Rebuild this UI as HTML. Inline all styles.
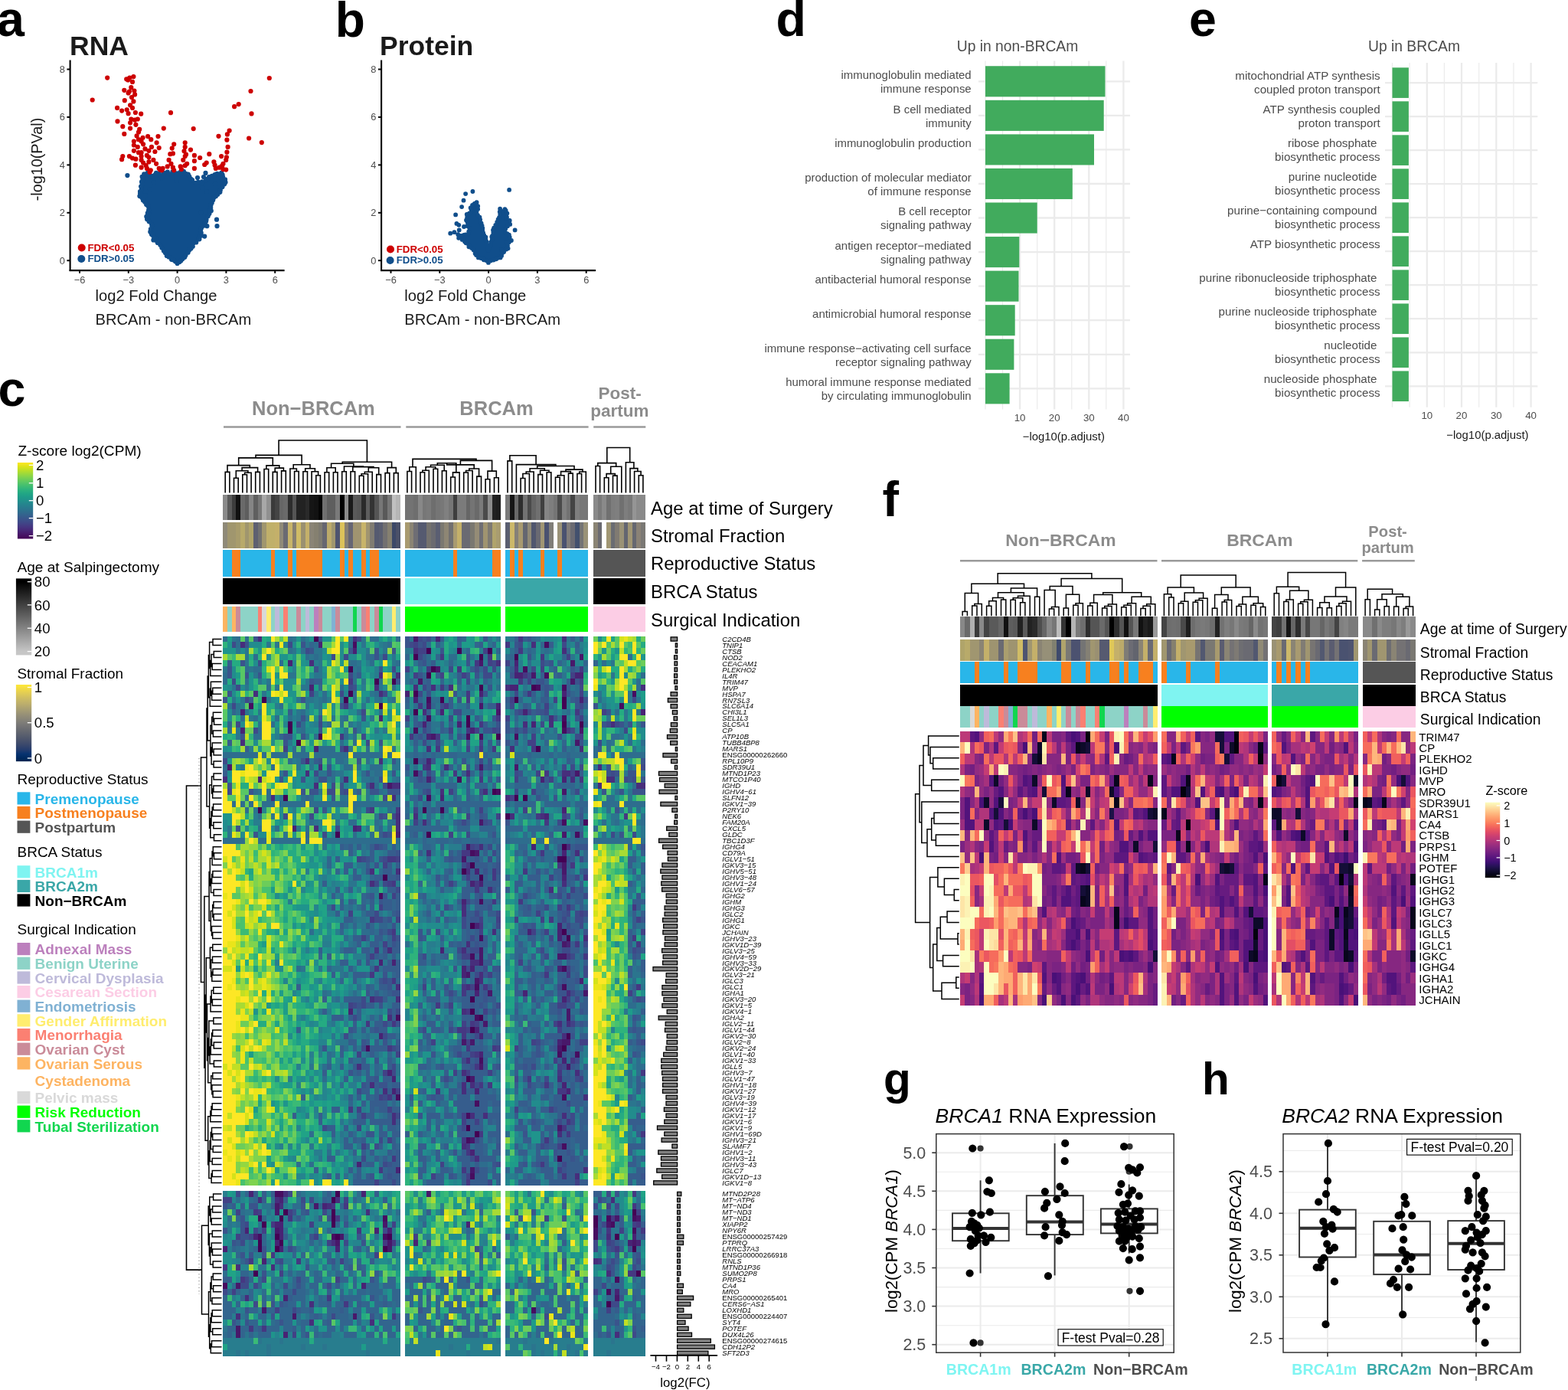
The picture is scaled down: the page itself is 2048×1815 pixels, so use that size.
<!DOCTYPE html>
<html><head><meta charset="utf-8"><title>Figure</title>
<style>html,body{margin:0;padding:0;background:#fff;} svg{display:block;} text{font-family:"Liberation Sans",Arial,sans-serif;}</style>
</head><body>
<svg xmlns="http://www.w3.org/2000/svg" width="2048" height="1815" viewBox="0 0 2048 1815" font-family="Liberation Sans, Arial, sans-serif">
<rect width="2048" height="1815" fill="#fff"/>
<text x="-4.0" y="47.2" font-size="64.5" font-weight="bold">a</text>
<text x="91.0" y="71.7" font-size="35.5" fill="#1a1a1a" font-weight="bold">RNA</text>
<text x="55.0" y="208.0" font-size="19.8" fill="#1a1a1a" text-anchor="middle" transform="rotate(-90 55 208)">-log10(PVal)</text>
<line x1="91.6" y1="78.5" x2="91.6" y2="354.1" stroke="#000" stroke-width="2.1" />
<line x1="90.6" y1="353.1" x2="371.6" y2="353.1" stroke="#000" stroke-width="2.1" />
<line x1="87.4" y1="340.2" x2="91.6" y2="340.2" stroke="#000" stroke-width="2" />
<text x="84.8" y="344.7" font-size="12.8" fill="#4d4d4d" text-anchor="end">0</text>
<line x1="87.4" y1="277.8" x2="91.6" y2="277.8" stroke="#000" stroke-width="2" />
<text x="84.8" y="282.3" font-size="12.8" fill="#4d4d4d" text-anchor="end">2</text>
<line x1="87.4" y1="215.4" x2="91.6" y2="215.4" stroke="#000" stroke-width="2" />
<text x="84.8" y="219.9" font-size="12.8" fill="#4d4d4d" text-anchor="end">4</text>
<line x1="87.4" y1="152.9" x2="91.6" y2="152.9" stroke="#000" stroke-width="2" />
<text x="84.8" y="157.4" font-size="12.8" fill="#4d4d4d" text-anchor="end">6</text>
<line x1="87.4" y1="90.5" x2="91.6" y2="90.5" stroke="#000" stroke-width="2" />
<text x="84.8" y="95.0" font-size="12.8" fill="#4d4d4d" text-anchor="end">8</text>
<line x1="104.0" y1="353.1" x2="104.0" y2="356.8" stroke="#000" stroke-width="2" />
<text x="104.0" y="370.2" font-size="12.8" fill="#4d4d4d" text-anchor="middle">−6</text>
<line x1="167.8" y1="353.1" x2="167.8" y2="356.8" stroke="#000" stroke-width="2" />
<text x="167.8" y="370.2" font-size="12.8" fill="#4d4d4d" text-anchor="middle">−3</text>
<line x1="231.6" y1="353.1" x2="231.6" y2="356.8" stroke="#000" stroke-width="2" />
<text x="231.6" y="370.2" font-size="12.8" fill="#4d4d4d" text-anchor="middle">0</text>
<line x1="295.4" y1="353.1" x2="295.4" y2="356.8" stroke="#000" stroke-width="2" />
<text x="295.4" y="370.2" font-size="12.8" fill="#4d4d4d" text-anchor="middle">3</text>
<line x1="359.2" y1="353.1" x2="359.2" y2="356.8" stroke="#000" stroke-width="2" />
<text x="359.2" y="370.2" font-size="12.8" fill="#4d4d4d" text-anchor="middle">6</text>
<text x="204.0" y="393.3" font-size="19.6" fill="#1a1a1a" text-anchor="middle" textLength="159" lengthAdjust="spacingAndGlyphs">log2 Fold Change</text>
<text x="226.4" y="423.6" font-size="19.6" fill="#1a1a1a" text-anchor="middle" textLength="203.8" lengthAdjust="spacingAndGlyphs">BRCAm - non-BRCAm</text>
<path fill="#CD0000" d="M101.7 323.5a5.0 5.0 0 1 0 10.0 0a5.0 5.0 0 1 0 -10.0 0"/>
<path fill="#104E8B" d="M101.3 338.0a5.0 5.0 0 1 0 10.0 0a5.0 5.0 0 1 0 -10.0 0"/>
<text x="114.4" y="327.7" font-size="13.3" fill="#CD0000" font-weight="bold">FDR&lt;0.05</text>
<text x="114.4" y="342.4" font-size="13.3" fill="#104E8B" font-weight="bold">FDR&gt;0.05</text>
<path fill="#104E8B" d="M231.6 343.8 L224.0 338.0 L217.5 333.8 L210.4 320.6 L206.9 317.0 L201.6 308.3 L197.2 303.0 L198.1 292.5 L192.0 286.3 L192.0 279.3 L194.6 273.0 L189.3 263.4 L182.3 256.4 L184.9 244.0 L185.8 231.0 L188.4 226.4 L193.0 226.0 L197.0 231.0 L200.0 230.0 L204.0 225.5 L208.0 226.0 L212.0 232.0 L215.0 227.0 L219.0 225.0 L223.0 226.0 L226.0 224.5 L230.0 226.0 L231.5 236.0 L233.0 226.0 L236.0 224.5 L240.0 225.0 L243.0 226.5 L247.0 227.0 L251.0 236.0 L255.0 238.0 L259.0 238.0 L264.0 238.0 L268.0 236.0 L271.0 234.0 L276.0 230.0 L280.0 228.0 L284.0 227.0 L289.7 225.5 L294.1 237.9 L287.1 251.0 L277.4 261.6 L273.9 274.9 L270.3 286.3 L263.3 296.9 L261.5 310.0 L253.6 318.9 L245.7 330.3 L236.9 340.9Z"/>
<path fill="#104E8B" d="M228.5 344.0a3.1 3.1 0 1 0 6.2 0a3.1 3.1 0 1 0 -6.2 0M225.8 341.3a3.1 3.1 0 1 0 6.2 0a3.1 3.1 0 1 0 -6.2 0M223.2 339.3a3.1 3.1 0 1 0 6.2 0a3.1 3.1 0 1 0 -6.2 0M220.9 338.8a3.1 3.1 0 1 0 6.2 0a3.1 3.1 0 1 0 -6.2 0M217.4 335.5a3.1 3.1 0 1 0 6.2 0a3.1 3.1 0 1 0 -6.2 0M214.7 334.0a3.1 3.1 0 1 0 6.2 0a3.1 3.1 0 1 0 -6.2 0M212.7 329.9a3.1 3.1 0 1 0 6.2 0a3.1 3.1 0 1 0 -6.2 0M210.8 327.6a3.1 3.1 0 1 0 6.2 0a3.1 3.1 0 1 0 -6.2 0M208.3 323.6a3.1 3.1 0 1 0 6.2 0a3.1 3.1 0 1 0 -6.2 0M206.2 319.8a3.1 3.1 0 1 0 6.2 0a3.1 3.1 0 1 0 -6.2 0M202.7 316.9a3.1 3.1 0 1 0 6.2 0a3.1 3.1 0 1 0 -6.2 0M201.3 314.3a3.1 3.1 0 1 0 6.2 0a3.1 3.1 0 1 0 -6.2 0M200.4 311.1a3.1 3.1 0 1 0 6.2 0a3.1 3.1 0 1 0 -6.2 0M197.0 308.0a3.1 3.1 0 1 0 6.2 0a3.1 3.1 0 1 0 -6.2 0M196.3 305.7a3.1 3.1 0 1 0 6.2 0a3.1 3.1 0 1 0 -6.2 0M193.2 302.7a3.1 3.1 0 1 0 6.2 0a3.1 3.1 0 1 0 -6.2 0M193.8 299.0a3.1 3.1 0 1 0 6.2 0a3.1 3.1 0 1 0 -6.2 0M195.3 295.5a3.1 3.1 0 1 0 6.2 0a3.1 3.1 0 1 0 -6.2 0M195.0 293.0a3.1 3.1 0 1 0 6.2 0a3.1 3.1 0 1 0 -6.2 0M191.6 289.3a3.1 3.1 0 1 0 6.2 0a3.1 3.1 0 1 0 -6.2 0M189.0 286.3a3.1 3.1 0 1 0 6.2 0a3.1 3.1 0 1 0 -6.2 0M188.2 282.8a3.1 3.1 0 1 0 6.2 0a3.1 3.1 0 1 0 -6.2 0M189.7 278.4a3.1 3.1 0 1 0 6.2 0a3.1 3.1 0 1 0 -6.2 0M190.7 276.2a3.1 3.1 0 1 0 6.2 0a3.1 3.1 0 1 0 -6.2 0M191.1 274.2a3.1 3.1 0 1 0 6.2 0a3.1 3.1 0 1 0 -6.2 0M190.2 269.1a3.1 3.1 0 1 0 6.2 0a3.1 3.1 0 1 0 -6.2 0M188.0 266.9a3.1 3.1 0 1 0 6.2 0a3.1 3.1 0 1 0 -6.2 0M186.1 263.8a3.1 3.1 0 1 0 6.2 0a3.1 3.1 0 1 0 -6.2 0M183.8 261.5a3.1 3.1 0 1 0 6.2 0a3.1 3.1 0 1 0 -6.2 0M182.4 258.3a3.1 3.1 0 1 0 6.2 0a3.1 3.1 0 1 0 -6.2 0M179.3 256.1a3.1 3.1 0 1 0 6.2 0a3.1 3.1 0 1 0 -6.2 0M179.9 252.6a3.1 3.1 0 1 0 6.2 0a3.1 3.1 0 1 0 -6.2 0M180.2 250.1a3.1 3.1 0 1 0 6.2 0a3.1 3.1 0 1 0 -6.2 0M181.7 247.8a3.1 3.1 0 1 0 6.2 0a3.1 3.1 0 1 0 -6.2 0M181.0 243.5a3.1 3.1 0 1 0 6.2 0a3.1 3.1 0 1 0 -6.2 0M182.4 239.6a3.1 3.1 0 1 0 6.2 0a3.1 3.1 0 1 0 -6.2 0M182.0 237.4a3.1 3.1 0 1 0 6.2 0a3.1 3.1 0 1 0 -6.2 0M183.2 234.7a3.1 3.1 0 1 0 6.2 0a3.1 3.1 0 1 0 -6.2 0M182.5 230.8a3.1 3.1 0 1 0 6.2 0a3.1 3.1 0 1 0 -6.2 0M185.1 227.3a3.1 3.1 0 1 0 6.2 0a3.1 3.1 0 1 0 -6.2 0M189.6 225.8a3.1 3.1 0 1 0 6.2 0a3.1 3.1 0 1 0 -6.2 0M192.1 228.4a3.1 3.1 0 1 0 6.2 0a3.1 3.1 0 1 0 -6.2 0M193.8 230.3a3.1 3.1 0 1 0 6.2 0a3.1 3.1 0 1 0 -6.2 0M196.9 229.7a3.1 3.1 0 1 0 6.2 0a3.1 3.1 0 1 0 -6.2 0M199.6 228.1a3.1 3.1 0 1 0 6.2 0a3.1 3.1 0 1 0 -6.2 0M200.9 225.9a3.1 3.1 0 1 0 6.2 0a3.1 3.1 0 1 0 -6.2 0M204.7 226.6a3.1 3.1 0 1 0 6.2 0a3.1 3.1 0 1 0 -6.2 0M206.9 229.4a3.1 3.1 0 1 0 6.2 0a3.1 3.1 0 1 0 -6.2 0M208.1 232.2a3.1 3.1 0 1 0 6.2 0a3.1 3.1 0 1 0 -6.2 0M210.9 225.8a3.1 3.1 0 1 0 6.2 0a3.1 3.1 0 1 0 -6.2 0M215.7 224.5a3.1 3.1 0 1 0 6.2 0a3.1 3.1 0 1 0 -6.2 0M220.0 227.3a3.1 3.1 0 1 0 6.2 0a3.1 3.1 0 1 0 -6.2 0M222.4 224.1a3.1 3.1 0 1 0 6.2 0a3.1 3.1 0 1 0 -6.2 0M227.0 226.3a3.1 3.1 0 1 0 6.2 0a3.1 3.1 0 1 0 -6.2 0M227.3 229.2a3.1 3.1 0 1 0 6.2 0a3.1 3.1 0 1 0 -6.2 0M228.3 233.0a3.1 3.1 0 1 0 6.2 0a3.1 3.1 0 1 0 -6.2 0M227.8 236.0a3.1 3.1 0 1 0 6.2 0a3.1 3.1 0 1 0 -6.2 0M228.9 232.0a3.1 3.1 0 1 0 6.2 0a3.1 3.1 0 1 0 -6.2 0M229.6 228.8a3.1 3.1 0 1 0 6.2 0a3.1 3.1 0 1 0 -6.2 0M230.5 226.1a3.1 3.1 0 1 0 6.2 0a3.1 3.1 0 1 0 -6.2 0M233.0 224.1a3.1 3.1 0 1 0 6.2 0a3.1 3.1 0 1 0 -6.2 0M236.8 223.8a3.1 3.1 0 1 0 6.2 0a3.1 3.1 0 1 0 -6.2 0M239.2 226.7a3.1 3.1 0 1 0 6.2 0a3.1 3.1 0 1 0 -6.2 0M242.6 227.5a3.1 3.1 0 1 0 6.2 0a3.1 3.1 0 1 0 -6.2 0M244.2 230.5a3.1 3.1 0 1 0 6.2 0a3.1 3.1 0 1 0 -6.2 0M246.1 233.5a3.1 3.1 0 1 0 6.2 0a3.1 3.1 0 1 0 -6.2 0M248.0 235.1a3.1 3.1 0 1 0 6.2 0a3.1 3.1 0 1 0 -6.2 0M252.6 238.9a3.1 3.1 0 1 0 6.2 0a3.1 3.1 0 1 0 -6.2 0M255.9 237.8a3.1 3.1 0 1 0 6.2 0a3.1 3.1 0 1 0 -6.2 0M260.8 237.4a3.1 3.1 0 1 0 6.2 0a3.1 3.1 0 1 0 -6.2 0M265.6 235.7a3.1 3.1 0 1 0 6.2 0a3.1 3.1 0 1 0 -6.2 0M267.9 233.5a3.1 3.1 0 1 0 6.2 0a3.1 3.1 0 1 0 -6.2 0M270.0 231.2a3.1 3.1 0 1 0 6.2 0a3.1 3.1 0 1 0 -6.2 0M273.7 229.9a3.1 3.1 0 1 0 6.2 0a3.1 3.1 0 1 0 -6.2 0M277.5 228.0a3.1 3.1 0 1 0 6.2 0a3.1 3.1 0 1 0 -6.2 0M280.5 226.8a3.1 3.1 0 1 0 6.2 0a3.1 3.1 0 1 0 -6.2 0M286.3 225.5a3.1 3.1 0 1 0 6.2 0a3.1 3.1 0 1 0 -6.2 0M287.5 228.4a3.1 3.1 0 1 0 6.2 0a3.1 3.1 0 1 0 -6.2 0M288.0 231.2a3.1 3.1 0 1 0 6.2 0a3.1 3.1 0 1 0 -6.2 0M290.9 234.4a3.1 3.1 0 1 0 6.2 0a3.1 3.1 0 1 0 -6.2 0M290.4 238.1a3.1 3.1 0 1 0 6.2 0a3.1 3.1 0 1 0 -6.2 0M290.1 240.3a3.1 3.1 0 1 0 6.2 0a3.1 3.1 0 1 0 -6.2 0M287.4 244.1a3.1 3.1 0 1 0 6.2 0a3.1 3.1 0 1 0 -6.2 0M284.7 248.2a3.1 3.1 0 1 0 6.2 0a3.1 3.1 0 1 0 -6.2 0M284.0 251.0a3.1 3.1 0 1 0 6.2 0a3.1 3.1 0 1 0 -6.2 0M281.1 253.9a3.1 3.1 0 1 0 6.2 0a3.1 3.1 0 1 0 -6.2 0M278.8 256.2a3.1 3.1 0 1 0 6.2 0a3.1 3.1 0 1 0 -6.2 0M276.1 258.2a3.1 3.1 0 1 0 6.2 0a3.1 3.1 0 1 0 -6.2 0M275.1 261.3a3.1 3.1 0 1 0 6.2 0a3.1 3.1 0 1 0 -6.2 0M273.6 264.9a3.1 3.1 0 1 0 6.2 0a3.1 3.1 0 1 0 -6.2 0M272.3 267.9a3.1 3.1 0 1 0 6.2 0a3.1 3.1 0 1 0 -6.2 0M272.1 271.4a3.1 3.1 0 1 0 6.2 0a3.1 3.1 0 1 0 -6.2 0M270.7 274.9a3.1 3.1 0 1 0 6.2 0a3.1 3.1 0 1 0 -6.2 0M270.3 279.1a3.1 3.1 0 1 0 6.2 0a3.1 3.1 0 1 0 -6.2 0M268.6 282.2a3.1 3.1 0 1 0 6.2 0a3.1 3.1 0 1 0 -6.2 0M266.4 286.9a3.1 3.1 0 1 0 6.2 0a3.1 3.1 0 1 0 -6.2 0M266.0 288.9a3.1 3.1 0 1 0 6.2 0a3.1 3.1 0 1 0 -6.2 0M264.0 292.1a3.1 3.1 0 1 0 6.2 0a3.1 3.1 0 1 0 -6.2 0M262.4 294.8a3.1 3.1 0 1 0 6.2 0a3.1 3.1 0 1 0 -6.2 0M259.9 297.8a3.1 3.1 0 1 0 6.2 0a3.1 3.1 0 1 0 -6.2 0M259.0 300.7a3.1 3.1 0 1 0 6.2 0a3.1 3.1 0 1 0 -6.2 0M259.6 304.0a3.1 3.1 0 1 0 6.2 0a3.1 3.1 0 1 0 -6.2 0M260.0 307.6a3.1 3.1 0 1 0 6.2 0a3.1 3.1 0 1 0 -6.2 0M257.7 309.0a3.1 3.1 0 1 0 6.2 0a3.1 3.1 0 1 0 -6.2 0M256.3 312.4a3.1 3.1 0 1 0 6.2 0a3.1 3.1 0 1 0 -6.2 0M253.1 316.4a3.1 3.1 0 1 0 6.2 0a3.1 3.1 0 1 0 -6.2 0M249.5 317.6a3.1 3.1 0 1 0 6.2 0a3.1 3.1 0 1 0 -6.2 0M248.7 321.8a3.1 3.1 0 1 0 6.2 0a3.1 3.1 0 1 0 -6.2 0M246.4 324.6a3.1 3.1 0 1 0 6.2 0a3.1 3.1 0 1 0 -6.2 0M244.1 326.5a3.1 3.1 0 1 0 6.2 0a3.1 3.1 0 1 0 -6.2 0M242.5 329.7a3.1 3.1 0 1 0 6.2 0a3.1 3.1 0 1 0 -6.2 0M239.4 333.3a3.1 3.1 0 1 0 6.2 0a3.1 3.1 0 1 0 -6.2 0M238.2 335.8a3.1 3.1 0 1 0 6.2 0a3.1 3.1 0 1 0 -6.2 0M235.4 337.9a3.1 3.1 0 1 0 6.2 0a3.1 3.1 0 1 0 -6.2 0M233.2 340.4a3.1 3.1 0 1 0 6.2 0a3.1 3.1 0 1 0 -6.2 0M231.3 341.9a3.1 3.1 0 1 0 6.2 0a3.1 3.1 0 1 0 -6.2 0M163.3 229.1a3.1 3.1 0 1 0 6.2 0a3.1 3.1 0 1 0 -6.2 0M265.4 225.9a3.1 3.1 0 1 0 6.2 0a3.1 3.1 0 1 0 -6.2 0M286.0 225.9a3.1 3.1 0 1 0 6.2 0a3.1 3.1 0 1 0 -6.2 0M291.4 238.1a3.1 3.1 0 1 0 6.2 0a3.1 3.1 0 1 0 -6.2 0M284.3 250.7a3.1 3.1 0 1 0 6.2 0a3.1 3.1 0 1 0 -6.2 0M267.3 295.2a3.1 3.1 0 1 0 6.2 0a3.1 3.1 0 1 0 -6.2 0M280.4 295.2a3.1 3.1 0 1 0 6.2 0a3.1 3.1 0 1 0 -6.2 0M272.7 275.3a3.1 3.1 0 1 0 6.2 0a3.1 3.1 0 1 0 -6.2 0M190.5 286.7a3.1 3.1 0 1 0 6.2 0a3.1 3.1 0 1 0 -6.2 0M191.3 279.4a3.1 3.1 0 1 0 6.2 0a3.1 3.1 0 1 0 -6.2 0M184.5 255.1a3.1 3.1 0 1 0 6.2 0a3.1 3.1 0 1 0 -6.2 0M181.5 247.8a3.1 3.1 0 1 0 6.2 0a3.1 3.1 0 1 0 -6.2 0M194.9 306.1a3.1 3.1 0 1 0 6.2 0a3.1 3.1 0 1 0 -6.2 0M197.3 313.4a3.1 3.1 0 1 0 6.2 0a3.1 3.1 0 1 0 -6.2 0M259.3 277.0a3.1 3.1 0 1 0 6.2 0a3.1 3.1 0 1 0 -6.2 0M279.9 286.7a3.1 3.1 0 1 0 6.2 0a3.1 3.1 0 1 0 -6.2 0M264.1 308.6a3.1 3.1 0 1 0 6.2 0a3.1 3.1 0 1 0 -6.2 0M257.3 312.2a3.1 3.1 0 1 0 6.2 0a3.1 3.1 0 1 0 -6.2 0M184.9 229.0a3.1 3.1 0 1 0 6.2 0a3.1 3.1 0 1 0 -6.2 0M188.9 227.5a3.1 3.1 0 1 0 6.2 0a3.1 3.1 0 1 0 -6.2 0M200.9 228.5a3.1 3.1 0 1 0 6.2 0a3.1 3.1 0 1 0 -6.2 0M210.9 228.0a3.1 3.1 0 1 0 6.2 0a3.1 3.1 0 1 0 -6.2 0M220.9 227.0a3.1 3.1 0 1 0 6.2 0a3.1 3.1 0 1 0 -6.2 0M232.9 227.0a3.1 3.1 0 1 0 6.2 0a3.1 3.1 0 1 0 -6.2 0M242.9 228.0a3.1 3.1 0 1 0 6.2 0a3.1 3.1 0 1 0 -6.2 0M254.9 232.0a3.1 3.1 0 1 0 6.2 0a3.1 3.1 0 1 0 -6.2 0M262.9 231.0a3.1 3.1 0 1 0 6.2 0a3.1 3.1 0 1 0 -6.2 0M276.9 229.0a3.1 3.1 0 1 0 6.2 0a3.1 3.1 0 1 0 -6.2 0M282.9 228.0a3.1 3.1 0 1 0 6.2 0a3.1 3.1 0 1 0 -6.2 0M182.9 240.0a3.1 3.1 0 1 0 6.2 0a3.1 3.1 0 1 0 -6.2 0M179.9 250.0a3.1 3.1 0 1 0 6.2 0a3.1 3.1 0 1 0 -6.2 0M186.9 255.0a3.1 3.1 0 1 0 6.2 0a3.1 3.1 0 1 0 -6.2 0M192.9 247.0a3.1 3.1 0 1 0 6.2 0a3.1 3.1 0 1 0 -6.2 0M197.9 238.0a3.1 3.1 0 1 0 6.2 0a3.1 3.1 0 1 0 -6.2 0M260.9 245.0a3.1 3.1 0 1 0 6.2 0a3.1 3.1 0 1 0 -6.2 0M266.9 250.0a3.1 3.1 0 1 0 6.2 0a3.1 3.1 0 1 0 -6.2 0M277.9 240.0a3.1 3.1 0 1 0 6.2 0a3.1 3.1 0 1 0 -6.2 0M286.9 235.0a3.1 3.1 0 1 0 6.2 0a3.1 3.1 0 1 0 -6.2 0"/>
<path fill="#CD0000" d="M137.1 101.6a3.1 3.1 0 1 0 6.2 0a3.1 3.1 0 1 0 -6.2 0M162.1 103.3a3.1 3.1 0 1 0 6.2 0a3.1 3.1 0 1 0 -6.2 0M166.2 101.6a3.1 3.1 0 1 0 6.2 0a3.1 3.1 0 1 0 -6.2 0M171.3 100.1a3.1 3.1 0 1 0 6.2 0a3.1 3.1 0 1 0 -6.2 0M348.7 102.0a3.1 3.1 0 1 0 6.2 0a3.1 3.1 0 1 0 -6.2 0M117.6 130.5a3.1 3.1 0 1 0 6.2 0a3.1 3.1 0 1 0 -6.2 0M159.2 117.8a3.1 3.1 0 1 0 6.2 0a3.1 3.1 0 1 0 -6.2 0M165.8 119.5a3.1 3.1 0 1 0 6.2 0a3.1 3.1 0 1 0 -6.2 0M172.3 118.6a3.1 3.1 0 1 0 6.2 0a3.1 3.1 0 1 0 -6.2 0M173.0 123.4a3.1 3.1 0 1 0 6.2 0a3.1 3.1 0 1 0 -6.2 0M168.9 127.1a3.1 3.1 0 1 0 6.2 0a3.1 3.1 0 1 0 -6.2 0M171.3 132.4a3.1 3.1 0 1 0 6.2 0a3.1 3.1 0 1 0 -6.2 0M167.0 137.3a3.1 3.1 0 1 0 6.2 0a3.1 3.1 0 1 0 -6.2 0M150.0 140.9a3.1 3.1 0 1 0 6.2 0a3.1 3.1 0 1 0 -6.2 0M156.0 144.6a3.1 3.1 0 1 0 6.2 0a3.1 3.1 0 1 0 -6.2 0M162.6 143.3a3.1 3.1 0 1 0 6.2 0a3.1 3.1 0 1 0 -6.2 0M169.9 140.9a3.1 3.1 0 1 0 6.2 0a3.1 3.1 0 1 0 -6.2 0M173.8 147.0a3.1 3.1 0 1 0 6.2 0a3.1 3.1 0 1 0 -6.2 0M181.1 148.7a3.1 3.1 0 1 0 6.2 0a3.1 3.1 0 1 0 -6.2 0M219.9 147.2a3.1 3.1 0 1 0 6.2 0a3.1 3.1 0 1 0 -6.2 0M303.0 139.2a3.1 3.1 0 1 0 6.2 0a3.1 3.1 0 1 0 -6.2 0M308.6 136.1a3.1 3.1 0 1 0 6.2 0a3.1 3.1 0 1 0 -6.2 0M324.4 119.0a3.1 3.1 0 1 0 6.2 0a3.1 3.1 0 1 0 -6.2 0M325.4 148.4a3.1 3.1 0 1 0 6.2 0a3.1 3.1 0 1 0 -6.2 0M150.4 158.4a3.1 3.1 0 1 0 6.2 0a3.1 3.1 0 1 0 -6.2 0M157.2 165.2a3.1 3.1 0 1 0 6.2 0a3.1 3.1 0 1 0 -6.2 0M167.0 160.3a3.1 3.1 0 1 0 6.2 0a3.1 3.1 0 1 0 -6.2 0M173.0 156.7a3.1 3.1 0 1 0 6.2 0a3.1 3.1 0 1 0 -6.2 0M176.7 155.5a3.1 3.1 0 1 0 6.2 0a3.1 3.1 0 1 0 -6.2 0M167.0 167.6a3.1 3.1 0 1 0 6.2 0a3.1 3.1 0 1 0 -6.2 0M174.3 162.8a3.1 3.1 0 1 0 6.2 0a3.1 3.1 0 1 0 -6.2 0M179.1 168.9a3.1 3.1 0 1 0 6.2 0a3.1 3.1 0 1 0 -6.2 0M159.2 174.9a3.1 3.1 0 1 0 6.2 0a3.1 3.1 0 1 0 -6.2 0M210.7 167.6a3.1 3.1 0 1 0 6.2 0a3.1 3.1 0 1 0 -6.2 0M249.6 168.1a3.1 3.1 0 1 0 6.2 0a3.1 3.1 0 1 0 -6.2 0M296.5 170.6a3.1 3.1 0 1 0 6.2 0a3.1 3.1 0 1 0 -6.2 0M293.8 175.4a3.1 3.1 0 1 0 6.2 0a3.1 3.1 0 1 0 -6.2 0M282.4 177.8a3.1 3.1 0 1 0 6.2 0a3.1 3.1 0 1 0 -6.2 0M293.3 182.7a3.1 3.1 0 1 0 6.2 0a3.1 3.1 0 1 0 -6.2 0M322.0 180.5a3.1 3.1 0 1 0 6.2 0a3.1 3.1 0 1 0 -6.2 0M338.7 186.1a3.1 3.1 0 1 0 6.2 0a3.1 3.1 0 1 0 -6.2 0M171.8 184.6a3.1 3.1 0 1 0 6.2 0a3.1 3.1 0 1 0 -6.2 0M177.9 182.2a3.1 3.1 0 1 0 6.2 0a3.1 3.1 0 1 0 -6.2 0M183.5 179.8a3.1 3.1 0 1 0 6.2 0a3.1 3.1 0 1 0 -6.2 0M190.0 178.1a3.1 3.1 0 1 0 6.2 0a3.1 3.1 0 1 0 -6.2 0M194.2 182.2a3.1 3.1 0 1 0 6.2 0a3.1 3.1 0 1 0 -6.2 0M203.4 178.1a3.1 3.1 0 1 0 6.2 0a3.1 3.1 0 1 0 -6.2 0M201.5 186.3a3.1 3.1 0 1 0 6.2 0a3.1 3.1 0 1 0 -6.2 0M224.1 188.3a3.1 3.1 0 1 0 6.2 0a3.1 3.1 0 1 0 -6.2 0M238.6 186.3a3.1 3.1 0 1 0 6.2 0a3.1 3.1 0 1 0 -6.2 0M184.0 188.3a3.1 3.1 0 1 0 6.2 0a3.1 3.1 0 1 0 -6.2 0M171.8 189.5a3.1 3.1 0 1 0 6.2 0a3.1 3.1 0 1 0 -6.2 0M176.7 191.9a3.1 3.1 0 1 0 6.2 0a3.1 3.1 0 1 0 -6.2 0M204.6 193.1a3.1 3.1 0 1 0 6.2 0a3.1 3.1 0 1 0 -6.2 0M245.9 195.6a3.1 3.1 0 1 0 6.2 0a3.1 3.1 0 1 0 -6.2 0M221.6 193.6a3.1 3.1 0 1 0 6.2 0a3.1 3.1 0 1 0 -6.2 0M238.6 191.9a3.1 3.1 0 1 0 6.2 0a3.1 3.1 0 1 0 -6.2 0M171.8 196.8a3.1 3.1 0 1 0 6.2 0a3.1 3.1 0 1 0 -6.2 0M181.5 199.2a3.1 3.1 0 1 0 6.2 0a3.1 3.1 0 1 0 -6.2 0M188.8 202.9a3.1 3.1 0 1 0 6.2 0a3.1 3.1 0 1 0 -6.2 0M157.2 204.1a3.1 3.1 0 1 0 6.2 0a3.1 3.1 0 1 0 -6.2 0M165.8 204.1a3.1 3.1 0 1 0 6.2 0a3.1 3.1 0 1 0 -6.2 0M169.9 206.5a3.1 3.1 0 1 0 6.2 0a3.1 3.1 0 1 0 -6.2 0M199.3 198.0a3.1 3.1 0 1 0 6.2 0a3.1 3.1 0 1 0 -6.2 0M270.2 201.2a3.1 3.1 0 1 0 6.2 0a3.1 3.1 0 1 0 -6.2 0M250.8 202.9a3.1 3.1 0 1 0 6.2 0a3.1 3.1 0 1 0 -6.2 0M258.1 206.0a3.1 3.1 0 1 0 6.2 0a3.1 3.1 0 1 0 -6.2 0M286.0 204.1a3.1 3.1 0 1 0 6.2 0a3.1 3.1 0 1 0 -6.2 0M292.8 205.3a3.1 3.1 0 1 0 6.2 0a3.1 3.1 0 1 0 -6.2 0M293.3 198.7a3.1 3.1 0 1 0 6.2 0a3.1 3.1 0 1 0 -6.2 0M156.0 208.2a3.1 3.1 0 1 0 6.2 0a3.1 3.1 0 1 0 -6.2 0M174.3 207.7a3.1 3.1 0 1 0 6.2 0a3.1 3.1 0 1 0 -6.2 0M181.5 208.9a3.1 3.1 0 1 0 6.2 0a3.1 3.1 0 1 0 -6.2 0M191.3 205.3a3.1 3.1 0 1 0 6.2 0a3.1 3.1 0 1 0 -6.2 0M184.0 212.6a3.1 3.1 0 1 0 6.2 0a3.1 3.1 0 1 0 -6.2 0M187.6 216.2a3.1 3.1 0 1 0 6.2 0a3.1 3.1 0 1 0 -6.2 0M191.3 211.4a3.1 3.1 0 1 0 6.2 0a3.1 3.1 0 1 0 -6.2 0M219.2 201.2a3.1 3.1 0 1 0 6.2 0a3.1 3.1 0 1 0 -6.2 0M222.8 200.4a3.1 3.1 0 1 0 6.2 0a3.1 3.1 0 1 0 -6.2 0M217.5 208.9a3.1 3.1 0 1 0 6.2 0a3.1 3.1 0 1 0 -6.2 0M238.6 204.1a3.1 3.1 0 1 0 6.2 0a3.1 3.1 0 1 0 -6.2 0M236.2 208.9a3.1 3.1 0 1 0 6.2 0a3.1 3.1 0 1 0 -6.2 0M250.8 210.2a3.1 3.1 0 1 0 6.2 0a3.1 3.1 0 1 0 -6.2 0M276.3 211.4a3.1 3.1 0 1 0 6.2 0a3.1 3.1 0 1 0 -6.2 0M292.1 208.9a3.1 3.1 0 1 0 6.2 0a3.1 3.1 0 1 0 -6.2 0M266.6 212.6a3.1 3.1 0 1 0 6.2 0a3.1 3.1 0 1 0 -6.2 0M264.1 215.0a3.1 3.1 0 1 0 6.2 0a3.1 3.1 0 1 0 -6.2 0M173.8 215.7a3.1 3.1 0 1 0 6.2 0a3.1 3.1 0 1 0 -6.2 0M181.5 218.7a3.1 3.1 0 1 0 6.2 0a3.1 3.1 0 1 0 -6.2 0M188.8 219.9a3.1 3.1 0 1 0 6.2 0a3.1 3.1 0 1 0 -6.2 0M193.7 222.3a3.1 3.1 0 1 0 6.2 0a3.1 3.1 0 1 0 -6.2 0M204.6 219.9a3.1 3.1 0 1 0 6.2 0a3.1 3.1 0 1 0 -6.2 0M209.5 219.9a3.1 3.1 0 1 0 6.2 0a3.1 3.1 0 1 0 -6.2 0M215.6 217.4a3.1 3.1 0 1 0 6.2 0a3.1 3.1 0 1 0 -6.2 0M222.8 218.7a3.1 3.1 0 1 0 6.2 0a3.1 3.1 0 1 0 -6.2 0M232.6 217.4a3.1 3.1 0 1 0 6.2 0a3.1 3.1 0 1 0 -6.2 0M238.6 216.2a3.1 3.1 0 1 0 6.2 0a3.1 3.1 0 1 0 -6.2 0M241.1 213.8a3.1 3.1 0 1 0 6.2 0a3.1 3.1 0 1 0 -6.2 0M250.8 219.9a3.1 3.1 0 1 0 6.2 0a3.1 3.1 0 1 0 -6.2 0M277.5 215.7a3.1 3.1 0 1 0 6.2 0a3.1 3.1 0 1 0 -6.2 0M287.2 216.2a3.1 3.1 0 1 0 6.2 0a3.1 3.1 0 1 0 -6.2 0M278.7 219.9a3.1 3.1 0 1 0 6.2 0a3.1 3.1 0 1 0 -6.2 0M288.4 221.1a3.1 3.1 0 1 0 6.2 0a3.1 3.1 0 1 0 -6.2 0M292.1 221.6a3.1 3.1 0 1 0 6.2 0a3.1 3.1 0 1 0 -6.2 0M208.3 222.3a3.1 3.1 0 1 0 6.2 0a3.1 3.1 0 1 0 -6.2 0M192.5 224.7a3.1 3.1 0 1 0 6.2 0a3.1 3.1 0 1 0 -6.2 0M205.8 221.6a3.1 3.1 0 1 0 6.2 0a3.1 3.1 0 1 0 -6.2 0M224.1 222.3a3.1 3.1 0 1 0 6.2 0a3.1 3.1 0 1 0 -6.2 0M233.8 221.1a3.1 3.1 0 1 0 6.2 0a3.1 3.1 0 1 0 -6.2 0M164.5 121.5a3.1 3.1 0 1 0 6.2 0a3.1 3.1 0 1 0 -6.2 0M168.2 114.2a3.1 3.1 0 1 0 6.2 0a3.1 3.1 0 1 0 -6.2 0M169.9 106.9a3.1 3.1 0 1 0 6.2 0a3.1 3.1 0 1 0 -6.2 0M164.1 104.5a3.1 3.1 0 1 0 6.2 0a3.1 3.1 0 1 0 -6.2 0M159.7 131.2a3.1 3.1 0 1 0 6.2 0a3.1 3.1 0 1 0 -6.2 0M164.5 148.2a3.1 3.1 0 1 0 6.2 0a3.1 3.1 0 1 0 -6.2 0M168.2 155.5a3.1 3.1 0 1 0 6.2 0a3.1 3.1 0 1 0 -6.2 0M177.9 172.5a3.1 3.1 0 1 0 6.2 0a3.1 3.1 0 1 0 -6.2 0M181.5 184.6a3.1 3.1 0 1 0 6.2 0a3.1 3.1 0 1 0 -6.2 0M175.5 177.4a3.1 3.1 0 1 0 6.2 0a3.1 3.1 0 1 0 -6.2 0M186.4 194.4a3.1 3.1 0 1 0 6.2 0a3.1 3.1 0 1 0 -6.2 0M194.9 191.9a3.1 3.1 0 1 0 6.2 0a3.1 3.1 0 1 0 -6.2 0M191.3 196.8a3.1 3.1 0 1 0 6.2 0a3.1 3.1 0 1 0 -6.2 0M197.3 208.9a3.1 3.1 0 1 0 6.2 0a3.1 3.1 0 1 0 -6.2 0M201.0 213.8a3.1 3.1 0 1 0 6.2 0a3.1 3.1 0 1 0 -6.2 0M181.5 204.1a3.1 3.1 0 1 0 6.2 0a3.1 3.1 0 1 0 -6.2 0M177.9 199.2a3.1 3.1 0 1 0 6.2 0a3.1 3.1 0 1 0 -6.2 0M237.4 197.3a3.1 3.1 0 1 0 6.2 0a3.1 3.1 0 1 0 -6.2 0M239.9 201.7a3.1 3.1 0 1 0 6.2 0a3.1 3.1 0 1 0 -6.2 0M220.4 213.8a3.1 3.1 0 1 0 6.2 0a3.1 3.1 0 1 0 -6.2 0M294.5 191.9a3.1 3.1 0 1 0 6.2 0a3.1 3.1 0 1 0 -6.2 0M288.4 213.8a3.1 3.1 0 1 0 6.2 0a3.1 3.1 0 1 0 -6.2 0M283.6 218.7a3.1 3.1 0 1 0 6.2 0a3.1 3.1 0 1 0 -6.2 0"/>
<text x="437.8" y="47.5" font-size="64.0" font-weight="bold">b</text>
<text x="496.0" y="72.2" font-size="35.5" fill="#1a1a1a" font-weight="bold">Protein</text>
<line x1="498.1" y1="78.5" x2="498.1" y2="354.1" stroke="#000" stroke-width="2.1" />
<line x1="497.1" y1="353.1" x2="778.1" y2="353.1" stroke="#000" stroke-width="2.1" />
<line x1="493.9" y1="340.2" x2="498.1" y2="340.2" stroke="#000" stroke-width="2" />
<text x="491.3" y="344.7" font-size="12.8" fill="#4d4d4d" text-anchor="end">0</text>
<line x1="493.9" y1="277.8" x2="498.1" y2="277.8" stroke="#000" stroke-width="2" />
<text x="491.3" y="282.3" font-size="12.8" fill="#4d4d4d" text-anchor="end">2</text>
<line x1="493.9" y1="215.4" x2="498.1" y2="215.4" stroke="#000" stroke-width="2" />
<text x="491.3" y="219.9" font-size="12.8" fill="#4d4d4d" text-anchor="end">4</text>
<line x1="493.9" y1="152.9" x2="498.1" y2="152.9" stroke="#000" stroke-width="2" />
<text x="491.3" y="157.4" font-size="12.8" fill="#4d4d4d" text-anchor="end">6</text>
<line x1="493.9" y1="90.5" x2="498.1" y2="90.5" stroke="#000" stroke-width="2" />
<text x="491.3" y="95.0" font-size="12.8" fill="#4d4d4d" text-anchor="end">8</text>
<line x1="510.5" y1="353.1" x2="510.5" y2="356.8" stroke="#000" stroke-width="2" />
<text x="510.5" y="370.2" font-size="12.8" fill="#4d4d4d" text-anchor="middle">−6</text>
<line x1="574.3" y1="353.1" x2="574.3" y2="356.8" stroke="#000" stroke-width="2" />
<text x="574.3" y="370.2" font-size="12.8" fill="#4d4d4d" text-anchor="middle">−3</text>
<line x1="638.1" y1="353.1" x2="638.1" y2="356.8" stroke="#000" stroke-width="2" />
<text x="638.1" y="370.2" font-size="12.8" fill="#4d4d4d" text-anchor="middle">0</text>
<line x1="701.9" y1="353.1" x2="701.9" y2="356.8" stroke="#000" stroke-width="2" />
<text x="701.9" y="370.2" font-size="12.8" fill="#4d4d4d" text-anchor="middle">3</text>
<line x1="765.7" y1="353.1" x2="765.7" y2="356.8" stroke="#000" stroke-width="2" />
<text x="765.7" y="370.2" font-size="12.8" fill="#4d4d4d" text-anchor="middle">6</text>
<text x="607.8" y="393.3" font-size="19.6" fill="#1a1a1a" text-anchor="middle" textLength="159" lengthAdjust="spacingAndGlyphs">log2 Fold Change</text>
<text x="630.2" y="423.6" font-size="19.6" fill="#1a1a1a" text-anchor="middle" textLength="203.8" lengthAdjust="spacingAndGlyphs">BRCAm - non-BRCAm</text>
<path fill="#CD0000" d="M505.0 325.5a5.0 5.0 0 1 0 10.0 0a5.0 5.0 0 1 0 -10.0 0"/>
<path fill="#104E8B" d="M504.6 340.0a5.0 5.0 0 1 0 10.0 0a5.0 5.0 0 1 0 -10.0 0"/>
<text x="517.7" y="329.7" font-size="13.3" fill="#CD0000" font-weight="bold">FDR&lt;0.05</text>
<text x="517.7" y="344.4" font-size="13.3" fill="#104E8B" font-weight="bold">FDR&gt;0.05</text>
<path fill="#104E8B" d="M637.7 342.7 L625.0 336.0 L616.5 325.0 L609.2 317.8 L603.7 312.9 L605.5 306.8 L611.6 305.6 L614.0 299.5 L610.4 294.7 L610.4 288.6 L609.8 280.1 L615.2 276.5 L616.5 267.3 L622.5 264.3 L624.3 269.2 L622.5 276.5 L626.2 283.7 L629.8 294.7 L631.6 303.8 L634.7 312.9 L638.3 327.5 L640.1 319.0 L642.6 309.9 L645.0 297.7 L649.3 289.8 L652.9 279.5 L654.1 273.4 L659.0 272.8 L662.6 278.9 L660.8 286.2 L666.3 288.0 L666.3 293.5 L659.6 298.3 L659.6 303.8 L665.1 306.8 L667.5 314.1 L662.0 317.2 L663.8 323.8 L655.9 331.1 L652.9 336.6 L646.8 338.4Z"/>
<path fill="#104E8B" d="M635.0 342.9a2.9 2.9 0 1 0 5.8 0a2.9 2.9 0 1 0 -5.8 0M632.6 340.3a2.9 2.9 0 1 0 5.8 0a2.9 2.9 0 1 0 -5.8 0M628.9 339.3a2.9 2.9 0 1 0 5.8 0a2.9 2.9 0 1 0 -5.8 0M625.3 337.0a2.9 2.9 0 1 0 5.8 0a2.9 2.9 0 1 0 -5.8 0M621.9 336.4a2.9 2.9 0 1 0 5.8 0a2.9 2.9 0 1 0 -5.8 0M619.9 333.3a2.9 2.9 0 1 0 5.8 0a2.9 2.9 0 1 0 -5.8 0M617.7 331.1a2.9 2.9 0 1 0 5.8 0a2.9 2.9 0 1 0 -5.8 0M615.7 326.6a2.9 2.9 0 1 0 5.8 0a2.9 2.9 0 1 0 -5.8 0M613.3 324.0a2.9 2.9 0 1 0 5.8 0a2.9 2.9 0 1 0 -5.8 0M609.5 322.3a2.9 2.9 0 1 0 5.8 0a2.9 2.9 0 1 0 -5.8 0M609.4 320.2a2.9 2.9 0 1 0 5.8 0a2.9 2.9 0 1 0 -5.8 0M605.7 317.3a2.9 2.9 0 1 0 5.8 0a2.9 2.9 0 1 0 -5.8 0M604.1 315.4a2.9 2.9 0 1 0 5.8 0a2.9 2.9 0 1 0 -5.8 0M600.8 312.9a2.9 2.9 0 1 0 5.8 0a2.9 2.9 0 1 0 -5.8 0M601.7 310.3a2.9 2.9 0 1 0 5.8 0a2.9 2.9 0 1 0 -5.8 0M602.9 306.9a2.9 2.9 0 1 0 5.8 0a2.9 2.9 0 1 0 -5.8 0M605.1 306.5a2.9 2.9 0 1 0 5.8 0a2.9 2.9 0 1 0 -5.8 0M608.4 306.1a2.9 2.9 0 1 0 5.8 0a2.9 2.9 0 1 0 -5.8 0M609.3 302.5a2.9 2.9 0 1 0 5.8 0a2.9 2.9 0 1 0 -5.8 0M611.1 298.8a2.9 2.9 0 1 0 5.8 0a2.9 2.9 0 1 0 -5.8 0M610.2 297.8a2.9 2.9 0 1 0 5.8 0a2.9 2.9 0 1 0 -5.8 0M607.3 295.1a2.9 2.9 0 1 0 5.8 0a2.9 2.9 0 1 0 -5.8 0M607.7 290.3a2.9 2.9 0 1 0 5.8 0a2.9 2.9 0 1 0 -5.8 0M607.6 288.6a2.9 2.9 0 1 0 5.8 0a2.9 2.9 0 1 0 -5.8 0M607.2 283.8a2.9 2.9 0 1 0 5.8 0a2.9 2.9 0 1 0 -5.8 0M606.8 280.0a2.9 2.9 0 1 0 5.8 0a2.9 2.9 0 1 0 -5.8 0M610.2 278.5a2.9 2.9 0 1 0 5.8 0a2.9 2.9 0 1 0 -5.8 0M612.3 277.3a2.9 2.9 0 1 0 5.8 0a2.9 2.9 0 1 0 -5.8 0M612.5 273.2a2.9 2.9 0 1 0 5.8 0a2.9 2.9 0 1 0 -5.8 0M612.3 271.2a2.9 2.9 0 1 0 5.8 0a2.9 2.9 0 1 0 -5.8 0M614.1 267.8a2.9 2.9 0 1 0 5.8 0a2.9 2.9 0 1 0 -5.8 0M616.9 265.9a2.9 2.9 0 1 0 5.8 0a2.9 2.9 0 1 0 -5.8 0M619.7 264.2a2.9 2.9 0 1 0 5.8 0a2.9 2.9 0 1 0 -5.8 0M621.3 269.2a2.9 2.9 0 1 0 5.8 0a2.9 2.9 0 1 0 -5.8 0M621.3 273.1a2.9 2.9 0 1 0 5.8 0a2.9 2.9 0 1 0 -5.8 0M619.6 276.2a2.9 2.9 0 1 0 5.8 0a2.9 2.9 0 1 0 -5.8 0M621.1 280.9a2.9 2.9 0 1 0 5.8 0a2.9 2.9 0 1 0 -5.8 0M623.6 283.7a2.9 2.9 0 1 0 5.8 0a2.9 2.9 0 1 0 -5.8 0M624.3 286.8a2.9 2.9 0 1 0 5.8 0a2.9 2.9 0 1 0 -5.8 0M625.7 291.5a2.9 2.9 0 1 0 5.8 0a2.9 2.9 0 1 0 -5.8 0M626.7 294.6a2.9 2.9 0 1 0 5.8 0a2.9 2.9 0 1 0 -5.8 0M627.4 297.8a2.9 2.9 0 1 0 5.8 0a2.9 2.9 0 1 0 -5.8 0M627.3 300.6a2.9 2.9 0 1 0 5.8 0a2.9 2.9 0 1 0 -5.8 0M628.3 304.2a2.9 2.9 0 1 0 5.8 0a2.9 2.9 0 1 0 -5.8 0M629.3 307.1a2.9 2.9 0 1 0 5.8 0a2.9 2.9 0 1 0 -5.8 0M631.5 309.7a2.9 2.9 0 1 0 5.8 0a2.9 2.9 0 1 0 -5.8 0M631.5 313.0a2.9 2.9 0 1 0 5.8 0a2.9 2.9 0 1 0 -5.8 0M632.5 315.3a2.9 2.9 0 1 0 5.8 0a2.9 2.9 0 1 0 -5.8 0M633.5 319.7a2.9 2.9 0 1 0 5.8 0a2.9 2.9 0 1 0 -5.8 0M633.8 321.6a2.9 2.9 0 1 0 5.8 0a2.9 2.9 0 1 0 -5.8 0M634.2 324.7a2.9 2.9 0 1 0 5.8 0a2.9 2.9 0 1 0 -5.8 0M634.8 326.9a2.9 2.9 0 1 0 5.8 0a2.9 2.9 0 1 0 -5.8 0M636.9 322.8a2.9 2.9 0 1 0 5.8 0a2.9 2.9 0 1 0 -5.8 0M637.7 319.8a2.9 2.9 0 1 0 5.8 0a2.9 2.9 0 1 0 -5.8 0M638.2 316.2a2.9 2.9 0 1 0 5.8 0a2.9 2.9 0 1 0 -5.8 0M639.8 312.8a2.9 2.9 0 1 0 5.8 0a2.9 2.9 0 1 0 -5.8 0M639.4 309.2a2.9 2.9 0 1 0 5.8 0a2.9 2.9 0 1 0 -5.8 0M640.3 307.6a2.9 2.9 0 1 0 5.8 0a2.9 2.9 0 1 0 -5.8 0M641.4 303.3a2.9 2.9 0 1 0 5.8 0a2.9 2.9 0 1 0 -5.8 0M641.1 300.5a2.9 2.9 0 1 0 5.8 0a2.9 2.9 0 1 0 -5.8 0M642.2 297.6a2.9 2.9 0 1 0 5.8 0a2.9 2.9 0 1 0 -5.8 0M644.4 293.9a2.9 2.9 0 1 0 5.8 0a2.9 2.9 0 1 0 -5.8 0M646.3 289.8a2.9 2.9 0 1 0 5.8 0a2.9 2.9 0 1 0 -5.8 0M647.7 286.3a2.9 2.9 0 1 0 5.8 0a2.9 2.9 0 1 0 -5.8 0M649.1 283.9a2.9 2.9 0 1 0 5.8 0a2.9 2.9 0 1 0 -5.8 0M650.3 279.5a2.9 2.9 0 1 0 5.8 0a2.9 2.9 0 1 0 -5.8 0M649.8 276.6a2.9 2.9 0 1 0 5.8 0a2.9 2.9 0 1 0 -5.8 0M650.2 272.7a2.9 2.9 0 1 0 5.8 0a2.9 2.9 0 1 0 -5.8 0M656.5 273.2a2.9 2.9 0 1 0 5.8 0a2.9 2.9 0 1 0 -5.8 0M657.8 275.0a2.9 2.9 0 1 0 5.8 0a2.9 2.9 0 1 0 -5.8 0M659.5 278.6a2.9 2.9 0 1 0 5.8 0a2.9 2.9 0 1 0 -5.8 0M659.1 283.7a2.9 2.9 0 1 0 5.8 0a2.9 2.9 0 1 0 -5.8 0M658.0 285.8a2.9 2.9 0 1 0 5.8 0a2.9 2.9 0 1 0 -5.8 0M662.8 288.0a2.9 2.9 0 1 0 5.8 0a2.9 2.9 0 1 0 -5.8 0M663.3 292.9a2.9 2.9 0 1 0 5.8 0a2.9 2.9 0 1 0 -5.8 0M660.1 295.3a2.9 2.9 0 1 0 5.8 0a2.9 2.9 0 1 0 -5.8 0M657.3 298.8a2.9 2.9 0 1 0 5.8 0a2.9 2.9 0 1 0 -5.8 0M657.2 303.6a2.9 2.9 0 1 0 5.8 0a2.9 2.9 0 1 0 -5.8 0M659.7 305.2a2.9 2.9 0 1 0 5.8 0a2.9 2.9 0 1 0 -5.8 0M662.0 306.6a2.9 2.9 0 1 0 5.8 0a2.9 2.9 0 1 0 -5.8 0M662.8 309.7a2.9 2.9 0 1 0 5.8 0a2.9 2.9 0 1 0 -5.8 0M665.0 314.0a2.9 2.9 0 1 0 5.8 0a2.9 2.9 0 1 0 -5.8 0M662.0 316.2a2.9 2.9 0 1 0 5.8 0a2.9 2.9 0 1 0 -5.8 0M658.2 316.8a2.9 2.9 0 1 0 5.8 0a2.9 2.9 0 1 0 -5.8 0M660.1 320.7a2.9 2.9 0 1 0 5.8 0a2.9 2.9 0 1 0 -5.8 0M660.7 324.3a2.9 2.9 0 1 0 5.8 0a2.9 2.9 0 1 0 -5.8 0M658.4 325.6a2.9 2.9 0 1 0 5.8 0a2.9 2.9 0 1 0 -5.8 0M655.2 329.1a2.9 2.9 0 1 0 5.8 0a2.9 2.9 0 1 0 -5.8 0M653.2 330.2a2.9 2.9 0 1 0 5.8 0a2.9 2.9 0 1 0 -5.8 0M652.2 334.1a2.9 2.9 0 1 0 5.8 0a2.9 2.9 0 1 0 -5.8 0M650.7 336.4a2.9 2.9 0 1 0 5.8 0a2.9 2.9 0 1 0 -5.8 0M646.8 336.9a2.9 2.9 0 1 0 5.8 0a2.9 2.9 0 1 0 -5.8 0M645.2 338.3a2.9 2.9 0 1 0 5.8 0a2.9 2.9 0 1 0 -5.8 0M641.7 339.5a2.9 2.9 0 1 0 5.8 0a2.9 2.9 0 1 0 -5.8 0M637.9 340.4a2.9 2.9 0 1 0 5.8 0a2.9 2.9 0 1 0 -5.8 0M614.5 250.0a2.9 2.9 0 1 0 5.8 0a2.9 2.9 0 1 0 -5.8 0M605.2 253.1a2.9 2.9 0 1 0 5.8 0a2.9 2.9 0 1 0 -5.8 0M662.2 247.9a2.9 2.9 0 1 0 5.8 0a2.9 2.9 0 1 0 -5.8 0M602.6 261.7a2.9 2.9 0 1 0 5.8 0a2.9 2.9 0 1 0 -5.8 0M600.2 270.1a2.9 2.9 0 1 0 5.8 0a2.9 2.9 0 1 0 -5.8 0M592.2 280.4a2.9 2.9 0 1 0 5.8 0a2.9 2.9 0 1 0 -5.8 0M593.5 291.9a2.9 2.9 0 1 0 5.8 0a2.9 2.9 0 1 0 -5.8 0M596.4 293.8a2.9 2.9 0 1 0 5.8 0a2.9 2.9 0 1 0 -5.8 0M596.8 300.4a2.9 2.9 0 1 0 5.8 0a2.9 2.9 0 1 0 -5.8 0M585.3 304.7a2.9 2.9 0 1 0 5.8 0a2.9 2.9 0 1 0 -5.8 0M590.5 303.2a2.9 2.9 0 1 0 5.8 0a2.9 2.9 0 1 0 -5.8 0M595.3 306.2a2.9 2.9 0 1 0 5.8 0a2.9 2.9 0 1 0 -5.8 0M596.2 310.8a2.9 2.9 0 1 0 5.8 0a2.9 2.9 0 1 0 -5.8 0M669.7 300.4a2.9 2.9 0 1 0 5.8 0a2.9 2.9 0 1 0 -5.8 0M663.1 314.0a2.9 2.9 0 1 0 5.8 0a2.9 2.9 0 1 0 -5.8 0M611.7 271.3a2.9 2.9 0 1 0 5.8 0a2.9 2.9 0 1 0 -5.8 0M608.7 279.8a2.9 2.9 0 1 0 5.8 0a2.9 2.9 0 1 0 -5.8 0M606.1 287.5a2.9 2.9 0 1 0 5.8 0a2.9 2.9 0 1 0 -5.8 0M603.1 296.0a2.9 2.9 0 1 0 5.8 0a2.9 2.9 0 1 0 -5.8 0M599.1 308.0a2.9 2.9 0 1 0 5.8 0a2.9 2.9 0 1 0 -5.8 0M652.1 326.0a2.9 2.9 0 1 0 5.8 0a2.9 2.9 0 1 0 -5.8 0M629.1 338.0a2.9 2.9 0 1 0 5.8 0a2.9 2.9 0 1 0 -5.8 0M619.1 333.0a2.9 2.9 0 1 0 5.8 0a2.9 2.9 0 1 0 -5.8 0"/>
<text x="1013.5" y="47.0" font-size="64.5" font-weight="bold">d</text>
<text x="1329.0" y="67.2" font-size="19.3" fill="#4d4d4d" text-anchor="middle">Up in non-BRCAm</text>
<line x1="1287.0" y1="79.6" x2="1287.0" y2="534.4" stroke="#EBEBEB" stroke-width="1.2" />
<line x1="1309.5" y1="79.6" x2="1309.5" y2="534.4" stroke="#EBEBEB" stroke-width="1.2" />
<line x1="1332.1" y1="79.6" x2="1332.1" y2="534.4" stroke="#EBEBEB" stroke-width="2.3" />
<line x1="1354.7" y1="79.6" x2="1354.7" y2="534.4" stroke="#EBEBEB" stroke-width="1.2" />
<line x1="1377.2" y1="79.6" x2="1377.2" y2="534.4" stroke="#EBEBEB" stroke-width="2.3" />
<line x1="1399.8" y1="79.6" x2="1399.8" y2="534.4" stroke="#EBEBEB" stroke-width="1.2" />
<line x1="1422.3" y1="79.6" x2="1422.3" y2="534.4" stroke="#EBEBEB" stroke-width="2.3" />
<line x1="1444.8" y1="79.6" x2="1444.8" y2="534.4" stroke="#EBEBEB" stroke-width="1.2" />
<line x1="1467.4" y1="79.6" x2="1467.4" y2="534.4" stroke="#EBEBEB" stroke-width="2.3" />
<line x1="1278.0" y1="106.3" x2="1476.0" y2="106.3" stroke="#EBEBEB" stroke-width="2.3" />
<line x1="1278.0" y1="150.9" x2="1476.0" y2="150.9" stroke="#EBEBEB" stroke-width="2.3" />
<line x1="1278.0" y1="195.4" x2="1476.0" y2="195.4" stroke="#EBEBEB" stroke-width="2.3" />
<line x1="1278.0" y1="240.0" x2="1476.0" y2="240.0" stroke="#EBEBEB" stroke-width="2.3" />
<line x1="1278.0" y1="284.5" x2="1476.0" y2="284.5" stroke="#EBEBEB" stroke-width="2.3" />
<line x1="1278.0" y1="329.1" x2="1476.0" y2="329.1" stroke="#EBEBEB" stroke-width="2.3" />
<line x1="1278.0" y1="373.7" x2="1476.0" y2="373.7" stroke="#EBEBEB" stroke-width="2.3" />
<line x1="1278.0" y1="418.2" x2="1476.0" y2="418.2" stroke="#EBEBEB" stroke-width="2.3" />
<line x1="1278.0" y1="462.8" x2="1476.0" y2="462.8" stroke="#EBEBEB" stroke-width="2.3" />
<line x1="1278.0" y1="507.3" x2="1476.0" y2="507.3" stroke="#EBEBEB" stroke-width="2.3" />
<rect x="1287.00" y="86.25" width="156.50" height="40.10" fill="#41AB5D" />
<rect x="1287.00" y="130.81" width="154.70" height="40.10" fill="#41AB5D" />
<rect x="1287.00" y="175.37" width="142.00" height="40.10" fill="#41AB5D" />
<rect x="1287.00" y="219.93" width="113.80" height="40.10" fill="#41AB5D" />
<rect x="1287.00" y="264.49" width="67.70" height="40.10" fill="#41AB5D" />
<rect x="1287.00" y="309.05" width="44.30" height="40.10" fill="#41AB5D" />
<rect x="1287.00" y="353.61" width="43.50" height="40.10" fill="#41AB5D" />
<rect x="1287.00" y="398.17" width="38.70" height="40.10" fill="#41AB5D" />
<rect x="1287.00" y="442.73" width="37.40" height="40.10" fill="#41AB5D" />
<rect x="1287.00" y="487.29" width="31.60" height="40.10" fill="#41AB5D" />
<text x="1268.7" y="103.0" font-size="14.95" fill="#4d4d4d" text-anchor="end" xml:space="preserve">immunoglobulin mediated</text>
<text x="1268.7" y="121.2" font-size="14.95" fill="#4d4d4d" text-anchor="end">immune response</text>
<text x="1268.7" y="147.6" font-size="14.95" fill="#4d4d4d" text-anchor="end" xml:space="preserve">B cell mediated</text>
<text x="1268.7" y="165.8" font-size="14.95" fill="#4d4d4d" text-anchor="end">immunity</text>
<text x="1268.7" y="192.1" font-size="14.95" fill="#4d4d4d" text-anchor="end" xml:space="preserve">immunoglobulin production</text>
<text x="1268.7" y="236.7" font-size="14.95" fill="#4d4d4d" text-anchor="end" xml:space="preserve">production of molecular mediator</text>
<text x="1268.7" y="254.9" font-size="14.95" fill="#4d4d4d" text-anchor="end">of immune response</text>
<text x="1268.7" y="281.2" font-size="14.95" fill="#4d4d4d" text-anchor="end" xml:space="preserve">B cell receptor</text>
<text x="1268.7" y="299.4" font-size="14.95" fill="#4d4d4d" text-anchor="end">signaling pathway</text>
<text x="1268.7" y="325.8" font-size="14.95" fill="#4d4d4d" text-anchor="end" xml:space="preserve">antigen receptor−mediated</text>
<text x="1268.7" y="344.0" font-size="14.95" fill="#4d4d4d" text-anchor="end">signaling pathway</text>
<text x="1268.7" y="370.4" font-size="14.95" fill="#4d4d4d" text-anchor="end" xml:space="preserve">antibacterial humoral response</text>
<text x="1268.7" y="414.9" font-size="14.95" fill="#4d4d4d" text-anchor="end" xml:space="preserve">antimicrobial humoral response</text>
<text x="1268.7" y="459.5" font-size="14.95" fill="#4d4d4d" text-anchor="end" xml:space="preserve">immune response−activating cell surface</text>
<text x="1268.7" y="477.7" font-size="14.95" fill="#4d4d4d" text-anchor="end">receptor signaling pathway</text>
<text x="1268.7" y="504.0" font-size="14.95" fill="#4d4d4d" text-anchor="end" xml:space="preserve">humoral immune response mediated</text>
<text x="1268.7" y="522.2" font-size="14.95" fill="#4d4d4d" text-anchor="end">by circulating immunoglobulin</text>
<text x="1332.1" y="549.6" font-size="13.3" fill="#4d4d4d" text-anchor="middle">10</text>
<text x="1377.2" y="549.6" font-size="13.3" fill="#4d4d4d" text-anchor="middle">20</text>
<text x="1422.3" y="549.6" font-size="13.3" fill="#4d4d4d" text-anchor="middle">30</text>
<text x="1467.4" y="549.6" font-size="13.3" fill="#4d4d4d" text-anchor="middle">40</text>
<text x="1389.3" y="575.0" font-size="14.9" fill="#1a1a1a" text-anchor="middle">−log10(p.adjust)</text>
<text x="1553.0" y="47.0" font-size="64.5" font-weight="bold">e</text>
<text x="1847.0" y="67.2" font-size="19.3" fill="#4d4d4d" text-anchor="middle">Up in BRCAm</text>
<line x1="1818.5" y1="81.9" x2="1818.5" y2="531.8" stroke="#EBEBEB" stroke-width="1.2" />
<line x1="1841.1" y1="81.9" x2="1841.1" y2="531.8" stroke="#EBEBEB" stroke-width="1.2" />
<line x1="1863.8" y1="81.9" x2="1863.8" y2="531.8" stroke="#EBEBEB" stroke-width="2.3" />
<line x1="1886.4" y1="81.9" x2="1886.4" y2="531.8" stroke="#EBEBEB" stroke-width="1.2" />
<line x1="1909.0" y1="81.9" x2="1909.0" y2="531.8" stroke="#EBEBEB" stroke-width="2.3" />
<line x1="1931.7" y1="81.9" x2="1931.7" y2="531.8" stroke="#EBEBEB" stroke-width="1.2" />
<line x1="1954.3" y1="81.9" x2="1954.3" y2="531.8" stroke="#EBEBEB" stroke-width="2.3" />
<line x1="1976.9" y1="81.9" x2="1976.9" y2="531.8" stroke="#EBEBEB" stroke-width="1.2" />
<line x1="1999.6" y1="81.9" x2="1999.6" y2="531.8" stroke="#EBEBEB" stroke-width="2.3" />
<line x1="1809.0" y1="108.1" x2="2008.3" y2="108.1" stroke="#EBEBEB" stroke-width="2.3" />
<line x1="1809.0" y1="152.1" x2="2008.3" y2="152.1" stroke="#EBEBEB" stroke-width="2.3" />
<line x1="1809.0" y1="196.1" x2="2008.3" y2="196.1" stroke="#EBEBEB" stroke-width="2.3" />
<line x1="1809.0" y1="240.2" x2="2008.3" y2="240.2" stroke="#EBEBEB" stroke-width="2.3" />
<line x1="1809.0" y1="284.2" x2="2008.3" y2="284.2" stroke="#EBEBEB" stroke-width="2.3" />
<line x1="1809.0" y1="328.2" x2="2008.3" y2="328.2" stroke="#EBEBEB" stroke-width="2.3" />
<line x1="1809.0" y1="372.2" x2="2008.3" y2="372.2" stroke="#EBEBEB" stroke-width="2.3" />
<line x1="1809.0" y1="416.2" x2="2008.3" y2="416.2" stroke="#EBEBEB" stroke-width="2.3" />
<line x1="1809.0" y1="460.3" x2="2008.3" y2="460.3" stroke="#EBEBEB" stroke-width="2.3" />
<line x1="1809.0" y1="504.3" x2="2008.3" y2="504.3" stroke="#EBEBEB" stroke-width="2.3" />
<rect x="1818.50" y="88.29" width="21.40" height="39.62" fill="#41AB5D" />
<rect x="1818.50" y="132.31" width="21.40" height="39.62" fill="#41AB5D" />
<rect x="1818.50" y="176.33" width="21.40" height="39.62" fill="#41AB5D" />
<rect x="1818.50" y="220.35" width="21.40" height="39.62" fill="#41AB5D" />
<rect x="1818.50" y="264.37" width="21.40" height="39.62" fill="#41AB5D" />
<rect x="1818.50" y="308.39" width="21.40" height="39.62" fill="#41AB5D" />
<rect x="1818.50" y="352.41" width="21.40" height="39.62" fill="#41AB5D" />
<rect x="1818.50" y="396.43" width="21.40" height="39.62" fill="#41AB5D" />
<rect x="1818.50" y="440.45" width="21.40" height="39.62" fill="#41AB5D" />
<rect x="1818.50" y="484.47" width="21.40" height="39.62" fill="#41AB5D" />
<text x="1802.7" y="103.6" font-size="15.2" fill="#4d4d4d" text-anchor="end" xml:space="preserve">mitochondrial ATP synthesis</text>
<text x="1802.7" y="121.8" font-size="15.2" fill="#4d4d4d" text-anchor="end">coupled proton transport</text>
<text x="1802.7" y="147.6" font-size="15.2" fill="#4d4d4d" text-anchor="end" xml:space="preserve">ATP synthesis coupled</text>
<text x="1802.7" y="165.8" font-size="15.2" fill="#4d4d4d" text-anchor="end">proton transport</text>
<text x="1802.7" y="191.6" font-size="15.2" fill="#4d4d4d" text-anchor="end" xml:space="preserve">ribose phosphate </text>
<text x="1802.7" y="209.8" font-size="15.2" fill="#4d4d4d" text-anchor="end">biosynthetic process</text>
<text x="1802.7" y="235.7" font-size="15.2" fill="#4d4d4d" text-anchor="end" xml:space="preserve">purine nucleotide </text>
<text x="1802.7" y="253.9" font-size="15.2" fill="#4d4d4d" text-anchor="end">biosynthetic process</text>
<text x="1802.7" y="279.7" font-size="15.2" fill="#4d4d4d" text-anchor="end" xml:space="preserve">purine−containing compound </text>
<text x="1802.7" y="297.9" font-size="15.2" fill="#4d4d4d" text-anchor="end">biosynthetic process</text>
<text x="1802.7" y="323.7" font-size="15.2" fill="#4d4d4d" text-anchor="end" xml:space="preserve">ATP biosynthetic process</text>
<text x="1802.7" y="367.7" font-size="15.2" fill="#4d4d4d" text-anchor="end" xml:space="preserve">purine ribonucleoside triphosphate </text>
<text x="1802.7" y="385.9" font-size="15.2" fill="#4d4d4d" text-anchor="end">biosynthetic process</text>
<text x="1802.7" y="411.7" font-size="15.2" fill="#4d4d4d" text-anchor="end" xml:space="preserve">purine nucleoside triphosphate </text>
<text x="1802.7" y="429.9" font-size="15.2" fill="#4d4d4d" text-anchor="end">biosynthetic process</text>
<text x="1802.7" y="455.8" font-size="15.2" fill="#4d4d4d" text-anchor="end" xml:space="preserve">nucleotide </text>
<text x="1802.7" y="474.0" font-size="15.2" fill="#4d4d4d" text-anchor="end">biosynthetic process</text>
<text x="1802.7" y="499.8" font-size="15.2" fill="#4d4d4d" text-anchor="end" xml:space="preserve">nucleoside phosphate </text>
<text x="1802.7" y="518.0" font-size="15.2" fill="#4d4d4d" text-anchor="end">biosynthetic process</text>
<text x="1863.8" y="547.0" font-size="13.3" fill="#4d4d4d" text-anchor="middle">10</text>
<text x="1909.0" y="547.0" font-size="13.3" fill="#4d4d4d" text-anchor="middle">20</text>
<text x="1954.3" y="547.0" font-size="13.3" fill="#4d4d4d" text-anchor="middle">30</text>
<text x="1999.6" y="547.0" font-size="13.3" fill="#4d4d4d" text-anchor="middle">40</text>
<text x="1942.9" y="572.5" font-size="14.9" fill="#1a1a1a" text-anchor="middle">−log10(p.adjust)</text>
<text x="-2.5" y="530.0" font-size="64.5" font-weight="bold">c</text>
<text x="409.4" y="542.0" font-size="25.5" fill="#8C8C8C" text-anchor="middle" font-weight="bold">Non−BRCAm</text>
<text x="648.5" y="542.0" font-size="25.5" fill="#8C8C8C" text-anchor="middle" font-weight="bold">BRCAm</text>
<text x="809.5" y="520.6" font-size="22.5" fill="#8C8C8C" text-anchor="middle" font-weight="bold">Post-</text>
<text x="809.5" y="544.0" font-size="22.5" fill="#8C8C8C" text-anchor="middle" font-weight="bold">partum</text>
<line x1="292.0" y1="557.5" x2="523.5" y2="557.5" stroke="#9A9A9A" stroke-width="2.6" />
<line x1="530.3" y1="557.5" x2="768.6" y2="557.5" stroke="#9A9A9A" stroke-width="2.6" />
<line x1="775.2" y1="557.5" x2="843.3" y2="557.5" stroke="#9A9A9A" stroke-width="2.6" />
<path fill="none" stroke="#000" stroke-width="1.6" d="M294.2 643.5V616.4H299.9V643.5M305.5 643.5V624.3H311.2V643.5M316.8 643.5V619.8H322.5V643.5M319.6 619.8V617.3H328.1V643.5M308.3 624.3V614.8H323.9V617.3M333.7 643.5V616.4H339.4V643.5M316.1 614.8V610.6H336.6V616.4M297.0 616.4V607.6H326.3V610.6M345.0 643.5V612.5H350.7V643.5M356.3 643.5V616.4H362.0V643.5M367.6 643.5V614.9H373.3V643.5M359.2 616.4V611.1H370.4V614.9M347.9 612.5V607.9H364.8V611.1M311.7 607.6V597.9H356.3V607.9M384.6 643.5V615.5H390.2V643.5M378.9 643.5V612.0H387.4V615.5M395.9 643.5V615.7H401.5V643.5M412.8 643.5V620.8H418.4V643.5M407.1 643.5V615.7H415.6V620.8M398.7 615.7V611.7H411.4V615.7M383.2 612.0V606.7H405.0V611.7M334.0 597.9V594.4H394.1V606.7M424.1 643.5V616.7H429.7V643.5M435.4 643.5V616.7H441.0V643.5M426.9 616.7V610.8H438.2V616.7M446.7 643.5V615.7H452.3V643.5M458.0 643.5V615.7H463.6V643.5M469.3 643.5V621.3H474.9V643.5M472.1 621.3V618.8H480.6V643.5M476.3 618.8V616.3H486.2V643.5M491.8 643.5V619.6H497.5V643.5M481.3 616.3V610.8H494.7V619.6M460.8 615.7V609.6H488.0V610.8M449.5 615.7V609.0H474.4V609.6M432.6 610.8V605.2H461.9V609.0M503.1 643.5V617.6H508.8V643.5M514.4 643.5V617.6H520.1V643.5M506.0 617.6V610.6H517.3V617.6M447.2 605.2V603.2H511.6V610.6M364.1 594.4V575.0H479.4V603.2"/>
<path fill="none" stroke="#000" stroke-width="1.6" d="M531.9 643.5V615.5H537.6V643.5M534.8 615.5V609.7H543.3V643.5M549.0 643.5V616.8H554.6V643.5M551.8 616.8V614.3H560.3V643.5M566.0 643.5V612.3H571.7V643.5M556.1 614.3V609.8H568.8V612.3M577.4 643.5V614.8H583.0V643.5M562.5 609.8V607.3H580.2V614.8M588.7 643.5V623.0H594.4V643.5M591.5 623.0V616.9H600.1V643.5M571.3 607.3V604.8H595.8V616.9M605.7 643.5V617.0H611.4V643.5M608.6 617.0V614.5H617.1V643.5M622.8 643.5V622.1H628.5V643.5M612.8 614.5V612.0H625.6V622.1M583.6 604.8V606.9H619.2V612.0M634.1 643.5V625.8H639.8V643.5M645.5 643.5V623.8H651.2V643.5M637.0 625.8V615.1H648.3V623.8M642.6 615.1V611.6H642.6V615.1M601.4 606.9V601.4H642.6V611.6M539.0 609.7V599.4H622.0V601.4"/>
<path fill="none" stroke="#000" stroke-width="1.6" d="M663.0 643.5V601.9H668.7V643.5M680.1 643.5V624.5H685.8V643.5M682.9 624.5V618.5H691.4V643.5M687.2 618.5V616.0H697.1V643.5M702.8 643.5V619.6H708.5V643.5M714.2 643.5V616.8H719.8V643.5M705.6 619.6V614.3H717.0V616.8M692.1 616.0V611.8H711.3V614.3M701.7 611.8V609.9H701.7V611.8M725.5 643.5V623.3H731.2V643.5M728.3 623.3V620.8H736.9V643.5M742.5 643.5V618.1H748.2V643.5M732.6 620.8V615.6H745.4V618.1M753.9 643.5V618.5H759.6V643.5M756.7 618.5V616.0H765.3V643.5M739.0 615.6V613.1H761.0V616.0M750.0 613.1V613.2H750.0V613.1M701.7 609.9V608.5H750.0V613.2M674.4 643.5V606.6H725.9V608.5M665.9 601.9V594.7H700.1V606.6"/>
<path fill="none" stroke="#000" stroke-width="1.6" d="M778.0 643.5V608.5H783.6V643.5M789.3 643.5V623.8H794.9V643.5M800.5 643.5V621.1H806.1V643.5M792.1 623.8V618.6H803.3V621.1M797.7 618.6V609.3H811.8V643.5M780.8 608.5V604.6H804.7V609.3M834.3 643.5V620.7H839.9V643.5M828.6 643.5V615.5H837.1V620.7M823.0 643.5V611.6H832.9V615.5M817.4 643.5V603.8H827.9V611.6M792.8 604.6V584.5H822.7V603.8"/>
<g shape-rendering="crispEdges"><rect x="291.40" y="646.00" width="5.67" height="33.30" fill="#8a8a8a"/><rect x="297.05" y="646.00" width="5.67" height="33.30" fill="#5a5a5a"/><rect x="302.69" y="646.00" width="5.67" height="33.30" fill="#3c3c3c"/><rect x="308.34" y="646.00" width="5.67" height="33.30" fill="#111111"/><rect x="313.99" y="646.00" width="5.67" height="33.30" fill="#6a6a6a"/><rect x="319.63" y="646.00" width="5.67" height="33.30" fill="#5e5e5e"/><rect x="325.28" y="646.00" width="5.67" height="33.30" fill="#858585"/><rect x="330.92" y="646.00" width="5.67" height="33.30" fill="#5f5f5f"/><rect x="336.57" y="646.00" width="5.67" height="33.30" fill="#777777"/><rect x="342.22" y="646.00" width="5.67" height="33.30" fill="#a8a8a8"/><rect x="347.86" y="646.00" width="5.67" height="33.30" fill="#909090"/><rect x="353.51" y="646.00" width="5.67" height="33.30" fill="#3a3a3a"/><rect x="359.16" y="646.00" width="5.67" height="33.30" fill="#444444"/><rect x="364.80" y="646.00" width="5.67" height="33.30" fill="#666666"/><rect x="370.45" y="646.00" width="5.67" height="33.30" fill="#6a6a6a"/><rect x="376.10" y="646.00" width="5.67" height="33.30" fill="#2d2d2d"/><rect x="381.74" y="646.00" width="5.67" height="33.30" fill="#555555"/><rect x="387.39" y="646.00" width="11.31" height="33.30" fill="#222222"/><rect x="398.68" y="646.00" width="5.67" height="33.30" fill="#2a2a2a"/><rect x="404.33" y="646.00" width="5.67" height="33.30" fill="#151515"/><rect x="409.97" y="646.00" width="5.67" height="33.30" fill="#121212"/><rect x="415.62" y="646.00" width="5.67" height="33.30" fill="#050505"/><rect x="421.27" y="646.00" width="5.67" height="33.30" fill="#707070"/><rect x="426.91" y="646.00" width="11.31" height="33.30" fill="#5e5e5e"/><rect x="438.20" y="646.00" width="5.67" height="33.30" fill="#7a7a7a"/><rect x="443.85" y="646.00" width="5.67" height="33.30" fill="#000000"/><rect x="449.50" y="646.00" width="5.67" height="33.30" fill="#8a8a8a"/><rect x="455.14" y="646.00" width="5.67" height="33.30" fill="#1a1a1a"/><rect x="460.79" y="646.00" width="5.67" height="33.30" fill="#5a5a5a"/><rect x="466.44" y="646.00" width="5.67" height="33.30" fill="#565656"/><rect x="472.08" y="646.00" width="5.67" height="33.30" fill="#2a2a2a"/><rect x="477.73" y="646.00" width="5.67" height="33.30" fill="#5e5e5e"/><rect x="483.38" y="646.00" width="5.67" height="33.30" fill="#333333"/><rect x="489.02" y="646.00" width="5.67" height="33.30" fill="#555555"/><rect x="494.67" y="646.00" width="5.67" height="33.30" fill="#777777"/><rect x="500.31" y="646.00" width="5.67" height="33.30" fill="#595959"/><rect x="505.96" y="646.00" width="5.67" height="33.30" fill="#777777"/><rect x="511.61" y="646.00" width="5.67" height="33.30" fill="#c0c0c0"/><rect x="517.25" y="646.00" width="5.67" height="33.30" fill="#b5b5b5"/></g>
<g shape-rendering="crispEdges"><rect x="291.40" y="682.10" width="5.67" height="34.30" fill="#8f8a78"/><rect x="297.05" y="682.10" width="11.31" height="34.30" fill="#a0966e"/><rect x="308.34" y="682.10" width="5.67" height="34.30" fill="#a89c6c"/><rect x="313.99" y="682.10" width="5.67" height="34.30" fill="#b8aa6a"/><rect x="319.63" y="682.10" width="5.67" height="34.30" fill="#a0966e"/><rect x="325.28" y="682.10" width="5.67" height="34.30" fill="#b0a46a"/><rect x="330.92" y="682.10" width="5.67" height="34.30" fill="#5e6070"/><rect x="336.57" y="682.10" width="5.67" height="34.30" fill="#707070"/><rect x="342.22" y="682.10" width="5.67" height="34.30" fill="#a0966e"/><rect x="347.86" y="682.10" width="11.31" height="34.30" fill="#c0b06a"/><rect x="359.16" y="682.10" width="5.67" height="34.30" fill="#c4b06a"/><rect x="364.80" y="682.10" width="5.67" height="34.30" fill="#908a78"/><rect x="370.45" y="682.10" width="5.67" height="34.30" fill="#6a6a72"/><rect x="376.10" y="682.10" width="5.67" height="34.30" fill="#c8b46a"/><rect x="381.74" y="682.10" width="5.67" height="34.30" fill="#888070"/><rect x="387.39" y="682.10" width="5.67" height="34.30" fill="#d0bc66"/><rect x="393.03" y="682.10" width="5.67" height="34.30" fill="#9a9070"/><rect x="398.68" y="682.10" width="5.67" height="34.30" fill="#c4b06a"/><rect x="404.33" y="682.10" width="5.67" height="34.30" fill="#8a8476"/><rect x="409.97" y="682.10" width="5.67" height="34.30" fill="#858070"/><rect x="415.62" y="682.10" width="5.67" height="34.30" fill="#7d7a70"/><rect x="421.27" y="682.10" width="5.67" height="34.30" fill="#666670"/><rect x="426.91" y="682.10" width="5.67" height="34.30" fill="#bcaa6a"/><rect x="432.56" y="682.10" width="5.67" height="34.30" fill="#a0966e"/><rect x="438.20" y="682.10" width="5.67" height="34.30" fill="#4e5470"/><rect x="443.85" y="682.10" width="5.67" height="34.30" fill="#dcc25a"/><rect x="449.50" y="682.10" width="5.67" height="34.30" fill="#8a8070"/><rect x="455.14" y="682.10" width="5.67" height="34.30" fill="#666674"/><rect x="460.79" y="682.10" width="11.31" height="34.30" fill="#a09470"/><rect x="472.08" y="682.10" width="5.67" height="34.30" fill="#c8b46a"/><rect x="477.73" y="682.10" width="5.67" height="34.30" fill="#a09470"/><rect x="483.38" y="682.10" width="5.67" height="34.30" fill="#807c72"/><rect x="489.02" y="682.10" width="5.67" height="34.30" fill="#555a70"/><rect x="494.67" y="682.10" width="5.67" height="34.30" fill="#5a5e70"/><rect x="500.31" y="682.10" width="5.67" height="34.30" fill="#727070"/><rect x="505.96" y="682.10" width="5.67" height="34.30" fill="#858070"/><rect x="511.61" y="682.10" width="5.67" height="34.30" fill="#3c4868"/><rect x="517.25" y="682.10" width="5.67" height="34.30" fill="#4a5068"/></g>
<g shape-rendering="crispEdges"><rect x="291.40" y="717.90" width="11.31" height="34.60" fill="#29B6E9"/><rect x="302.69" y="717.90" width="11.31" height="34.60" fill="#F7801F"/><rect x="313.99" y="717.90" width="39.54" height="34.60" fill="#29B6E9"/><rect x="353.51" y="717.90" width="5.67" height="34.60" fill="#F7801F"/><rect x="359.16" y="717.90" width="16.96" height="34.60" fill="#29B6E9"/><rect x="376.10" y="717.90" width="5.67" height="34.60" fill="#F7801F"/><rect x="381.74" y="717.90" width="5.67" height="34.60" fill="#29B6E9"/><rect x="387.39" y="717.90" width="33.90" height="34.60" fill="#F7801F"/><rect x="421.27" y="717.90" width="22.61" height="34.60" fill="#29B6E9"/><rect x="443.85" y="717.90" width="5.67" height="34.60" fill="#F7801F"/><rect x="449.50" y="717.90" width="5.67" height="34.60" fill="#29B6E9"/><rect x="455.14" y="717.90" width="5.67" height="34.60" fill="#F7801F"/><rect x="460.79" y="717.90" width="11.31" height="34.60" fill="#29B6E9"/><rect x="472.08" y="717.90" width="5.67" height="34.60" fill="#F7801F"/><rect x="477.73" y="717.90" width="5.67" height="34.60" fill="#29B6E9"/><rect x="483.38" y="717.90" width="11.31" height="34.60" fill="#F7801F"/><rect x="494.67" y="717.90" width="28.25" height="34.60" fill="#29B6E9"/></g>
<g shape-rendering="crispEdges"><rect x="291.40" y="755.30" width="231.52" height="34.10" fill="#000000"/></g>
<g shape-rendering="crispEdges"><rect x="291.40" y="792.20" width="5.67" height="33.20" fill="#FDB462"/><rect x="297.05" y="792.20" width="5.67" height="33.20" fill="#8DD3C7"/><rect x="302.69" y="792.20" width="5.67" height="33.20" fill="#FDB462"/><rect x="308.34" y="792.20" width="5.67" height="33.20" fill="#CA8B99"/><rect x="313.99" y="792.20" width="22.61" height="33.20" fill="#8DD3C7"/><rect x="336.57" y="792.20" width="5.67" height="33.20" fill="#FB8072"/><rect x="342.22" y="792.20" width="5.67" height="33.20" fill="#D9D9D9"/><rect x="347.86" y="792.20" width="5.67" height="33.20" fill="#FFED6F"/><rect x="353.51" y="792.20" width="5.67" height="33.20" fill="#8DD3C7"/><rect x="359.16" y="792.20" width="5.67" height="33.20" fill="#BEBADA"/><rect x="364.80" y="792.20" width="5.67" height="33.20" fill="#8DD3C7"/><rect x="370.45" y="792.20" width="5.67" height="33.20" fill="#FB8072"/><rect x="376.10" y="792.20" width="11.31" height="33.20" fill="#8DD3C7"/><rect x="387.39" y="792.20" width="5.67" height="33.20" fill="#CA8B99"/><rect x="393.03" y="792.20" width="5.67" height="33.20" fill="#8DD3C7"/><rect x="398.68" y="792.20" width="5.67" height="33.20" fill="#BEBADA"/><rect x="404.33" y="792.20" width="5.67" height="33.20" fill="#8DD3C7"/><rect x="409.97" y="792.20" width="5.67" height="33.20" fill="#BC80BD"/><rect x="415.62" y="792.20" width="5.67" height="33.20" fill="#CA8B99"/><rect x="421.27" y="792.20" width="11.31" height="33.20" fill="#8DD3C7"/><rect x="432.56" y="792.20" width="5.67" height="33.20" fill="#80B1D3"/><rect x="438.20" y="792.20" width="5.67" height="33.20" fill="#CA8B99"/><rect x="443.85" y="792.20" width="16.96" height="33.20" fill="#8DD3C7"/><rect x="460.79" y="792.20" width="5.67" height="33.20" fill="#11D64F"/><rect x="466.44" y="792.20" width="5.67" height="33.20" fill="#8DD3C7"/><rect x="472.08" y="792.20" width="5.67" height="33.20" fill="#CA8B99"/><rect x="477.73" y="792.20" width="5.67" height="33.20" fill="#FB8072"/><rect x="483.38" y="792.20" width="5.67" height="33.20" fill="#8DD3C7"/><rect x="489.02" y="792.20" width="5.67" height="33.20" fill="#CA8B99"/><rect x="494.67" y="792.20" width="5.67" height="33.20" fill="#11D64F"/><rect x="500.31" y="792.20" width="11.31" height="33.20" fill="#8DD3C7"/><rect x="511.61" y="792.20" width="5.67" height="33.20" fill="#FFED6F"/><rect x="517.25" y="792.20" width="5.67" height="33.20" fill="#8DD3C7"/></g>
<g shape-rendering="crispEdges"><rect x="529.10" y="646.00" width="11.37" height="33.30" fill="#737373"/><rect x="540.45" y="646.00" width="5.70" height="33.30" fill="#6e6e6e"/><rect x="546.13" y="646.00" width="5.70" height="33.30" fill="#888888"/><rect x="551.81" y="646.00" width="5.70" height="33.30" fill="#777777"/><rect x="557.49" y="646.00" width="5.70" height="33.30" fill="#7a7a7a"/><rect x="563.16" y="646.00" width="5.70" height="33.30" fill="#6e6e6e"/><rect x="568.84" y="646.00" width="5.70" height="33.30" fill="#757575"/><rect x="574.52" y="646.00" width="5.70" height="33.30" fill="#787878"/><rect x="580.20" y="646.00" width="5.70" height="33.30" fill="#808080"/><rect x="585.87" y="646.00" width="5.70" height="33.30" fill="#767676"/><rect x="591.55" y="646.00" width="5.70" height="33.30" fill="#3e3e3e"/><rect x="597.23" y="646.00" width="11.37" height="33.30" fill="#7b7b7b"/><rect x="608.58" y="646.00" width="5.70" height="33.30" fill="#666666"/><rect x="614.26" y="646.00" width="5.70" height="33.30" fill="#747474"/><rect x="619.94" y="646.00" width="5.70" height="33.30" fill="#6a6a6a"/><rect x="625.61" y="646.00" width="5.70" height="33.30" fill="#7a7a7a"/><rect x="631.29" y="646.00" width="5.70" height="33.30" fill="#4a4a4a"/><rect x="636.97" y="646.00" width="5.70" height="33.30" fill="#8c8c8c"/><rect x="642.65" y="646.00" width="5.70" height="33.30" fill="#222222"/><rect x="648.32" y="646.00" width="5.70" height="33.30" fill="#1e1e1e"/></g>
<g shape-rendering="crispEdges"><rect x="529.10" y="682.10" width="5.70" height="34.30" fill="#a89a70"/><rect x="534.78" y="682.10" width="5.70" height="34.30" fill="#8a8474"/><rect x="540.45" y="682.10" width="5.70" height="34.30" fill="#6e6e74"/><rect x="546.13" y="682.10" width="11.37" height="34.30" fill="#555a70"/><rect x="557.49" y="682.10" width="5.70" height="34.30" fill="#74726e"/><rect x="563.16" y="682.10" width="5.70" height="34.30" fill="#6a6a70"/><rect x="568.84" y="682.10" width="5.70" height="34.30" fill="#5a5e72"/><rect x="574.52" y="682.10" width="5.70" height="34.30" fill="#7a7870"/><rect x="580.20" y="682.10" width="5.70" height="34.30" fill="#8e8674"/><rect x="585.87" y="682.10" width="5.70" height="34.30" fill="#727070"/><rect x="591.55" y="682.10" width="5.70" height="34.30" fill="#a89a70"/><rect x="597.23" y="682.10" width="5.70" height="34.30" fill="#c4b06a"/><rect x="602.90" y="682.10" width="11.37" height="34.30" fill="#6a6a72"/><rect x="614.26" y="682.10" width="5.70" height="34.30" fill="#7a7870"/><rect x="619.94" y="682.10" width="5.70" height="34.30" fill="#958c76"/><rect x="625.61" y="682.10" width="5.70" height="34.30" fill="#6e6e74"/><rect x="631.29" y="682.10" width="5.70" height="34.30" fill="#a09470"/><rect x="636.97" y="682.10" width="5.70" height="34.30" fill="#7e7a72"/><rect x="642.65" y="682.10" width="5.70" height="34.30" fill="#b0a46c"/><rect x="648.32" y="682.10" width="5.70" height="34.30" fill="#a89c70"/></g>
<g shape-rendering="crispEdges"><rect x="529.10" y="717.90" width="62.47" height="34.60" fill="#29B6E9"/><rect x="591.55" y="717.90" width="5.70" height="34.60" fill="#F7801F"/><rect x="597.23" y="717.90" width="45.44" height="34.60" fill="#29B6E9"/><rect x="642.65" y="717.90" width="11.37" height="34.60" fill="#F7801F"/></g>
<g shape-rendering="crispEdges"><rect x="529.10" y="755.30" width="124.92" height="34.10" fill="#7FF4F1"/></g>
<g shape-rendering="crispEdges"><rect x="529.10" y="792.20" width="124.92" height="33.20" fill="#00FF00"/></g>
<g shape-rendering="crispEdges"><rect x="660.20" y="646.00" width="5.70" height="33.30" fill="#7a7a7a"/><rect x="665.88" y="646.00" width="5.70" height="33.30" fill="#161616"/><rect x="671.56" y="646.00" width="5.70" height="33.30" fill="#696969"/><rect x="677.24" y="646.00" width="5.70" height="33.30" fill="#2e2e2e"/><rect x="682.92" y="646.00" width="5.70" height="33.30" fill="#727272"/><rect x="688.59" y="646.00" width="5.70" height="33.30" fill="#4a4a4a"/><rect x="694.27" y="646.00" width="5.70" height="33.30" fill="#646464"/><rect x="699.95" y="646.00" width="5.70" height="33.30" fill="#707070"/><rect x="705.63" y="646.00" width="5.70" height="33.30" fill="#404040"/><rect x="711.31" y="646.00" width="5.70" height="33.30" fill="#858585"/><rect x="716.99" y="646.00" width="5.70" height="33.30" fill="#7e7e7e"/><rect x="722.67" y="646.00" width="5.70" height="33.30" fill="#757575"/><rect x="728.35" y="646.00" width="5.70" height="33.30" fill="#4a4a4a"/><rect x="734.03" y="646.00" width="5.70" height="33.30" fill="#7f7f7f"/><rect x="739.71" y="646.00" width="5.70" height="33.30" fill="#727272"/><rect x="745.38" y="646.00" width="5.70" height="33.30" fill="#444444"/><rect x="751.06" y="646.00" width="5.70" height="33.30" fill="#7e7e7e"/><rect x="756.74" y="646.00" width="11.38" height="33.30" fill="#777777"/></g>
<g shape-rendering="crispEdges"><rect x="660.20" y="682.10" width="5.70" height="34.30" fill="#5a5e70"/><rect x="665.88" y="682.10" width="5.70" height="34.30" fill="#ccb86a"/><rect x="671.56" y="682.10" width="5.70" height="34.30" fill="#858078"/><rect x="677.24" y="682.10" width="5.70" height="34.30" fill="#a89a70"/><rect x="682.92" y="682.10" width="5.70" height="34.30" fill="#646670"/><rect x="688.59" y="682.10" width="5.70" height="34.30" fill="#908a76"/><rect x="694.27" y="682.10" width="5.70" height="34.30" fill="#50566e"/><rect x="699.95" y="682.10" width="5.70" height="34.30" fill="#6a6a72"/><rect x="705.63" y="682.10" width="5.70" height="34.30" fill="#a09674"/><rect x="711.31" y="682.10" width="5.70" height="34.30" fill="#4a5270"/><rect x="716.99" y="682.10" width="5.70" height="34.30" fill="#807e78"/><rect x="722.67" y="682.10" width="5.70" height="34.30" fill="#ffffff"/><rect x="728.35" y="682.10" width="5.70" height="34.30" fill="#9a9278"/><rect x="734.03" y="682.10" width="5.70" height="34.30" fill="#4a5270"/><rect x="739.71" y="682.10" width="5.70" height="34.30" fill="#807c7a"/><rect x="745.38" y="682.10" width="5.70" height="34.30" fill="#6a6a72"/><rect x="751.06" y="682.10" width="5.70" height="34.30" fill="#42506e"/><rect x="756.74" y="682.10" width="5.70" height="34.30" fill="#747474"/><rect x="762.42" y="682.10" width="5.70" height="34.30" fill="#9a9278"/></g>
<g shape-rendering="crispEdges"><rect x="660.20" y="717.90" width="5.70" height="34.60" fill="#29B6E9"/><rect x="665.88" y="717.90" width="5.70" height="34.60" fill="#F7801F"/><rect x="671.56" y="717.90" width="5.70" height="34.60" fill="#29B6E9"/><rect x="677.24" y="717.90" width="5.70" height="34.60" fill="#F7801F"/><rect x="682.92" y="717.90" width="22.74" height="34.60" fill="#29B6E9"/><rect x="705.63" y="717.90" width="5.70" height="34.60" fill="#F7801F"/><rect x="711.31" y="717.90" width="17.06" height="34.60" fill="#29B6E9"/><rect x="728.35" y="717.90" width="5.70" height="34.60" fill="#F7801F"/><rect x="734.03" y="717.90" width="34.09" height="34.60" fill="#29B6E9"/></g>
<g shape-rendering="crispEdges"><rect x="660.20" y="755.30" width="107.92" height="34.10" fill="#3AA7A8"/></g>
<g shape-rendering="crispEdges"><rect x="660.20" y="792.20" width="107.92" height="33.20" fill="#00FF00"/></g>
<g shape-rendering="crispEdges"><rect x="775.20" y="646.00" width="5.64" height="33.30" fill="#8a8a8a"/><rect x="780.83" y="646.00" width="5.64" height="33.30" fill="#7a7a7a"/><rect x="786.45" y="646.00" width="5.64" height="33.30" fill="#8a8a8a"/><rect x="792.08" y="646.00" width="5.64" height="33.30" fill="#707070"/><rect x="797.70" y="646.00" width="5.64" height="33.30" fill="#7d7d7d"/><rect x="803.33" y="646.00" width="5.64" height="33.30" fill="#7f7f7f"/><rect x="808.95" y="646.00" width="5.64" height="33.30" fill="#707070"/><rect x="814.58" y="646.00" width="5.64" height="33.30" fill="#7e7e7e"/><rect x="820.20" y="646.00" width="5.64" height="33.30" fill="#787878"/><rect x="825.83" y="646.00" width="5.64" height="33.30" fill="#959595"/><rect x="831.45" y="646.00" width="11.27" height="33.30" fill="#8a8a8a"/></g>
<g shape-rendering="crispEdges"><rect x="775.20" y="682.10" width="5.64" height="34.30" fill="#8a8474"/><rect x="780.83" y="682.10" width="5.64" height="34.30" fill="#6a6a70"/><rect x="786.45" y="682.10" width="5.64" height="34.30" fill="#ffffff"/><rect x="792.08" y="682.10" width="5.64" height="34.30" fill="#a09674"/><rect x="797.70" y="682.10" width="5.64" height="34.30" fill="#6a6c72"/><rect x="803.33" y="682.10" width="5.64" height="34.30" fill="#807a72"/><rect x="808.95" y="682.10" width="5.64" height="34.30" fill="#9a9276"/><rect x="814.58" y="682.10" width="5.64" height="34.30" fill="#646670"/><rect x="820.20" y="682.10" width="5.64" height="34.30" fill="#a09674"/><rect x="825.83" y="682.10" width="5.64" height="34.30" fill="#666870"/><rect x="831.45" y="682.10" width="5.64" height="34.30" fill="#8a8276"/><rect x="837.08" y="682.10" width="5.64" height="34.30" fill="#7a7874"/></g>
<g shape-rendering="crispEdges"><rect x="775.20" y="717.90" width="67.52" height="34.60" fill="#555555"/></g>
<g shape-rendering="crispEdges"><rect x="775.20" y="755.30" width="67.52" height="34.10" fill="#000000"/></g>
<g shape-rendering="crispEdges"><rect x="775.20" y="792.20" width="67.52" height="33.20" fill="#FCCDE5"/></g>
<text x="850.0" y="671.8" font-size="23.9">Age at time of Surgery</text>
<text x="850.0" y="708.4" font-size="23.9">Stromal Fraction</text>
<text x="850.0" y="744.3" font-size="23.9">Reproductive Status</text>
<text x="850.0" y="781.4" font-size="23.9">BRCA Status</text>
<text x="850.0" y="817.9" font-size="23.9">Surgical Indication</text>
<g transform="translate(291.40 830.50) scale(5.6463 7.9770)" shape-rendering="crispEdges"><path fill="#440154" d="M21 0h1v1h-1zM29 5h1v1h-1zM35 7h1v1h-1zM39 7h1v1h-1zM29 9h1v1h-1zM9 10h1v1h-1zM28 10h1v1h-1zM36 11h1v1h-1zM15 14h1v1h-1zM15 15h1v1h-1zM22 16h1v1h-1zM17 17h1v1h-1zM14 26h1v1h-1zM8 28h1v1h-1zM26 32h1v1h-1zM37 39h1v1h-1z"/><path fill="#470d60" d="M30 1h1v1h-1zM6 11h1v1h-1zM36 42h1v1h-1zM40 62h1v1h-1zM33 67h1v1h-1zM40 75h1v1h-1z"/><path fill="#48186a" d="M1 21h1v1h-1zM38 24h1v1h-1z"/><path fill="#482374" d="M22 1h1v1h-1zM30 2h1v1h-1zM15 4h1v1h-1zM20 8h1v1h-1zM4 12h1v1h-1zM36 13h1v1h-1zM4 15h1v1h-1zM21 18h1v1h-1zM8 23h1v1h-1zM16 31h1v1h-1zM30 31h1v1h-1zM40 32h1v1h-1zM36 53h1v1h-1zM39 53h1v1h-1zM29 61h1v1h-1zM36 65h1v1h-1zM38 71h1v1h-1zM39 72h1v1h-1zM39 74h1v1h-1zM31 86h1v1h-1zM40 87h1v1h-1z"/><path fill="#472e7c" d="M8 0h1v1h-1zM30 0h1v1h-1zM4 1h1v1h-1zM20 4h1v1h-1zM36 6h1v1h-1zM40 6h1v1h-1zM35 8h1v1h-1zM7 9h1v1h-1zM36 9h1v1h-1zM4 17h1v1h-1zM28 18h1v1h-1zM19 20h1v1h-1zM36 20h1v1h-1zM22 21h1v1h-1zM19 22h1v1h-1zM0 23h1v1h-1zM28 23h1v1h-1zM21 24h1v1h-1zM34 24h1v1h-1zM39 24h2v1h-2zM11 26h1v1h-1zM39 26h1v1h-1zM40 29h1v1h-1zM40 30h1v1h-1zM21 31h1v1h-1zM31 31h1v1h-1zM40 31h1v1h-1zM34 38h1v1h-1zM40 38h1v1h-1zM34 40h1v1h-1zM38 51h1v1h-1zM40 57h1v1h-1zM34 59h1v1h-1zM40 59h1v1h-1zM38 62h1v1h-1zM31 70h1v1h-1zM34 73h1v1h-1zM37 74h1v1h-1zM39 78h1v1h-1zM39 79h1v1h-1z"/><path fill="#453882" d="M29 7h1v1h-1zM28 11h1v1h-1zM27 16h1v1h-1zM34 28h1v1h-1zM40 28h1v1h-1zM38 36h2v1h-2zM39 40h1v1h-1zM34 46h1v1h-1zM39 48h1v1h-1zM35 51h1v1h-1zM35 54h1v1h-1zM34 55h1v1h-1zM39 56h1v1h-1zM33 63h1v1h-1zM39 63h1v1h-1zM38 67h1v1h-1zM38 75h1v1h-1zM29 77h1v1h-1zM39 85h1v1h-1zM36 87h1v1h-1z"/><path fill="#424186" d="M20 9h1v1h-1zM14 18h1v1h-1zM31 36h1v1h-1zM40 36h1v1h-1zM37 37h1v1h-1zM38 40h1v1h-1zM39 42h1v1h-1zM36 44h1v1h-1zM29 45h1v1h-1zM40 46h1v1h-1zM32 49h1v1h-1zM39 49h1v1h-1zM37 50h1v1h-1zM34 52h1v1h-1zM35 59h2v1h-2zM29 60h1v1h-1zM31 68h1v1h-1zM40 68h1v1h-1zM37 71h1v1h-1zM40 74h1v1h-1zM36 75h1v1h-1zM31 77h1v1h-1zM38 77h1v1h-1zM32 78h1v1h-1zM31 80h1v1h-1zM38 82h1v1h-1zM32 83h1v1h-1zM35 89h1v1h-1z"/><path fill="#3e4a89" d="M31 0h1v1h-1zM2 1h1v1h-1zM15 1h1v1h-1zM19 2h1v1h-1zM25 3h1v1h-1zM28 3h1v1h-1zM37 3h1v1h-1zM8 4h1v1h-1zM39 5h1v1h-1zM29 6h1v1h-1zM2 7h1v1h-1zM3 8h1v1h-1zM29 8h1v1h-1zM27 9h1v1h-1zM37 9h1v1h-1zM5 10h1v1h-1zM2 11h1v1h-1zM32 12h1v1h-1zM3 14h1v1h-1zM17 14h1v1h-1zM22 14h1v1h-1zM7 15h1v1h-1zM32 16h1v1h-1zM33 17h1v1h-1zM27 18h1v1h-1zM0 20h1v1h-1zM21 22h1v1h-1zM25 24h1v1h-1zM37 24h1v1h-1zM1 25h1v1h-1zM24 25h2v1h-2zM28 25h1v1h-1zM37 26h1v1h-1zM21 28h1v1h-1zM33 28h1v1h-1zM14 29h1v1h-1zM20 29h1v1h-1zM36 29h1v1h-1zM39 29h1v1h-1zM26 31h1v1h-1zM23 32h1v1h-1zM37 32h1v1h-1zM35 34h1v1h-1zM32 36h1v1h-1zM37 36h1v1h-1zM35 40h1v1h-1zM37 40h1v1h-1zM40 41h1v1h-1zM25 44h1v1h-1zM35 45h1v1h-1zM35 46h2v1h-2zM38 48h1v1h-1zM37 56h1v1h-1zM32 59h1v1h-1zM30 60h1v1h-1zM32 60h1v1h-1zM38 61h1v1h-1zM40 61h1v1h-1zM30 62h1v1h-1zM37 63h1v1h-1zM28 65h1v1h-1zM37 65h1v1h-1zM32 67h1v1h-1zM39 67h1v1h-1zM39 70h1v1h-1zM39 71h1v1h-1zM31 74h1v1h-1zM37 75h1v1h-1zM40 78h1v1h-1zM23 80h1v1h-1zM36 82h1v1h-1zM35 83h1v1h-1zM32 85h1v1h-1zM37 86h1v1h-1zM39 89h1v1h-1z"/><path fill="#3a548c" d="M7 0h1v1h-1zM22 0h1v1h-1zM5 1h1v1h-1zM18 1h1v1h-1zM20 2h1v1h-1zM29 2h1v1h-1zM35 2h1v1h-1zM39 2h1v1h-1zM35 3h1v1h-1zM4 4h1v1h-1zM1 5h1v1h-1zM21 5h1v1h-1zM36 5h1v1h-1zM1 6h1v1h-1zM5 6h1v1h-1zM8 6h1v1h-1zM20 7h1v1h-1zM40 7h1v1h-1zM30 8h1v1h-1zM1 9h1v1h-1zM0 10h1v1h-1zM18 10h1v1h-1zM27 11h1v1h-1zM18 13h1v1h-1zM22 13h1v1h-1zM32 13h1v1h-1zM22 15h1v1h-1zM30 15h1v1h-1zM4 16h1v1h-1zM14 16h2v1h-2zM18 16h1v1h-1zM14 17h1v1h-1zM36 17h1v1h-1zM18 20h1v1h-1zM22 20h1v1h-1zM31 20h1v1h-1zM39 20h1v1h-1zM24 21h1v1h-1zM14 22h1v1h-1zM24 22h1v1h-1zM33 22h1v1h-1zM39 22h1v1h-1zM13 23h1v1h-1zM18 23h1v1h-1zM22 23h2v1h-2zM36 23h1v1h-1zM1 24h1v1h-1zM27 24h1v1h-1zM33 24h1v1h-1zM6 25h1v1h-1zM18 25h1v1h-1zM20 25h2v1h-2zM27 25h1v1h-1zM34 25h2v1h-2zM38 25h3v1h-3zM25 26h1v1h-1zM23 28h1v1h-1zM37 29h1v1h-1zM3 31h1v1h-1zM7 32h1v1h-1zM38 32h1v1h-1zM36 34h1v1h-1zM40 35h1v1h-1zM33 36h1v1h-1zM36 36h1v1h-1zM35 37h1v1h-1zM33 38h1v1h-1zM40 39h1v1h-1zM34 42h1v1h-1zM37 42h1v1h-1zM36 43h1v1h-1zM40 45h1v1h-1zM38 46h1v1h-1zM33 47h1v1h-1zM39 47h1v1h-1zM36 48h1v1h-1zM40 49h1v1h-1zM39 50h1v1h-1zM37 51h1v1h-1zM33 53h1v1h-1zM37 55h1v1h-1zM36 56h1v1h-1zM38 56h1v1h-1zM38 57h1v1h-1zM33 58h1v1h-1zM39 58h2v1h-2zM31 60h1v1h-1zM36 60h1v1h-1zM40 63h1v1h-1zM29 64h1v1h-1zM35 64h1v1h-1zM32 66h1v1h-1zM37 66h1v1h-1zM23 67h1v1h-1zM40 67h1v1h-1zM35 69h1v1h-1zM29 71h1v1h-1zM35 72h1v1h-1zM32 73h1v1h-1zM36 73h2v1h-2zM33 81h2v1h-2zM38 86h1v1h-1zM34 88h1v1h-1zM38 88h1v1h-1z"/><path fill="#365d8d" d="M1 4h1v1h-1zM31 6h1v1h-1zM21 7h2v1h-2zM6 10h1v1h-1zM15 12h1v1h-1zM1 17h1v1h-1zM5 18h1v1h-1zM21 20h1v1h-1zM0 22h1v1h-1zM31 25h1v1h-1zM36 32h1v1h-1zM27 34h1v1h-1zM29 34h1v1h-1zM31 34h1v1h-1zM34 34h1v1h-1zM37 34h1v1h-1zM39 34h1v1h-1zM29 35h1v1h-1zM34 35h1v1h-1zM38 35h2v1h-2zM26 36h1v1h-1zM34 36h1v1h-1zM28 37h2v1h-2zM33 37h1v1h-1zM38 37h1v1h-1zM40 37h1v1h-1zM28 38h1v1h-1zM30 38h1v1h-1zM37 38h2v1h-2zM30 39h2v1h-2zM35 39h2v1h-2zM38 39h2v1h-2zM23 40h1v1h-1zM26 41h1v1h-1zM29 41h1v1h-1zM38 41h2v1h-2zM25 42h1v1h-1zM33 42h1v1h-1zM40 42h1v1h-1zM27 43h1v1h-1zM29 43h1v1h-1zM34 43h1v1h-1zM37 43h2v1h-2zM40 43h1v1h-1zM27 44h1v1h-1zM32 44h1v1h-1zM34 44h1v1h-1zM37 44h2v1h-2zM40 44h1v1h-1zM26 45h1v1h-1zM33 45h2v1h-2zM39 45h1v1h-1zM28 46h2v1h-2zM37 46h1v1h-1zM27 47h1v1h-1zM37 48h1v1h-1zM30 49h2v1h-2zM33 49h1v1h-1zM35 49h2v1h-2zM31 50h1v1h-1zM34 50h2v1h-2zM40 50h1v1h-1zM22 51h1v1h-1zM28 51h2v1h-2zM32 51h2v1h-2zM39 51h2v1h-2zM24 52h1v1h-1zM33 52h1v1h-1zM35 52h1v1h-1zM37 52h1v1h-1zM39 52h1v1h-1zM27 53h2v1h-2zM31 53h1v1h-1zM38 53h1v1h-1zM40 53h1v1h-1zM29 54h1v1h-1zM37 54h4v1h-4zM25 55h1v1h-1zM30 55h3v1h-3zM40 55h1v1h-1zM30 56h1v1h-1zM17 57h1v1h-1zM33 57h1v1h-1zM36 57h2v1h-2zM35 58h1v1h-1zM38 58h1v1h-1zM23 59h1v1h-1zM28 59h4v1h-4zM37 59h1v1h-1zM33 60h2v1h-2zM39 60h2v1h-2zM23 61h1v1h-1zM31 61h1v1h-1zM39 61h1v1h-1zM25 62h3v1h-3zM29 62h1v1h-1zM31 62h1v1h-1zM36 62h1v1h-1zM39 62h1v1h-1zM30 63h1v1h-1zM35 63h2v1h-2zM38 63h1v1h-1zM17 64h1v1h-1zM30 64h1v1h-1zM32 64h1v1h-1zM34 64h1v1h-1zM36 64h2v1h-2zM38 65h2v1h-2zM29 66h2v1h-2zM33 66h1v1h-1zM35 66h1v1h-1zM40 66h1v1h-1zM27 67h1v1h-1zM30 67h1v1h-1zM34 67h4v1h-4zM27 68h1v1h-1zM34 68h1v1h-1zM29 69h1v1h-1zM32 69h1v1h-1zM38 69h1v1h-1zM24 70h1v1h-1zM27 70h1v1h-1zM30 70h1v1h-1zM32 70h2v1h-2zM38 70h1v1h-1zM23 71h1v1h-1zM31 71h1v1h-1zM33 71h1v1h-1zM28 72h1v1h-1zM33 72h2v1h-2zM37 72h2v1h-2zM33 73h1v1h-1zM35 73h1v1h-1zM39 73h2v1h-2zM32 74h2v1h-2zM35 74h1v1h-1zM38 74h1v1h-1zM18 75h1v1h-1zM29 75h1v1h-1zM31 75h1v1h-1zM33 75h1v1h-1zM35 75h1v1h-1zM39 75h1v1h-1zM32 76h1v1h-1zM34 76h4v1h-4zM25 77h2v1h-2zM34 77h1v1h-1zM36 77h2v1h-2zM39 77h2v1h-2zM16 78h1v1h-1zM22 78h1v1h-1zM31 78h1v1h-1zM33 78h2v1h-2zM38 78h1v1h-1zM22 79h1v1h-1zM30 79h3v1h-3zM34 79h5v1h-5zM40 79h1v1h-1zM24 80h2v1h-2zM28 80h1v1h-1zM36 80h1v1h-1zM38 80h2v1h-2zM25 81h1v1h-1zM29 81h1v1h-1zM36 81h2v1h-2zM39 81h2v1h-2zM28 82h1v1h-1zM30 82h1v1h-1zM32 82h1v1h-1zM39 82h1v1h-1zM28 83h2v1h-2zM33 83h1v1h-1zM36 83h1v1h-1zM39 83h1v1h-1zM30 84h1v1h-1zM32 84h1v1h-1zM34 84h1v1h-1zM38 84h1v1h-1zM40 84h1v1h-1zM24 85h2v1h-2zM35 85h1v1h-1zM37 85h1v1h-1zM40 85h1v1h-1zM33 86h2v1h-2zM39 86h2v1h-2zM21 87h1v1h-1zM29 87h1v1h-1zM31 87h1v1h-1zM38 87h2v1h-2zM24 88h1v1h-1zM26 88h1v1h-1zM31 88h1v1h-1zM33 88h1v1h-1zM37 88h1v1h-1zM39 88h2v1h-2zM30 89h5v1h-5zM36 89h3v1h-3zM40 89h1v1h-1z"/><path fill="#32658e" d="M20 1h1v1h-1zM22 8h1v1h-1zM30 10h1v1h-1zM2 12h1v1h-1zM1 14h1v1h-1zM13 16h1v1h-1zM19 26h1v1h-1zM36 31h1v1h-1zM19 32h1v1h-1zM28 34h1v1h-1zM24 36h1v1h-1zM24 37h1v1h-1zM26 38h1v1h-1zM34 39h1v1h-1zM33 40h1v1h-1zM32 42h1v1h-1zM30 43h1v1h-1zM32 43h1v1h-1zM39 43h1v1h-1zM39 44h1v1h-1zM30 47h1v1h-1zM34 47h1v1h-1zM36 47h2v1h-2zM27 48h1v1h-1zM34 48h1v1h-1zM38 49h1v1h-1zM38 50h1v1h-1zM30 51h1v1h-1zM22 52h1v1h-1zM36 52h1v1h-1zM24 54h1v1h-1zM34 54h1v1h-1zM33 55h1v1h-1zM39 55h1v1h-1zM27 56h1v1h-1zM40 56h1v1h-1zM34 57h1v1h-1zM37 58h1v1h-1zM34 62h1v1h-1zM38 68h1v1h-1zM35 70h1v1h-1zM30 71h1v1h-1zM35 71h1v1h-1zM38 73h1v1h-1zM34 75h1v1h-1zM29 76h1v1h-1zM39 76h1v1h-1zM35 77h1v1h-1zM40 80h1v1h-1zM31 82h1v1h-1zM40 83h1v1h-1zM39 84h1v1h-1zM32 86h1v1h-1zM37 87h1v1h-1zM30 88h1v1h-1z"/><path fill="#2e6d8e" d="M0 0h1v1h-1zM3 0h1v1h-1zM5 0h1v1h-1zM15 0h1v1h-1zM18 0h1v1h-1zM34 0h2v1h-2zM40 0h1v1h-1zM3 1h1v1h-1zM21 1h1v1h-1zM29 1h1v1h-1zM38 1h1v1h-1zM15 2h1v1h-1zM18 2h1v1h-1zM7 3h1v1h-1zM19 3h1v1h-1zM21 3h1v1h-1zM33 3h2v1h-2zM13 4h1v1h-1zM29 4h2v1h-2zM34 4h1v1h-1zM40 4h1v1h-1zM5 5h1v1h-1zM7 5h2v1h-2zM31 5h1v1h-1zM0 6h1v1h-1zM30 6h1v1h-1zM0 7h1v1h-1zM5 7h1v1h-1zM30 7h1v1h-1zM36 7h1v1h-1zM10 8h1v1h-1zM27 8h1v1h-1zM39 8h1v1h-1zM23 9h1v1h-1zM30 9h1v1h-1zM35 9h1v1h-1zM23 10h1v1h-1zM33 10h1v1h-1zM36 10h1v1h-1zM39 10h1v1h-1zM13 11h1v1h-1zM18 12h1v1h-1zM31 12h1v1h-1zM36 12h1v1h-1zM4 13h1v1h-1zM7 13h1v1h-1zM12 13h1v1h-1zM15 13h1v1h-1zM28 13h1v1h-1zM11 14h1v1h-1zM18 14h1v1h-1zM24 14h1v1h-1zM1 15h1v1h-1zM8 15h1v1h-1zM18 15h1v1h-1zM7 16h2v1h-2zM21 16h1v1h-1zM28 16h1v1h-1zM30 16h1v1h-1zM27 17h1v1h-1zM30 17h1v1h-1zM16 18h1v1h-1zM18 18h1v1h-1zM22 18h4v1h-4zM33 18h1v1h-1zM0 19h8v1h-8zM9 19h1v1h-1zM11 19h4v1h-4zM16 19h4v1h-4zM21 19h8v1h-8zM30 19h7v1h-7zM38 19h1v1h-1zM15 20h1v1h-1zM26 20h2v1h-2zM33 20h1v1h-1zM0 21h1v1h-1zM11 21h1v1h-1zM28 21h2v1h-2zM31 21h1v1h-1zM34 21h3v1h-3zM25 22h1v1h-1zM32 22h1v1h-1zM35 22h2v1h-2zM25 23h1v1h-1zM27 23h1v1h-1zM34 23h1v1h-1zM40 23h1v1h-1zM35 24h1v1h-1zM7 25h1v1h-1zM10 25h1v1h-1zM30 25h1v1h-1zM36 25h1v1h-1zM10 26h1v1h-1zM18 26h1v1h-1zM20 26h1v1h-1zM40 26h1v1h-1zM2 27h1v1h-1zM4 27h1v1h-1zM6 27h1v1h-1zM9 27h3v1h-3zM13 27h6v1h-6zM20 27h9v1h-9zM30 27h11v1h-11zM5 28h1v1h-1zM30 28h1v1h-1zM38 28h1v1h-1zM8 29h1v1h-1zM20 30h1v1h-1zM29 30h2v1h-2zM35 30h1v1h-1zM39 30h1v1h-1zM8 31h1v1h-1zM12 31h1v1h-1zM19 31h1v1h-1zM38 31h1v1h-1zM30 32h1v1h-1zM34 32h1v1h-1zM0 33h5v1h-5zM8 33h2v1h-2zM11 33h7v1h-7zM19 33h1v1h-1zM23 33h16v1h-16zM40 33h1v1h-1zM23 34h1v1h-1zM33 34h1v1h-1zM36 38h1v1h-1zM27 42h1v1h-1zM33 43h1v1h-1zM24 44h1v1h-1zM29 44h1v1h-1zM31 44h1v1h-1zM32 45h1v1h-1zM30 46h1v1h-1zM28 47h1v1h-1zM38 47h1v1h-1zM20 48h1v1h-1zM32 48h2v1h-2zM35 48h1v1h-1zM28 49h1v1h-1zM30 50h1v1h-1zM36 50h1v1h-1zM27 51h1v1h-1zM34 51h1v1h-1zM17 54h1v1h-1zM36 54h1v1h-1zM28 55h1v1h-1zM31 57h1v1h-1zM23 58h1v1h-1zM30 58h1v1h-1zM34 58h1v1h-1zM36 58h1v1h-1zM26 59h1v1h-1zM29 65h1v1h-1zM33 65h1v1h-1zM40 65h1v1h-1zM38 66h1v1h-1zM28 67h1v1h-1zM24 68h1v1h-1zM33 68h1v1h-1zM35 68h1v1h-1zM24 69h1v1h-1zM30 69h2v1h-2zM39 69h1v1h-1zM23 70h1v1h-1zM36 70h1v1h-1zM23 72h1v1h-1zM27 73h1v1h-1zM37 78h1v1h-1zM20 81h1v1h-1zM30 81h1v1h-1zM24 84h1v1h-1zM36 85h1v1h-1zM38 85h1v1h-1zM17 86h1v1h-1zM20 86h1v1h-1zM30 86h1v1h-1zM36 86h1v1h-1zM23 88h1v1h-1zM28 88h1v1h-1z"/><path fill="#2b758e" d="M2 0h1v1h-1zM16 0h1v1h-1zM29 0h1v1h-1zM32 0h1v1h-1zM10 1h1v1h-1zM12 1h1v1h-1zM19 1h1v1h-1zM32 1h1v1h-1zM37 1h1v1h-1zM3 2h1v1h-1zM5 2h1v1h-1zM16 2h1v1h-1zM21 2h2v1h-2zM33 2h1v1h-1zM37 2h1v1h-1zM5 3h1v1h-1zM20 3h1v1h-1zM22 3h1v1h-1zM36 3h1v1h-1zM39 3h1v1h-1zM5 4h1v1h-1zM22 4h1v1h-1zM31 4h1v1h-1zM39 4h1v1h-1zM0 5h1v1h-1zM6 5h1v1h-1zM22 5h1v1h-1zM30 5h1v1h-1zM7 6h1v1h-1zM15 6h2v1h-2zM21 6h2v1h-2zM39 6h1v1h-1zM8 7h1v1h-1zM10 7h1v1h-1zM19 7h1v1h-1zM32 7h1v1h-1zM2 8h1v1h-1zM5 8h1v1h-1zM12 8h1v1h-1zM18 8h2v1h-2zM36 8h1v1h-1zM9 9h1v1h-1zM21 9h1v1h-1zM34 9h1v1h-1zM2 10h1v1h-1zM4 10h1v1h-1zM10 10h1v1h-1zM17 10h1v1h-1zM19 10h2v1h-2zM22 10h1v1h-1zM27 10h1v1h-1zM35 10h1v1h-1zM38 10h1v1h-1zM1 11h1v1h-1zM3 11h1v1h-1zM19 11h1v1h-1zM22 11h1v1h-1zM29 11h1v1h-1zM32 11h1v1h-1zM3 12h1v1h-1zM5 12h1v1h-1zM8 12h1v1h-1zM17 12h1v1h-1zM22 12h1v1h-1zM6 13h1v1h-1zM17 13h1v1h-1zM19 13h1v1h-1zM25 13h1v1h-1zM27 13h1v1h-1zM34 13h1v1h-1zM8 14h1v1h-1zM27 14h1v1h-1zM29 14h1v1h-1zM31 14h1v1h-1zM3 15h1v1h-1zM17 15h1v1h-1zM28 15h1v1h-1zM31 15h1v1h-1zM35 15h1v1h-1zM37 15h1v1h-1zM3 16h1v1h-1zM19 16h1v1h-1zM15 17h1v1h-1zM29 18h1v1h-1zM36 18h1v1h-1zM39 18h1v1h-1zM17 20h1v1h-1zM20 20h1v1h-1zM24 20h1v1h-1zM28 20h1v1h-1zM40 20h1v1h-1zM4 21h1v1h-1zM17 21h1v1h-1zM20 21h1v1h-1zM39 21h2v1h-2zM13 22h1v1h-1zM22 22h2v1h-2zM26 22h2v1h-2zM34 22h1v1h-1zM21 23h1v1h-1zM24 23h1v1h-1zM32 23h2v1h-2zM35 23h1v1h-1zM39 23h1v1h-1zM8 25h1v1h-1zM22 25h1v1h-1zM33 25h1v1h-1zM37 25h1v1h-1zM5 26h1v1h-1zM13 26h1v1h-1zM27 26h2v1h-2zM33 26h1v1h-1zM7 28h1v1h-1zM31 28h1v1h-1zM39 28h1v1h-1zM11 29h1v1h-1zM27 29h2v1h-2zM35 29h1v1h-1zM21 30h1v1h-1zM26 30h1v1h-1zM36 30h1v1h-1zM38 30h1v1h-1zM1 31h1v1h-1zM17 31h1v1h-1zM33 31h1v1h-1zM35 31h1v1h-1zM1 32h1v1h-1zM14 32h1v1h-1zM30 34h1v1h-1zM32 34h1v1h-1zM40 34h1v1h-1zM30 35h1v1h-1zM32 35h1v1h-1zM37 35h1v1h-1zM31 37h2v1h-2zM34 37h1v1h-1zM32 38h1v1h-1zM39 38h1v1h-1zM29 40h2v1h-2zM34 41h2v1h-2zM28 44h1v1h-1zM36 45h1v1h-1zM38 45h1v1h-1zM31 46h2v1h-2zM32 47h1v1h-1zM30 48h1v1h-1zM37 49h1v1h-1zM29 50h1v1h-1zM36 51h1v1h-1zM38 52h1v1h-1zM40 52h1v1h-1zM34 53h1v1h-1zM37 53h1v1h-1zM18 54h1v1h-1zM22 54h1v1h-1zM25 54h3v1h-3zM30 54h1v1h-1zM27 55h1v1h-1zM35 56h1v1h-1zM39 57h1v1h-1zM24 58h1v1h-1zM25 59h1v1h-1zM33 59h1v1h-1zM38 59h2v1h-2zM35 60h1v1h-1zM38 60h1v1h-1zM22 61h1v1h-1zM30 61h1v1h-1zM35 62h1v1h-1zM25 63h1v1h-1zM25 65h1v1h-1zM32 65h1v1h-1zM26 66h3v1h-3zM22 67h1v1h-1zM31 67h1v1h-1zM25 68h1v1h-1zM20 70h1v1h-1zM40 70h1v1h-1zM32 71h1v1h-1zM36 71h1v1h-1zM40 71h1v1h-1zM30 72h2v1h-2zM36 74h1v1h-1zM38 76h1v1h-1zM40 76h1v1h-1zM36 78h1v1h-1zM27 79h1v1h-1zM29 79h1v1h-1zM27 81h1v1h-1zM25 82h1v1h-1zM37 82h1v1h-1zM40 82h1v1h-1zM20 83h1v1h-1zM31 83h1v1h-1zM26 84h1v1h-1zM33 84h1v1h-1zM22 85h1v1h-1zM30 85h1v1h-1zM33 85h2v1h-2z"/><path fill="#287d8e" d="M19 0h1v1h-1zM36 1h1v1h-1zM21 4h1v1h-1zM33 4h1v1h-1zM16 5h1v1h-1zM35 5h1v1h-1zM35 6h1v1h-1zM32 8h1v1h-1zM21 10h1v1h-1zM24 10h1v1h-1zM4 11h1v1h-1zM12 11h1v1h-1zM21 11h1v1h-1zM16 13h1v1h-1zM21 14h1v1h-1zM23 14h1v1h-1zM12 16h1v1h-1zM6 18h1v1h-1zM16 20h1v1h-1zM16 28h1v1h-1zM7 29h1v1h-1zM31 29h1v1h-1zM7 30h2v1h-2zM22 30h1v1h-1zM25 32h1v1h-1zM38 34h1v1h-1zM33 35h1v1h-1zM36 35h1v1h-1zM39 37h1v1h-1zM19 38h1v1h-1zM24 38h1v1h-1zM23 39h1v1h-1zM29 39h1v1h-1zM33 39h1v1h-1zM25 40h1v1h-1zM36 40h1v1h-1zM40 40h1v1h-1zM24 41h1v1h-1zM28 41h1v1h-1zM31 41h1v1h-1zM33 41h1v1h-1zM26 42h1v1h-1zM35 42h1v1h-1zM38 42h1v1h-1zM15 43h1v1h-1zM30 44h1v1h-1zM24 45h2v1h-2zM28 45h1v1h-1zM33 46h1v1h-1zM29 47h1v1h-1zM31 47h1v1h-1zM35 47h1v1h-1zM40 47h1v1h-1zM26 48h1v1h-1zM29 49h1v1h-1zM23 50h2v1h-2zM27 50h1v1h-1zM33 50h1v1h-1zM16 51h1v1h-1zM19 51h1v1h-1zM30 52h3v1h-3zM12 53h1v1h-1zM26 53h1v1h-1zM36 55h1v1h-1zM38 55h1v1h-1zM22 56h1v1h-1zM31 56h1v1h-1zM35 57h1v1h-1zM29 58h1v1h-1zM31 58h1v1h-1zM19 59h1v1h-1zM27 60h1v1h-1zM37 60h1v1h-1zM24 61h1v1h-1zM36 61h1v1h-1zM18 62h1v1h-1zM33 62h1v1h-1zM24 63h1v1h-1zM28 63h1v1h-1zM34 63h1v1h-1zM22 64h1v1h-1zM31 64h1v1h-1zM33 64h1v1h-1zM40 64h1v1h-1zM27 65h1v1h-1zM30 65h2v1h-2zM34 65h2v1h-2zM36 66h1v1h-1zM20 68h1v1h-1zM22 68h1v1h-1zM32 68h1v1h-1zM36 68h1v1h-1zM39 68h1v1h-1zM27 69h1v1h-1zM17 70h1v1h-1zM29 70h1v1h-1zM25 71h1v1h-1zM28 71h1v1h-1zM15 72h1v1h-1zM17 73h1v1h-1zM29 73h2v1h-2zM28 75h1v1h-1zM30 75h1v1h-1zM21 77h1v1h-1zM30 77h1v1h-1zM32 77h1v1h-1zM19 78h1v1h-1zM30 80h1v1h-1zM33 80h1v1h-1zM28 81h1v1h-1zM32 81h1v1h-1zM27 82h1v1h-1zM29 82h1v1h-1zM34 82h1v1h-1zM13 83h1v1h-1zM24 83h1v1h-1zM21 84h2v1h-2zM29 84h1v1h-1zM36 84h2v1h-2zM28 85h1v1h-1zM31 85h1v1h-1zM30 87h1v1h-1zM32 88h1v1h-1z"/><path fill="#25848e" d="M14 1h1v1h-1zM16 4h1v1h-1zM28 9h1v1h-1zM19 12h1v1h-1zM14 14h1v1h-1zM20 14h1v1h-1zM30 14h1v1h-1zM12 15h1v1h-1zM29 16h1v1h-1zM27 21h1v1h-1zM38 22h1v1h-1zM28 24h1v1h-1zM9 28h1v1h-1zM25 29h1v1h-1zM19 30h1v1h-1zM22 31h1v1h-1zM25 35h1v1h-1zM35 35h1v1h-1zM35 36h1v1h-1zM23 37h1v1h-1zM36 37h1v1h-1zM22 39h1v1h-1zM32 39h1v1h-1zM22 40h1v1h-1zM26 40h1v1h-1zM18 41h1v1h-1zM22 41h1v1h-1zM25 41h1v1h-1zM37 41h1v1h-1zM22 42h1v1h-1zM35 43h1v1h-1zM21 44h1v1h-1zM37 45h1v1h-1zM20 46h1v1h-1zM39 46h1v1h-1zM24 47h1v1h-1zM40 48h1v1h-1zM23 49h2v1h-2zM28 52h1v1h-1zM35 53h1v1h-1zM29 55h1v1h-1zM35 55h1v1h-1zM14 56h1v1h-1zM26 56h1v1h-1zM29 57h1v1h-1zM32 57h1v1h-1zM16 58h1v1h-1zM28 60h1v1h-1zM32 61h1v1h-1zM35 61h1v1h-1zM28 62h1v1h-1zM20 63h1v1h-1zM32 63h1v1h-1zM39 64h1v1h-1zM22 66h2v1h-2zM25 66h1v1h-1zM25 67h1v1h-1zM29 67h1v1h-1zM30 68h1v1h-1zM20 69h1v1h-1zM26 69h1v1h-1zM37 69h1v1h-1zM22 70h1v1h-1zM26 70h1v1h-1zM34 70h1v1h-1zM20 72h1v1h-1zM40 72h1v1h-1zM23 73h1v1h-1zM25 73h1v1h-1zM20 74h1v1h-1zM23 74h1v1h-1zM30 74h1v1h-1zM21 75h1v1h-1zM23 75h1v1h-1zM27 75h1v1h-1zM30 76h1v1h-1zM33 76h1v1h-1zM17 77h1v1h-1zM23 77h1v1h-1zM33 77h1v1h-1zM21 78h1v1h-1zM23 78h1v1h-1zM29 78h2v1h-2zM35 78h1v1h-1zM17 80h1v1h-1zM37 80h1v1h-1zM19 82h1v1h-1zM15 83h1v1h-1zM27 83h1v1h-1zM37 83h1v1h-1zM35 84h1v1h-1zM16 85h1v1h-1zM25 86h1v1h-1zM23 87h1v1h-1zM28 87h1v1h-1zM32 87h1v1h-1zM34 87h1v1h-1zM17 88h2v1h-2zM20 88h1v1h-1zM29 88h1v1h-1zM29 89h1v1h-1z"/><path fill="#228c8d" d="M38 0h1v1h-1zM6 1h3v1h-3zM16 1h1v1h-1zM27 1h1v1h-1zM4 2h1v1h-1zM23 2h1v1h-1zM27 2h1v1h-1zM31 2h2v1h-2zM36 2h1v1h-1zM10 3h1v1h-1zM24 3h1v1h-1zM27 3h1v1h-1zM29 3h2v1h-2zM32 3h1v1h-1zM7 4h1v1h-1zM19 4h1v1h-1zM2 5h1v1h-1zM33 5h1v1h-1zM40 5h1v1h-1zM2 6h1v1h-1zM20 6h1v1h-1zM23 6h1v1h-1zM34 6h1v1h-1zM9 7h1v1h-1zM14 7h3v1h-3zM27 7h1v1h-1zM1 8h1v1h-1zM4 8h1v1h-1zM14 8h2v1h-2zM28 8h1v1h-1zM37 8h1v1h-1zM2 9h1v1h-1zM22 9h1v1h-1zM38 9h1v1h-1zM11 10h1v1h-1zM32 10h1v1h-1zM25 11h1v1h-1zM1 12h1v1h-1zM6 12h1v1h-1zM13 12h1v1h-1zM16 12h1v1h-1zM29 12h2v1h-2zM38 12h1v1h-1zM1 13h1v1h-1zM8 13h1v1h-1zM21 13h1v1h-1zM38 13h1v1h-1zM4 14h1v1h-1zM32 14h2v1h-2zM19 15h2v1h-2zM36 15h1v1h-1zM11 16h1v1h-1zM16 16h1v1h-1zM35 16h2v1h-2zM40 16h1v1h-1zM7 17h1v1h-1zM11 17h1v1h-1zM28 17h1v1h-1zM0 18h1v1h-1zM15 18h1v1h-1zM10 20h1v1h-1zM34 20h1v1h-1zM3 21h1v1h-1zM33 21h1v1h-1zM1 22h1v1h-1zM28 22h1v1h-1zM31 22h1v1h-1zM16 23h1v1h-1zM20 23h1v1h-1zM29 23h1v1h-1zM16 24h1v1h-1zM19 24h2v1h-2zM24 24h1v1h-1zM36 24h1v1h-1zM12 26h1v1h-1zM21 26h2v1h-2zM34 26h1v1h-1zM13 28h1v1h-1zM15 28h1v1h-1zM24 28h1v1h-1zM32 28h1v1h-1zM36 28h1v1h-1zM13 29h1v1h-1zM16 29h1v1h-1zM19 29h1v1h-1zM26 29h1v1h-1zM0 30h1v1h-1zM13 30h1v1h-1zM16 30h1v1h-1zM0 31h1v1h-1zM5 31h1v1h-1zM11 31h1v1h-1zM4 32h1v1h-1zM8 32h2v1h-2zM31 32h2v1h-2zM25 34h1v1h-1zM21 35h1v1h-1zM24 35h1v1h-1zM20 36h1v1h-1zM23 36h1v1h-1zM29 36h1v1h-1zM25 37h1v1h-1zM30 37h1v1h-1zM31 38h1v1h-1zM24 39h1v1h-1zM19 40h1v1h-1zM24 40h1v1h-1zM27 40h1v1h-1zM12 42h1v1h-1zM24 42h1v1h-1zM23 43h1v1h-1zM33 44h1v1h-1zM21 45h1v1h-1zM30 45h2v1h-2zM26 46h2v1h-2zM22 47h1v1h-1zM22 48h1v1h-1zM24 48h1v1h-1zM28 48h1v1h-1zM34 49h1v1h-1zM32 50h1v1h-1zM24 51h1v1h-1zM26 51h1v1h-1zM19 53h1v1h-1zM21 53h1v1h-1zM24 53h1v1h-1zM32 53h1v1h-1zM13 54h1v1h-1zM17 56h1v1h-1zM21 56h1v1h-1zM32 56h1v1h-1zM34 56h1v1h-1zM23 57h1v1h-1zM26 58h1v1h-1zM28 58h1v1h-1zM18 59h1v1h-1zM21 59h1v1h-1zM27 59h1v1h-1zM24 60h1v1h-1zM27 61h1v1h-1zM33 61h2v1h-2zM37 61h1v1h-1zM17 62h1v1h-1zM24 62h1v1h-1zM32 62h1v1h-1zM21 63h1v1h-1zM23 64h2v1h-2zM26 64h1v1h-1zM15 65h1v1h-1zM22 65h1v1h-1zM31 66h1v1h-1zM39 66h1v1h-1zM24 67h1v1h-1zM37 68h1v1h-1zM18 69h1v1h-1zM33 69h1v1h-1zM36 69h1v1h-1zM25 70h1v1h-1zM28 70h1v1h-1zM21 71h1v1h-1zM26 71h1v1h-1zM34 71h1v1h-1zM12 72h1v1h-1zM18 72h1v1h-1zM25 72h1v1h-1zM27 72h1v1h-1zM18 74h1v1h-1zM24 74h1v1h-1zM26 74h1v1h-1zM28 74h1v1h-1zM22 75h1v1h-1zM25 75h1v1h-1zM27 76h2v1h-2zM18 77h1v1h-1zM25 78h1v1h-1zM25 79h1v1h-1zM28 79h1v1h-1zM33 79h1v1h-1zM27 80h1v1h-1zM29 80h1v1h-1zM35 80h1v1h-1zM26 81h1v1h-1zM31 81h1v1h-1zM35 81h1v1h-1zM38 81h1v1h-1zM26 82h1v1h-1zM33 82h1v1h-1zM12 83h1v1h-1zM17 83h1v1h-1zM30 83h1v1h-1zM27 84h1v1h-1zM15 85h1v1h-1zM21 85h1v1h-1zM29 85h1v1h-1zM11 86h1v1h-1zM27 86h2v1h-2zM33 87h1v1h-1zM35 87h1v1h-1zM21 88h1v1h-1zM36 88h1v1h-1zM21 89h1v1h-1z"/><path fill="#1f948c" d="M17 0h1v1h-1zM20 0h1v1h-1zM23 0h2v1h-2zM36 0h1v1h-1zM1 1h1v1h-1zM31 1h1v1h-1zM35 1h1v1h-1zM0 2h3v1h-3zM8 2h1v1h-1zM17 2h1v1h-1zM13 3h2v1h-2zM16 3h1v1h-1zM23 3h1v1h-1zM38 3h1v1h-1zM18 4h1v1h-1zM24 4h1v1h-1zM27 4h1v1h-1zM32 4h1v1h-1zM36 4h1v1h-1zM15 5h1v1h-1zM23 5h1v1h-1zM28 5h1v1h-1zM34 5h1v1h-1zM38 5h1v1h-1zM6 6h1v1h-1zM12 6h1v1h-1zM32 6h1v1h-1zM6 7h1v1h-1zM18 7h1v1h-1zM0 8h1v1h-1zM6 8h1v1h-1zM31 8h1v1h-1zM40 8h1v1h-1zM10 9h1v1h-1zM15 9h2v1h-2zM24 9h1v1h-1zM32 9h2v1h-2zM3 10h1v1h-1zM12 10h1v1h-1zM16 10h1v1h-1zM34 10h1v1h-1zM37 10h1v1h-1zM8 11h1v1h-1zM20 11h1v1h-1zM12 12h1v1h-1zM20 12h1v1h-1zM25 12h1v1h-1zM35 12h1v1h-1zM14 13h1v1h-1zM31 13h1v1h-1zM12 14h1v1h-1zM16 14h1v1h-1zM19 14h1v1h-1zM40 14h1v1h-1zM21 15h1v1h-1zM27 15h1v1h-1zM32 15h1v1h-1zM34 16h1v1h-1zM38 16h1v1h-1zM16 17h1v1h-1zM20 17h1v1h-1zM23 17h1v1h-1zM1 18h1v1h-1zM8 18h1v1h-1zM1 20h1v1h-1zM37 20h1v1h-1zM18 21h1v1h-1zM21 21h1v1h-1zM25 21h1v1h-1zM9 22h1v1h-1zM17 22h2v1h-2zM29 22h1v1h-1zM40 22h1v1h-1zM1 23h1v1h-1zM12 23h1v1h-1zM14 23h1v1h-1zM17 23h1v1h-1zM19 23h1v1h-1zM38 23h1v1h-1zM17 24h2v1h-2zM29 24h2v1h-2zM32 24h1v1h-1zM17 26h1v1h-1zM24 26h1v1h-1zM31 26h1v1h-1zM26 28h1v1h-1zM37 28h1v1h-1zM0 29h2v1h-2zM1 30h1v1h-1zM28 31h2v1h-2zM32 31h1v1h-1zM37 31h1v1h-1zM16 32h1v1h-1zM24 32h1v1h-1zM28 32h1v1h-1zM18 34h1v1h-1zM21 34h1v1h-1zM26 35h2v1h-2zM22 36h1v1h-1zM25 36h1v1h-1zM27 36h2v1h-2zM20 37h2v1h-2zM23 38h1v1h-1zM27 38h1v1h-1zM18 39h1v1h-1zM21 39h1v1h-1zM25 39h1v1h-1zM20 40h1v1h-1zM31 40h2v1h-2zM15 41h1v1h-1zM30 41h1v1h-1zM14 42h1v1h-1zM29 42h1v1h-1zM28 43h1v1h-1zM17 44h3v1h-3zM26 44h1v1h-1zM20 45h1v1h-1zM27 45h1v1h-1zM24 46h2v1h-2zM16 47h1v1h-1zM18 47h1v1h-1zM21 48h1v1h-1zM26 50h1v1h-1zM28 50h1v1h-1zM18 51h1v1h-1zM20 51h1v1h-1zM23 51h1v1h-1zM29 53h2v1h-2zM12 54h1v1h-1zM28 54h1v1h-1zM31 54h3v1h-3zM18 55h1v1h-1zM29 56h1v1h-1zM20 57h1v1h-1zM24 57h1v1h-1zM26 57h1v1h-1zM28 57h1v1h-1zM30 57h1v1h-1zM17 58h1v1h-1zM21 58h1v1h-1zM25 58h1v1h-1zM10 60h1v1h-1zM20 60h1v1h-1zM25 60h2v1h-2zM7 61h1v1h-1zM19 62h1v1h-1zM19 63h1v1h-1zM26 63h1v1h-1zM31 63h1v1h-1zM17 65h1v1h-1zM23 65h2v1h-2zM20 66h2v1h-2zM34 66h1v1h-1zM40 69h1v1h-1zM19 71h1v1h-1zM22 71h1v1h-1zM17 72h1v1h-1zM22 72h1v1h-1zM24 72h1v1h-1zM32 72h1v1h-1zM36 72h1v1h-1zM21 73h1v1h-1zM26 73h1v1h-1zM24 75h1v1h-1zM32 75h1v1h-1zM11 76h1v1h-1zM14 76h1v1h-1zM20 76h1v1h-1zM31 76h1v1h-1zM28 77h1v1h-1zM18 78h1v1h-1zM24 79h1v1h-1zM22 80h1v1h-1zM32 80h1v1h-1zM24 81h1v1h-1zM18 82h1v1h-1zM35 86h1v1h-1zM26 87h1v1h-1zM14 88h1v1h-1zM22 88h1v1h-1z"/><path fill="#1e9c89" d="M1 0h1v1h-1zM18 3h1v1h-1zM32 5h1v1h-1zM3 6h1v1h-1zM21 8h1v1h-1zM19 9h1v1h-1zM15 11h1v1h-1zM11 13h1v1h-1zM33 13h1v1h-1zM16 15h1v1h-1zM37 16h1v1h-1zM6 20h1v1h-1zM20 22h1v1h-1zM31 23h1v1h-1zM6 30h1v1h-1zM12 30h1v1h-1zM13 34h1v1h-1zM24 34h1v1h-1zM22 35h1v1h-1zM19 37h1v1h-1zM29 38h1v1h-1zM28 40h1v1h-1zM11 41h1v1h-1zM19 41h2v1h-2zM23 41h1v1h-1zM27 41h1v1h-1zM16 44h1v1h-1zM19 45h1v1h-1zM22 45h1v1h-1zM23 46h1v1h-1zM20 47h1v1h-1zM23 47h1v1h-1zM12 48h1v1h-1zM29 48h1v1h-1zM20 49h2v1h-2zM9 50h1v1h-1zM19 50h1v1h-1zM25 51h1v1h-1zM31 51h1v1h-1zM12 52h1v1h-1zM18 52h1v1h-1zM26 52h1v1h-1zM17 53h1v1h-1zM3 54h1v1h-1zM21 54h1v1h-1zM19 55h1v1h-1zM18 56h1v1h-1zM24 56h1v1h-1zM15 57h1v1h-1zM21 57h1v1h-1zM13 58h1v1h-1zM27 58h1v1h-1zM15 59h1v1h-1zM14 60h1v1h-1zM19 60h1v1h-1zM14 61h1v1h-1zM15 62h1v1h-1zM17 63h1v1h-1zM29 63h1v1h-1zM27 64h1v1h-1zM38 64h1v1h-1zM26 65h1v1h-1zM17 66h1v1h-1zM6 68h1v1h-1zM16 68h1v1h-1zM18 68h1v1h-1zM23 68h1v1h-1zM26 68h1v1h-1zM28 68h1v1h-1zM13 69h1v1h-1zM15 69h1v1h-1zM23 69h1v1h-1zM34 69h1v1h-1zM27 71h1v1h-1zM14 73h2v1h-2zM31 73h1v1h-1zM17 74h1v1h-1zM19 74h1v1h-1zM34 74h1v1h-1zM20 75h1v1h-1zM23 76h1v1h-1zM25 76h2v1h-2zM7 77h1v1h-1zM19 77h1v1h-1zM17 78h1v1h-1zM27 78h1v1h-1zM13 80h1v1h-1zM23 81h1v1h-1zM21 82h1v1h-1zM35 82h1v1h-1zM22 83h2v1h-2zM38 83h1v1h-1zM17 84h1v1h-1zM23 84h1v1h-1zM28 84h1v1h-1zM10 85h1v1h-1zM14 85h1v1h-1zM20 85h1v1h-1zM23 85h1v1h-1zM10 86h1v1h-1zM19 86h1v1h-1zM26 86h1v1h-1zM12 87h1v1h-1zM18 87h1v1h-1zM25 87h1v1h-1zM11 89h1v1h-1zM17 89h1v1h-1zM22 89h1v1h-1zM26 89h1v1h-1z"/><path fill="#20a386" d="M10 0h1v1h-1zM40 3h1v1h-1zM37 5h1v1h-1zM33 6h1v1h-1zM30 11h1v1h-1zM28 12h1v1h-1zM40 12h1v1h-1zM32 21h1v1h-1zM5 29h1v1h-1zM30 29h1v1h-1zM28 30h1v1h-1zM27 31h1v1h-1zM26 34h1v1h-1zM18 37h1v1h-1zM6 38h1v1h-1zM17 38h1v1h-1zM21 38h1v1h-1zM35 38h1v1h-1zM26 39h1v1h-1zM17 40h1v1h-1zM13 42h1v1h-1zM30 42h1v1h-1zM24 43h2v1h-2zM12 44h1v1h-1zM22 44h2v1h-2zM35 44h1v1h-1zM23 45h1v1h-1zM14 46h1v1h-1zM19 47h1v1h-1zM14 48h1v1h-1zM18 48h1v1h-1zM25 48h1v1h-1zM31 48h1v1h-1zM16 50h1v1h-1zM11 51h1v1h-1zM15 51h1v1h-1zM21 51h1v1h-1zM19 52h1v1h-1zM29 52h1v1h-1zM25 53h1v1h-1zM7 54h1v1h-1zM17 55h1v1h-1zM24 55h1v1h-1zM19 56h1v1h-1zM25 56h1v1h-1zM27 57h1v1h-1zM22 58h1v1h-1zM14 59h1v1h-1zM20 59h1v1h-1zM12 60h1v1h-1zM21 61h1v1h-1zM25 61h1v1h-1zM28 61h1v1h-1zM22 62h1v1h-1zM12 63h1v1h-1zM27 63h1v1h-1zM16 64h1v1h-1zM20 64h1v1h-1zM25 64h1v1h-1zM21 65h1v1h-1zM18 67h1v1h-1zM22 69h1v1h-1zM28 69h1v1h-1zM16 71h1v1h-1zM20 71h1v1h-1zM19 72h1v1h-1zM29 72h1v1h-1zM13 73h1v1h-1zM20 73h1v1h-1zM28 73h1v1h-1zM25 74h1v1h-1zM8 76h1v1h-1zM12 76h1v1h-1zM18 76h1v1h-1zM21 76h2v1h-2zM24 76h1v1h-1zM12 77h1v1h-1zM24 77h1v1h-1zM13 79h1v1h-1zM23 79h1v1h-1zM18 80h1v1h-1zM20 80h1v1h-1zM26 80h1v1h-1zM18 81h2v1h-2zM9 82h1v1h-1zM14 82h1v1h-1zM23 82h1v1h-1zM10 83h1v1h-1zM26 83h1v1h-1zM15 84h2v1h-2zM20 84h1v1h-1zM25 84h1v1h-1zM29 86h1v1h-1zM27 87h1v1h-1zM19 88h1v1h-1zM25 88h1v1h-1zM27 88h1v1h-1zM35 88h1v1h-1zM25 89h1v1h-1z"/><path fill="#25ab82" d="M9 0h1v1h-1zM37 0h1v1h-1zM9 1h1v1h-1zM28 1h1v1h-1zM33 1h1v1h-1zM12 2h1v1h-1zM6 3h1v1h-1zM15 3h1v1h-1zM2 4h2v1h-2zM9 4h1v1h-1zM35 4h1v1h-1zM38 4h1v1h-1zM18 5h1v1h-1zM9 6h1v1h-1zM1 7h1v1h-1zM3 7h1v1h-1zM12 7h1v1h-1zM23 7h1v1h-1zM34 7h1v1h-1zM7 8h1v1h-1zM3 9h1v1h-1zM26 9h1v1h-1zM1 10h1v1h-1zM14 10h2v1h-2zM29 10h1v1h-1zM10 11h2v1h-2zM16 11h1v1h-1zM23 11h1v1h-1zM33 11h2v1h-2zM38 11h1v1h-1zM40 11h1v1h-1zM7 12h1v1h-1zM10 12h1v1h-1zM21 12h1v1h-1zM27 12h1v1h-1zM3 13h1v1h-1zM37 13h1v1h-1zM0 14h1v1h-1zM35 14h1v1h-1zM26 15h1v1h-1zM34 15h1v1h-1zM40 15h1v1h-1zM0 16h1v1h-1zM2 16h1v1h-1zM20 16h1v1h-1zM33 16h1v1h-1zM26 17h1v1h-1zM32 17h1v1h-1zM35 17h1v1h-1zM20 18h1v1h-1zM31 18h1v1h-1zM35 18h1v1h-1zM38 20h1v1h-1zM26 21h1v1h-1zM15 22h1v1h-1zM4 24h2v1h-2zM14 25h1v1h-1zM8 26h1v1h-1zM35 26h1v1h-1zM22 28h1v1h-1zM4 30h1v1h-1zM14 30h1v1h-1zM31 30h1v1h-1zM33 30h1v1h-1zM7 31h1v1h-1zM13 31h1v1h-1zM18 31h1v1h-1zM25 31h1v1h-1zM11 32h1v1h-1zM22 32h1v1h-1zM27 32h1v1h-1zM29 32h1v1h-1zM33 32h1v1h-1zM10 34h1v1h-1zM12 34h1v1h-1zM16 34h1v1h-1zM15 35h2v1h-2zM18 35h2v1h-2zM23 35h1v1h-1zM31 35h1v1h-1zM16 36h2v1h-2zM21 36h1v1h-1zM30 36h1v1h-1zM17 37h1v1h-1zM22 37h1v1h-1zM27 37h1v1h-1zM12 38h1v1h-1zM14 38h1v1h-1zM6 39h1v1h-1zM15 40h1v1h-1zM18 42h1v1h-1zM21 42h1v1h-1zM28 42h1v1h-1zM18 43h2v1h-2zM22 43h1v1h-1zM14 45h1v1h-1zM18 45h1v1h-1zM16 46h1v1h-1zM19 46h1v1h-1zM17 47h1v1h-1zM26 47h1v1h-1zM10 48h2v1h-2zM17 49h1v1h-1zM19 49h1v1h-1zM25 49h3v1h-3zM8 50h1v1h-1zM18 50h1v1h-1zM25 50h1v1h-1zM20 52h1v1h-1zM5 53h1v1h-1zM18 53h1v1h-1zM23 54h1v1h-1zM15 55h1v1h-1zM26 55h1v1h-1zM16 56h1v1h-1zM23 56h1v1h-1zM28 56h1v1h-1zM33 56h1v1h-1zM18 57h2v1h-2zM9 58h1v1h-1zM11 58h1v1h-1zM20 58h1v1h-1zM32 58h1v1h-1zM11 60h1v1h-1zM17 60h2v1h-2zM9 61h1v1h-1zM20 62h1v1h-1zM23 62h1v1h-1zM37 62h1v1h-1zM8 63h2v1h-2zM15 63h1v1h-1zM18 63h1v1h-1zM22 63h2v1h-2zM15 64h1v1h-1zM18 65h1v1h-1zM20 65h1v1h-1zM16 66h1v1h-1zM18 66h2v1h-2zM21 67h1v1h-1zM12 68h1v1h-1zM29 68h1v1h-1zM37 70h1v1h-1zM17 71h1v1h-1zM24 71h1v1h-1zM16 72h1v1h-1zM26 72h1v1h-1zM16 74h1v1h-1zM27 74h1v1h-1zM29 74h1v1h-1zM26 75h1v1h-1zM19 76h1v1h-1zM27 77h1v1h-1zM17 79h2v1h-2zM21 79h1v1h-1zM26 79h1v1h-1zM5 80h1v1h-1zM8 80h1v1h-1zM15 80h1v1h-1zM21 80h1v1h-1zM17 82h1v1h-1zM25 83h1v1h-1zM19 84h1v1h-1zM31 84h1v1h-1zM26 85h1v1h-1zM24 86h1v1h-1zM17 87h1v1h-1zM22 87h1v1h-1zM9 88h1v1h-1zM27 89h1v1h-1z"/><path fill="#2eb37c" d="M39 0h1v1h-1zM0 1h1v1h-1zM17 1h1v1h-1zM34 1h1v1h-1zM7 2h1v1h-1zM8 3h1v1h-1zM31 3h1v1h-1zM0 4h1v1h-1zM6 4h1v1h-1zM14 4h1v1h-1zM9 5h1v1h-1zM20 5h1v1h-1zM18 6h1v1h-1zM26 6h1v1h-1zM7 7h1v1h-1zM31 7h1v1h-1zM24 8h1v1h-1zM34 8h1v1h-1zM5 9h1v1h-1zM8 9h1v1h-1zM8 10h1v1h-1zM7 11h1v1h-1zM31 11h1v1h-1zM14 12h1v1h-1zM34 12h1v1h-1zM30 13h1v1h-1zM7 14h1v1h-1zM34 14h1v1h-1zM37 14h1v1h-1zM14 15h1v1h-1zM1 16h1v1h-1zM6 16h1v1h-1zM17 16h1v1h-1zM24 17h1v1h-1zM3 18h1v1h-1zM19 18h1v1h-1zM26 18h1v1h-1zM13 20h1v1h-1zM25 20h1v1h-1zM19 21h1v1h-1zM23 21h1v1h-1zM37 21h1v1h-1zM26 23h1v1h-1zM11 24h1v1h-1zM22 24h1v1h-1zM17 28h1v1h-1zM35 28h1v1h-1zM18 29h1v1h-1zM21 29h1v1h-1zM23 29h1v1h-1zM29 29h1v1h-1zM27 30h1v1h-1zM34 30h1v1h-1zM37 30h1v1h-1zM6 31h1v1h-1zM23 31h1v1h-1zM0 32h1v1h-1zM14 34h1v1h-1zM11 35h1v1h-1zM20 35h1v1h-1zM14 36h1v1h-1zM5 38h1v1h-1zM11 38h1v1h-1zM12 39h1v1h-1zM16 39h1v1h-1zM28 39h1v1h-1zM16 41h1v1h-1zM32 41h1v1h-1zM36 41h1v1h-1zM16 42h1v1h-1zM20 42h1v1h-1zM31 42h1v1h-1zM14 43h1v1h-1zM31 43h1v1h-1zM14 44h2v1h-2zM8 46h1v1h-1zM22 46h1v1h-1zM23 48h1v1h-1zM17 50h1v1h-1zM22 50h1v1h-1zM8 51h1v1h-1zM7 52h1v1h-1zM23 52h1v1h-1zM11 53h1v1h-1zM15 53h2v1h-2zM22 53h2v1h-2zM16 54h1v1h-1zM20 55h1v1h-1zM13 56h1v1h-1zM24 59h1v1h-1zM13 60h1v1h-1zM16 60h1v1h-1zM17 61h2v1h-2zM20 61h1v1h-1zM26 61h1v1h-1zM7 62h1v1h-1zM14 62h1v1h-1zM13 64h1v1h-1zM18 64h1v1h-1zM28 64h1v1h-1zM16 65h1v1h-1zM20 67h1v1h-1zM14 68h1v1h-1zM17 68h1v1h-1zM25 69h1v1h-1zM13 70h2v1h-2zM16 70h1v1h-1zM18 70h1v1h-1zM7 72h1v1h-1zM9 72h1v1h-1zM11 72h1v1h-1zM21 72h1v1h-1zM12 73h1v1h-1zM11 74h1v1h-1zM13 74h1v1h-1zM8 75h1v1h-1zM15 76h1v1h-1zM15 77h2v1h-2zM20 77h1v1h-1zM7 78h1v1h-1zM11 78h1v1h-1zM13 78h1v1h-1zM12 81h1v1h-1zM17 81h1v1h-1zM22 81h1v1h-1zM12 82h1v1h-1zM20 82h1v1h-1zM24 82h1v1h-1zM21 83h1v1h-1zM34 83h1v1h-1zM27 85h1v1h-1zM21 86h1v1h-1zM23 86h1v1h-1zM19 87h2v1h-2z"/><path fill="#3aba76" d="M40 2h1v1h-1zM2 3h1v1h-1zM23 4h1v1h-1zM3 5h1v1h-1zM33 7h1v1h-1zM38 17h1v1h-1zM2 18h1v1h-1zM15 34h1v1h-1zM19 34h2v1h-2zM7 35h1v1h-1zM12 35h1v1h-1zM19 36h1v1h-1zM13 37h1v1h-1zM26 37h1v1h-1zM20 38h1v1h-1zM25 38h1v1h-1zM19 39h1v1h-1zM27 39h1v1h-1zM11 40h1v1h-1zM14 40h1v1h-1zM14 41h1v1h-1zM21 41h1v1h-1zM11 42h1v1h-1zM19 42h1v1h-1zM17 43h1v1h-1zM10 44h1v1h-1zM12 45h1v1h-1zM13 46h1v1h-1zM14 47h1v1h-1zM25 47h1v1h-1zM4 48h2v1h-2zM19 48h1v1h-1zM13 49h2v1h-2zM16 49h1v1h-1zM12 50h1v1h-1zM21 50h1v1h-1zM9 51h1v1h-1zM12 51h1v1h-1zM14 51h1v1h-1zM17 52h1v1h-1zM27 52h1v1h-1zM14 53h1v1h-1zM9 54h1v1h-1zM19 54h1v1h-1zM8 55h1v1h-1zM13 55h1v1h-1zM21 55h2v1h-2zM20 56h1v1h-1zM16 57h1v1h-1zM18 58h1v1h-1zM17 59h1v1h-1zM22 60h2v1h-2zM11 61h1v1h-1zM16 63h1v1h-1zM5 65h1v1h-1zM11 65h1v1h-1zM15 66h1v1h-1zM24 66h1v1h-1zM3 67h1v1h-1zM16 67h1v1h-1zM15 68h1v1h-1zM21 68h1v1h-1zM9 69h1v1h-1zM14 69h1v1h-1zM19 69h1v1h-1zM10 70h1v1h-1zM19 70h1v1h-1zM7 71h1v1h-1zM6 72h1v1h-1zM11 73h1v1h-1zM16 73h1v1h-1zM19 73h1v1h-1zM22 73h1v1h-1zM10 74h1v1h-1zM12 74h1v1h-1zM22 74h1v1h-1zM16 75h1v1h-1zM13 76h1v1h-1zM16 76h2v1h-2zM14 77h1v1h-1zM8 78h1v1h-1zM15 78h1v1h-1zM20 78h1v1h-1zM26 78h1v1h-1zM28 78h1v1h-1zM12 79h1v1h-1zM20 79h1v1h-1zM6 80h1v1h-1zM11 80h1v1h-1zM19 80h1v1h-1zM34 80h1v1h-1zM15 81h1v1h-1zM21 81h1v1h-1zM11 82h1v1h-1zM11 83h1v1h-1zM16 83h1v1h-1zM13 85h1v1h-1zM18 85h1v1h-1zM8 86h1v1h-1zM16 86h1v1h-1zM18 86h1v1h-1zM22 86h1v1h-1zM6 87h1v1h-1zM8 87h1v1h-1zM24 87h1v1h-1zM12 88h2v1h-2zM13 89h1v1h-1zM15 89h2v1h-2z"/><path fill="#48c16e" d="M40 1h1v1h-1zM13 2h1v1h-1zM26 5h1v1h-1zM27 6h1v1h-1zM16 8h1v1h-1zM33 8h1v1h-1zM39 9h1v1h-1zM14 11h1v1h-1zM13 13h1v1h-1zM25 15h1v1h-1zM12 17h1v1h-1zM5 20h1v1h-1zM16 26h1v1h-1zM22 29h1v1h-1zM6 32h1v1h-1zM3 34h1v1h-1zM8 34h1v1h-1zM11 34h1v1h-1zM17 34h1v1h-1zM17 35h1v1h-1zM7 36h1v1h-1zM11 36h1v1h-1zM9 37h1v1h-1zM14 37h1v1h-1zM16 37h1v1h-1zM4 39h1v1h-1zM17 39h1v1h-1zM20 39h1v1h-1zM9 41h2v1h-2zM7 42h1v1h-1zM10 42h1v1h-1zM23 42h1v1h-1zM20 43h2v1h-2zM6 44h1v1h-1zM20 44h1v1h-1zM15 45h1v1h-1zM17 45h1v1h-1zM4 46h1v1h-1zM9 46h1v1h-1zM15 46h1v1h-1zM17 46h1v1h-1zM3 47h2v1h-2zM10 47h1v1h-1zM15 47h1v1h-1zM9 48h1v1h-1zM7 49h1v1h-1zM9 49h1v1h-1zM22 49h1v1h-1zM11 50h1v1h-1zM15 50h1v1h-1zM17 51h1v1h-1zM6 52h1v1h-1zM14 52h1v1h-1zM21 52h1v1h-1zM7 53h1v1h-1zM9 53h1v1h-1zM14 55h1v1h-1zM5 56h1v1h-1zM15 56h1v1h-1zM22 57h1v1h-1zM25 57h1v1h-1zM15 58h1v1h-1zM19 58h1v1h-1zM12 59h1v1h-1zM13 61h1v1h-1zM19 61h1v1h-1zM21 62h1v1h-1zM14 63h1v1h-1zM7 64h1v1h-1zM14 64h1v1h-1zM21 64h1v1h-1zM12 65h2v1h-2zM19 65h1v1h-1zM13 66h1v1h-1zM14 67h1v1h-1zM17 67h1v1h-1zM26 67h1v1h-1zM5 68h1v1h-1zM7 68h1v1h-1zM19 68h1v1h-1zM5 69h1v1h-1zM7 69h2v1h-2zM11 69h1v1h-1zM16 69h1v1h-1zM21 69h1v1h-1zM15 70h1v1h-1zM8 72h1v1h-1zM10 72h1v1h-1zM13 72h1v1h-1zM8 73h1v1h-1zM24 73h1v1h-1zM11 75h1v1h-1zM14 75h1v1h-1zM8 77h1v1h-1zM24 78h1v1h-1zM8 79h2v1h-2zM14 79h1v1h-1zM9 80h1v1h-1zM13 81h1v1h-1zM7 82h1v1h-1zM10 82h1v1h-1zM14 83h1v1h-1zM18 83h2v1h-2zM11 84h2v1h-2zM11 85h1v1h-1zM14 86h2v1h-2zM6 88h1v1h-1zM11 88h1v1h-1zM4 89h1v1h-1zM14 89h1v1h-1zM18 89h2v1h-2z"/><path fill="#58c765" d="M4 0h1v1h-1zM6 0h1v1h-1zM13 0h1v1h-1zM25 0h1v1h-1zM27 0h1v1h-1zM33 0h1v1h-1zM11 1h1v1h-1zM23 1h2v1h-2zM39 1h1v1h-1zM28 2h1v1h-1zM34 2h1v1h-1zM1 3h1v1h-1zM17 3h1v1h-1zM10 4h1v1h-1zM4 5h1v1h-1zM12 5h1v1h-1zM14 5h1v1h-1zM17 5h1v1h-1zM25 5h1v1h-1zM4 6h1v1h-1zM10 6h1v1h-1zM17 6h1v1h-1zM19 6h1v1h-1zM28 6h1v1h-1zM4 7h1v1h-1zM13 7h1v1h-1zM24 7h2v1h-2zM38 7h1v1h-1zM8 8h2v1h-2zM11 8h1v1h-1zM6 9h1v1h-1zM7 10h1v1h-1zM31 10h1v1h-1zM5 11h1v1h-1zM18 11h1v1h-1zM26 11h1v1h-1zM0 12h1v1h-1zM33 12h1v1h-1zM0 13h1v1h-1zM2 13h1v1h-1zM26 13h1v1h-1zM29 13h1v1h-1zM35 13h1v1h-1zM13 14h1v1h-1zM11 15h1v1h-1zM23 15h1v1h-1zM29 15h1v1h-1zM25 16h1v1h-1zM31 16h1v1h-1zM3 17h1v1h-1zM5 17h2v1h-2zM8 17h1v1h-1zM13 17h1v1h-1zM19 17h1v1h-1zM29 17h1v1h-1zM37 17h1v1h-1zM9 18h2v1h-2zM12 18h1v1h-1zM17 18h1v1h-1zM32 18h1v1h-1zM40 18h1v1h-1zM14 20h1v1h-1zM23 20h1v1h-1zM29 20h2v1h-2zM32 20h1v1h-1zM35 20h1v1h-1zM8 21h1v1h-1zM10 21h1v1h-1zM14 21h2v1h-2zM38 21h1v1h-1zM7 24h1v1h-1zM15 24h1v1h-1zM26 24h1v1h-1zM4 25h2v1h-2zM1 26h2v1h-2zM15 26h1v1h-1zM26 26h1v1h-1zM32 26h1v1h-1zM36 26h1v1h-1zM8 27h1v1h-1zM10 28h1v1h-1zM20 28h1v1h-1zM27 28h1v1h-1zM6 29h1v1h-1zM9 29h1v1h-1zM32 29h3v1h-3zM17 30h1v1h-1zM4 31h1v1h-1zM12 32h1v1h-1zM22 34h1v1h-1zM13 35h1v1h-1zM28 35h1v1h-1zM2 36h1v1h-1zM13 36h1v1h-1zM9 38h1v1h-1zM15 38h1v1h-1zM3 39h1v1h-1zM14 39h2v1h-2zM21 40h1v1h-1zM2 42h2v1h-2zM15 42h1v1h-1zM13 43h1v1h-1zM26 43h1v1h-1zM11 44h1v1h-1zM9 45h1v1h-1zM13 45h1v1h-1zM3 46h1v1h-1zM10 46h1v1h-1zM12 46h1v1h-1zM7 48h1v1h-1zM16 48h1v1h-1zM12 49h1v1h-1zM4 50h1v1h-1zM20 50h1v1h-1zM7 51h1v1h-1zM13 51h1v1h-1zM15 52h1v1h-1zM25 52h1v1h-1zM3 53h1v1h-1zM5 54h1v1h-1zM16 55h1v1h-1zM3 56h1v1h-1zM12 56h1v1h-1zM13 57h1v1h-1zM7 58h1v1h-1zM14 58h1v1h-1zM22 59h1v1h-1zM8 60h1v1h-1zM21 60h1v1h-1zM8 61h1v1h-1zM12 62h1v1h-1zM11 63h1v1h-1zM11 64h1v1h-1zM19 64h1v1h-1zM7 65h1v1h-1zM8 66h1v1h-1zM11 66h1v1h-1zM10 67h2v1h-2zM15 67h1v1h-1zM8 68h2v1h-2zM11 68h1v1h-1zM13 68h1v1h-1zM17 69h1v1h-1zM4 70h2v1h-2zM11 71h1v1h-1zM15 71h1v1h-1zM18 71h1v1h-1zM5 72h1v1h-1zM15 74h1v1h-1zM12 75h1v1h-1zM9 76h1v1h-1zM22 77h1v1h-1zM12 78h1v1h-1zM6 79h1v1h-1zM16 79h1v1h-1zM19 79h1v1h-1zM7 80h1v1h-1zM14 80h1v1h-1zM16 80h1v1h-1zM10 81h1v1h-1zM13 82h1v1h-1zM16 82h1v1h-1zM18 84h1v1h-1zM19 85h1v1h-1zM13 87h2v1h-2zM7 88h1v1h-1zM15 88h1v1h-1zM8 89h1v1h-1z"/><path fill="#6ccd5a" d="M14 2h1v1h-1zM11 3h1v1h-1zM11 4h1v1h-1zM19 5h1v1h-1zM25 6h1v1h-1zM17 8h1v1h-1zM23 8h1v1h-1zM0 9h1v1h-1zM17 9h1v1h-1zM39 11h1v1h-1zM11 12h1v1h-1zM26 12h1v1h-1zM23 13h1v1h-1zM2 14h1v1h-1zM28 14h1v1h-1zM5 15h2v1h-2zM13 15h1v1h-1zM33 15h1v1h-1zM26 16h1v1h-1zM0 17h1v1h-1zM2 17h1v1h-1zM22 17h1v1h-1zM40 17h1v1h-1zM34 18h1v1h-1zM13 21h1v1h-1zM4 23h1v1h-1zM2 24h1v1h-1zM10 24h1v1h-1zM31 24h1v1h-1zM15 25h2v1h-2zM19 25h1v1h-1zM32 25h1v1h-1zM4 26h1v1h-1zM7 26h1v1h-1zM9 26h1v1h-1zM5 27h1v1h-1zM3 28h1v1h-1zM6 28h1v1h-1zM12 28h1v1h-1zM28 28h1v1h-1zM11 30h1v1h-1zM18 30h1v1h-1zM32 30h1v1h-1zM2 31h1v1h-1zM20 31h1v1h-1zM17 32h1v1h-1zM5 35h1v1h-1zM5 36h1v1h-1zM5 37h1v1h-1zM15 37h1v1h-1zM13 38h1v1h-1zM9 40h2v1h-2zM13 40h1v1h-1zM18 40h1v1h-1zM3 41h1v1h-1zM7 41h1v1h-1zM17 42h1v1h-1zM5 43h1v1h-1zM16 43h1v1h-1zM4 44h1v1h-1zM16 45h1v1h-1zM13 47h1v1h-1zM6 49h1v1h-1zM14 50h1v1h-1zM4 52h1v1h-1zM16 52h1v1h-1zM8 54h1v1h-1zM14 54h1v1h-1zM20 54h1v1h-1zM7 55h1v1h-1zM23 55h1v1h-1zM11 56h1v1h-1zM14 57h1v1h-1zM12 58h1v1h-1zM9 59h1v1h-1zM15 60h1v1h-1zM12 61h1v1h-1zM15 61h1v1h-1zM8 62h1v1h-1zM16 62h1v1h-1zM4 63h2v1h-2zM8 64h1v1h-1zM10 64h1v1h-1zM13 67h1v1h-1zM19 67h1v1h-1zM12 69h1v1h-1zM21 70h1v1h-1zM8 71h1v1h-1zM7 73h1v1h-1zM18 73h1v1h-1zM13 75h1v1h-1zM19 75h1v1h-1zM4 76h1v1h-1zM6 76h1v1h-1zM4 77h1v1h-1zM13 77h1v1h-1zM9 78h2v1h-2zM11 79h1v1h-1zM3 80h2v1h-2zM4 81h1v1h-1zM8 81h1v1h-1zM16 81h1v1h-1zM15 82h1v1h-1zM3 83h2v1h-2zM13 84h1v1h-1zM12 85h1v1h-1zM17 85h1v1h-1zM5 89h1v1h-1zM9 89h1v1h-1z"/><path fill="#7fd34e" d="M17 4h1v1h-1zM36 14h1v1h-1zM4 20h1v1h-1zM19 28h1v1h-1zM13 32h1v1h-1zM9 34h1v1h-1zM14 35h1v1h-1zM12 36h1v1h-1zM0 37h1v1h-1zM18 38h1v1h-1zM7 39h1v1h-1zM7 40h1v1h-1zM12 40h1v1h-1zM8 41h1v1h-1zM13 41h1v1h-1zM11 43h2v1h-2zM7 44h2v1h-2zM13 44h1v1h-1zM11 46h1v1h-1zM18 46h1v1h-1zM21 47h1v1h-1zM8 49h1v1h-1zM11 49h1v1h-1zM15 49h1v1h-1zM18 49h1v1h-1zM6 50h2v1h-2zM6 54h1v1h-1zM10 54h1v1h-1zM11 55h1v1h-1zM7 56h1v1h-1zM11 59h1v1h-1zM13 59h1v1h-1zM7 60h1v1h-1zM5 61h1v1h-1zM16 61h1v1h-1zM6 62h1v1h-1zM9 62h2v1h-2zM13 63h1v1h-1zM3 65h1v1h-1zM14 65h1v1h-1zM3 68h1v1h-1zM3 69h1v1h-1zM10 69h1v1h-1zM9 70h1v1h-1zM11 70h1v1h-1zM14 72h1v1h-1zM3 74h1v1h-1zM5 74h1v1h-1zM14 74h1v1h-1zM21 74h1v1h-1zM10 75h1v1h-1zM3 77h1v1h-1zM9 77h1v1h-1zM12 80h1v1h-1zM14 81h1v1h-1zM8 82h1v1h-1zM5 83h1v1h-1zM7 84h1v1h-1zM14 84h1v1h-1zM7 85h3v1h-3zM3 86h1v1h-1zM3 87h1v1h-1zM9 87h1v1h-1zM8 88h1v1h-1zM10 88h1v1h-1zM6 89h2v1h-2z"/><path fill="#93d741" d="M38 2h1v1h-1zM38 8h1v1h-1zM17 11h1v1h-1zM10 13h1v1h-1zM25 17h1v1h-1zM39 17h1v1h-1zM7 18h1v1h-1zM13 18h1v1h-1zM2 20h1v1h-1zM7 21h1v1h-1zM8 24h1v1h-1zM26 25h1v1h-1zM14 28h1v1h-1zM25 28h1v1h-1zM17 29h1v1h-1zM38 29h1v1h-1zM14 31h1v1h-1zM34 31h1v1h-1zM5 33h1v1h-1zM6 34h2v1h-2zM3 36h1v1h-1zM15 36h1v1h-1zM3 37h1v1h-1zM6 37h1v1h-1zM8 37h1v1h-1zM11 37h1v1h-1zM10 38h1v1h-1zM16 38h1v1h-1zM22 38h1v1h-1zM8 39h4v1h-4zM13 39h1v1h-1zM8 40h1v1h-1zM12 41h1v1h-1zM17 41h1v1h-1zM4 42h1v1h-1zM8 42h1v1h-1zM4 43h1v1h-1zM3 44h1v1h-1zM21 46h1v1h-1zM7 47h1v1h-1zM3 48h1v1h-1zM6 48h1v1h-1zM13 48h1v1h-1zM15 48h1v1h-1zM17 48h1v1h-1zM0 51h1v1h-1zM9 52h1v1h-1zM11 52h1v1h-1zM13 52h1v1h-1zM20 53h1v1h-1zM11 54h1v1h-1zM3 55h1v1h-1zM9 55h1v1h-1zM4 56h1v1h-1zM4 57h1v1h-1zM12 57h1v1h-1zM6 58h1v1h-1zM3 61h1v1h-1zM13 62h1v1h-1zM9 64h1v1h-1zM2 65h1v1h-1zM4 65h1v1h-1zM6 65h1v1h-1zM8 65h1v1h-1zM3 66h2v1h-2zM7 66h1v1h-1zM12 66h1v1h-1zM12 67h1v1h-1zM2 68h1v1h-1zM10 68h1v1h-1zM12 70h1v1h-1zM6 73h1v1h-1zM9 73h1v1h-1zM2 74h1v1h-1zM5 75h1v1h-1zM15 75h1v1h-1zM5 76h1v1h-1zM7 76h1v1h-1zM7 79h1v1h-1zM15 79h1v1h-1zM9 81h1v1h-1zM6 82h1v1h-1zM6 83h1v1h-1zM8 83h1v1h-1zM5 84h1v1h-1zM4 86h2v1h-2zM13 86h1v1h-1zM16 88h1v1h-1z"/><path fill="#a8db34" d="M12 0h1v1h-1zM25 1h1v1h-1zM6 2h1v1h-1zM9 2h1v1h-1zM11 2h1v1h-1zM0 3h1v1h-1zM3 3h2v1h-2zM12 3h1v1h-1zM26 3h1v1h-1zM26 4h1v1h-1zM24 5h1v1h-1zM24 6h1v1h-1zM17 7h1v1h-1zM26 7h1v1h-1zM37 7h1v1h-1zM26 8h1v1h-1zM4 9h1v1h-1zM18 9h1v1h-1zM31 9h1v1h-1zM40 9h1v1h-1zM40 10h1v1h-1zM0 11h1v1h-1zM20 13h1v1h-1zM25 14h2v1h-2zM38 14h1v1h-1zM0 15h1v1h-1zM38 15h1v1h-1zM39 16h1v1h-1zM9 17h2v1h-2zM18 17h1v1h-1zM21 17h1v1h-1zM34 17h1v1h-1zM4 18h1v1h-1zM30 18h1v1h-1zM10 19h1v1h-1zM15 19h1v1h-1zM20 19h1v1h-1zM3 20h1v1h-1zM7 20h1v1h-1zM9 20h1v1h-1zM2 21h1v1h-1zM9 21h1v1h-1zM16 21h1v1h-1zM30 21h1v1h-1zM8 22h1v1h-1zM7 23h1v1h-1zM0 24h1v1h-1zM12 25h2v1h-2zM4 28h1v1h-1zM18 28h1v1h-1zM10 29h1v1h-1zM3 30h1v1h-1zM5 30h1v1h-1zM15 30h1v1h-1zM25 30h1v1h-1zM39 31h1v1h-1zM3 32h1v1h-1zM20 32h2v1h-2zM35 32h1v1h-1zM4 34h2v1h-2zM4 35h1v1h-1zM6 35h1v1h-1zM8 35h1v1h-1zM10 35h1v1h-1zM8 36h2v1h-2zM18 36h1v1h-1zM1 38h1v1h-1zM7 38h1v1h-1zM5 39h1v1h-1zM6 40h1v1h-1zM5 42h1v1h-1zM7 43h1v1h-1zM3 45h2v1h-2zM6 45h1v1h-1zM11 45h1v1h-1zM4 49h1v1h-1zM5 50h1v1h-1zM1 52h1v1h-1zM3 52h1v1h-1zM10 52h1v1h-1zM15 54h1v1h-1zM12 55h1v1h-1zM10 56h1v1h-1zM3 57h1v1h-1zM5 57h1v1h-1zM11 57h1v1h-1zM6 59h1v1h-1zM8 59h1v1h-1zM3 60h2v1h-2zM9 60h1v1h-1zM11 62h1v1h-1zM10 63h1v1h-1zM9 65h2v1h-2zM9 67h1v1h-1zM5 71h2v1h-2zM12 71h2v1h-2zM2 72h1v1h-1zM3 73h1v1h-1zM5 73h1v1h-1zM6 75h1v1h-1zM9 75h1v1h-1zM17 75h1v1h-1zM14 78h1v1h-1zM10 80h1v1h-1zM3 81h1v1h-1zM4 82h1v1h-1zM22 82h1v1h-1zM6 85h1v1h-1zM5 87h1v1h-1zM7 87h1v1h-1zM15 87h1v1h-1zM10 89h1v1h-1z"/><path fill="#c0df25" d="M14 0h1v1h-1zM24 2h1v1h-1zM12 4h1v1h-1zM28 4h1v1h-1zM38 6h1v1h-1zM13 9h1v1h-1zM26 10h1v1h-1zM24 11h1v1h-1zM35 11h1v1h-1zM24 12h1v1h-1zM37 12h1v1h-1zM5 13h1v1h-1zM24 13h1v1h-1zM39 13h1v1h-1zM6 14h1v1h-1zM39 15h1v1h-1zM5 16h1v1h-1zM12 20h1v1h-1zM6 23h1v1h-1zM9 23h1v1h-1zM23 25h1v1h-1zM38 26h1v1h-1zM2 28h1v1h-1zM4 29h1v1h-1zM24 29h1v1h-1zM15 32h1v1h-1zM7 33h1v1h-1zM6 36h1v1h-1zM7 37h1v1h-1zM12 37h1v1h-1zM4 38h1v1h-1zM4 41h1v1h-1zM6 42h1v1h-1zM9 42h1v1h-1zM6 46h1v1h-1zM5 47h1v1h-1zM8 47h1v1h-1zM3 50h1v1h-1zM2 51h1v1h-1zM4 51h2v1h-2zM10 51h1v1h-1zM8 53h1v1h-1zM4 54h1v1h-1zM7 57h2v1h-2zM4 58h1v1h-1zM16 59h1v1h-1zM6 61h1v1h-1zM6 63h1v1h-1zM5 64h1v1h-1zM5 66h1v1h-1zM14 66h1v1h-1zM2 67h1v1h-1zM6 67h1v1h-1zM6 69h1v1h-1zM2 70h2v1h-2zM7 70h1v1h-1zM14 71h1v1h-1zM10 73h1v1h-1zM4 75h1v1h-1zM3 76h1v1h-1zM10 76h1v1h-1zM1 78h1v1h-1zM1 80h1v1h-1zM7 81h1v1h-1zM3 85h1v1h-1zM12 86h1v1h-1zM4 87h1v1h-1zM11 87h1v1h-1zM16 87h1v1h-1z"/><path fill="#d5e21a" d="M10 5h1v1h-1zM40 13h1v1h-1zM9 35h1v1h-1zM0 36h1v1h-1zM10 36h1v1h-1zM2 37h1v1h-1zM4 37h1v1h-1zM10 37h1v1h-1zM8 38h1v1h-1zM4 40h1v1h-1zM6 41h1v1h-1zM10 43h1v1h-1zM2 44h1v1h-1zM5 44h1v1h-1zM9 44h1v1h-1zM1 45h1v1h-1zM7 45h1v1h-1zM2 46h1v1h-1zM7 46h1v1h-1zM2 47h1v1h-1zM6 47h1v1h-1zM9 47h1v1h-1zM5 49h1v1h-1zM10 49h1v1h-1zM10 50h1v1h-1zM3 51h1v1h-1zM6 51h1v1h-1zM2 53h1v1h-1zM6 53h1v1h-1zM0 54h2v1h-2zM8 56h1v1h-1zM10 57h1v1h-1zM5 58h1v1h-1zM10 58h1v1h-1zM5 60h1v1h-1zM12 64h1v1h-1zM10 66h1v1h-1zM4 67h1v1h-1zM0 70h1v1h-1zM8 70h1v1h-1zM1 71h1v1h-1zM3 71h1v1h-1zM9 71h1v1h-1zM4 73h1v1h-1zM6 77h1v1h-1zM11 77h1v1h-1zM5 78h1v1h-1zM5 79h1v1h-1zM10 79h1v1h-1zM0 80h1v1h-1zM11 81h1v1h-1zM1 82h1v1h-1zM2 83h1v1h-1zM3 84h1v1h-1zM8 84h1v1h-1zM6 86h1v1h-1zM2 88h1v1h-1z"/><path fill="#eae51a" d="M25 4h1v1h-1zM25 8h1v1h-1zM12 9h1v1h-1zM9 13h1v1h-1zM2 15h1v1h-1zM23 16h1v1h-1zM38 18h1v1h-1zM8 19h1v1h-1zM37 19h1v1h-1zM5 21h1v1h-1zM4 22h1v1h-1zM37 22h1v1h-1zM5 23h1v1h-1zM10 23h1v1h-1zM3 24h1v1h-1zM6 24h1v1h-1zM12 24h1v1h-1zM2 25h1v1h-1zM29 25h1v1h-1zM3 26h1v1h-1zM2 32h1v1h-1zM10 32h1v1h-1zM18 32h1v1h-1zM10 33h1v1h-1zM4 36h1v1h-1zM3 38h1v1h-1zM0 42h1v1h-1zM3 43h1v1h-1zM5 46h1v1h-1zM8 48h1v1h-1zM3 49h1v1h-1zM1 50h2v1h-2zM13 50h1v1h-1zM5 52h1v1h-1zM4 53h1v1h-1zM10 53h1v1h-1zM4 55h1v1h-1zM6 55h1v1h-1zM10 55h1v1h-1zM2 56h1v1h-1zM9 56h1v1h-1zM1 57h1v1h-1zM9 57h1v1h-1zM3 59h1v1h-1zM4 61h1v1h-1zM10 61h1v1h-1zM4 62h2v1h-2zM3 63h1v1h-1zM3 64h1v1h-1zM9 66h1v1h-1zM8 67h1v1h-1zM4 68h1v1h-1zM4 69h1v1h-1zM3 72h1v1h-1zM7 74h2v1h-2zM3 75h1v1h-1zM7 75h1v1h-1zM10 77h1v1h-1zM6 81h1v1h-1zM5 82h1v1h-1zM7 83h1v1h-1zM0 84h1v1h-1zM4 84h1v1h-1zM10 84h1v1h-1zM1 85h1v1h-1zM3 89h1v1h-1z"/><path fill="#fde725" d="M11 0h1v1h-1zM26 0h1v1h-1zM28 0h1v1h-1zM13 1h1v1h-1zM26 1h1v1h-1zM10 2h1v1h-1zM25 2h2v1h-2zM9 3h1v1h-1zM37 4h1v1h-1zM11 5h1v1h-1zM13 5h1v1h-1zM27 5h1v1h-1zM11 6h1v1h-1zM13 6h2v1h-2zM37 6h1v1h-1zM11 7h1v1h-1zM28 7h1v1h-1zM13 8h1v1h-1zM11 9h1v1h-1zM14 9h1v1h-1zM25 9h1v1h-1zM13 10h1v1h-1zM25 10h1v1h-1zM9 11h1v1h-1zM37 11h1v1h-1zM9 12h1v1h-1zM23 12h1v1h-1zM39 12h1v1h-1zM5 14h1v1h-1zM9 14h2v1h-2zM39 14h1v1h-1zM9 15h2v1h-2zM24 15h1v1h-1zM9 16h2v1h-2zM24 16h1v1h-1zM31 17h1v1h-1zM11 18h1v1h-1zM37 18h1v1h-1zM29 19h1v1h-1zM39 19h2v1h-2zM8 20h1v1h-1zM11 20h1v1h-1zM6 21h1v1h-1zM12 21h1v1h-1zM2 22h2v1h-2zM5 22h3v1h-3zM10 22h3v1h-3zM16 22h1v1h-1zM30 22h1v1h-1zM2 23h2v1h-2zM11 23h1v1h-1zM15 23h1v1h-1zM30 23h1v1h-1zM37 23h1v1h-1zM9 24h1v1h-1zM13 24h2v1h-2zM23 24h1v1h-1zM0 25h1v1h-1zM3 25h1v1h-1zM9 25h1v1h-1zM11 25h1v1h-1zM17 25h1v1h-1zM0 26h1v1h-1zM6 26h1v1h-1zM23 26h1v1h-1zM29 26h2v1h-2zM0 27h2v1h-2zM3 27h1v1h-1zM7 27h1v1h-1zM12 27h1v1h-1zM19 27h1v1h-1zM29 27h1v1h-1zM0 28h2v1h-2zM11 28h1v1h-1zM29 28h1v1h-1zM2 29h2v1h-2zM12 29h1v1h-1zM15 29h1v1h-1zM2 30h1v1h-1zM9 30h2v1h-2zM23 30h2v1h-2zM9 31h2v1h-2zM15 31h1v1h-1zM24 31h1v1h-1zM5 32h1v1h-1zM39 32h1v1h-1zM6 33h1v1h-1zM18 33h1v1h-1zM20 33h3v1h-3zM39 33h1v1h-1zM0 34h3v1h-3zM0 35h4v1h-4zM1 36h1v1h-1zM1 37h1v1h-1zM0 38h1v1h-1zM2 38h1v1h-1zM0 39h3v1h-3zM0 40h4v1h-4zM5 40h1v1h-1zM16 40h1v1h-1zM0 41h3v1h-3zM5 41h1v1h-1zM1 42h1v1h-1zM0 43h3v1h-3zM6 43h1v1h-1zM8 43h2v1h-2zM0 44h2v1h-2zM0 45h1v1h-1zM2 45h1v1h-1zM5 45h1v1h-1zM8 45h1v1h-1zM10 45h1v1h-1zM0 46h2v1h-2zM0 47h2v1h-2zM11 47h2v1h-2zM0 48h3v1h-3zM0 49h3v1h-3zM0 50h1v1h-1zM1 51h1v1h-1zM0 52h1v1h-1zM2 52h1v1h-1zM8 52h1v1h-1zM0 53h2v1h-2zM13 53h1v1h-1zM2 54h1v1h-1zM0 55h3v1h-3zM5 55h1v1h-1zM0 56h2v1h-2zM6 56h1v1h-1zM0 57h1v1h-1zM2 57h1v1h-1zM6 57h1v1h-1zM0 58h4v1h-4zM8 58h1v1h-1zM0 59h3v1h-3zM4 59h2v1h-2zM7 59h1v1h-1zM10 59h1v1h-1zM0 60h3v1h-3zM6 60h1v1h-1zM0 61h3v1h-3zM0 62h4v1h-4zM0 63h3v1h-3zM7 63h1v1h-1zM0 64h3v1h-3zM4 64h1v1h-1zM6 64h1v1h-1zM0 65h2v1h-2zM0 66h3v1h-3zM6 66h1v1h-1zM0 67h2v1h-2zM5 67h1v1h-1zM7 67h1v1h-1zM0 68h2v1h-2zM0 69h3v1h-3zM1 70h1v1h-1zM6 70h1v1h-1zM0 71h1v1h-1zM2 71h1v1h-1zM4 71h1v1h-1zM10 71h1v1h-1zM0 72h2v1h-2zM4 72h1v1h-1zM0 73h3v1h-3zM0 74h2v1h-2zM4 74h1v1h-1zM6 74h1v1h-1zM9 74h1v1h-1zM0 75h3v1h-3zM0 76h3v1h-3zM0 77h3v1h-3zM5 77h1v1h-1zM0 78h1v1h-1zM2 78h3v1h-3zM6 78h1v1h-1zM0 79h5v1h-5zM2 80h1v1h-1zM0 81h3v1h-3zM5 81h1v1h-1zM0 82h1v1h-1zM2 82h2v1h-2zM0 83h2v1h-2zM9 83h1v1h-1zM1 84h2v1h-2zM6 84h1v1h-1zM9 84h1v1h-1zM0 85h1v1h-1zM2 85h1v1h-1zM4 85h2v1h-2zM0 86h3v1h-3zM7 86h1v1h-1zM9 86h1v1h-1zM0 87h3v1h-3zM10 87h1v1h-1zM0 88h2v1h-2zM3 88h3v1h-3zM0 89h3v1h-3zM12 89h1v1h-1zM20 89h1v1h-1zM23 89h2v1h-2zM28 89h1v1h-1z"/></g>
<g transform="translate(291.40 1555.00) scale(5.6463 7.9900)" shape-rendering="crispEdges"><path fill="#440154" d="M26 0h1v1h-1zM25 1h1v1h-1zM14 3h1v1h-1zM25 3h1v1h-1zM13 4h1v1h-1zM25 4h1v1h-1zM9 5h1v1h-1zM25 5h1v1h-1zM12 7h1v1h-1zM26 7h1v1h-1zM38 7h1v1h-1zM8 8h1v1h-1zM13 8h1v1h-1zM8 9h1v1h-1zM12 9h1v1h-1zM37 9h1v1h-1zM7 13h1v1h-1z"/><path fill="#470d60" d="M12 0h2v1h-2zM8 4h1v1h-1zM37 4h1v1h-1zM8 7h1v1h-1zM25 7h1v1h-1zM37 7h1v1h-1zM0 15h1v1h-1z"/><path fill="#48186a" d="M12 2h1v1h-1zM21 2h1v1h-1zM12 3h1v1h-1zM37 5h1v1h-1zM12 6h1v1h-1zM27 7h1v1h-1zM26 8h1v1h-1zM38 8h1v1h-1zM38 9h1v1h-1zM3 15h1v1h-1zM9 19h1v1h-1zM16 20h1v1h-1zM30 20h1v1h-1zM3 22h1v1h-1zM3 23h1v1h-1z"/><path fill="#482374" d="M6 0h1v1h-1zM32 0h1v1h-1zM13 1h1v1h-1zM23 2h1v1h-1zM12 5h2v1h-2zM5 6h1v1h-1zM13 6h1v1h-1zM35 6h1v1h-1zM38 6h1v1h-1zM7 7h1v1h-1zM13 7h1v1h-1zM12 8h1v1h-1zM0 9h1v1h-1zM13 9h1v1h-1zM26 9h1v1h-1zM9 11h1v1h-1zM32 15h1v1h-1zM14 17h1v1h-1zM14 23h1v1h-1z"/><path fill="#472e7c" d="M14 0h1v1h-1zM8 1h1v1h-1zM12 1h1v1h-1zM26 1h1v1h-1zM13 2h1v1h-1zM24 2h1v1h-1zM33 3h1v1h-1zM25 8h1v1h-1zM3 12h1v1h-1zM11 12h1v1h-1zM5 17h1v1h-1zM20 18h1v1h-1zM3 20h1v1h-1zM20 21h1v1h-1zM34 21h1v1h-1z"/><path fill="#453882" d="M25 2h1v1h-1zM28 2h1v1h-1zM7 3h1v1h-1zM15 4h1v1h-1zM26 4h1v1h-1zM11 5h1v1h-1zM31 6h1v1h-1zM37 8h1v1h-1zM39 8h1v1h-1zM11 10h1v1h-1zM6 11h1v1h-1zM17 11h1v1h-1zM0 12h1v1h-1zM4 14h1v1h-1zM24 17h1v1h-1zM28 18h1v1h-1zM39 20h1v1h-1zM6 22h1v1h-1zM9 22h1v1h-1z"/><path fill="#424186" d="M0 1h2v1h-2zM28 1h1v1h-1zM3 3h1v1h-1zM8 3h1v1h-1zM15 3h1v1h-1zM20 5h1v1h-1zM39 5h1v1h-1zM9 6h1v1h-1zM3 7h1v1h-1zM21 7h1v1h-1zM24 8h1v1h-1zM35 10h1v1h-1zM27 11h1v1h-1zM13 13h1v1h-1zM26 14h1v1h-1zM2 16h1v1h-1zM12 19h1v1h-1zM16 23h1v1h-1z"/><path fill="#3e4a89" d="M3 0h1v1h-1zM15 0h1v1h-1zM18 1h1v1h-1zM20 1h1v1h-1zM23 3h1v1h-1zM5 5h1v1h-1zM7 6h1v1h-1zM37 6h1v1h-1zM6 7h1v1h-1zM4 8h1v1h-1zM28 8h1v1h-1zM15 9h1v1h-1zM13 11h1v1h-1zM5 14h1v1h-1zM9 14h1v1h-1zM17 14h1v1h-1zM4 15h2v1h-2zM7 15h1v1h-1zM14 15h1v1h-1zM24 15h1v1h-1zM0 16h1v1h-1zM16 16h1v1h-1zM7 18h1v1h-1zM16 19h1v1h-1zM25 20h1v1h-1z"/><path fill="#3a548c" d="M0 2h1v1h-1zM6 2h2v1h-2zM18 2h1v1h-1zM16 3h1v1h-1zM19 3h1v1h-1zM4 4h1v1h-1zM24 4h1v1h-1zM4 5h1v1h-1zM28 5h1v1h-1zM0 6h1v1h-1zM4 6h1v1h-1zM4 7h2v1h-2zM20 7h1v1h-1zM31 7h1v1h-1zM2 8h1v1h-1zM32 8h1v1h-1zM9 9h1v1h-1zM4 10h1v1h-1zM6 10h1v1h-1zM9 10h1v1h-1zM5 11h1v1h-1zM12 11h1v1h-1zM25 11h1v1h-1zM19 12h1v1h-1zM9 13h1v1h-1zM34 14h1v1h-1zM17 15h1v1h-1zM34 17h1v1h-1zM11 18h1v1h-1zM13 18h1v1h-1zM5 19h1v1h-1zM11 20h1v1h-1zM34 20h1v1h-1zM2 21h1v1h-1zM5 21h1v1h-1zM13 21h1v1h-1zM19 23h1v1h-1z"/><path fill="#365d8d" d="M7 0h1v1h-1zM9 0h1v1h-1zM11 0h1v1h-1zM24 0h1v1h-1zM35 0h1v1h-1zM9 1h1v1h-1zM14 1h1v1h-1zM23 1h1v1h-1zM37 1h1v1h-1zM2 2h1v1h-1zM4 2h1v1h-1zM11 2h1v1h-1zM18 3h1v1h-1zM17 4h1v1h-1zM22 4h1v1h-1zM14 7h1v1h-1zM3 8h1v1h-1zM16 9h1v1h-1zM31 9h1v1h-1zM24 11h1v1h-1zM34 11h1v1h-1zM29 12h1v1h-1zM31 12h1v1h-1zM32 13h1v1h-1zM35 13h1v1h-1zM0 14h2v1h-2zM26 15h1v1h-1zM24 16h1v1h-1zM15 17h1v1h-1zM27 17h1v1h-1zM14 18h1v1h-1zM24 18h1v1h-1zM31 18h1v1h-1zM37 18h1v1h-1zM17 19h1v1h-1zM20 19h1v1h-1zM27 19h1v1h-1zM21 20h1v1h-1zM24 21h1v1h-1zM8 22h1v1h-1zM16 22h1v1h-1z"/><path fill="#32658e" d="M5 0h1v1h-1zM17 0h1v1h-1zM7 1h1v1h-1zM24 1h1v1h-1zM30 1h1v1h-1zM1 2h1v1h-1zM22 2h1v1h-1zM27 2h1v1h-1zM3 4h1v1h-1zM9 4h1v1h-1zM28 4h1v1h-1zM30 4h1v1h-1zM26 5h1v1h-1zM8 6h1v1h-1zM24 6h1v1h-1zM9 7h1v1h-1zM9 8h1v1h-1zM20 8h1v1h-1zM2 9h1v1h-1zM7 9h1v1h-1zM30 9h1v1h-1zM33 9h1v1h-1zM3 10h1v1h-1zM16 10h1v1h-1zM18 10h1v1h-1zM24 10h1v1h-1zM28 10h1v1h-1zM4 11h1v1h-1zM28 11h1v1h-1zM31 11h1v1h-1zM13 12h1v1h-1zM25 12h1v1h-1zM28 12h1v1h-1zM32 12h1v1h-1zM4 13h2v1h-2zM15 13h1v1h-1zM18 13h1v1h-1zM21 13h1v1h-1zM26 13h1v1h-1zM6 14h1v1h-1zM8 14h1v1h-1zM16 14h1v1h-1zM18 14h1v1h-1zM21 14h2v1h-2zM27 14h2v1h-2zM30 14h1v1h-1zM35 14h1v1h-1zM38 14h2v1h-2zM8 15h1v1h-1zM11 15h1v1h-1zM16 15h1v1h-1zM18 15h1v1h-1zM20 15h2v1h-2zM23 15h1v1h-1zM30 15h1v1h-1zM33 15h3v1h-3zM37 15h3v1h-3zM1 16h1v1h-1zM3 16h1v1h-1zM6 16h1v1h-1zM12 16h1v1h-1zM14 16h2v1h-2zM17 16h2v1h-2zM21 16h1v1h-1zM27 16h1v1h-1zM31 16h2v1h-2zM34 16h3v1h-3zM39 16h2v1h-2zM0 17h1v1h-1zM4 17h1v1h-1zM6 17h1v1h-1zM9 17h1v1h-1zM11 17h1v1h-1zM16 17h3v1h-3zM22 17h1v1h-1zM28 17h4v1h-4zM35 17h1v1h-1zM37 17h1v1h-1zM39 17h2v1h-2zM0 18h2v1h-2zM3 18h1v1h-1zM9 18h1v1h-1zM15 18h2v1h-2zM18 18h1v1h-1zM22 18h2v1h-2zM26 18h2v1h-2zM29 18h1v1h-1zM32 18h2v1h-2zM35 18h2v1h-2zM38 18h1v1h-1zM40 18h1v1h-1zM0 19h3v1h-3zM6 19h2v1h-2zM10 19h2v1h-2zM13 19h3v1h-3zM18 19h2v1h-2zM24 19h3v1h-3zM28 19h1v1h-1zM30 19h2v1h-2zM33 19h3v1h-3zM0 20h2v1h-2zM5 20h1v1h-1zM8 20h2v1h-2zM13 20h3v1h-3zM20 20h1v1h-1zM22 20h1v1h-1zM24 20h1v1h-1zM26 20h3v1h-3zM31 20h1v1h-1zM36 20h1v1h-1zM40 20h1v1h-1zM3 21h1v1h-1zM6 21h2v1h-2zM12 21h1v1h-1zM14 21h2v1h-2zM18 21h2v1h-2zM23 21h1v1h-1zM27 21h3v1h-3zM31 21h1v1h-1zM36 21h5v1h-5zM1 22h2v1h-2zM4 22h2v1h-2zM7 22h1v1h-1zM10 22h3v1h-3zM14 22h2v1h-2zM18 22h1v1h-1zM24 22h2v1h-2zM27 22h1v1h-1zM32 22h1v1h-1zM35 22h1v1h-1zM37 22h2v1h-2zM40 22h1v1h-1zM1 23h1v1h-1zM4 23h1v1h-1zM6 23h1v1h-1zM8 23h3v1h-3zM18 23h1v1h-1zM21 23h1v1h-1zM23 23h2v1h-2zM28 23h3v1h-3zM33 23h2v1h-2zM36 23h1v1h-1zM38 23h2v1h-2z"/><path fill="#2e6d8e" d="M23 0h1v1h-1zM31 0h1v1h-1zM3 1h1v1h-1zM6 1h1v1h-1zM11 1h1v1h-1zM16 2h2v1h-2zM38 2h1v1h-1zM4 3h1v1h-1zM24 3h1v1h-1zM40 3h1v1h-1zM1 4h1v1h-1zM16 4h1v1h-1zM14 6h1v1h-1zM21 6h1v1h-1zM28 7h1v1h-1zM32 7h1v1h-1zM35 7h1v1h-1zM6 8h1v1h-1zM15 8h1v1h-1zM22 8h1v1h-1zM3 9h1v1h-1zM6 9h1v1h-1zM14 9h1v1h-1zM28 9h1v1h-1zM23 10h1v1h-1zM19 11h1v1h-1zM29 11h1v1h-1zM0 13h1v1h-1zM17 13h1v1h-1zM22 13h1v1h-1zM27 13h1v1h-1zM29 13h1v1h-1zM19 14h1v1h-1zM2 15h1v1h-1zM9 16h1v1h-1zM11 16h1v1h-1zM19 16h1v1h-1zM33 16h1v1h-1zM23 17h1v1h-1zM39 18h1v1h-1zM39 19h1v1h-1zM17 20h1v1h-1zM29 20h1v1h-1zM35 20h1v1h-1zM9 21h1v1h-1zM11 21h1v1h-1zM17 21h1v1h-1zM21 22h1v1h-1zM0 23h1v1h-1zM22 23h1v1h-1z"/><path fill="#2b758e" d="M18 0h1v1h-1zM17 1h1v1h-1zM31 1h1v1h-1zM9 2h2v1h-2zM20 2h1v1h-1zM32 2h1v1h-1zM5 3h2v1h-2zM10 3h1v1h-1zM28 3h1v1h-1zM38 3h1v1h-1zM18 4h1v1h-1zM35 4h1v1h-1zM1 5h1v1h-1zM3 5h1v1h-1zM8 5h1v1h-1zM32 5h1v1h-1zM1 6h1v1h-1zM18 6h1v1h-1zM39 6h1v1h-1zM17 7h1v1h-1zM39 7h1v1h-1zM40 8h1v1h-1zM4 9h1v1h-1zM17 9h1v1h-1zM21 9h1v1h-1zM39 9h1v1h-1zM26 10h1v1h-1zM33 10h1v1h-1zM39 10h1v1h-1zM26 11h1v1h-1zM8 12h2v1h-2zM15 12h1v1h-1zM23 12h1v1h-1zM26 12h1v1h-1zM6 13h1v1h-1zM20 13h1v1h-1zM24 13h1v1h-1zM36 13h1v1h-1zM11 14h3v1h-3zM13 15h1v1h-1zM15 15h1v1h-1zM25 15h1v1h-1zM4 16h2v1h-2zM29 16h1v1h-1zM21 17h1v1h-1zM36 17h1v1h-1zM21 18h1v1h-1zM4 20h1v1h-1zM19 20h1v1h-1zM0 22h1v1h-1zM2 23h1v1h-1zM5 23h1v1h-1zM7 23h1v1h-1zM8 24h1v1h-1zM13 24h1v1h-1zM10 25h1v1h-1zM18 25h1v1h-1zM23 25h1v1h-1zM3 26h1v1h-1zM5 26h1v1h-1zM10 26h1v1h-1zM33 26h1v1h-1z"/><path fill="#287d8e" d="M0 0h1v1h-1zM4 0h1v1h-1zM25 0h1v1h-1zM21 1h1v1h-1zM34 1h1v1h-1zM14 2h1v1h-1zM0 3h1v1h-1zM26 3h2v1h-2zM34 3h1v1h-1zM11 4h1v1h-1zM14 4h1v1h-1zM21 4h1v1h-1zM27 4h1v1h-1zM31 4h1v1h-1zM40 4h1v1h-1zM2 5h1v1h-1zM29 5h1v1h-1zM38 5h1v1h-1zM11 6h1v1h-1zM19 6h1v1h-1zM25 6h1v1h-1zM27 6h1v1h-1zM11 7h1v1h-1zM15 7h1v1h-1zM18 7h1v1h-1zM22 7h1v1h-1zM5 8h1v1h-1zM10 8h1v1h-1zM19 8h1v1h-1zM21 8h1v1h-1zM34 8h1v1h-1zM1 9h1v1h-1zM5 9h1v1h-1zM10 9h1v1h-1zM19 9h1v1h-1zM24 9h2v1h-2zM7 10h2v1h-2zM20 10h1v1h-1zM34 10h1v1h-1zM3 11h1v1h-1zM10 11h1v1h-1zM14 11h2v1h-2zM20 12h2v1h-2zM39 12h1v1h-1zM11 13h1v1h-1zM14 13h1v1h-1zM16 13h1v1h-1zM25 13h1v1h-1zM30 13h1v1h-1zM15 14h1v1h-1zM19 15h1v1h-1zM27 15h1v1h-1zM36 15h1v1h-1zM20 16h1v1h-1zM2 17h1v1h-1zM19 17h1v1h-1zM19 18h1v1h-1zM4 19h1v1h-1zM8 19h1v1h-1zM2 20h1v1h-1zM23 20h1v1h-1zM33 21h1v1h-1zM17 22h1v1h-1zM15 23h1v1h-1zM25 23h2v1h-2zM0 24h7v1h-7zM9 24h4v1h-4zM14 24h6v1h-6zM21 24h16v1h-16zM38 24h3v1h-3zM1 25h9v1h-9zM11 25h7v1h-7zM19 25h4v1h-4zM24 25h8v1h-8zM33 25h8v1h-8zM0 26h3v1h-3zM4 26h1v1h-1zM6 26h4v1h-4zM11 26h22v1h-22zM34 26h7v1h-7z"/><path fill="#25848e" d="M10 0h1v1h-1zM19 0h3v1h-3zM2 1h1v1h-1zM4 1h1v1h-1zM22 1h1v1h-1zM27 1h1v1h-1zM32 1h1v1h-1zM2 3h1v1h-1zM11 3h1v1h-1zM17 3h1v1h-1zM21 3h1v1h-1zM29 3h1v1h-1zM32 3h1v1h-1zM35 3h1v1h-1zM5 4h1v1h-1zM10 4h1v1h-1zM34 4h1v1h-1zM36 4h1v1h-1zM14 5h2v1h-2zM18 5h1v1h-1zM21 5h1v1h-1zM17 6h1v1h-1zM20 6h1v1h-1zM23 6h1v1h-1zM0 7h1v1h-1zM30 8h2v1h-2zM18 9h1v1h-1zM22 9h1v1h-1zM32 9h1v1h-1zM35 9h1v1h-1zM5 10h1v1h-1zM40 10h1v1h-1zM2 11h1v1h-1zM22 11h1v1h-1zM35 11h1v1h-1zM38 11h1v1h-1zM4 12h2v1h-2zM12 12h1v1h-1zM8 13h1v1h-1zM10 13h1v1h-1zM3 14h1v1h-1zM6 15h1v1h-1zM12 15h1v1h-1zM8 16h1v1h-1zM13 16h1v1h-1zM25 16h1v1h-1zM37 16h1v1h-1zM10 17h1v1h-1zM32 17h1v1h-1zM12 18h1v1h-1zM3 19h1v1h-1zM29 19h1v1h-1zM10 20h1v1h-1zM18 20h1v1h-1zM32 21h1v1h-1zM13 22h1v1h-1zM20 22h1v1h-1zM28 22h1v1h-1zM12 23h1v1h-1zM27 23h1v1h-1z"/><path fill="#228c8d" d="M28 0h1v1h-1zM30 0h1v1h-1zM38 0h1v1h-1zM19 1h1v1h-1zM36 1h1v1h-1zM8 2h1v1h-1zM15 2h1v1h-1zM30 2h1v1h-1zM9 3h1v1h-1zM20 3h1v1h-1zM37 3h1v1h-1zM39 3h1v1h-1zM12 4h1v1h-1zM20 4h1v1h-1zM29 4h1v1h-1zM39 4h1v1h-1zM0 5h1v1h-1zM17 5h1v1h-1zM19 5h1v1h-1zM22 5h3v1h-3zM30 5h1v1h-1zM40 5h1v1h-1zM3 6h1v1h-1zM16 6h1v1h-1zM26 6h1v1h-1zM28 6h1v1h-1zM1 7h1v1h-1zM10 7h1v1h-1zM1 8h1v1h-1zM17 8h2v1h-2zM23 8h1v1h-1zM29 8h1v1h-1zM0 10h2v1h-2zM12 10h1v1h-1zM14 10h2v1h-2zM0 11h2v1h-2zM7 11h1v1h-1zM18 11h1v1h-1zM21 11h1v1h-1zM36 11h2v1h-2zM40 11h1v1h-1zM24 12h1v1h-1zM40 12h1v1h-1zM23 14h2v1h-2zM1 15h1v1h-1zM7 16h1v1h-1zM3 17h1v1h-1zM7 17h1v1h-1zM13 17h1v1h-1zM25 18h1v1h-1zM0 21h1v1h-1zM4 21h1v1h-1zM26 22h1v1h-1zM31 22h1v1h-1z"/><path fill="#1f948c" d="M2 0h1v1h-1zM22 0h1v1h-1zM37 0h1v1h-1zM5 1h1v1h-1zM33 2h1v1h-1zM36 2h1v1h-1zM13 3h1v1h-1zM22 3h1v1h-1zM0 4h1v1h-1zM19 4h1v1h-1zM27 5h1v1h-1zM19 7h1v1h-1zM40 7h1v1h-1zM0 8h1v1h-1zM7 8h1v1h-1zM14 8h1v1h-1zM35 8h1v1h-1zM27 9h1v1h-1zM21 10h1v1h-1zM27 10h1v1h-1zM31 10h1v1h-1zM37 10h1v1h-1zM16 12h1v1h-1zM18 12h1v1h-1zM3 13h1v1h-1zM31 14h1v1h-1zM28 15h1v1h-1zM40 15h1v1h-1zM28 16h1v1h-1zM30 16h1v1h-1zM38 16h1v1h-1zM20 17h1v1h-1zM26 17h1v1h-1zM38 17h1v1h-1zM17 18h1v1h-1zM22 19h1v1h-1zM38 19h1v1h-1zM7 20h1v1h-1zM38 20h1v1h-1zM16 21h1v1h-1zM30 21h1v1h-1zM22 22h2v1h-2zM34 22h1v1h-1zM11 23h1v1h-1zM13 23h1v1h-1zM17 23h1v1h-1zM31 23h1v1h-1z"/><path fill="#1e9c89" d="M1 0h1v1h-1zM35 1h1v1h-1zM38 1h1v1h-1zM3 2h1v1h-1zM30 3h2v1h-2zM6 5h1v1h-1zM31 5h1v1h-1zM33 5h1v1h-1zM35 5h1v1h-1zM6 6h1v1h-1zM32 6h2v1h-2zM2 7h1v1h-1zM29 7h1v1h-1zM36 7h1v1h-1zM11 8h1v1h-1zM27 8h1v1h-1zM11 9h1v1h-1zM20 9h1v1h-1zM13 10h1v1h-1zM16 11h1v1h-1zM33 12h1v1h-1zM38 12h1v1h-1zM40 13h1v1h-1zM14 14h1v1h-1zM36 14h1v1h-1zM25 17h1v1h-1zM34 18h1v1h-1zM21 19h1v1h-1zM32 19h1v1h-1zM40 19h1v1h-1zM19 22h1v1h-1zM39 22h1v1h-1zM32 23h1v1h-1zM32 25h1v1h-1z"/><path fill="#20a386" d="M39 0h1v1h-1zM29 1h1v1h-1zM5 2h1v1h-1zM40 2h1v1h-1zM7 5h1v1h-1zM10 5h1v1h-1zM15 6h1v1h-1zM16 7h1v1h-1zM23 7h1v1h-1zM30 7h1v1h-1zM34 7h1v1h-1zM17 10h1v1h-1zM25 10h1v1h-1zM29 10h2v1h-2zM11 11h1v1h-1zM20 11h1v1h-1zM23 11h1v1h-1zM1 12h1v1h-1zM17 12h1v1h-1zM35 12h1v1h-1zM1 13h2v1h-2zM2 14h1v1h-1zM20 14h1v1h-1zM29 14h1v1h-1zM32 14h1v1h-1zM9 15h1v1h-1zM31 15h1v1h-1zM22 16h1v1h-1zM33 17h1v1h-1zM2 18h1v1h-1zM5 18h1v1h-1zM30 18h1v1h-1zM36 19h1v1h-1zM12 20h1v1h-1zM8 21h1v1h-1zM10 21h1v1h-1zM21 21h1v1h-1zM26 21h1v1h-1zM35 21h1v1h-1zM36 22h1v1h-1zM40 23h1v1h-1zM0 25h1v1h-1z"/><path fill="#25ab82" d="M8 0h1v1h-1zM34 0h1v1h-1zM36 0h1v1h-1zM40 0h1v1h-1zM15 1h1v1h-1zM40 1h1v1h-1zM26 2h1v1h-1zM6 4h2v1h-2zM33 4h1v1h-1zM16 5h1v1h-1zM36 5h1v1h-1zM2 6h1v1h-1zM29 6h2v1h-2zM36 8h1v1h-1zM32 10h1v1h-1zM32 11h2v1h-2zM14 12h1v1h-1zM22 12h1v1h-1zM27 12h1v1h-1zM12 13h1v1h-1zM28 13h1v1h-1zM33 13h1v1h-1zM7 14h1v1h-1zM33 14h1v1h-1zM40 14h1v1h-1zM10 15h1v1h-1zM23 16h1v1h-1zM32 20h1v1h-1zM22 21h1v1h-1zM33 22h1v1h-1zM20 24h1v1h-1zM37 24h1v1h-1z"/><path fill="#2eb37c" d="M27 0h1v1h-1zM33 0h1v1h-1zM16 1h1v1h-1zM34 2h1v1h-1zM10 6h1v1h-1zM36 6h1v1h-1zM40 6h1v1h-1zM16 8h1v1h-1zM33 8h1v1h-1zM29 9h1v1h-1zM40 9h1v1h-1zM2 10h1v1h-1zM22 10h1v1h-1zM38 10h1v1h-1zM10 12h1v1h-1zM22 15h1v1h-1zM29 15h1v1h-1zM26 16h1v1h-1zM4 18h1v1h-1zM6 18h1v1h-1zM23 19h1v1h-1zM33 20h1v1h-1zM1 21h1v1h-1zM35 23h1v1h-1z"/><path fill="#3aba76" d="M10 1h1v1h-1zM36 3h1v1h-1zM38 4h1v1h-1zM23 9h1v1h-1zM36 9h1v1h-1zM7 12h1v1h-1zM34 12h1v1h-1zM36 12h2v1h-2zM19 13h1v1h-1zM23 13h1v1h-1zM31 13h1v1h-1zM38 13h1v1h-1zM10 14h1v1h-1zM10 16h1v1h-1zM1 17h1v1h-1zM6 20h1v1h-1zM29 22h2v1h-2zM20 23h1v1h-1zM7 24h1v1h-1z"/><path fill="#48c16e" d="M31 2h1v1h-1zM35 2h1v1h-1zM24 7h1v1h-1zM8 11h1v1h-1zM39 11h1v1h-1zM39 13h1v1h-1zM8 17h1v1h-1zM12 17h1v1h-1zM37 19h1v1h-1zM37 23h1v1h-1z"/><path fill="#58c765" d="M29 0h1v1h-1zM39 2h1v1h-1zM23 4h1v1h-1zM32 4h1v1h-1zM34 5h1v1h-1zM19 10h1v1h-1zM30 11h1v1h-1zM25 14h1v1h-1zM37 14h1v1h-1zM25 21h1v1h-1z"/><path fill="#6ccd5a" d="M39 1h1v1h-1zM19 2h1v1h-1zM29 2h1v1h-1zM1 3h1v1h-1zM34 6h1v1h-1zM33 7h1v1h-1zM34 9h1v1h-1zM10 10h1v1h-1zM30 12h1v1h-1zM37 13h1v1h-1zM8 18h1v1h-1zM10 18h1v1h-1z"/><path fill="#7fd34e" d="M16 0h1v1h-1zM37 2h1v1h-1zM2 4h1v1h-1zM2 12h1v1h-1zM37 20h1v1h-1z"/><path fill="#93d741" d="M33 1h1v1h-1zM34 13h1v1h-1z"/><path fill="#a8db34" d="M22 6h1v1h-1zM6 12h1v1h-1z"/><path fill="#fde725" d="M36 10h1v1h-1z"/></g>
<g transform="translate(529.10 830.50) scale(5.6773 7.9770)" shape-rendering="crispEdges"><path fill="#440154" d="M5 2h1v1h-1zM12 2h1v1h-1zM19 2h1v1h-1zM2 3h1v1h-1zM17 3h1v1h-1zM6 5h1v1h-1zM5 6h1v1h-1zM17 8h1v1h-1zM2 9h1v1h-1zM8 10h1v1h-1zM2 12h1v1h-1zM14 13h1v1h-1zM14 14h1v1h-1zM21 16h1v1h-1zM2 20h1v1h-1zM20 25h1v1h-1zM4 28h1v1h-1zM8 28h1v1h-1zM5 32h1v1h-1zM15 37h1v1h-1zM13 38h1v1h-1zM17 39h1v1h-1zM15 47h1v1h-1zM15 59h1v1h-1zM15 61h1v1h-1zM17 62h1v1h-1zM15 64h1v1h-1zM14 72h1v1h-1zM14 80h1v1h-1zM16 81h1v1h-1z"/><path fill="#470d60" d="M5 10h1v1h-1zM5 13h1v1h-1zM2 15h1v1h-1zM14 16h1v1h-1zM17 16h1v1h-1zM2 22h1v1h-1zM12 23h1v1h-1zM21 25h1v1h-1zM5 26h1v1h-1zM15 35h1v1h-1zM17 43h1v1h-1zM17 49h1v1h-1zM15 52h1v1h-1zM16 57h1v1h-1zM16 62h1v1h-1zM17 69h1v1h-1zM16 76h1v1h-1zM14 78h1v1h-1zM14 82h1v1h-1zM15 88h1v1h-1z"/><path fill="#48186a" d="M2 0h1v1h-1zM17 4h1v1h-1zM7 5h1v1h-1zM3 7h1v1h-1zM5 11h1v1h-1zM17 11h1v1h-1zM21 12h1v1h-1zM6 16h1v1h-1zM17 21h1v1h-1zM17 30h1v1h-1zM14 34h1v1h-1zM16 35h1v1h-1zM13 36h1v1h-1zM17 51h1v1h-1zM17 52h1v1h-1zM17 53h1v1h-1zM14 55h1v1h-1zM16 56h1v1h-1zM19 58h1v1h-1zM18 63h1v1h-1zM13 66h1v1h-1zM15 66h1v1h-1zM17 70h1v1h-1zM15 72h1v1h-1zM15 82h1v1h-1zM15 87h1v1h-1z"/><path fill="#482374" d="M7 0h1v1h-1zM0 9h1v1h-1zM17 9h1v1h-1zM2 10h1v1h-1zM21 11h1v1h-1zM8 12h1v1h-1zM4 14h1v1h-1zM12 14h1v1h-1zM15 15h1v1h-1zM5 16h1v1h-1zM5 20h1v1h-1zM5 23h1v1h-1zM8 26h1v1h-1zM16 38h1v1h-1zM15 40h1v1h-1zM17 40h1v1h-1zM13 43h1v1h-1zM16 47h1v1h-1zM8 51h1v1h-1zM13 54h1v1h-1zM15 54h1v1h-1zM13 55h1v1h-1zM16 58h1v1h-1zM16 64h1v1h-1zM17 65h1v1h-1zM17 68h1v1h-1zM16 74h1v1h-1zM15 84h1v1h-1z"/><path fill="#472e7c" d="M2 2h1v1h-1zM21 4h1v1h-1zM2 8h1v1h-1zM6 8h1v1h-1zM10 8h1v1h-1zM4 12h1v1h-1zM5 18h1v1h-1zM5 21h1v1h-1zM9 21h1v1h-1zM14 22h1v1h-1zM8 25h1v1h-1zM18 25h1v1h-1zM2 29h1v1h-1zM4 30h1v1h-1zM17 34h1v1h-1zM5 35h1v1h-1zM14 38h1v1h-1zM19 41h1v1h-1zM13 44h1v1h-1zM13 45h1v1h-1zM20 48h1v1h-1zM14 50h1v1h-1zM13 51h1v1h-1zM15 53h2v1h-2zM17 55h1v1h-1zM17 56h1v1h-1zM14 57h1v1h-1zM13 61h1v1h-1zM14 69h1v1h-1zM13 71h1v1h-1zM13 73h1v1h-1zM15 73h1v1h-1zM13 74h1v1h-1zM15 78h1v1h-1zM18 78h1v1h-1zM13 83h1v1h-1zM16 85h1v1h-1z"/><path fill="#453882" d="M8 3h1v1h-1zM19 3h1v1h-1zM16 4h1v1h-1zM5 5h1v1h-1zM12 5h1v1h-1zM8 8h1v1h-1zM14 9h1v1h-1zM14 10h1v1h-1zM3 11h1v1h-1zM9 11h1v1h-1zM21 13h1v1h-1zM17 14h1v1h-1zM14 15h1v1h-1zM1 16h1v1h-1zM7 16h1v1h-1zM7 18h1v1h-1zM17 18h1v1h-1zM20 18h1v1h-1zM4 21h1v1h-1zM11 22h1v1h-1zM17 23h1v1h-1zM13 35h2v1h-2zM14 37h1v1h-1zM20 38h1v1h-1zM20 39h1v1h-1zM16 40h1v1h-1zM16 41h1v1h-1zM20 43h1v1h-1zM17 47h1v1h-1zM13 57h1v1h-1zM18 57h1v1h-1zM13 58h1v1h-1zM7 60h1v1h-1zM14 61h1v1h-1zM15 63h1v1h-1zM12 64h2v1h-2zM13 65h1v1h-1zM14 67h1v1h-1zM20 67h1v1h-1zM16 68h1v1h-1zM16 70h1v1h-1zM17 73h1v1h-1zM19 73h1v1h-1zM7 74h1v1h-1zM17 81h1v1h-1zM13 82h1v1h-1zM14 83h1v1h-1zM14 84h1v1h-1zM13 87h1v1h-1zM14 89h1v1h-1z"/><path fill="#424186" d="M2 1h1v1h-1zM3 2h2v1h-2zM18 2h1v1h-1zM19 4h1v1h-1zM0 5h1v1h-1zM2 6h1v1h-1zM8 6h1v1h-1zM13 6h1v1h-1zM0 13h1v1h-1zM10 15h1v1h-1zM16 15h1v1h-1zM20 15h1v1h-1zM17 17h1v1h-1zM14 18h1v1h-1zM10 25h1v1h-1zM2 28h1v1h-1zM17 28h1v1h-1zM14 29h1v1h-1zM21 29h1v1h-1zM2 30h1v1h-1zM10 32h1v1h-1zM15 34h1v1h-1zM14 39h1v1h-1zM10 40h1v1h-1zM17 46h1v1h-1zM21 46h1v1h-1zM17 48h1v1h-1zM13 52h2v1h-2zM19 55h1v1h-1zM4 57h1v1h-1zM15 57h1v1h-1zM10 60h1v1h-1zM18 61h1v1h-1zM13 63h1v1h-1zM16 63h1v1h-1zM14 64h1v1h-1zM6 66h1v1h-1zM14 66h1v1h-1zM21 67h1v1h-1zM15 68h1v1h-1zM11 71h1v1h-1zM14 71h1v1h-1zM19 71h1v1h-1zM13 78h1v1h-1zM13 79h1v1h-1zM16 79h1v1h-1zM8 86h1v1h-1zM6 88h1v1h-1zM14 88h1v1h-1z"/><path fill="#3e4a89" d="M3 0h1v1h-1zM5 0h1v1h-1zM1 1h1v1h-1zM4 1h1v1h-1zM3 3h1v1h-1zM20 4h1v1h-1zM10 5h1v1h-1zM16 5h1v1h-1zM18 5h1v1h-1zM20 5h1v1h-1zM18 6h2v1h-2zM14 7h1v1h-1zM4 8h1v1h-1zM3 9h1v1h-1zM8 11h1v1h-1zM11 12h2v1h-2zM10 13h1v1h-1zM4 15h1v1h-1zM21 15h1v1h-1zM4 17h1v1h-1zM7 17h1v1h-1zM17 20h1v1h-1zM3 22h1v1h-1zM5 22h1v1h-1zM17 22h1v1h-1zM5 25h1v1h-1zM17 25h1v1h-1zM3 26h1v1h-1zM13 30h1v1h-1zM18 30h1v1h-1zM14 32h1v1h-1zM16 34h1v1h-1zM19 34h1v1h-1zM20 35h1v1h-1zM19 36h1v1h-1zM13 37h1v1h-1zM14 43h1v1h-1zM9 44h1v1h-1zM16 45h1v1h-1zM21 45h1v1h-1zM13 46h1v1h-1zM13 47h1v1h-1zM21 47h1v1h-1zM7 48h1v1h-1zM15 49h1v1h-1zM12 51h1v1h-1zM15 51h2v1h-2zM4 52h1v1h-1zM14 54h1v1h-1zM18 54h1v1h-1zM16 55h1v1h-1zM10 58h1v1h-1zM21 60h1v1h-1zM4 64h1v1h-1zM10 64h1v1h-1zM16 65h1v1h-1zM12 68h1v1h-1zM13 69h1v1h-1zM9 72h1v1h-1zM16 73h1v1h-1zM13 80h1v1h-1zM16 82h1v1h-1zM15 85h1v1h-1zM21 86h1v1h-1zM16 87h1v1h-1zM19 89h1v1h-1z"/><path fill="#3a548c" d="M0 0h1v1h-1zM4 0h1v1h-1zM18 0h1v1h-1zM0 1h1v1h-1zM3 1h1v1h-1zM8 2h1v1h-1zM14 3h1v1h-1zM4 4h1v1h-1zM14 4h1v1h-1zM3 6h1v1h-1zM14 6h1v1h-1zM16 6h1v1h-1zM19 8h1v1h-1zM5 9h1v1h-1zM11 9h1v1h-1zM18 9h1v1h-1zM12 10h1v1h-1zM17 10h1v1h-1zM20 13h1v1h-1zM3 14h1v1h-1zM21 14h1v1h-1zM18 15h2v1h-2zM3 16h1v1h-1zM12 16h1v1h-1zM14 17h1v1h-1zM4 20h1v1h-1zM6 20h1v1h-1zM13 20h1v1h-1zM19 20h1v1h-1zM0 21h1v1h-1zM14 21h1v1h-1zM16 21h1v1h-1zM19 21h1v1h-1zM3 23h1v1h-1zM6 23h1v1h-1zM14 23h1v1h-1zM4 25h1v1h-1zM17 29h1v1h-1zM19 30h1v1h-1zM20 32h1v1h-1zM10 36h1v1h-1zM16 36h1v1h-1zM21 37h1v1h-1zM18 38h1v1h-1zM21 38h1v1h-1zM7 39h1v1h-1zM20 41h1v1h-1zM17 42h1v1h-1zM16 43h1v1h-1zM19 44h1v1h-1zM15 46h2v1h-2zM3 48h1v1h-1zM3 49h1v1h-1zM16 50h1v1h-1zM14 51h1v1h-1zM11 54h1v1h-1zM20 54h2v1h-2zM18 55h1v1h-1zM9 57h1v1h-1zM19 57h1v1h-1zM18 58h1v1h-1zM18 59h1v1h-1zM15 60h1v1h-1zM17 60h1v1h-1zM20 61h1v1h-1zM6 68h1v1h-1zM16 69h1v1h-1zM8 70h1v1h-1zM15 70h1v1h-1zM18 70h1v1h-1zM21 70h1v1h-1zM6 75h1v1h-1zM3 78h1v1h-1zM21 83h1v1h-1zM11 84h1v1h-1zM20 86h1v1h-1zM10 88h1v1h-1z"/><path fill="#365d8d" d="M8 0h1v1h-1zM12 0h1v1h-1zM17 1h1v1h-1zM4 3h1v1h-1zM3 4h1v1h-1zM6 4h1v1h-1zM15 5h1v1h-1zM7 6h1v1h-1zM12 6h1v1h-1zM5 7h1v1h-1zM12 7h1v1h-1zM18 7h1v1h-1zM5 8h1v1h-1zM0 10h1v1h-1zM10 10h1v1h-1zM10 11h1v1h-1zM14 11h1v1h-1zM19 11h2v1h-2zM5 12h1v1h-1zM2 13h1v1h-1zM12 13h1v1h-1zM16 13h1v1h-1zM2 14h1v1h-1zM5 14h1v1h-1zM8 14h1v1h-1zM10 14h1v1h-1zM18 14h1v1h-1zM5 15h1v1h-1zM8 15h1v1h-1zM2 16h1v1h-1zM10 16h1v1h-1zM2 17h1v1h-1zM11 17h1v1h-1zM19 17h1v1h-1zM21 17h1v1h-1zM3 20h1v1h-1zM10 21h1v1h-1zM18 21h1v1h-1zM8 22h1v1h-1zM13 22h1v1h-1zM4 23h1v1h-1zM19 23h1v1h-1zM21 23h1v1h-1zM14 25h1v1h-1zM14 26h1v1h-1zM17 26h1v1h-1zM6 28h1v1h-1zM12 28h1v1h-1zM18 29h1v1h-1zM5 30h1v1h-1zM12 30h1v1h-1zM14 30h1v1h-1zM2 32h1v1h-1zM8 34h1v1h-1zM13 34h1v1h-1zM18 34h1v1h-1zM21 34h1v1h-1zM3 35h1v1h-1zM10 35h1v1h-1zM12 35h1v1h-1zM18 35h1v1h-1zM5 36h1v1h-1zM9 36h1v1h-1zM11 36h2v1h-2zM14 36h2v1h-2zM21 36h1v1h-1zM16 37h3v1h-3zM20 37h1v1h-1zM10 38h1v1h-1zM15 38h1v1h-1zM9 39h1v1h-1zM13 39h1v1h-1zM15 39h2v1h-2zM18 39h1v1h-1zM21 39h1v1h-1zM7 40h1v1h-1zM9 40h1v1h-1zM11 40h1v1h-1zM14 40h1v1h-1zM18 40h4v1h-4zM8 41h1v1h-1zM13 41h3v1h-3zM17 41h1v1h-1zM4 42h1v1h-1zM13 42h2v1h-2zM16 42h1v1h-1zM21 42h1v1h-1zM12 43h1v1h-1zM15 43h1v1h-1zM18 43h2v1h-2zM7 44h1v1h-1zM10 44h1v1h-1zM16 44h3v1h-3zM5 45h1v1h-1zM8 45h1v1h-1zM14 45h2v1h-2zM17 45h1v1h-1zM19 45h2v1h-2zM7 46h1v1h-1zM9 46h1v1h-1zM14 46h1v1h-1zM14 47h1v1h-1zM5 48h1v1h-1zM14 48h1v1h-1zM16 48h1v1h-1zM4 49h1v1h-1zM8 49h1v1h-1zM14 49h1v1h-1zM16 49h1v1h-1zM18 49h1v1h-1zM10 50h1v1h-1zM12 50h1v1h-1zM15 50h1v1h-1zM17 50h2v1h-2zM20 50h1v1h-1zM20 51h1v1h-1zM3 52h1v1h-1zM9 52h1v1h-1zM12 52h1v1h-1zM16 52h1v1h-1zM19 52h2v1h-2zM3 53h2v1h-2zM6 53h1v1h-1zM13 53h1v1h-1zM18 53h2v1h-2zM16 54h2v1h-2zM21 55h1v1h-1zM4 56h1v1h-1zM6 56h1v1h-1zM13 56h1v1h-1zM21 56h1v1h-1zM6 57h1v1h-1zM17 57h1v1h-1zM4 58h1v1h-1zM7 58h1v1h-1zM9 58h1v1h-1zM11 58h1v1h-1zM14 58h2v1h-2zM17 58h1v1h-1zM5 59h3v1h-3zM10 59h1v1h-1zM13 59h2v1h-2zM16 59h2v1h-2zM19 59h2v1h-2zM3 60h1v1h-1zM9 60h1v1h-1zM13 60h2v1h-2zM16 60h1v1h-1zM18 60h1v1h-1zM20 60h1v1h-1zM6 61h1v1h-1zM10 61h1v1h-1zM16 61h1v1h-1zM19 61h1v1h-1zM4 62h1v1h-1zM13 62h3v1h-3zM18 62h1v1h-1zM20 62h1v1h-1zM5 63h2v1h-2zM10 63h1v1h-1zM14 63h1v1h-1zM17 63h1v1h-1zM20 63h2v1h-2zM3 64h1v1h-1zM6 64h2v1h-2zM11 64h1v1h-1zM17 64h2v1h-2zM5 65h1v1h-1zM15 65h1v1h-1zM18 65h2v1h-2zM21 65h1v1h-1zM3 66h1v1h-1zM5 66h1v1h-1zM17 66h1v1h-1zM21 66h1v1h-1zM11 67h2v1h-2zM15 67h3v1h-3zM11 68h1v1h-1zM13 68h2v1h-2zM15 69h1v1h-1zM18 69h1v1h-1zM3 70h2v1h-2zM7 70h1v1h-1zM13 70h2v1h-2zM20 70h1v1h-1zM9 71h1v1h-1zM15 71h4v1h-4zM8 72h1v1h-1zM10 72h1v1h-1zM13 72h1v1h-1zM16 72h2v1h-2zM6 73h1v1h-1zM12 73h1v1h-1zM4 74h1v1h-1zM10 74h2v1h-2zM14 74h2v1h-2zM17 74h2v1h-2zM1 75h1v1h-1zM5 75h1v1h-1zM7 75h2v1h-2zM10 75h1v1h-1zM12 75h3v1h-3zM16 75h5v1h-5zM3 76h1v1h-1zM7 76h1v1h-1zM11 76h5v1h-5zM17 76h2v1h-2zM20 76h2v1h-2zM12 77h7v1h-7zM5 78h3v1h-3zM9 78h2v1h-2zM12 78h1v1h-1zM16 78h2v1h-2zM19 78h3v1h-3zM5 79h1v1h-1zM14 79h2v1h-2zM17 79h1v1h-1zM19 79h1v1h-1zM21 79h1v1h-1zM5 80h1v1h-1zM7 80h1v1h-1zM12 80h1v1h-1zM15 80h3v1h-3zM21 80h1v1h-1zM0 81h1v1h-1zM3 81h1v1h-1zM12 81h2v1h-2zM15 81h1v1h-1zM19 81h3v1h-3zM6 82h1v1h-1zM17 82h1v1h-1zM21 82h1v1h-1zM3 83h2v1h-2zM9 83h1v1h-1zM16 83h2v1h-2zM3 84h1v1h-1zM7 84h1v1h-1zM13 84h1v1h-1zM16 84h2v1h-2zM20 84h2v1h-2zM3 85h2v1h-2zM7 85h1v1h-1zM12 85h3v1h-3zM17 85h4v1h-4zM4 86h1v1h-1zM13 86h2v1h-2zM16 86h1v1h-1zM3 87h2v1h-2zM8 87h2v1h-2zM14 87h1v1h-1zM17 87h2v1h-2zM20 87h1v1h-1zM3 88h1v1h-1zM7 88h2v1h-2zM11 88h1v1h-1zM13 88h1v1h-1zM16 88h3v1h-3zM20 88h2v1h-2zM5 89h4v1h-4zM13 89h1v1h-1zM15 89h4v1h-4zM21 89h1v1h-1z"/><path fill="#32658e" d="M6 0h1v1h-1zM13 0h1v1h-1zM7 1h1v1h-1zM12 1h1v1h-1zM16 1h1v1h-1zM20 1h1v1h-1zM14 2h1v1h-1zM21 2h1v1h-1zM0 3h1v1h-1zM7 3h1v1h-1zM10 4h1v1h-1zM17 5h1v1h-1zM4 6h1v1h-1zM21 6h1v1h-1zM1 7h1v1h-1zM4 7h1v1h-1zM8 7h1v1h-1zM9 8h1v1h-1zM3 10h1v1h-1zM0 11h1v1h-1zM6 11h1v1h-1zM7 12h1v1h-1zM0 14h1v1h-1zM9 15h1v1h-1zM4 16h1v1h-1zM13 16h1v1h-1zM2 18h1v1h-1zM19 18h1v1h-1zM2 19h1v1h-1zM4 19h1v1h-1zM6 19h1v1h-1zM10 19h2v1h-2zM16 19h1v1h-1zM18 19h1v1h-1zM21 19h1v1h-1zM11 20h1v1h-1zM12 21h1v1h-1zM0 22h1v1h-1zM6 22h1v1h-1zM15 22h1v1h-1zM2 23h1v1h-1zM2 24h4v1h-4zM7 24h5v1h-5zM14 24h1v1h-1zM16 24h3v1h-3zM20 24h1v1h-1zM11 25h1v1h-1zM1 26h2v1h-2zM11 26h1v1h-1zM0 27h1v1h-1zM2 27h1v1h-1zM4 27h2v1h-2zM7 27h15v1h-15zM5 28h1v1h-1zM7 28h1v1h-1zM9 28h1v1h-1zM14 28h1v1h-1zM16 28h1v1h-1zM0 29h1v1h-1zM5 29h1v1h-1zM3 30h1v1h-1zM7 30h1v1h-1zM11 30h1v1h-1zM0 31h10v1h-10zM12 31h3v1h-3zM17 31h4v1h-4zM1 32h1v1h-1zM4 32h1v1h-1zM19 32h1v1h-1zM4 33h1v1h-1zM7 33h3v1h-3zM11 33h2v1h-2zM15 33h2v1h-2zM20 33h1v1h-1zM4 34h2v1h-2zM21 35h1v1h-1zM17 36h1v1h-1zM19 37h1v1h-1zM5 38h1v1h-1zM9 38h1v1h-1zM17 38h1v1h-1zM19 38h1v1h-1zM3 40h1v1h-1zM18 41h1v1h-1zM21 41h1v1h-1zM3 42h1v1h-1zM4 43h1v1h-1zM6 43h1v1h-1zM14 44h1v1h-1zM13 48h1v1h-1zM15 48h1v1h-1zM13 49h1v1h-1zM11 50h1v1h-1zM13 50h1v1h-1zM6 52h1v1h-1zM8 52h1v1h-1zM14 53h1v1h-1zM15 55h1v1h-1zM20 55h1v1h-1zM10 56h1v1h-1zM15 56h1v1h-1zM12 59h1v1h-1zM21 61h1v1h-1zM7 62h1v1h-1zM8 64h1v1h-1zM4 65h1v1h-1zM14 65h1v1h-1zM12 66h1v1h-1zM16 66h1v1h-1zM20 66h1v1h-1zM3 67h1v1h-1zM5 67h1v1h-1zM10 67h1v1h-1zM18 67h1v1h-1zM18 68h2v1h-2zM21 68h1v1h-1zM5 69h1v1h-1zM5 70h1v1h-1zM11 70h1v1h-1zM20 71h1v1h-1zM4 72h1v1h-1zM6 72h1v1h-1zM9 73h1v1h-1zM3 74h1v1h-1zM12 74h1v1h-1zM20 74h1v1h-1zM19 76h1v1h-1zM9 77h1v1h-1zM20 77h2v1h-2zM7 79h1v1h-1zM20 79h1v1h-1zM8 81h1v1h-1zM10 81h1v1h-1zM14 81h1v1h-1zM19 82h1v1h-1zM18 83h1v1h-1zM18 84h1v1h-1zM10 87h1v1h-1z"/><path fill="#2e6d8e" d="M5 1h1v1h-1zM5 3h1v1h-1zM10 3h2v1h-2zM5 4h1v1h-1zM3 5h1v1h-1zM16 7h1v1h-1zM19 7h1v1h-1zM12 8h1v1h-1zM21 8h1v1h-1zM6 10h2v1h-2zM2 11h1v1h-1zM4 11h1v1h-1zM15 12h1v1h-1zM4 13h1v1h-1zM17 13h1v1h-1zM15 14h1v1h-1zM20 14h1v1h-1zM12 15h1v1h-1zM5 17h1v1h-1zM8 17h1v1h-1zM0 19h2v1h-2zM3 19h1v1h-1zM5 19h1v1h-1zM7 19h3v1h-3zM12 19h4v1h-4zM19 19h2v1h-2zM16 20h1v1h-1zM2 21h1v1h-1zM8 21h1v1h-1zM10 23h1v1h-1zM3 25h1v1h-1zM15 26h1v1h-1zM0 28h1v1h-1zM13 28h1v1h-1zM18 28h1v1h-1zM8 29h1v1h-1zM16 29h1v1h-1zM0 33h3v1h-3zM5 33h2v1h-2zM10 33h1v1h-1zM13 33h2v1h-2zM17 33h3v1h-3zM21 33h1v1h-1zM6 34h1v1h-1zM11 35h1v1h-1zM12 38h1v1h-1zM8 39h1v1h-1zM19 39h1v1h-1zM21 43h1v1h-1zM5 44h1v1h-1zM12 44h1v1h-1zM4 45h1v1h-1zM5 46h1v1h-1zM10 46h2v1h-2zM20 47h1v1h-1zM10 48h1v1h-1zM21 49h1v1h-1zM0 50h1v1h-1zM8 50h1v1h-1zM18 51h1v1h-1zM7 52h1v1h-1zM7 53h1v1h-1zM12 53h1v1h-1zM10 57h1v1h-1zM21 57h1v1h-1zM11 59h1v1h-1zM6 60h1v1h-1zM4 61h1v1h-1zM17 61h1v1h-1zM8 63h1v1h-1zM19 63h1v1h-1zM4 67h1v1h-1zM10 68h1v1h-1zM9 70h2v1h-2zM12 71h1v1h-1zM12 72h1v1h-1zM14 73h1v1h-1zM18 73h1v1h-1zM19 74h1v1h-1zM21 75h1v1h-1zM1 76h1v1h-1zM8 76h2v1h-2zM5 77h2v1h-2zM11 78h1v1h-1zM8 79h1v1h-1zM4 81h1v1h-1zM7 81h1v1h-1zM20 82h1v1h-1zM8 83h1v1h-1zM15 83h1v1h-1zM10 84h1v1h-1zM5 85h1v1h-1zM15 86h1v1h-1zM17 86h2v1h-2zM19 87h1v1h-1zM4 89h1v1h-1z"/><path fill="#2b758e" d="M1 0h1v1h-1zM19 0h1v1h-1zM21 0h1v1h-1zM8 1h1v1h-1zM19 1h1v1h-1zM0 2h1v1h-1zM13 2h1v1h-1zM15 3h1v1h-1zM18 3h1v1h-1zM2 4h1v1h-1zM0 6h1v1h-1zM17 6h1v1h-1zM0 7h1v1h-1zM2 7h1v1h-1zM7 8h1v1h-1zM14 8h2v1h-2zM4 9h1v1h-1zM13 9h1v1h-1zM4 10h1v1h-1zM7 11h1v1h-1zM12 11h2v1h-2zM18 11h1v1h-1zM13 12h2v1h-2zM6 14h2v1h-2zM19 14h1v1h-1zM3 15h1v1h-1zM6 15h1v1h-1zM17 15h1v1h-1zM3 17h1v1h-1zM16 18h1v1h-1zM14 20h1v1h-1zM18 20h1v1h-1zM21 21h1v1h-1zM19 22h1v1h-1zM1 23h1v1h-1zM19 25h1v1h-1zM12 26h1v1h-1zM16 26h1v1h-1zM3 28h1v1h-1zM15 29h1v1h-1zM15 30h2v1h-2zM21 30h1v1h-1zM15 32h2v1h-2zM3 33h1v1h-1zM4 35h1v1h-1zM6 35h1v1h-1zM8 35h1v1h-1zM17 35h1v1h-1zM3 37h2v1h-2zM6 37h1v1h-1zM10 37h1v1h-1zM10 39h1v1h-1zM9 41h2v1h-2zM5 43h1v1h-1zM7 43h1v1h-1zM19 46h2v1h-2zM9 47h1v1h-1zM19 48h1v1h-1zM21 48h1v1h-1zM3 51h1v1h-1zM18 52h1v1h-1zM5 53h1v1h-1zM9 54h1v1h-1zM5 55h1v1h-1zM8 56h1v1h-1zM19 56h1v1h-1zM3 57h1v1h-1zM20 58h2v1h-2zM8 60h1v1h-1zM19 60h1v1h-1zM3 62h1v1h-1zM5 62h1v1h-1zM9 62h1v1h-1zM19 62h1v1h-1zM21 62h1v1h-1zM18 66h1v1h-1zM13 67h1v1h-1zM19 67h1v1h-1zM3 68h1v1h-1zM6 69h1v1h-1zM8 69h1v1h-1zM21 69h1v1h-1zM6 70h1v1h-1zM3 71h1v1h-1zM5 71h1v1h-1zM21 71h1v1h-1zM21 72h1v1h-1zM21 74h1v1h-1zM11 79h1v1h-1zM10 80h1v1h-1zM5 81h1v1h-1zM6 84h1v1h-1zM19 86h1v1h-1zM12 88h1v1h-1z"/><path fill="#287d8e" d="M1 2h1v1h-1zM17 2h1v1h-1zM21 3h1v1h-1zM9 4h1v1h-1zM11 4h1v1h-1zM18 4h1v1h-1zM1 5h1v1h-1zM21 5h1v1h-1zM11 6h1v1h-1zM10 7h1v1h-1zM21 7h1v1h-1zM18 8h1v1h-1zM12 9h1v1h-1zM10 12h1v1h-1zM13 14h1v1h-1zM7 15h1v1h-1zM18 16h1v1h-1zM1 17h1v1h-1zM6 17h1v1h-1zM12 18h1v1h-1zM18 18h1v1h-1zM1 20h1v1h-1zM20 21h1v1h-1zM4 22h1v1h-1zM8 23h1v1h-1zM0 25h1v1h-1zM6 26h1v1h-1zM3 27h1v1h-1zM3 29h1v1h-1zM6 29h1v1h-1zM10 29h1v1h-1zM11 31h1v1h-1zM21 32h1v1h-1zM10 34h3v1h-3zM20 34h1v1h-1zM19 35h1v1h-1zM18 36h1v1h-1zM12 37h1v1h-1zM6 39h1v1h-1zM5 40h1v1h-1zM7 41h1v1h-1zM12 42h1v1h-1zM3 43h1v1h-1zM9 43h1v1h-1zM11 44h1v1h-1zM3 45h1v1h-1zM18 45h1v1h-1zM3 46h2v1h-2zM6 46h1v1h-1zM18 46h1v1h-1zM18 47h1v1h-1zM11 49h1v1h-1zM19 49h1v1h-1zM3 50h1v1h-1zM5 50h2v1h-2zM19 50h1v1h-1zM5 51h1v1h-1zM9 51h1v1h-1zM11 51h1v1h-1zM5 52h1v1h-1zM11 52h1v1h-1zM11 53h1v1h-1zM3 54h2v1h-2zM8 54h1v1h-1zM3 55h1v1h-1zM8 55h1v1h-1zM14 56h1v1h-1zM8 57h1v1h-1zM20 57h1v1h-1zM12 58h1v1h-1zM4 59h1v1h-1zM21 59h1v1h-1zM5 60h1v1h-1zM12 60h1v1h-1zM6 62h1v1h-1zM10 62h1v1h-1zM9 63h1v1h-1zM20 64h1v1h-1zM9 65h1v1h-1zM12 65h1v1h-1zM4 66h1v1h-1zM8 66h1v1h-1zM10 66h2v1h-2zM6 67h1v1h-1zM9 67h1v1h-1zM7 68h1v1h-1zM10 69h1v1h-1zM4 71h1v1h-1zM5 72h1v1h-1zM11 72h1v1h-1zM10 73h2v1h-2zM11 75h1v1h-1zM0 77h1v1h-1zM4 77h1v1h-1zM10 77h1v1h-1zM18 80h1v1h-1zM8 82h3v1h-3zM12 82h1v1h-1zM18 82h1v1h-1zM19 83h1v1h-1zM12 84h1v1h-1zM21 85h1v1h-1zM9 86h1v1h-1zM12 87h1v1h-1z"/><path fill="#25848e" d="M11 2h1v1h-1zM7 4h1v1h-1zM4 5h1v1h-1zM8 5h1v1h-1zM14 5h1v1h-1zM19 5h1v1h-1zM10 6h1v1h-1zM15 7h1v1h-1zM20 7h1v1h-1zM6 9h1v1h-1zM15 9h1v1h-1zM19 9h1v1h-1zM9 10h1v1h-1zM19 10h1v1h-1zM11 11h1v1h-1zM1 12h1v1h-1zM17 12h1v1h-1zM6 13h1v1h-1zM8 13h1v1h-1zM11 14h1v1h-1zM1 15h1v1h-1zM13 15h1v1h-1zM19 16h1v1h-1zM12 17h1v1h-1zM4 18h1v1h-1zM8 18h1v1h-1zM0 20h1v1h-1zM12 20h1v1h-1zM1 21h1v1h-1zM11 21h1v1h-1zM1 22h1v1h-1zM9 22h1v1h-1zM16 22h1v1h-1zM18 22h1v1h-1zM0 24h1v1h-1zM13 24h1v1h-1zM19 24h1v1h-1zM7 25h1v1h-1zM15 25h1v1h-1zM19 28h1v1h-1zM8 30h2v1h-2zM21 31h1v1h-1zM0 32h1v1h-1zM3 32h1v1h-1zM12 32h1v1h-1zM17 32h2v1h-2zM0 34h1v1h-1zM3 34h1v1h-1zM1 36h1v1h-1zM4 36h1v1h-1zM8 36h1v1h-1zM20 36h1v1h-1zM8 37h2v1h-2zM4 38h1v1h-1zM7 38h1v1h-1zM6 40h1v1h-1zM12 40h2v1h-2zM5 42h1v1h-1zM7 42h1v1h-1zM15 42h1v1h-1zM11 43h1v1h-1zM4 44h1v1h-1zM15 44h1v1h-1zM20 44h2v1h-2zM6 45h1v1h-1zM11 45h1v1h-1zM1 46h1v1h-1zM12 46h1v1h-1zM19 47h1v1h-1zM8 48h1v1h-1zM9 49h1v1h-1zM7 50h1v1h-1zM6 51h1v1h-1zM10 51h1v1h-1zM8 53h1v1h-1zM10 53h1v1h-1zM9 55h3v1h-3zM3 56h1v1h-1zM5 56h1v1h-1zM18 56h1v1h-1zM20 56h1v1h-1zM7 57h1v1h-1zM5 58h1v1h-1zM8 59h2v1h-2zM0 61h1v1h-1zM3 61h1v1h-1zM8 61h2v1h-2zM0 62h1v1h-1zM11 62h2v1h-2zM4 63h1v1h-1zM11 63h1v1h-1zM9 64h1v1h-1zM21 64h1v1h-1zM20 65h1v1h-1zM19 66h1v1h-1zM8 68h1v1h-1zM12 69h1v1h-1zM20 69h1v1h-1zM18 72h1v1h-1zM20 72h1v1h-1zM8 73h1v1h-1zM8 74h1v1h-1zM4 75h1v1h-1zM9 75h1v1h-1zM15 75h1v1h-1zM8 78h1v1h-1zM6 79h1v1h-1zM18 79h1v1h-1zM4 80h1v1h-1zM19 80h2v1h-2zM18 81h1v1h-1zM0 83h1v1h-1zM11 83h1v1h-1zM20 83h1v1h-1zM2 84h1v1h-1zM5 84h1v1h-1zM9 84h1v1h-1zM8 85h2v1h-2zM3 86h1v1h-1zM5 86h1v1h-1zM12 86h1v1h-1zM7 87h1v1h-1zM11 89h1v1h-1z"/><path fill="#228c8d" d="M11 0h1v1h-1zM20 0h1v1h-1zM7 2h1v1h-1zM10 2h1v1h-1zM16 3h1v1h-1zM8 4h1v1h-1zM12 4h1v1h-1zM15 4h1v1h-1zM9 5h1v1h-1zM1 6h1v1h-1zM20 6h1v1h-1zM9 7h1v1h-1zM3 8h1v1h-1zM13 8h1v1h-1zM16 8h1v1h-1zM20 8h1v1h-1zM8 9h1v1h-1zM20 9h1v1h-1zM1 10h1v1h-1zM16 10h1v1h-1zM1 11h1v1h-1zM1 13h1v1h-1zM3 13h1v1h-1zM9 14h1v1h-1zM8 16h2v1h-2zM18 17h1v1h-1zM0 18h1v1h-1zM11 18h1v1h-1zM8 20h1v1h-1zM15 20h1v1h-1zM15 21h1v1h-1zM12 22h1v1h-1zM7 23h1v1h-1zM11 23h1v1h-1zM15 23h1v1h-1zM6 24h1v1h-1zM12 24h1v1h-1zM2 25h1v1h-1zM4 26h1v1h-1zM10 26h1v1h-1zM19 26h1v1h-1zM6 27h1v1h-1zM15 28h1v1h-1zM9 29h1v1h-1zM19 29h2v1h-2zM1 30h1v1h-1zM10 30h1v1h-1zM15 31h2v1h-2zM9 34h1v1h-1zM7 35h1v1h-1zM3 36h1v1h-1zM7 36h1v1h-1zM7 37h1v1h-1zM11 37h1v1h-1zM11 38h1v1h-1zM0 39h1v1h-1zM5 39h1v1h-1zM3 41h1v1h-1zM11 41h1v1h-1zM6 42h1v1h-1zM8 42h1v1h-1zM18 42h2v1h-2zM3 44h1v1h-1zM6 44h1v1h-1zM10 45h1v1h-1zM0 47h1v1h-1zM3 47h1v1h-1zM5 47h4v1h-4zM10 47h1v1h-1zM12 47h1v1h-1zM4 48h1v1h-1zM7 49h1v1h-1zM12 49h1v1h-1zM21 50h1v1h-1zM7 51h1v1h-1zM19 51h1v1h-1zM21 51h1v1h-1zM9 53h1v1h-1zM21 53h1v1h-1zM0 54h1v1h-1zM5 54h3v1h-3zM19 54h1v1h-1zM1 55h1v1h-1zM7 56h1v1h-1zM12 57h1v1h-1zM3 58h1v1h-1zM3 59h1v1h-1zM1 60h1v1h-1zM5 61h1v1h-1zM11 61h1v1h-1zM8 62h1v1h-1zM19 64h1v1h-1zM7 65h2v1h-2zM7 66h1v1h-1zM7 69h1v1h-1zM19 69h1v1h-1zM6 71h2v1h-2zM3 73h1v1h-1zM5 73h1v1h-1zM1 74h1v1h-1zM0 75h1v1h-1zM3 75h1v1h-1zM4 76h1v1h-1zM8 77h1v1h-1zM19 77h1v1h-1zM9 79h2v1h-2zM3 80h1v1h-1zM11 80h1v1h-1zM6 81h1v1h-1zM9 81h1v1h-1zM3 82h1v1h-1zM5 82h1v1h-1zM7 82h1v1h-1zM4 84h1v1h-1zM19 84h1v1h-1zM6 86h1v1h-1zM10 86h1v1h-1zM5 87h1v1h-1zM11 87h1v1h-1zM4 88h1v1h-1zM9 88h1v1h-1zM19 88h1v1h-1zM10 89h1v1h-1zM12 89h1v1h-1zM20 89h1v1h-1z"/><path fill="#1f948c" d="M9 0h1v1h-1zM15 0h1v1h-1zM17 0h1v1h-1zM10 1h1v1h-1zM15 1h1v1h-1zM6 2h1v1h-1zM20 2h1v1h-1zM0 4h1v1h-1zM13 4h1v1h-1zM13 7h1v1h-1zM17 7h1v1h-1zM1 8h1v1h-1zM7 9h1v1h-1zM9 9h1v1h-1zM18 10h1v1h-1zM15 11h2v1h-2zM16 12h1v1h-1zM7 13h1v1h-1zM9 13h1v1h-1zM13 13h1v1h-1zM15 13h1v1h-1zM19 13h1v1h-1zM1 14h1v1h-1zM16 14h1v1h-1zM0 16h1v1h-1zM11 16h1v1h-1zM0 17h1v1h-1zM1 18h1v1h-1zM3 18h1v1h-1zM6 18h1v1h-1zM10 18h1v1h-1zM15 18h1v1h-1zM7 20h1v1h-1zM3 21h1v1h-1zM0 23h1v1h-1zM20 23h1v1h-1zM6 25h1v1h-1zM13 25h1v1h-1zM0 26h1v1h-1zM9 26h1v1h-1zM1 28h1v1h-1zM12 29h1v1h-1zM6 30h1v1h-1zM20 30h1v1h-1zM8 32h1v1h-1zM6 36h1v1h-1zM6 38h1v1h-1zM8 38h1v1h-1zM11 39h2v1h-2zM8 40h1v1h-1zM5 41h2v1h-2zM0 42h1v1h-1zM9 42h1v1h-1zM8 43h1v1h-1zM8 44h1v1h-1zM7 45h1v1h-1zM9 45h1v1h-1zM4 47h1v1h-1zM11 47h1v1h-1zM12 48h1v1h-1zM18 48h1v1h-1zM10 49h1v1h-1zM20 49h1v1h-1zM1 50h1v1h-1zM0 52h1v1h-1zM12 54h1v1h-1zM4 55h1v1h-1zM12 55h1v1h-1zM11 57h1v1h-1zM8 58h1v1h-1zM2 60h1v1h-1zM11 60h1v1h-1zM3 63h1v1h-1zM7 63h1v1h-1zM5 64h1v1h-1zM10 65h1v1h-1zM1 66h1v1h-1zM7 67h1v1h-1zM1 68h1v1h-1zM4 68h2v1h-2zM4 69h1v1h-1zM9 69h1v1h-1zM11 69h1v1h-1zM8 71h1v1h-1zM1 72h1v1h-1zM4 73h1v1h-1zM21 73h1v1h-1zM6 74h1v1h-1zM9 74h1v1h-1zM0 76h1v1h-1zM6 76h1v1h-1zM4 78h1v1h-1zM3 79h1v1h-1zM12 79h1v1h-1zM11 82h1v1h-1zM6 83h1v1h-1zM0 85h1v1h-1zM6 85h1v1h-1zM11 85h1v1h-1zM1 86h1v1h-1zM0 87h1v1h-1z"/><path fill="#1e9c89" d="M14 0h1v1h-1zM11 1h1v1h-1zM13 1h2v1h-2zM21 1h1v1h-1zM6 3h1v1h-1zM9 3h1v1h-1zM12 3h1v1h-1zM7 7h1v1h-1zM19 12h1v1h-1zM11 15h1v1h-1zM10 17h1v1h-1zM7 21h1v1h-1zM18 23h1v1h-1zM7 26h1v1h-1zM20 26h1v1h-1zM10 28h1v1h-1zM20 28h1v1h-1zM4 29h1v1h-1zM7 34h1v1h-1zM5 37h1v1h-1zM3 38h1v1h-1zM4 39h1v1h-1zM10 42h1v1h-1zM1 43h1v1h-1zM10 43h1v1h-1zM12 45h1v1h-1zM8 46h1v1h-1zM9 48h1v1h-1zM6 49h1v1h-1zM4 50h1v1h-1zM4 51h1v1h-1zM20 53h1v1h-1zM2 57h1v1h-1zM5 57h1v1h-1zM2 59h1v1h-1zM4 60h1v1h-1zM12 63h1v1h-1zM9 66h1v1h-1zM0 69h2v1h-2zM10 71h1v1h-1zM19 72h1v1h-1zM1 73h1v1h-1zM7 73h1v1h-1zM20 73h1v1h-1zM3 77h1v1h-1zM7 77h1v1h-1zM6 80h1v1h-1zM9 80h1v1h-1zM2 81h1v1h-1zM4 82h1v1h-1zM5 83h1v1h-1zM0 84h1v1h-1zM7 86h1v1h-1zM11 86h1v1h-1zM21 87h1v1h-1zM5 88h1v1h-1zM1 89h1v1h-1zM9 89h1v1h-1z"/><path fill="#20a386" d="M10 0h1v1h-1zM18 1h1v1h-1zM1 3h1v1h-1zM11 5h1v1h-1zM15 6h1v1h-1zM6 7h1v1h-1zM11 7h1v1h-1zM0 8h1v1h-1zM21 10h1v1h-1zM18 12h1v1h-1zM11 13h1v1h-1zM15 16h1v1h-1zM9 17h1v1h-1zM15 17h2v1h-2zM20 17h1v1h-1zM13 18h1v1h-1zM21 22h1v1h-1zM9 23h1v1h-1zM15 24h1v1h-1zM21 26h1v1h-1zM1 27h1v1h-1zM10 31h1v1h-1zM6 32h1v1h-1zM2 34h1v1h-1zM0 36h1v1h-1zM1 38h1v1h-1zM1 40h1v1h-1zM1 41h1v1h-1zM4 41h1v1h-1zM12 41h1v1h-1zM0 46h1v1h-1zM1 48h1v1h-1zM0 49h1v1h-1zM5 49h1v1h-1zM9 50h1v1h-1zM0 51h2v1h-2zM10 54h1v1h-1zM1 56h2v1h-2zM1 57h1v1h-1zM0 58h1v1h-1zM12 61h1v1h-1zM1 62h1v1h-1zM3 65h1v1h-1zM8 67h1v1h-1zM2 68h1v1h-1zM12 70h1v1h-1zM19 70h1v1h-1zM2 73h1v1h-1zM5 74h1v1h-1zM10 76h1v1h-1zM11 77h1v1h-1zM2 78h1v1h-1zM4 79h1v1h-1zM1 80h1v1h-1zM12 83h1v1h-1zM8 84h1v1h-1zM2 87h1v1h-1z"/><path fill="#25ab82" d="M6 1h1v1h-1zM9 1h1v1h-1zM9 2h1v1h-1zM1 4h1v1h-1zM2 5h1v1h-1zM13 5h1v1h-1zM6 6h1v1h-1zM16 9h1v1h-1zM21 9h1v1h-1zM11 10h1v1h-1zM20 10h1v1h-1zM0 12h1v1h-1zM3 12h1v1h-1zM6 12h1v1h-1zM9 12h1v1h-1zM20 12h1v1h-1zM10 20h1v1h-1zM6 21h1v1h-1zM10 22h1v1h-1zM13 23h1v1h-1zM16 23h1v1h-1zM1 24h1v1h-1zM1 25h1v1h-1zM9 25h1v1h-1zM12 25h1v1h-1zM16 25h1v1h-1zM13 26h1v1h-1zM18 26h1v1h-1zM21 28h1v1h-1zM7 29h1v1h-1zM11 29h1v1h-1zM7 32h1v1h-1zM13 32h1v1h-1zM1 35h1v1h-1zM0 37h2v1h-2zM1 39h1v1h-1zM3 39h1v1h-1zM0 40h1v1h-1zM11 42h1v1h-1zM20 42h1v1h-1zM0 43h1v1h-1zM2 43h1v1h-1zM0 44h1v1h-1zM2 45h1v1h-1zM7 55h1v1h-1zM0 56h1v1h-1zM9 56h1v1h-1zM11 56h1v1h-1zM6 58h1v1h-1zM1 65h1v1h-1zM6 65h1v1h-1zM0 67h1v1h-1zM20 68h1v1h-1zM2 69h1v1h-1zM2 72h1v1h-1zM0 74h1v1h-1zM2 75h1v1h-1zM5 76h1v1h-1zM1 78h1v1h-1zM2 80h1v1h-1zM8 80h1v1h-1zM10 83h1v1h-1zM1 85h1v1h-1zM1 87h1v1h-1zM3 89h1v1h-1z"/><path fill="#2eb37c" d="M15 2h1v1h-1zM18 13h1v1h-1zM0 15h1v1h-1zM13 17h1v1h-1zM21 18h1v1h-1zM20 20h1v1h-1zM7 22h1v1h-1zM20 22h1v1h-1zM21 24h1v1h-1zM9 32h1v1h-1zM11 32h1v1h-1zM9 35h1v1h-1zM2 37h1v1h-1zM2 40h1v1h-1zM2 41h1v1h-1zM0 45h1v1h-1zM2 47h1v1h-1zM2 48h1v1h-1zM6 48h1v1h-1zM11 48h1v1h-1zM2 51h1v1h-1zM1 52h2v1h-2zM0 53h2v1h-2zM6 55h1v1h-1zM1 58h1v1h-1zM1 59h1v1h-1zM2 65h1v1h-1zM0 66h1v1h-1zM3 69h1v1h-1zM2 71h1v1h-1zM3 72h1v1h-1zM7 72h1v1h-1zM1 77h1v1h-1zM0 78h1v1h-1zM0 82h2v1h-2zM1 83h1v1h-1zM2 85h1v1h-1zM10 85h1v1h-1zM6 87h1v1h-1zM0 88h1v1h-1zM0 89h1v1h-1z"/><path fill="#3aba76" d="M16 0h1v1h-1zM16 2h1v1h-1zM13 3h1v1h-1zM9 6h1v1h-1zM13 10h1v1h-1zM16 16h1v1h-1zM1 29h1v1h-1zM13 29h1v1h-1zM0 35h1v1h-1zM2 36h1v1h-1zM2 38h1v1h-1zM0 41h1v1h-1zM2 44h1v1h-1zM1 47h1v1h-1zM21 52h1v1h-1zM2 53h1v1h-1zM0 57h1v1h-1zM0 59h1v1h-1zM1 61h1v1h-1zM7 61h1v1h-1zM0 64h1v1h-1zM2 64h1v1h-1zM9 68h1v1h-1zM0 72h1v1h-1zM1 79h1v1h-1zM0 80h1v1h-1zM11 81h1v1h-1zM2 83h1v1h-1zM1 84h1v1h-1z"/><path fill="#48c16e" d="M1 9h1v1h-1zM15 10h1v1h-1zM20 16h1v1h-1zM1 34h1v1h-1zM4 40h1v1h-1zM0 48h1v1h-1zM2 49h1v1h-1zM2 50h1v1h-1zM10 52h1v1h-1zM1 54h1v1h-1zM12 56h1v1h-1zM0 63h1v1h-1zM1 64h1v1h-1zM0 65h1v1h-1zM11 65h1v1h-1zM2 66h1v1h-1zM0 70h1v1h-1zM2 70h1v1h-1zM0 71h1v1h-1zM0 73h1v1h-1zM2 82h1v1h-1zM7 83h1v1h-1zM1 88h1v1h-1zM2 89h1v1h-1z"/><path fill="#58c765" d="M11 8h1v1h-1zM0 30h1v1h-1zM2 39h1v1h-1zM1 49h1v1h-1zM1 63h1v1h-1zM1 70h1v1h-1zM1 71h1v1h-1zM2 86h1v1h-1z"/><path fill="#6ccd5a" d="M20 3h1v1h-1zM9 20h1v1h-1zM13 21h1v1h-1zM11 28h1v1h-1zM2 35h1v1h-1zM0 55h1v1h-1zM0 60h1v1h-1zM2 61h1v1h-1zM1 67h1v1h-1zM2 76h1v1h-1zM0 79h1v1h-1zM1 81h1v1h-1zM0 86h1v1h-1z"/><path fill="#7fd34e" d="M21 20h1v1h-1zM1 42h1v1h-1zM1 44h1v1h-1zM1 45h1v1h-1zM2 55h1v1h-1zM2 62h1v1h-1zM2 63h1v1h-1zM2 67h1v1h-1zM2 79h1v1h-1zM2 88h1v1h-1z"/><path fill="#93d741" d="M0 38h1v1h-1zM2 58h1v1h-1zM0 68h1v1h-1z"/><path fill="#a8db34" d="M10 9h1v1h-1zM2 54h1v1h-1z"/><path fill="#c0df25" d="M9 18h1v1h-1zM2 42h1v1h-1zM2 46h1v1h-1zM2 77h1v1h-1z"/><path fill="#d5e21a" d="M2 74h1v1h-1z"/><path fill="#fde725" d="M17 19h1v1h-1z"/></g>
<g transform="translate(529.10 1555.00) scale(5.6773 7.9900)" shape-rendering="crispEdges"><path fill="#48186a" d="M5 0h1v1h-1z"/><path fill="#482374" d="M14 5h1v1h-1zM2 8h1v1h-1z"/><path fill="#424186" d="M2 7h1v1h-1z"/><path fill="#3e4a89" d="M5 8h1v1h-1zM16 9h1v1h-1zM4 14h1v1h-1zM17 18h1v1h-1z"/><path fill="#3a548c" d="M17 10h1v1h-1zM5 14h1v1h-1zM14 14h1v1h-1zM3 19h1v1h-1zM12 22h1v1h-1z"/><path fill="#365d8d" d="M5 3h1v1h-1zM21 10h1v1h-1zM5 17h1v1h-1zM17 17h1v1h-1z"/><path fill="#32658e" d="M17 3h1v1h-1zM4 5h1v1h-1zM14 6h1v1h-1zM4 9h1v1h-1zM17 9h1v1h-1zM20 9h1v1h-1zM17 11h1v1h-1zM17 12h1v1h-1zM0 14h4v1h-4zM6 14h1v1h-1zM8 14h1v1h-1zM10 14h1v1h-1zM12 14h2v1h-2zM17 14h1v1h-1zM1 15h1v1h-1zM4 15h1v1h-1zM7 15h3v1h-3zM12 15h3v1h-3zM16 15h2v1h-2zM1 16h3v1h-3zM9 16h1v1h-1zM15 16h1v1h-1zM20 16h2v1h-2zM0 17h2v1h-2zM3 17h1v1h-1zM7 17h1v1h-1zM11 17h2v1h-2zM20 17h1v1h-1zM1 18h1v1h-1zM3 18h1v1h-1zM5 18h1v1h-1zM7 18h1v1h-1zM9 18h2v1h-2zM12 18h1v1h-1zM18 18h1v1h-1zM4 19h2v1h-2zM7 19h1v1h-1zM10 19h4v1h-4zM0 20h1v1h-1zM3 20h2v1h-2zM7 20h1v1h-1zM9 20h1v1h-1zM13 20h2v1h-2zM16 20h1v1h-1zM20 20h2v1h-2zM0 21h1v1h-1zM3 21h3v1h-3zM9 21h2v1h-2zM14 21h1v1h-1zM16 21h3v1h-3zM20 21h1v1h-1zM2 22h1v1h-1zM5 22h2v1h-2zM8 22h1v1h-1zM11 22h1v1h-1zM13 22h2v1h-2zM16 22h1v1h-1zM19 22h2v1h-2zM5 23h1v1h-1zM7 23h2v1h-2zM10 23h1v1h-1zM13 23h4v1h-4zM18 23h1v1h-1z"/><path fill="#2e6d8e" d="M8 3h1v1h-1zM15 6h1v1h-1zM14 7h1v1h-1zM5 13h1v1h-1zM12 13h1v1h-1zM5 16h1v1h-1zM15 18h1v1h-1zM8 21h1v1h-1z"/><path fill="#2b758e" d="M17 2h1v1h-1zM13 3h1v1h-1zM3 4h2v1h-2zM17 5h1v1h-1zM5 9h1v1h-1zM2 10h1v1h-1zM0 15h1v1h-1zM8 16h1v1h-1zM3 23h1v1h-1zM17 23h1v1h-1zM21 24h1v1h-1zM10 25h1v1h-1zM14 26h1v1h-1z"/><path fill="#287d8e" d="M3 1h1v1h-1zM14 1h1v1h-1zM8 2h1v1h-1zM4 3h1v1h-1zM21 4h1v1h-1zM2 6h2v1h-2zM13 6h1v1h-1zM5 7h1v1h-1zM18 8h1v1h-1zM3 10h1v1h-1zM19 10h1v1h-1zM6 11h1v1h-1zM15 13h1v1h-1zM14 18h1v1h-1zM7 22h1v1h-1zM1 24h1v1h-1zM3 24h18v1h-18zM0 25h10v1h-10zM11 25h3v1h-3zM15 25h3v1h-3zM20 25h2v1h-2zM0 26h7v1h-7zM8 26h6v1h-6zM15 26h7v1h-7z"/><path fill="#25848e" d="M3 2h1v1h-1zM7 3h1v1h-1zM3 5h1v1h-1zM21 6h1v1h-1zM4 7h1v1h-1zM17 7h2v1h-2zM17 8h1v1h-1zM8 9h1v1h-1zM0 11h1v1h-1zM2 11h1v1h-1zM8 17h1v1h-1zM15 19h1v1h-1z"/><path fill="#228c8d" d="M2 0h1v1h-1zM14 2h1v1h-1zM16 2h1v1h-1zM11 5h1v1h-1zM13 5h1v1h-1zM19 6h1v1h-1zM10 7h3v1h-3zM4 11h1v1h-1zM13 11h1v1h-1zM14 12h1v1h-1zM19 12h1v1h-1zM2 13h1v1h-1zM11 15h1v1h-1zM19 15h1v1h-1zM21 15h1v1h-1zM8 20h1v1h-1zM6 21h1v1h-1z"/><path fill="#1f948c" d="M7 0h1v1h-1zM17 1h1v1h-1zM19 1h1v1h-1zM0 2h1v1h-1zM4 2h1v1h-1zM11 2h1v1h-1zM0 3h1v1h-1zM6 4h1v1h-1zM11 4h1v1h-1zM17 4h1v1h-1zM9 5h1v1h-1zM16 5h1v1h-1zM21 5h1v1h-1zM0 6h1v1h-1zM15 7h1v1h-1zM0 9h1v1h-1zM7 9h1v1h-1zM21 9h1v1h-1zM0 10h1v1h-1zM7 10h1v1h-1zM8 11h1v1h-1zM20 11h1v1h-1zM10 12h1v1h-1zM20 12h1v1h-1zM14 13h1v1h-1zM19 17h1v1h-1zM21 17h1v1h-1zM2 18h1v1h-1zM19 19h1v1h-1zM2 20h1v1h-1zM17 20h1v1h-1zM19 20h1v1h-1zM2 21h1v1h-1zM4 23h1v1h-1z"/><path fill="#1e9c89" d="M13 0h1v1h-1zM11 1h1v1h-1zM18 1h1v1h-1zM12 2h1v1h-1zM18 2h1v1h-1zM14 3h1v1h-1zM2 5h1v1h-1zM5 5h1v1h-1zM5 6h1v1h-1zM14 8h1v1h-1zM21 8h1v1h-1zM14 10h1v1h-1zM14 11h1v1h-1zM1 13h1v1h-1zM21 14h1v1h-1zM0 16h1v1h-1zM14 17h1v1h-1zM1 21h1v1h-1z"/><path fill="#20a386" d="M10 0h1v1h-1zM15 0h1v1h-1zM1 2h1v1h-1zM20 2h1v1h-1zM15 3h1v1h-1zM2 4h1v1h-1zM5 4h1v1h-1zM8 7h1v1h-1zM2 9h2v1h-2zM9 9h1v1h-1zM14 9h1v1h-1zM5 10h1v1h-1zM8 10h1v1h-1zM10 10h1v1h-1zM12 10h1v1h-1zM1 11h1v1h-1zM0 12h1v1h-1zM5 12h1v1h-1zM3 13h1v1h-1zM18 13h1v1h-1zM15 14h1v1h-1zM4 16h1v1h-1zM13 16h1v1h-1zM6 18h1v1h-1zM16 18h1v1h-1zM14 19h1v1h-1zM17 19h1v1h-1zM6 20h1v1h-1zM12 20h1v1h-1zM3 22h1v1h-1zM21 22h1v1h-1z"/><path fill="#25ab82" d="M4 0h1v1h-1zM18 0h1v1h-1zM1 1h1v1h-1zM9 1h1v1h-1zM16 1h1v1h-1zM6 3h1v1h-1zM0 5h2v1h-2zM18 6h1v1h-1zM20 6h1v1h-1zM8 8h1v1h-1zM15 8h1v1h-1zM18 9h1v1h-1zM7 11h1v1h-1zM3 12h1v1h-1zM4 13h1v1h-1zM6 13h1v1h-1zM17 13h1v1h-1zM16 14h1v1h-1zM2 15h1v1h-1zM6 15h1v1h-1zM11 16h1v1h-1zM13 17h1v1h-1zM8 19h1v1h-1zM11 21h1v1h-1zM19 23h1v1h-1zM14 25h1v1h-1z"/><path fill="#2eb37c" d="M8 0h1v1h-1zM19 0h1v1h-1zM4 1h1v1h-1zM7 1h2v1h-2zM2 2h1v1h-1zM19 2h1v1h-1zM15 4h1v1h-1zM19 4h1v1h-1zM6 5h1v1h-1zM9 6h1v1h-1zM13 7h1v1h-1zM3 8h1v1h-1zM11 8h1v1h-1zM6 9h1v1h-1zM12 9h1v1h-1zM4 10h1v1h-1zM15 10h1v1h-1zM18 10h1v1h-1zM12 11h1v1h-1zM11 14h1v1h-1zM18 14h1v1h-1zM20 15h1v1h-1zM7 16h1v1h-1zM17 16h1v1h-1zM19 18h2v1h-2zM9 19h1v1h-1zM21 19h1v1h-1zM15 21h1v1h-1zM21 23h1v1h-1z"/><path fill="#3aba76" d="M1 0h1v1h-1zM9 0h1v1h-1zM11 0h1v1h-1zM7 2h1v1h-1zM0 4h2v1h-2zM12 4h1v1h-1zM14 4h1v1h-1zM10 5h1v1h-1zM4 6h1v1h-1zM7 6h1v1h-1zM17 6h1v1h-1zM6 7h1v1h-1zM1 8h1v1h-1zM9 8h1v1h-1zM19 8h1v1h-1zM10 9h1v1h-1zM13 9h1v1h-1zM19 9h1v1h-1zM9 11h1v1h-1zM15 11h1v1h-1zM19 11h1v1h-1zM2 12h1v1h-1zM8 12h1v1h-1zM16 12h1v1h-1zM18 12h1v1h-1zM21 12h1v1h-1zM0 13h1v1h-1zM5 15h1v1h-1zM18 15h1v1h-1zM10 17h1v1h-1zM16 17h1v1h-1zM18 19h1v1h-1zM15 20h1v1h-1zM19 21h1v1h-1zM17 22h1v1h-1zM2 23h1v1h-1zM20 23h1v1h-1zM0 24h1v1h-1z"/><path fill="#48c16e" d="M3 0h1v1h-1zM14 0h1v1h-1zM0 1h1v1h-1zM13 4h1v1h-1zM20 4h1v1h-1zM12 5h1v1h-1zM18 5h1v1h-1zM20 5h1v1h-1zM8 6h1v1h-1zM0 7h1v1h-1zM10 8h1v1h-1zM12 8h1v1h-1zM6 10h1v1h-1zM5 11h1v1h-1zM7 14h1v1h-1zM19 14h2v1h-2zM14 16h1v1h-1zM4 17h1v1h-1zM4 18h1v1h-1zM20 19h1v1h-1zM13 21h1v1h-1zM4 22h1v1h-1zM15 22h1v1h-1zM0 23h1v1h-1zM12 23h1v1h-1z"/><path fill="#58c765" d="M0 0h1v1h-1zM6 0h1v1h-1zM12 0h1v1h-1zM16 0h1v1h-1zM21 0h1v1h-1zM5 2h1v1h-1zM9 2h1v1h-1zM21 2h1v1h-1zM1 3h1v1h-1zM3 3h1v1h-1zM18 3h2v1h-2zM8 4h1v1h-1zM7 5h2v1h-2zM19 5h1v1h-1zM3 7h1v1h-1zM4 8h1v1h-1zM11 9h1v1h-1zM10 11h2v1h-2zM21 11h1v1h-1zM6 12h2v1h-2zM11 12h1v1h-1zM13 12h1v1h-1zM15 12h1v1h-1zM16 13h1v1h-1zM15 15h1v1h-1zM0 19h2v1h-2zM18 20h1v1h-1zM7 21h1v1h-1zM12 21h1v1h-1zM6 23h1v1h-1zM9 23h1v1h-1z"/><path fill="#6ccd5a" d="M17 0h1v1h-1zM2 1h1v1h-1zM10 1h1v1h-1zM13 1h1v1h-1zM6 2h1v1h-1zM10 2h1v1h-1zM21 7h1v1h-1zM20 10h1v1h-1zM4 12h1v1h-1zM12 12h1v1h-1zM6 16h1v1h-1zM15 17h1v1h-1zM2 19h1v1h-1zM18 22h1v1h-1z"/><path fill="#7fd34e" d="M20 0h1v1h-1zM5 1h1v1h-1zM15 1h1v1h-1zM13 2h1v1h-1zM7 4h1v1h-1zM1 6h1v1h-1zM7 7h1v1h-1zM16 7h1v1h-1zM19 7h1v1h-1zM6 8h1v1h-1zM16 8h1v1h-1zM13 10h1v1h-1zM16 11h1v1h-1zM9 12h1v1h-1zM19 13h1v1h-1zM10 16h1v1h-1zM12 16h1v1h-1zM16 16h1v1h-1zM0 18h1v1h-1zM6 19h1v1h-1zM16 19h1v1h-1zM11 20h1v1h-1zM0 22h2v1h-2zM10 22h1v1h-1zM11 23h1v1h-1z"/><path fill="#93d741" d="M20 1h1v1h-1zM11 3h1v1h-1zM16 3h1v1h-1zM9 7h1v1h-1zM15 9h1v1h-1zM7 13h2v1h-2zM10 13h1v1h-1zM6 17h1v1h-1zM8 18h1v1h-1zM1 20h1v1h-1z"/><path fill="#a8db34" d="M6 1h1v1h-1zM12 1h1v1h-1zM2 3h1v1h-1zM10 3h1v1h-1zM20 3h2v1h-2zM18 4h1v1h-1zM10 6h1v1h-1zM16 6h1v1h-1zM7 8h1v1h-1zM16 10h1v1h-1zM18 11h1v1h-1zM9 13h1v1h-1zM20 13h1v1h-1zM3 15h1v1h-1zM18 16h1v1h-1zM2 17h1v1h-1zM18 17h1v1h-1zM21 18h1v1h-1zM5 20h1v1h-1zM21 21h1v1h-1z"/><path fill="#c0df25" d="M21 1h1v1h-1zM10 4h1v1h-1zM16 4h1v1h-1zM15 5h1v1h-1zM6 6h1v1h-1zM12 6h1v1h-1zM1 7h1v1h-1zM20 7h1v1h-1zM0 8h1v1h-1zM9 10h1v1h-1zM10 15h1v1h-1zM1 23h1v1h-1zM2 24h1v1h-1zM18 25h1v1h-1z"/><path fill="#d5e21a" d="M15 2h1v1h-1zM9 3h1v1h-1zM12 3h1v1h-1zM11 6h1v1h-1zM13 8h1v1h-1zM3 11h1v1h-1zM11 13h1v1h-1zM9 17h1v1h-1zM11 18h1v1h-1zM13 18h1v1h-1zM19 25h1v1h-1z"/><path fill="#eae51a" d="M11 10h1v1h-1zM21 13h1v1h-1zM19 16h1v1h-1zM10 20h1v1h-1zM7 26h1v1h-1z"/><path fill="#fde725" d="M9 4h1v1h-1zM20 8h1v1h-1zM1 9h1v1h-1zM1 10h1v1h-1zM1 12h1v1h-1zM13 13h1v1h-1zM9 14h1v1h-1zM9 22h1v1h-1z"/></g>
<g transform="translate(660.20 830.50) scale(5.6789 7.9770)" shape-rendering="crispEdges"><path fill="#440154" d="M2 3h1v1h-1zM6 8h1v1h-1zM2 10h1v1h-1zM13 10h1v1h-1zM13 11h1v1h-1zM13 14h1v1h-1zM17 14h1v1h-1zM7 18h1v1h-1zM2 26h1v1h-1zM4 26h1v1h-1zM0 29h1v1h-1zM13 34h1v1h-1zM12 36h2v1h-2zM13 48h1v1h-1zM14 49h1v1h-1zM14 65h1v1h-1zM13 67h1v1h-1zM12 85h1v1h-1z"/><path fill="#470d60" d="M9 1h1v1h-1zM4 5h1v1h-1zM9 6h1v1h-1zM7 8h1v1h-1zM13 8h1v1h-1zM13 13h1v1h-1zM13 15h1v1h-1zM2 16h1v1h-1zM13 30h1v1h-1zM18 30h1v1h-1zM16 32h1v1h-1zM13 54h1v1h-1zM13 57h1v1h-1zM12 68h1v1h-1zM16 68h1v1h-1zM13 75h1v1h-1zM13 83h1v1h-1z"/><path fill="#48186a" d="M17 3h1v1h-1zM15 4h1v1h-1zM6 6h1v1h-1zM15 7h1v1h-1zM17 15h1v1h-1zM16 17h1v1h-1zM2 21h1v1h-1zM16 22h1v1h-1zM13 25h1v1h-1zM13 32h1v1h-1zM13 37h1v1h-1zM13 38h1v1h-1zM13 50h1v1h-1zM12 52h2v1h-2zM18 58h1v1h-1zM14 61h1v1h-1zM14 62h1v1h-1zM13 66h2v1h-2zM12 67h1v1h-1zM14 70h1v1h-1zM12 80h1v1h-1z"/><path fill="#482374" d="M2 4h1v1h-1zM2 6h2v1h-2zM16 6h2v1h-2zM1 8h2v1h-2zM13 9h1v1h-1zM17 10h1v1h-1zM4 12h1v1h-1zM6 14h1v1h-1zM8 23h1v1h-1zM13 23h1v1h-1zM13 28h1v1h-1zM9 29h1v1h-1zM6 34h1v1h-1zM13 35h1v1h-1zM13 39h1v1h-1zM12 47h1v1h-1zM5 48h1v1h-1zM12 48h1v1h-1zM12 49h1v1h-1zM14 50h1v1h-1zM12 54h1v1h-1zM17 56h1v1h-1zM4 58h1v1h-1zM13 59h1v1h-1zM12 66h1v1h-1zM13 69h1v1h-1zM13 73h1v1h-1zM14 74h1v1h-1z"/><path fill="#472e7c" d="M13 0h1v1h-1zM6 1h1v1h-1zM13 2h1v1h-1zM2 5h1v1h-1zM0 8h1v1h-1zM10 13h1v1h-1zM4 14h1v1h-1zM10 14h1v1h-1zM1 18h1v1h-1zM17 18h1v1h-1zM13 22h2v1h-2zM15 23h1v1h-1zM0 26h1v1h-1zM1 29h1v1h-1zM8 29h1v1h-1zM14 34h1v1h-1zM16 35h1v1h-1zM13 40h1v1h-1zM10 41h1v1h-1zM18 49h1v1h-1zM14 58h1v1h-1zM12 63h1v1h-1zM14 63h1v1h-1zM13 65h1v1h-1zM16 71h1v1h-1zM12 72h1v1h-1zM18 75h1v1h-1zM13 78h1v1h-1zM12 81h1v1h-1zM18 87h1v1h-1zM16 88h1v1h-1z"/><path fill="#453882" d="M3 0h1v1h-1zM0 1h1v1h-1zM3 2h1v1h-1zM8 3h1v1h-1zM17 5h1v1h-1zM4 6h1v1h-1zM3 7h1v1h-1zM5 9h1v1h-1zM16 12h1v1h-1zM14 15h1v1h-1zM6 18h1v1h-1zM9 22h1v1h-1zM17 23h1v1h-1zM7 29h1v1h-1zM9 30h1v1h-1zM8 35h1v1h-1zM12 37h1v1h-1zM15 37h1v1h-1zM4 38h1v1h-1zM18 39h1v1h-1zM3 43h1v1h-1zM14 44h1v1h-1zM10 46h1v1h-1zM16 50h1v1h-1zM14 52h1v1h-1zM18 52h1v1h-1zM9 55h1v1h-1zM14 55h1v1h-1zM15 69h1v1h-1zM12 71h1v1h-1zM5 72h1v1h-1zM9 73h1v1h-1zM12 74h2v1h-2zM14 79h1v1h-1zM13 80h1v1h-1zM14 81h1v1h-1zM9 82h1v1h-1zM8 86h1v1h-1zM13 88h1v1h-1z"/><path fill="#424186" d="M14 3h1v1h-1zM0 4h1v1h-1zM8 5h1v1h-1zM15 6h1v1h-1zM5 7h1v1h-1zM17 7h1v1h-1zM17 9h1v1h-1zM1 10h1v1h-1zM11 10h1v1h-1zM9 11h1v1h-1zM0 13h1v1h-1zM17 13h1v1h-1zM6 16h1v1h-1zM17 16h1v1h-1zM5 17h2v1h-2zM7 22h1v1h-1zM15 22h1v1h-1zM2 23h1v1h-1zM10 23h1v1h-1zM6 25h1v1h-1zM1 26h1v1h-1zM4 28h1v1h-1zM13 29h1v1h-1zM10 39h1v1h-1zM15 41h1v1h-1zM14 42h1v1h-1zM12 44h1v1h-1zM7 45h1v1h-1zM17 45h1v1h-1zM2 46h1v1h-1zM8 46h1v1h-1zM6 48h1v1h-1zM9 48h1v1h-1zM3 53h1v1h-1zM14 54h1v1h-1zM14 59h1v1h-1zM12 60h2v1h-2zM11 63h1v1h-1zM15 63h1v1h-1zM12 64h1v1h-1zM6 66h1v1h-1zM17 66h2v1h-2zM2 67h1v1h-1zM11 69h1v1h-1zM12 70h1v1h-1zM17 72h1v1h-1zM2 77h1v1h-1zM10 77h1v1h-1zM12 83h1v1h-1zM12 87h1v1h-1zM16 89h1v1h-1z"/><path fill="#3e4a89" d="M3 1h1v1h-1zM13 1h1v1h-1zM8 4h1v1h-1zM6 5h1v1h-1zM5 6h1v1h-1zM17 8h1v1h-1zM2 9h1v1h-1zM1 11h1v1h-1zM17 11h1v1h-1zM3 12h1v1h-1zM5 12h1v1h-1zM9 12h1v1h-1zM8 14h1v1h-1zM2 15h1v1h-1zM4 15h1v1h-1zM15 15h1v1h-1zM16 16h1v1h-1zM13 21h1v1h-1zM15 21h1v1h-1zM17 21h1v1h-1zM2 22h1v1h-1zM2 25h1v1h-1zM16 25h1v1h-1zM12 30h1v1h-1zM17 36h1v1h-1zM16 39h1v1h-1zM4 42h1v1h-1zM12 42h1v1h-1zM18 42h1v1h-1zM9 44h1v1h-1zM14 45h1v1h-1zM16 45h1v1h-1zM18 45h1v1h-1zM13 46h1v1h-1zM16 46h2v1h-2zM14 47h1v1h-1zM17 47h1v1h-1zM10 49h1v1h-1zM13 49h1v1h-1zM18 50h1v1h-1zM8 51h1v1h-1zM13 51h2v1h-2zM9 52h1v1h-1zM15 52h1v1h-1zM18 54h1v1h-1zM18 55h1v1h-1zM12 57h1v1h-1zM18 57h1v1h-1zM15 58h1v1h-1zM16 59h1v1h-1zM7 66h1v1h-1zM16 69h1v1h-1zM6 70h1v1h-1zM13 70h1v1h-1zM2 72h1v1h-1zM9 72h1v1h-1zM16 72h1v1h-1zM5 73h1v1h-1zM14 76h1v1h-1zM15 78h1v1h-1zM12 79h1v1h-1zM15 79h1v1h-1zM8 83h1v1h-1zM13 86h1v1h-1z"/><path fill="#3a548c" d="M5 0h1v1h-1zM17 0h1v1h-1zM2 1h1v1h-1zM5 3h1v1h-1zM10 4h1v1h-1zM15 5h1v1h-1zM1 6h1v1h-1zM7 7h2v1h-2zM16 7h1v1h-1zM9 8h1v1h-1zM9 9h1v1h-1zM14 9h1v1h-1zM16 10h1v1h-1zM18 10h1v1h-1zM16 11h1v1h-1zM2 12h1v1h-1zM7 12h2v1h-2zM11 13h1v1h-1zM16 13h1v1h-1zM0 14h1v1h-1zM0 15h1v1h-1zM12 16h1v1h-1zM0 17h1v1h-1zM2 17h1v1h-1zM17 17h1v1h-1zM3 22h1v1h-1zM9 23h1v1h-1zM7 26h1v1h-1zM11 26h1v1h-1zM14 29h1v1h-1zM17 29h1v1h-1zM0 30h1v1h-1zM17 32h1v1h-1zM9 34h1v1h-1zM16 34h3v1h-3zM14 36h1v1h-1zM7 38h1v1h-1zM18 38h1v1h-1zM12 41h1v1h-1zM17 41h1v1h-1zM5 44h1v1h-1zM15 44h1v1h-1zM13 45h1v1h-1zM4 47h1v1h-1zM6 47h1v1h-1zM14 48h2v1h-2zM18 48h1v1h-1zM5 54h1v1h-1zM9 54h1v1h-1zM13 56h1v1h-1zM16 56h1v1h-1zM12 58h2v1h-2zM6 59h1v1h-1zM14 60h2v1h-2zM12 61h1v1h-1zM17 61h1v1h-1zM17 63h1v1h-1zM15 65h1v1h-1zM7 67h1v1h-1zM11 67h1v1h-1zM7 68h1v1h-1zM13 68h1v1h-1zM4 70h1v1h-1zM15 70h1v1h-1zM4 72h1v1h-1zM11 77h1v1h-1zM3 79h1v1h-1zM6 79h1v1h-1zM4 81h1v1h-1zM9 83h1v1h-1zM11 84h1v1h-1zM14 84h1v1h-1zM15 85h1v1h-1zM4 86h1v1h-1zM7 86h1v1h-1zM13 87h1v1h-1z"/><path fill="#365d8d" d="M2 0h1v1h-1zM4 0h1v1h-1zM15 0h1v1h-1zM10 1h1v1h-1zM16 1h1v1h-1zM2 2h1v1h-1zM9 4h1v1h-1zM1 5h1v1h-1zM11 5h1v1h-1zM8 6h1v1h-1zM12 6h1v1h-1zM14 7h1v1h-1zM8 8h1v1h-1zM10 8h1v1h-1zM14 8h1v1h-1zM4 9h1v1h-1zM6 9h1v1h-1zM0 10h1v1h-1zM8 10h2v1h-2zM15 10h1v1h-1zM4 11h1v1h-1zM7 11h1v1h-1zM6 12h1v1h-1zM17 12h1v1h-1zM3 15h1v1h-1zM8 16h1v1h-1zM13 18h1v1h-1zM11 20h1v1h-1zM14 20h1v1h-1zM6 21h1v1h-1zM8 21h1v1h-1zM17 22h1v1h-1zM8 28h1v1h-1zM17 28h1v1h-1zM17 30h1v1h-1zM10 32h1v1h-1zM12 34h1v1h-1zM15 34h1v1h-1zM4 35h1v1h-1zM7 35h1v1h-1zM12 35h1v1h-1zM15 35h1v1h-1zM5 36h2v1h-2zM8 36h1v1h-1zM11 36h1v1h-1zM15 36h1v1h-1zM4 37h1v1h-1zM14 37h1v1h-1zM9 38h1v1h-1zM11 38h2v1h-2zM17 38h1v1h-1zM5 39h3v1h-3zM12 39h1v1h-1zM14 39h2v1h-2zM2 40h2v1h-2zM7 40h1v1h-1zM14 40h1v1h-1zM17 40h1v1h-1zM0 41h1v1h-1zM2 41h1v1h-1zM7 41h1v1h-1zM9 41h1v1h-1zM13 41h1v1h-1zM16 41h1v1h-1zM5 42h1v1h-1zM10 42h2v1h-2zM15 42h3v1h-3zM8 43h1v1h-1zM13 43h1v1h-1zM16 43h2v1h-2zM4 44h1v1h-1zM7 44h2v1h-2zM13 44h1v1h-1zM17 44h1v1h-1zM4 45h2v1h-2zM12 45h1v1h-1zM12 46h1v1h-1zM14 46h1v1h-1zM18 46h1v1h-1zM5 47h1v1h-1zM13 47h1v1h-1zM15 47h2v1h-2zM3 48h2v1h-2zM8 48h1v1h-1zM16 48h1v1h-1zM2 49h1v1h-1zM5 49h2v1h-2zM3 50h1v1h-1zM6 50h1v1h-1zM10 50h1v1h-1zM12 50h1v1h-1zM15 50h1v1h-1zM7 51h1v1h-1zM12 51h1v1h-1zM15 51h2v1h-2zM18 51h1v1h-1zM3 52h1v1h-1zM6 52h1v1h-1zM8 52h1v1h-1zM5 53h1v1h-1zM8 53h1v1h-1zM11 53h2v1h-2zM14 53h1v1h-1zM18 53h1v1h-1zM4 54h1v1h-1zM10 54h1v1h-1zM15 54h1v1h-1zM6 55h1v1h-1zM8 55h1v1h-1zM12 55h2v1h-2zM16 55h1v1h-1zM2 56h2v1h-2zM5 56h2v1h-2zM9 56h1v1h-1zM12 56h1v1h-1zM14 56h2v1h-2zM2 57h1v1h-1zM6 57h1v1h-1zM8 57h1v1h-1zM14 57h2v1h-2zM2 58h2v1h-2zM9 58h2v1h-2zM16 58h2v1h-2zM4 59h1v1h-1zM8 59h1v1h-1zM12 59h1v1h-1zM18 59h1v1h-1zM7 60h1v1h-1zM10 60h2v1h-2zM17 60h2v1h-2zM2 61h1v1h-1zM6 61h1v1h-1zM10 61h2v1h-2zM18 61h1v1h-1zM4 62h1v1h-1zM12 62h1v1h-1zM15 62h1v1h-1zM5 63h1v1h-1zM9 63h1v1h-1zM13 63h1v1h-1zM16 63h1v1h-1zM18 63h1v1h-1zM4 64h1v1h-1zM6 64h2v1h-2zM13 64h3v1h-3zM3 65h1v1h-1zM7 65h1v1h-1zM9 65h4v1h-4zM17 65h2v1h-2zM3 66h1v1h-1zM8 66h1v1h-1zM11 66h1v1h-1zM16 66h1v1h-1zM3 67h1v1h-1zM10 67h1v1h-1zM14 67h1v1h-1zM16 67h2v1h-2zM3 68h1v1h-1zM6 68h1v1h-1zM8 68h1v1h-1zM15 68h1v1h-1zM2 69h1v1h-1zM4 69h3v1h-3zM12 69h1v1h-1zM2 70h2v1h-2zM5 70h1v1h-1zM9 70h1v1h-1zM16 70h1v1h-1zM18 70h1v1h-1zM2 71h1v1h-1zM4 71h2v1h-2zM14 71h1v1h-1zM17 71h1v1h-1zM7 72h1v1h-1zM13 72h2v1h-2zM2 73h1v1h-1zM6 73h1v1h-1zM8 73h1v1h-1zM10 73h1v1h-1zM12 73h1v1h-1zM15 73h1v1h-1zM17 73h2v1h-2zM4 74h3v1h-3zM15 74h1v1h-1zM17 74h1v1h-1zM5 75h1v1h-1zM8 75h2v1h-2zM11 75h2v1h-2zM15 75h3v1h-3zM3 76h2v1h-2zM11 76h3v1h-3zM15 76h3v1h-3zM5 77h2v1h-2zM8 77h2v1h-2zM12 77h3v1h-3zM16 77h1v1h-1zM18 77h1v1h-1zM2 78h1v1h-1zM12 78h1v1h-1zM14 78h1v1h-1zM17 78h2v1h-2zM7 79h1v1h-1zM11 79h1v1h-1zM13 79h1v1h-1zM17 79h2v1h-2zM2 80h3v1h-3zM6 80h2v1h-2zM9 80h2v1h-2zM14 80h2v1h-2zM17 80h1v1h-1zM8 81h1v1h-1zM10 81h1v1h-1zM13 81h1v1h-1zM15 81h4v1h-4zM4 82h2v1h-2zM8 82h1v1h-1zM10 82h1v1h-1zM12 82h3v1h-3zM16 82h3v1h-3zM2 83h1v1h-1zM7 83h1v1h-1zM10 83h2v1h-2zM14 83h1v1h-1zM17 83h2v1h-2zM3 84h2v1h-2zM7 84h1v1h-1zM12 84h2v1h-2zM15 84h1v1h-1zM17 84h1v1h-1zM7 85h3v1h-3zM11 85h1v1h-1zM13 85h2v1h-2zM16 85h1v1h-1zM18 85h1v1h-1zM3 86h1v1h-1zM6 86h1v1h-1zM9 86h1v1h-1zM12 86h1v1h-1zM14 86h4v1h-4zM2 87h2v1h-2zM8 87h3v1h-3zM14 87h4v1h-4zM5 88h1v1h-1zM9 88h2v1h-2zM12 88h1v1h-1zM14 88h2v1h-2zM3 89h5v1h-5zM10 89h6v1h-6zM17 89h2v1h-2z"/><path fill="#32658e" d="M6 0h1v1h-1zM8 1h1v1h-1zM5 2h1v1h-1zM14 2h1v1h-1zM16 2h1v1h-1zM1 3h1v1h-1zM13 3h1v1h-1zM12 4h1v1h-1zM18 4h1v1h-1zM16 5h1v1h-1zM11 6h1v1h-1zM4 7h1v1h-1zM6 7h1v1h-1zM9 7h1v1h-1zM15 9h1v1h-1zM3 10h1v1h-1zM6 10h1v1h-1zM0 11h1v1h-1zM5 11h1v1h-1zM18 11h1v1h-1zM2 13h1v1h-1zM1 15h1v1h-1zM6 15h1v1h-1zM9 17h1v1h-1zM13 17h1v1h-1zM5 19h1v1h-1zM10 19h1v1h-1zM14 19h1v1h-1zM2 20h1v1h-1zM15 20h1v1h-1zM12 22h1v1h-1zM3 23h2v1h-2zM2 24h4v1h-4zM7 24h1v1h-1zM9 24h1v1h-1zM12 24h4v1h-4zM17 24h1v1h-1zM7 25h2v1h-2zM15 25h1v1h-1zM8 26h2v1h-2zM13 26h1v1h-1zM17 26h1v1h-1zM0 27h1v1h-1zM2 27h5v1h-5zM9 27h6v1h-6zM16 27h3v1h-3zM2 28h1v1h-1zM16 29h1v1h-1zM0 31h4v1h-4zM5 31h5v1h-5zM11 31h7v1h-7zM6 32h1v1h-1zM0 33h1v1h-1zM11 33h1v1h-1zM14 33h1v1h-1zM16 33h3v1h-3zM3 34h2v1h-2zM2 35h1v1h-1zM18 35h1v1h-1zM18 36h1v1h-1zM6 37h1v1h-1zM14 38h1v1h-1zM0 39h1v1h-1zM3 39h1v1h-1zM11 39h1v1h-1zM9 40h1v1h-1zM15 40h1v1h-1zM5 41h1v1h-1zM6 42h1v1h-1zM13 42h1v1h-1zM14 43h1v1h-1zM3 44h1v1h-1zM8 45h1v1h-1zM3 47h1v1h-1zM8 49h1v1h-1zM16 49h1v1h-1zM2 51h3v1h-3zM2 52h1v1h-1zM17 52h1v1h-1zM15 53h2v1h-2zM16 54h1v1h-1zM2 55h1v1h-1zM7 55h1v1h-1zM15 55h1v1h-1zM10 56h1v1h-1zM6 58h1v1h-1zM15 59h1v1h-1zM2 60h1v1h-1zM2 62h1v1h-1zM3 63h1v1h-1zM6 63h2v1h-2zM9 66h1v1h-1zM14 68h1v1h-1zM13 71h1v1h-1zM15 72h1v1h-1zM7 73h1v1h-1zM2 74h1v1h-1zM9 74h2v1h-2zM5 76h1v1h-1zM10 76h1v1h-1zM18 76h1v1h-1zM4 77h1v1h-1zM6 78h1v1h-1zM5 79h1v1h-1zM8 79h1v1h-1zM11 80h1v1h-1zM18 80h1v1h-1zM15 82h1v1h-1zM15 83h1v1h-1zM18 86h1v1h-1zM0 87h1v1h-1zM4 88h1v1h-1zM6 88h1v1h-1z"/><path fill="#2e6d8e" d="M7 0h1v1h-1zM1 2h1v1h-1zM6 2h1v1h-1zM9 2h1v1h-1zM0 3h1v1h-1zM1 4h1v1h-1zM5 4h1v1h-1zM0 5h1v1h-1zM5 5h1v1h-1zM10 5h1v1h-1zM16 8h1v1h-1zM8 9h1v1h-1zM16 9h1v1h-1zM8 11h1v1h-1zM14 12h1v1h-1zM9 13h1v1h-1zM2 14h1v1h-1zM14 14h1v1h-1zM18 14h1v1h-1zM5 15h1v1h-1zM9 15h1v1h-1zM11 15h1v1h-1zM0 16h1v1h-1zM4 16h1v1h-1zM1 17h1v1h-1zM11 18h1v1h-1zM15 18h1v1h-1zM0 19h1v1h-1zM2 19h3v1h-3zM6 19h4v1h-4zM12 19h2v1h-2zM15 19h4v1h-4zM3 20h1v1h-1zM5 20h1v1h-1zM9 20h1v1h-1zM17 20h1v1h-1zM14 23h1v1h-1zM8 24h1v1h-1zM11 24h1v1h-1zM6 28h1v1h-1zM18 28h1v1h-1zM5 29h1v1h-1zM0 32h1v1h-1zM4 32h1v1h-1zM15 32h1v1h-1zM1 33h5v1h-5zM7 33h2v1h-2zM10 33h1v1h-1zM12 33h2v1h-2zM15 33h1v1h-1zM3 35h1v1h-1zM9 35h2v1h-2zM7 36h1v1h-1zM9 36h2v1h-2zM10 37h1v1h-1zM6 38h1v1h-1zM8 38h1v1h-1zM15 38h1v1h-1zM12 40h1v1h-1zM6 41h1v1h-1zM18 41h1v1h-1zM3 42h1v1h-1zM4 43h1v1h-1zM15 43h1v1h-1zM6 44h1v1h-1zM18 44h1v1h-1zM3 45h1v1h-1zM6 45h1v1h-1zM10 45h2v1h-2zM7 48h1v1h-1zM2 50h1v1h-1zM11 50h1v1h-1zM16 52h1v1h-1zM2 53h1v1h-1zM6 54h1v1h-1zM7 56h2v1h-2zM5 57h1v1h-1zM11 57h1v1h-1zM16 57h1v1h-1zM7 59h1v1h-1zM17 59h1v1h-1zM13 61h1v1h-1zM15 61h2v1h-2zM3 62h1v1h-1zM10 62h2v1h-2zM13 62h1v1h-1zM5 64h1v1h-1zM17 64h1v1h-1zM10 66h1v1h-1zM15 66h1v1h-1zM4 67h1v1h-1zM6 67h1v1h-1zM8 67h1v1h-1zM15 67h1v1h-1zM2 68h1v1h-1zM3 69h1v1h-1zM7 69h1v1h-1zM14 69h1v1h-1zM7 70h1v1h-1zM10 70h1v1h-1zM6 71h1v1h-1zM15 71h1v1h-1zM18 71h1v1h-1zM18 72h1v1h-1zM14 73h1v1h-1zM16 73h1v1h-1zM10 75h1v1h-1zM3 77h1v1h-1zM0 81h1v1h-1zM5 83h1v1h-1zM4 85h1v1h-1zM7 87h1v1h-1z"/><path fill="#2b758e" d="M1 0h1v1h-1zM14 0h1v1h-1zM16 0h1v1h-1zM4 2h1v1h-1zM8 2h1v1h-1zM10 2h1v1h-1zM17 2h1v1h-1zM6 3h1v1h-1zM15 3h1v1h-1zM13 4h1v1h-1zM14 5h1v1h-1zM18 5h1v1h-1zM13 6h1v1h-1zM4 8h1v1h-1zM15 8h1v1h-1zM1 9h1v1h-1zM7 10h1v1h-1zM14 10h1v1h-1zM3 11h1v1h-1zM10 11h1v1h-1zM13 12h1v1h-1zM4 13h1v1h-1zM6 13h1v1h-1zM8 13h1v1h-1zM12 13h1v1h-1zM18 13h1v1h-1zM7 15h1v1h-1zM9 16h3v1h-3zM4 17h1v1h-1zM0 18h1v1h-1zM4 18h1v1h-1zM8 18h2v1h-2zM14 18h1v1h-1zM16 18h1v1h-1zM11 19h1v1h-1zM6 20h1v1h-1zM0 21h1v1h-1zM4 21h1v1h-1zM11 21h1v1h-1zM7 23h1v1h-1zM11 23h1v1h-1zM16 23h1v1h-1zM0 24h2v1h-2zM16 24h1v1h-1zM4 25h1v1h-1zM9 25h1v1h-1zM5 26h1v1h-1zM1 27h1v1h-1zM16 28h1v1h-1zM4 29h1v1h-1zM6 29h1v1h-1zM7 30h1v1h-1zM10 31h1v1h-1zM9 32h1v1h-1zM11 34h1v1h-1zM14 35h1v1h-1zM4 36h1v1h-1zM5 38h1v1h-1zM17 39h1v1h-1zM10 40h1v1h-1zM4 41h1v1h-1zM7 42h1v1h-1zM7 43h1v1h-1zM10 44h1v1h-1zM16 44h1v1h-1zM11 46h1v1h-1zM15 46h1v1h-1zM7 49h1v1h-1zM4 50h1v1h-1zM8 50h1v1h-1zM17 50h1v1h-1zM9 51h1v1h-1zM11 51h1v1h-1zM17 51h1v1h-1zM10 53h1v1h-1zM17 53h1v1h-1zM2 54h1v1h-1zM11 54h1v1h-1zM17 54h1v1h-1zM10 55h1v1h-1zM4 56h1v1h-1zM5 58h1v1h-1zM11 58h1v1h-1zM2 59h1v1h-1zM9 59h1v1h-1zM3 60h1v1h-1zM6 60h1v1h-1zM1 62h1v1h-1zM7 62h2v1h-2zM18 62h1v1h-1zM5 65h1v1h-1zM4 68h2v1h-2zM9 68h1v1h-1zM11 68h1v1h-1zM17 68h1v1h-1zM9 69h1v1h-1zM17 69h1v1h-1zM8 72h1v1h-1zM4 73h1v1h-1zM16 74h1v1h-1zM18 74h1v1h-1zM7 78h1v1h-1zM10 78h2v1h-2zM16 78h1v1h-1zM3 83h1v1h-1zM16 83h1v1h-1zM17 85h1v1h-1zM2 88h1v1h-1zM11 88h1v1h-1z"/><path fill="#287d8e" d="M0 0h1v1h-1zM5 1h1v1h-1zM14 1h1v1h-1zM17 1h1v1h-1zM3 4h1v1h-1zM3 5h1v1h-1zM0 7h3v1h-3zM13 7h1v1h-1zM3 9h1v1h-1zM7 9h1v1h-1zM18 9h1v1h-1zM14 11h1v1h-1zM1 12h1v1h-1zM11 12h1v1h-1zM3 13h1v1h-1zM10 15h1v1h-1zM16 15h1v1h-1zM13 16h1v1h-1zM15 17h1v1h-1zM3 18h1v1h-1zM9 21h1v1h-1zM5 22h1v1h-1zM10 22h1v1h-1zM0 23h1v1h-1zM3 25h1v1h-1zM11 25h1v1h-1zM18 25h1v1h-1zM6 26h1v1h-1zM15 26h1v1h-1zM15 27h1v1h-1zM12 28h1v1h-1zM3 29h1v1h-1zM10 29h1v1h-1zM3 30h1v1h-1zM11 30h1v1h-1zM1 32h1v1h-1zM17 35h1v1h-1zM2 36h1v1h-1zM17 37h1v1h-1zM2 38h1v1h-1zM10 38h1v1h-1zM4 40h2v1h-2zM5 43h1v1h-1zM12 43h1v1h-1zM8 47h1v1h-1zM18 47h1v1h-1zM11 48h1v1h-1zM17 48h1v1h-1zM3 49h2v1h-2zM9 49h1v1h-1zM15 49h1v1h-1zM9 50h1v1h-1zM1 52h1v1h-1zM5 52h1v1h-1zM11 52h1v1h-1zM4 53h1v1h-1zM6 53h2v1h-2zM13 53h1v1h-1zM5 55h1v1h-1zM17 55h1v1h-1zM3 57h1v1h-1zM7 57h1v1h-1zM7 58h1v1h-1zM10 59h1v1h-1zM3 61h1v1h-1zM5 62h2v1h-2zM17 62h1v1h-1zM2 63h1v1h-1zM10 63h1v1h-1zM2 64h1v1h-1zM8 64h1v1h-1zM10 64h1v1h-1zM16 64h1v1h-1zM18 64h1v1h-1zM4 65h1v1h-1zM6 65h1v1h-1zM4 66h1v1h-1zM18 67h1v1h-1zM18 68h1v1h-1zM8 70h1v1h-1zM17 70h1v1h-1zM11 71h1v1h-1zM3 72h1v1h-1zM11 72h1v1h-1zM11 73h1v1h-1zM8 74h1v1h-1zM2 75h1v1h-1zM4 75h1v1h-1zM6 75h1v1h-1zM14 75h1v1h-1zM2 76h1v1h-1zM8 76h1v1h-1zM17 77h1v1h-1zM9 78h1v1h-1zM4 79h1v1h-1zM9 79h2v1h-2zM16 79h1v1h-1zM3 81h1v1h-1zM9 81h1v1h-1zM11 82h1v1h-1zM6 83h1v1h-1zM0 84h1v1h-1zM2 84h1v1h-1zM9 84h1v1h-1zM6 85h1v1h-1zM10 86h1v1h-1zM6 87h1v1h-1zM0 88h2v1h-2zM7 88h1v1h-1zM9 89h1v1h-1z"/><path fill="#25848e" d="M9 0h2v1h-2zM1 1h1v1h-1zM15 1h1v1h-1zM9 3h1v1h-1zM16 4h1v1h-1zM13 5h1v1h-1zM0 6h1v1h-1zM5 8h1v1h-1zM4 10h2v1h-2zM10 10h1v1h-1zM11 11h1v1h-1zM18 12h1v1h-1zM14 13h1v1h-1zM3 14h1v1h-1zM5 14h1v1h-1zM1 16h1v1h-1zM3 16h1v1h-1zM3 17h1v1h-1zM8 17h1v1h-1zM18 17h1v1h-1zM2 18h1v1h-1zM7 20h1v1h-1zM13 20h1v1h-1zM3 21h1v1h-1zM12 21h1v1h-1zM0 22h1v1h-1zM4 22h1v1h-1zM6 22h1v1h-1zM5 23h1v1h-1zM14 25h1v1h-1zM14 26h1v1h-1zM8 27h1v1h-1zM11 28h1v1h-1zM18 29h1v1h-1zM1 30h1v1h-1zM10 30h1v1h-1zM2 32h1v1h-1zM5 32h1v1h-1zM5 35h1v1h-1zM11 35h1v1h-1zM16 36h1v1h-1zM5 37h1v1h-1zM9 37h1v1h-1zM18 37h1v1h-1zM8 39h2v1h-2zM6 40h1v1h-1zM8 40h1v1h-1zM11 40h1v1h-1zM16 40h1v1h-1zM14 41h1v1h-1zM9 42h1v1h-1zM2 43h1v1h-1zM18 43h1v1h-1zM11 44h1v1h-1zM2 45h1v1h-1zM15 45h1v1h-1zM6 46h1v1h-1zM10 48h1v1h-1zM11 49h1v1h-1zM5 50h1v1h-1zM0 53h1v1h-1zM3 54h1v1h-1zM7 54h2v1h-2zM11 55h1v1h-1zM10 57h1v1h-1zM17 57h1v1h-1zM8 58h1v1h-1zM8 60h1v1h-1zM5 61h1v1h-1zM8 61h1v1h-1zM16 62h1v1h-1zM0 64h1v1h-1zM3 64h1v1h-1zM11 64h1v1h-1zM16 65h1v1h-1zM5 66h1v1h-1zM5 67h1v1h-1zM10 68h1v1h-1zM10 69h1v1h-1zM1 71h1v1h-1zM8 71h1v1h-1zM10 72h1v1h-1zM0 74h1v1h-1zM11 74h1v1h-1zM7 75h1v1h-1zM1 77h1v1h-1zM7 77h1v1h-1zM0 78h2v1h-2zM2 79h1v1h-1zM8 80h1v1h-1zM16 80h1v1h-1zM2 82h2v1h-2zM5 84h2v1h-2zM16 84h1v1h-1zM3 85h1v1h-1zM11 86h1v1h-1zM4 87h1v1h-1zM11 87h1v1h-1zM0 89h1v1h-1zM2 89h1v1h-1zM8 89h1v1h-1z"/><path fill="#228c8d" d="M8 0h1v1h-1zM11 0h1v1h-1zM11 1h1v1h-1zM18 1h1v1h-1zM0 2h1v1h-1zM3 3h1v1h-1zM11 3h2v1h-2zM16 3h1v1h-1zM6 4h2v1h-2zM17 4h1v1h-1zM7 6h1v1h-1zM12 8h1v1h-1zM0 9h1v1h-1zM10 12h1v1h-1zM12 12h1v1h-1zM15 12h1v1h-1zM1 13h1v1h-1zM5 13h1v1h-1zM7 14h1v1h-1zM16 14h1v1h-1zM5 16h1v1h-1zM7 16h1v1h-1zM15 16h1v1h-1zM7 17h1v1h-1zM12 17h1v1h-1zM12 18h1v1h-1zM0 20h1v1h-1zM10 21h1v1h-1zM16 21h1v1h-1zM10 25h1v1h-1zM17 25h1v1h-1zM18 26h1v1h-1zM0 28h2v1h-2zM10 28h1v1h-1zM5 30h1v1h-1zM15 30h1v1h-1zM2 34h1v1h-1zM5 34h1v1h-1zM10 34h1v1h-1zM2 37h2v1h-2zM7 37h2v1h-2zM3 38h1v1h-1zM16 38h1v1h-1zM8 41h1v1h-1zM2 42h1v1h-1zM6 43h1v1h-1zM9 43h2v1h-2zM9 45h1v1h-1zM5 46h1v1h-1zM2 47h1v1h-1zM7 47h1v1h-1zM11 47h1v1h-1zM2 48h1v1h-1zM0 50h1v1h-1zM5 51h1v1h-1zM10 51h1v1h-1zM4 52h1v1h-1zM10 52h1v1h-1zM0 54h1v1h-1zM4 55h1v1h-1zM11 56h1v1h-1zM4 57h1v1h-1zM9 57h1v1h-1zM4 60h1v1h-1zM16 60h1v1h-1zM4 61h1v1h-1zM9 61h1v1h-1zM8 63h1v1h-1zM1 64h1v1h-1zM2 65h1v1h-1zM9 67h1v1h-1zM0 68h1v1h-1zM1 69h1v1h-1zM11 70h1v1h-1zM9 71h1v1h-1zM6 72h1v1h-1zM3 73h1v1h-1zM7 74h1v1h-1zM3 75h1v1h-1zM6 76h2v1h-2zM9 76h1v1h-1zM2 81h1v1h-1zM5 81h1v1h-1zM11 81h1v1h-1zM4 83h1v1h-1zM8 84h1v1h-1zM18 84h1v1h-1zM10 85h1v1h-1zM5 86h1v1h-1zM3 88h1v1h-1zM8 88h1v1h-1z"/><path fill="#1f948c" d="M12 0h1v1h-1zM4 1h1v1h-1zM7 1h1v1h-1zM7 2h1v1h-1zM18 2h1v1h-1zM14 4h1v1h-1zM3 8h1v1h-1zM11 8h1v1h-1zM0 12h1v1h-1zM5 18h1v1h-1zM8 20h1v1h-1zM10 20h1v1h-1zM12 20h1v1h-1zM7 21h1v1h-1zM14 21h1v1h-1zM1 22h1v1h-1zM18 22h1v1h-1zM12 23h1v1h-1zM10 26h1v1h-1zM9 28h1v1h-1zM2 29h1v1h-1zM15 29h1v1h-1zM6 30h1v1h-1zM4 31h1v1h-1zM3 32h1v1h-1zM8 32h1v1h-1zM14 32h1v1h-1zM7 34h2v1h-2zM6 35h1v1h-1zM16 37h1v1h-1zM1 39h2v1h-2zM4 39h1v1h-1zM3 41h1v1h-1zM8 42h1v1h-1zM0 43h2v1h-2zM2 44h1v1h-1zM1 46h1v1h-1zM3 46h1v1h-1zM7 46h1v1h-1zM9 46h1v1h-1zM1 48h1v1h-1zM17 49h1v1h-1zM6 51h1v1h-1zM0 52h1v1h-1zM9 53h1v1h-1zM3 55h1v1h-1zM18 56h1v1h-1zM0 57h1v1h-1zM5 60h1v1h-1zM0 61h1v1h-1zM7 61h1v1h-1zM9 64h1v1h-1zM8 65h1v1h-1zM2 66h1v1h-1zM1 68h1v1h-1zM8 69h1v1h-1zM18 69h1v1h-1zM7 71h1v1h-1zM10 71h1v1h-1zM1 74h1v1h-1zM3 74h1v1h-1zM0 76h1v1h-1zM4 78h1v1h-1zM8 78h1v1h-1zM1 80h1v1h-1zM5 80h1v1h-1zM6 81h2v1h-2zM6 82h2v1h-2zM1 87h1v1h-1zM5 87h1v1h-1zM17 88h1v1h-1z"/><path fill="#1e9c89" d="M18 0h1v1h-1zM11 2h1v1h-1zM7 3h1v1h-1zM11 4h1v1h-1zM7 5h1v1h-1zM11 7h2v1h-2zM11 9h1v1h-1zM15 13h1v1h-1zM10 18h1v1h-1zM1 20h1v1h-1zM1 21h1v1h-1zM18 24h1v1h-1zM1 25h1v1h-1zM3 26h1v1h-1zM16 26h1v1h-1zM3 28h1v1h-1zM2 30h1v1h-1zM16 30h1v1h-1zM18 31h1v1h-1zM0 34h1v1h-1zM1 35h1v1h-1zM3 36h1v1h-1zM18 40h1v1h-1zM0 46h1v1h-1zM4 46h1v1h-1zM10 47h1v1h-1zM1 50h1v1h-1zM7 52h1v1h-1zM1 56h1v1h-1zM0 59h1v1h-1zM3 59h1v1h-1zM9 60h1v1h-1zM1 61h1v1h-1zM1 66h1v1h-1zM0 70h1v1h-1zM3 71h1v1h-1zM1 76h1v1h-1zM15 77h1v1h-1zM3 78h1v1h-1zM1 83h1v1h-1zM2 85h1v1h-1zM5 85h1v1h-1zM1 86h2v1h-2z"/><path fill="#20a386" d="M12 1h1v1h-1zM12 2h1v1h-1zM4 3h1v1h-1zM10 3h1v1h-1zM18 3h1v1h-1zM4 4h1v1h-1zM9 5h1v1h-1zM14 6h1v1h-1zM2 11h1v1h-1zM6 11h1v1h-1zM1 14h1v1h-1zM15 14h1v1h-1zM14 16h1v1h-1zM16 20h1v1h-1zM6 24h1v1h-1zM5 25h1v1h-1zM12 26h1v1h-1zM15 28h1v1h-1zM11 29h2v1h-2zM8 30h1v1h-1zM7 32h1v1h-1zM0 38h1v1h-1zM1 40h1v1h-1zM1 41h1v1h-1zM1 49h1v1h-1zM7 50h1v1h-1zM1 54h1v1h-1zM1 57h1v1h-1zM1 59h1v1h-1zM0 60h2v1h-2zM1 65h1v1h-1zM0 69h1v1h-1zM0 73h1v1h-1zM5 78h1v1h-1zM0 80h1v1h-1zM10 84h1v1h-1zM1 85h1v1h-1z"/><path fill="#25ab82" d="M18 6h1v1h-1zM10 7h1v1h-1zM12 10h1v1h-1zM15 11h1v1h-1zM9 14h1v1h-1zM11 14h2v1h-2zM11 17h1v1h-1zM14 17h1v1h-1zM11 22h1v1h-1zM1 23h1v1h-1zM10 24h1v1h-1zM0 25h1v1h-1zM14 30h1v1h-1zM11 32h1v1h-1zM18 32h1v1h-1zM0 42h1v1h-1zM11 43h1v1h-1zM0 45h1v1h-1zM9 47h1v1h-1zM0 55h2v1h-2zM0 58h1v1h-1zM5 59h1v1h-1zM11 59h1v1h-1zM9 62h1v1h-1zM1 67h1v1h-1zM1 79h1v1h-1zM0 86h1v1h-1zM18 88h1v1h-1zM1 89h1v1h-1z"/><path fill="#2eb37c" d="M15 2h1v1h-1zM18 7h1v1h-1zM10 9h1v1h-1zM12 9h1v1h-1zM12 11h1v1h-1zM8 15h1v1h-1zM12 15h1v1h-1zM18 15h1v1h-1zM18 20h1v1h-1zM5 21h1v1h-1zM18 23h1v1h-1zM12 25h1v1h-1zM4 30h1v1h-1zM12 32h1v1h-1zM1 34h1v1h-1zM0 35h1v1h-1zM0 36h1v1h-1zM1 37h1v1h-1zM11 37h1v1h-1zM1 38h1v1h-1zM11 41h1v1h-1zM0 47h1v1h-1zM1 51h1v1h-1zM1 53h1v1h-1zM0 65h1v1h-1zM1 70h1v1h-1zM0 75h1v1h-1zM0 77h1v1h-1zM0 79h1v1h-1zM1 81h1v1h-1z"/><path fill="#3aba76" d="M7 13h1v1h-1zM18 16h1v1h-1zM4 20h1v1h-1zM7 27h1v1h-1zM7 28h1v1h-1zM0 37h1v1h-1zM1 42h1v1h-1zM1 44h1v1h-1zM1 47h1v1h-1zM0 51h1v1h-1zM1 58h1v1h-1zM0 62h1v1h-1zM1 63h1v1h-1zM4 63h1v1h-1zM0 71h1v1h-1zM1 73h1v1h-1zM1 82h1v1h-1zM0 83h1v1h-1zM0 85h1v1h-1z"/><path fill="#48c16e" d="M12 5h1v1h-1zM18 18h1v1h-1zM14 28h1v1h-1zM0 40h1v1h-1zM0 44h1v1h-1zM1 45h1v1h-1zM0 49h1v1h-1zM0 72h2v1h-2z"/><path fill="#58c765" d="M6 23h1v1h-1zM5 28h1v1h-1zM1 36h1v1h-1zM0 56h1v1h-1zM1 75h1v1h-1zM1 84h1v1h-1z"/><path fill="#6ccd5a" d="M10 6h1v1h-1zM18 8h1v1h-1zM10 17h1v1h-1zM18 21h1v1h-1zM0 48h1v1h-1zM0 63h1v1h-1z"/><path fill="#7fd34e" d="M8 22h1v1h-1z"/><path fill="#93d741" d="M0 66h1v1h-1zM0 82h1v1h-1z"/><path fill="#d5e21a" d="M1 19h1v1h-1zM6 33h1v1h-1zM0 67h1v1h-1z"/><path fill="#fde725" d="M9 33h1v1h-1z"/></g>
<g transform="translate(660.20 1555.00) scale(5.6789 7.9900)" shape-rendering="crispEdges"><path fill="#470d60" d="M6 19h1v1h-1z"/><path fill="#424186" d="M9 4h1v1h-1z"/><path fill="#3e4a89" d="M9 20h1v1h-1z"/><path fill="#3a548c" d="M6 3h1v1h-1zM13 4h1v1h-1zM0 7h1v1h-1zM13 11h1v1h-1z"/><path fill="#365d8d" d="M13 2h1v1h-1zM2 3h1v1h-1zM3 4h1v1h-1zM13 8h1v1h-1zM9 12h1v1h-1zM13 12h1v1h-1zM16 13h1v1h-1z"/><path fill="#32658e" d="M3 14h1v1h-1zM5 14h1v1h-1zM9 14h1v1h-1zM18 14h1v1h-1zM0 15h1v1h-1zM2 15h1v1h-1zM5 15h4v1h-4zM11 15h1v1h-1zM14 15h1v1h-1zM1 16h1v1h-1zM6 16h2v1h-2zM9 16h3v1h-3zM5 17h2v1h-2zM10 17h1v1h-1zM12 17h2v1h-2zM15 17h2v1h-2zM0 18h2v1h-2zM5 18h1v1h-1zM8 18h2v1h-2zM12 18h3v1h-3zM16 18h1v1h-1zM0 19h2v1h-2zM4 19h1v1h-1zM7 19h1v1h-1zM9 19h3v1h-3zM13 19h2v1h-2zM16 19h1v1h-1zM18 19h1v1h-1zM6 20h1v1h-1zM11 20h3v1h-3zM16 20h2v1h-2zM4 21h2v1h-2zM9 21h1v1h-1zM15 21h1v1h-1zM17 21h1v1h-1zM0 22h1v1h-1zM7 22h3v1h-3zM13 22h1v1h-1zM16 22h1v1h-1zM0 23h1v1h-1zM2 23h1v1h-1zM5 23h1v1h-1zM7 23h1v1h-1zM9 23h2v1h-2zM13 23h2v1h-2zM16 23h2v1h-2z"/><path fill="#2e6d8e" d="M16 3h1v1h-1zM17 4h1v1h-1zM2 7h1v1h-1zM12 7h1v1h-1zM12 9h1v1h-1zM9 11h1v1h-1zM9 15h1v1h-1zM17 15h1v1h-1zM10 18h1v1h-1zM17 22h1v1h-1z"/><path fill="#2b758e" d="M5 0h1v1h-1zM9 1h1v1h-1zM13 1h1v1h-1zM2 5h1v1h-1zM13 6h1v1h-1zM13 7h1v1h-1zM9 10h1v1h-1zM13 10h1v1h-1zM11 11h1v1h-1zM15 12h1v1h-1zM6 14h1v1h-1zM7 18h1v1h-1zM4 24h1v1h-1zM10 24h1v1h-1zM6 25h1v1h-1zM14 25h1v1h-1zM6 26h1v1h-1zM8 26h1v1h-1zM16 26h1v1h-1z"/><path fill="#287d8e" d="M17 3h1v1h-1zM6 5h1v1h-1zM8 5h1v1h-1zM1 8h1v1h-1zM13 13h1v1h-1zM10 14h1v1h-1zM4 15h1v1h-1zM13 16h1v1h-1zM3 17h1v1h-1zM14 17h1v1h-1zM18 18h1v1h-1zM6 23h1v1h-1zM0 24h4v1h-4zM5 24h4v1h-4zM11 24h5v1h-5zM18 24h1v1h-1zM1 25h2v1h-2zM4 25h2v1h-2zM7 25h4v1h-4zM12 25h2v1h-2zM15 25h3v1h-3zM0 26h4v1h-4zM7 26h1v1h-1zM9 26h2v1h-2zM12 26h1v1h-1zM14 26h2v1h-2zM18 26h1v1h-1z"/><path fill="#25848e" d="M17 0h1v1h-1zM6 4h1v1h-1zM1 7h1v1h-1zM6 7h1v1h-1zM17 7h1v1h-1zM9 8h1v1h-1zM11 10h1v1h-1zM0 11h1v1h-1zM6 12h1v1h-1zM13 15h1v1h-1zM17 16h1v1h-1z"/><path fill="#228c8d" d="M10 0h1v1h-1zM17 2h1v1h-1zM13 9h1v1h-1zM2 11h1v1h-1zM16 11h1v1h-1zM11 12h1v1h-1zM2 13h1v1h-1zM6 13h1v1h-1zM9 13h1v1h-1zM2 14h1v1h-1zM4 14h1v1h-1zM7 17h1v1h-1zM14 21h1v1h-1z"/><path fill="#1f948c" d="M16 0h1v1h-1zM8 2h1v1h-1zM4 5h1v1h-1zM0 6h2v1h-2zM14 8h1v1h-1zM6 10h1v1h-1zM15 10h1v1h-1zM17 10h1v1h-1zM2 12h1v1h-1zM3 13h1v1h-1zM1 15h1v1h-1zM3 15h1v1h-1zM15 15h1v1h-1zM8 17h2v1h-2zM1 20h1v1h-1zM6 22h1v1h-1z"/><path fill="#1e9c89" d="M2 0h1v1h-1zM4 0h1v1h-1zM9 0h1v1h-1zM6 1h1v1h-1zM5 2h2v1h-2zM0 4h1v1h-1zM15 5h1v1h-1zM18 7h1v1h-1zM2 8h1v1h-1zM6 8h1v1h-1zM5 9h1v1h-1zM14 9h1v1h-1zM1 10h1v1h-1zM16 10h1v1h-1zM1 11h1v1h-1zM15 16h1v1h-1zM4 17h1v1h-1zM17 17h1v1h-1zM17 18h1v1h-1zM3 21h1v1h-1zM6 21h1v1h-1zM3 22h1v1h-1z"/><path fill="#20a386" d="M13 0h1v1h-1zM2 1h1v1h-1zM3 2h1v1h-1zM7 3h1v1h-1zM13 3h1v1h-1zM4 6h1v1h-1zM16 6h1v1h-1zM8 8h1v1h-1zM17 8h1v1h-1zM2 9h1v1h-1zM7 9h1v1h-1zM17 9h1v1h-1zM8 12h1v1h-1zM7 13h1v1h-1zM0 14h1v1h-1zM13 14h1v1h-1zM10 15h1v1h-1zM2 18h1v1h-1zM5 19h1v1h-1zM2 20h1v1h-1zM14 20h1v1h-1z"/><path fill="#25ab82" d="M14 0h1v1h-1zM4 1h1v1h-1zM2 2h1v1h-1zM1 5h1v1h-1zM16 5h1v1h-1zM9 7h1v1h-1zM3 8h1v1h-1zM6 9h1v1h-1zM3 10h1v1h-1zM7 10h2v1h-2zM5 11h1v1h-1zM0 13h1v1h-1zM1 14h1v1h-1zM5 16h1v1h-1zM18 16h1v1h-1zM4 18h1v1h-1zM8 19h1v1h-1zM5 20h1v1h-1zM18 20h1v1h-1zM11 22h1v1h-1z"/><path fill="#2eb37c" d="M6 0h1v1h-1zM11 0h1v1h-1zM5 1h1v1h-1zM17 1h1v1h-1zM1 2h1v1h-1zM10 2h1v1h-1zM16 2h1v1h-1zM12 3h1v1h-1zM10 4h1v1h-1zM9 5h1v1h-1zM18 5h1v1h-1zM8 6h1v1h-1zM14 7h1v1h-1zM4 8h1v1h-1zM12 8h1v1h-1zM1 9h1v1h-1zM18 9h1v1h-1zM5 10h1v1h-1zM14 10h1v1h-1zM6 11h1v1h-1zM8 11h1v1h-1zM17 11h1v1h-1zM4 12h1v1h-1zM1 13h1v1h-1zM2 19h1v1h-1zM15 19h1v1h-1zM17 19h1v1h-1zM2 21h1v1h-1zM12 21h1v1h-1zM16 21h1v1h-1zM1 22h1v1h-1zM3 25h1v1h-1zM11 26h1v1h-1z"/><path fill="#3aba76" d="M1 0h1v1h-1zM15 1h1v1h-1zM18 1h1v1h-1zM1 3h1v1h-1zM15 3h1v1h-1zM14 4h1v1h-1zM16 4h1v1h-1zM2 6h1v1h-1zM9 6h1v1h-1zM0 8h1v1h-1zM5 8h1v1h-1zM10 11h1v1h-1zM0 12h1v1h-1zM10 12h1v1h-1zM16 12h1v1h-1zM18 12h1v1h-1zM4 13h1v1h-1zM17 14h1v1h-1zM18 15h1v1h-1zM1 17h1v1h-1zM3 19h1v1h-1zM7 20h1v1h-1zM15 20h1v1h-1zM0 21h2v1h-2zM4 23h1v1h-1zM18 23h1v1h-1z"/><path fill="#48c16e" d="M3 0h1v1h-1zM7 0h1v1h-1zM12 0h1v1h-1zM14 1h1v1h-1zM9 2h1v1h-1zM12 2h1v1h-1zM15 2h1v1h-1zM9 3h2v1h-2zM3 5h1v1h-1zM5 5h1v1h-1zM14 5h1v1h-1zM14 6h1v1h-1zM3 7h2v1h-2zM4 9h1v1h-1zM9 9h1v1h-1zM2 10h1v1h-1zM10 10h1v1h-1zM3 11h1v1h-1zM14 12h1v1h-1zM8 13h1v1h-1zM11 13h2v1h-2zM14 13h1v1h-1zM11 14h2v1h-2zM4 16h1v1h-1zM8 16h1v1h-1zM16 16h1v1h-1zM11 17h1v1h-1zM11 18h1v1h-1zM18 21h1v1h-1zM8 23h1v1h-1zM17 24h1v1h-1zM5 26h1v1h-1zM17 26h1v1h-1z"/><path fill="#58c765" d="M15 0h1v1h-1zM18 0h1v1h-1zM8 1h1v1h-1zM10 1h1v1h-1zM3 3h1v1h-1zM11 3h1v1h-1zM12 4h1v1h-1zM15 4h1v1h-1zM17 5h1v1h-1zM5 7h1v1h-1zM11 7h1v1h-1zM15 7h2v1h-2zM16 8h1v1h-1zM8 9h1v1h-1zM0 10h1v1h-1zM14 11h1v1h-1zM3 12h1v1h-1zM8 14h1v1h-1zM16 14h1v1h-1zM0 16h1v1h-1zM3 16h1v1h-1zM6 18h1v1h-1zM15 18h1v1h-1zM0 20h1v1h-1zM8 20h1v1h-1zM13 21h1v1h-1zM1 23h1v1h-1zM11 23h1v1h-1zM0 25h1v1h-1z"/><path fill="#6ccd5a" d="M0 0h1v1h-1zM16 1h1v1h-1zM11 2h1v1h-1zM8 3h1v1h-1zM11 4h1v1h-1zM7 5h1v1h-1zM10 5h3v1h-3zM15 9h1v1h-1zM12 10h1v1h-1zM18 10h1v1h-1zM5 12h1v1h-1zM17 12h1v1h-1zM10 13h1v1h-1zM12 15h1v1h-1zM12 16h1v1h-1zM0 17h1v1h-1zM3 18h1v1h-1zM4 20h1v1h-1zM8 21h1v1h-1zM4 22h2v1h-2zM10 22h1v1h-1zM12 22h1v1h-1zM3 23h1v1h-1zM16 24h1v1h-1zM4 26h1v1h-1z"/><path fill="#7fd34e" d="M3 1h1v1h-1zM4 2h1v1h-1zM7 2h1v1h-1zM14 2h1v1h-1zM18 2h1v1h-1zM18 3h1v1h-1zM2 4h1v1h-1zM5 6h1v1h-1zM15 6h1v1h-1zM0 9h1v1h-1zM3 9h1v1h-1zM11 9h1v1h-1zM16 9h1v1h-1zM7 11h1v1h-1zM1 12h1v1h-1zM18 13h1v1h-1zM3 20h1v1h-1zM2 22h1v1h-1zM18 22h1v1h-1z"/><path fill="#93d741" d="M1 1h1v1h-1zM7 4h2v1h-2zM13 5h1v1h-1zM6 6h1v1h-1zM11 8h1v1h-1zM10 9h1v1h-1zM12 11h1v1h-1zM15 11h1v1h-1zM17 13h1v1h-1zM15 14h1v1h-1zM2 17h1v1h-1zM10 21h1v1h-1zM14 22h1v1h-1z"/><path fill="#a8db34" d="M7 1h1v1h-1zM12 1h1v1h-1zM0 3h1v1h-1zM4 3h2v1h-2zM17 6h1v1h-1zM10 7h1v1h-1zM7 8h1v1h-1zM10 8h1v1h-1zM18 8h1v1h-1zM4 10h1v1h-1zM7 12h1v1h-1zM2 16h1v1h-1zM12 19h1v1h-1zM7 21h1v1h-1zM11 25h1v1h-1z"/><path fill="#c0df25" d="M0 1h1v1h-1zM1 4h1v1h-1zM10 6h2v1h-2zM7 7h1v1h-1zM15 13h1v1h-1zM14 14h1v1h-1zM18 17h1v1h-1zM15 22h1v1h-1zM13 26h1v1h-1z"/><path fill="#d5e21a" d="M11 1h1v1h-1zM0 2h1v1h-1zM5 4h1v1h-1zM0 5h1v1h-1zM7 6h1v1h-1zM18 11h1v1h-1zM12 12h1v1h-1zM7 14h1v1h-1zM16 15h1v1h-1z"/><path fill="#eae51a" d="M10 20h1v1h-1zM15 23h1v1h-1z"/><path fill="#fde725" d="M8 0h1v1h-1zM14 3h1v1h-1zM4 4h1v1h-1zM18 4h1v1h-1zM3 6h1v1h-1zM12 6h1v1h-1zM18 6h1v1h-1zM8 7h1v1h-1zM15 8h1v1h-1zM4 11h1v1h-1zM5 13h1v1h-1zM14 16h1v1h-1zM11 21h1v1h-1zM12 23h1v1h-1zM9 24h1v1h-1zM18 25h1v1h-1z"/></g>
<g transform="translate(775.20 830.50) scale(5.6250 7.9770)" shape-rendering="crispEdges"><path fill="#470d60" d="M9 9h1v1h-1zM6 11h1v1h-1z"/><path fill="#482374" d="M11 12h1v1h-1z"/><path fill="#472e7c" d="M11 8h1v1h-1zM4 14h1v1h-1zM1 21h1v1h-1zM3 23h2v1h-2zM1 24h1v1h-1zM10 24h2v1h-2z"/><path fill="#453882" d="M7 29h1v1h-1zM9 44h1v1h-1zM9 49h1v1h-1zM10 50h1v1h-1zM10 57h1v1h-1zM11 71h1v1h-1zM11 81h1v1h-1z"/><path fill="#424186" d="M2 12h1v1h-1zM10 46h1v1h-1zM11 48h1v1h-1zM8 58h1v1h-1z"/><path fill="#3e4a89" d="M9 10h1v1h-1zM3 14h1v1h-1zM5 14h1v1h-1zM7 15h1v1h-1zM1 17h1v1h-1zM11 21h1v1h-1zM4 22h1v1h-1zM7 23h1v1h-1zM9 23h1v1h-1zM4 32h1v1h-1zM9 32h1v1h-1zM9 51h1v1h-1zM10 59h1v1h-1zM11 66h1v1h-1z"/><path fill="#3a548c" d="M0 11h1v1h-1zM3 12h1v1h-1zM2 14h1v1h-1zM6 14h1v1h-1zM8 14h1v1h-1zM11 14h1v1h-1zM11 20h1v1h-1zM3 21h1v1h-1zM3 22h1v1h-1zM5 22h1v1h-1zM8 22h2v1h-2zM8 23h1v1h-1zM11 23h1v1h-1zM2 25h1v1h-1zM6 25h1v1h-1zM9 25h3v1h-3zM5 28h1v1h-1zM6 32h1v1h-1zM11 34h1v1h-1zM10 42h1v1h-1zM11 46h1v1h-1zM10 51h1v1h-1zM9 52h1v1h-1zM11 59h1v1h-1zM9 62h1v1h-1zM9 64h1v1h-1zM10 66h1v1h-1zM9 68h1v1h-1zM11 88h1v1h-1z"/><path fill="#365d8d" d="M1 18h1v1h-1zM11 35h1v1h-1zM8 36h2v1h-2zM8 37h1v1h-1zM11 37h1v1h-1zM9 38h1v1h-1zM11 38h1v1h-1zM8 40h1v1h-1zM9 43h3v1h-3zM10 44h1v1h-1zM9 45h1v1h-1zM11 45h1v1h-1zM9 46h1v1h-1zM9 47h1v1h-1zM8 48h1v1h-1zM8 49h1v1h-1zM8 50h1v1h-1zM11 51h1v1h-1zM10 52h1v1h-1zM11 53h1v1h-1zM8 54h1v1h-1zM11 54h1v1h-1zM8 55h1v1h-1zM9 57h1v1h-1zM9 59h1v1h-1zM11 61h1v1h-1zM10 62h1v1h-1zM9 63h1v1h-1zM8 64h1v1h-1zM10 64h2v1h-2zM10 65h1v1h-1zM8 66h1v1h-1zM10 68h1v1h-1zM8 69h1v1h-1zM10 72h1v1h-1zM10 73h1v1h-1zM10 74h1v1h-1zM8 75h1v1h-1zM11 77h1v1h-1zM10 78h1v1h-1zM8 79h4v1h-4zM9 80h1v1h-1zM10 81h1v1h-1zM8 83h4v1h-4zM8 84h1v1h-1zM9 85h1v1h-1zM11 85h1v1h-1zM8 86h2v1h-2zM10 87h2v1h-2zM8 88h3v1h-3zM8 89h1v1h-1zM10 89h2v1h-2z"/><path fill="#32658e" d="M0 4h1v1h-1zM8 21h1v1h-1zM8 34h1v1h-1zM11 41h1v1h-1zM8 51h1v1h-1zM11 55h1v1h-1zM9 58h1v1h-1zM9 66h1v1h-1zM10 67h2v1h-2zM11 73h1v1h-1zM10 80h2v1h-2zM11 82h1v1h-1z"/><path fill="#2e6d8e" d="M8 3h1v1h-1zM2 4h1v1h-1zM11 6h1v1h-1zM10 7h1v1h-1zM10 8h1v1h-1zM1 10h1v1h-1zM5 12h1v1h-1zM7 14h1v1h-1zM4 16h2v1h-2zM3 17h1v1h-1zM8 17h1v1h-1zM11 17h1v1h-1zM0 18h1v1h-1zM3 18h1v1h-1zM0 19h1v1h-1zM4 19h1v1h-1zM6 19h6v1h-6zM5 23h1v1h-1zM9 24h1v1h-1zM5 25h1v1h-1zM3 26h2v1h-2zM2 27h4v1h-4zM7 27h5v1h-5zM3 28h1v1h-1zM8 28h1v1h-1zM10 28h1v1h-1zM11 29h1v1h-1zM2 30h1v1h-1zM5 30h1v1h-1zM11 30h1v1h-1zM0 31h1v1h-1zM2 32h1v1h-1zM0 33h9v1h-9zM11 33h1v1h-1zM10 34h1v1h-1zM9 35h1v1h-1zM10 39h1v1h-1zM9 40h1v1h-1zM10 47h2v1h-2zM9 48h1v1h-1zM9 53h1v1h-1zM10 54h1v1h-1zM9 56h1v1h-1zM8 57h1v1h-1zM8 60h2v1h-2zM9 67h1v1h-1zM10 69h1v1h-1zM10 70h2v1h-2zM8 71h1v1h-1zM10 71h1v1h-1zM8 72h1v1h-1zM8 73h1v1h-1zM9 75h1v1h-1zM10 76h1v1h-1zM10 85h1v1h-1zM10 86h1v1h-1z"/><path fill="#2b758e" d="M4 4h1v1h-1zM4 6h1v1h-1zM1 9h1v1h-1zM8 9h1v1h-1zM8 10h1v1h-1zM10 10h1v1h-1zM2 11h1v1h-1zM7 12h1v1h-1zM10 12h1v1h-1zM3 13h1v1h-1zM7 13h1v1h-1zM10 14h1v1h-1zM6 16h1v1h-1zM8 16h1v1h-1zM4 17h1v1h-1zM9 18h1v1h-1zM7 20h1v1h-1zM0 21h1v1h-1zM9 21h1v1h-1zM7 22h1v1h-1zM11 22h1v1h-1zM0 24h1v1h-1zM8 25h1v1h-1zM8 26h1v1h-1zM6 28h1v1h-1zM4 29h2v1h-2zM4 30h1v1h-1zM10 30h1v1h-1zM8 31h1v1h-1zM11 31h1v1h-1zM5 32h1v1h-1zM11 32h1v1h-1zM11 40h1v1h-1zM8 41h2v1h-2zM8 42h1v1h-1zM8 45h1v1h-1zM11 49h1v1h-1zM11 50h1v1h-1zM9 54h1v1h-1zM9 55h2v1h-2zM11 57h1v1h-1zM8 59h1v1h-1zM11 60h1v1h-1zM7 61h1v1h-1zM10 63h1v1h-1zM9 65h1v1h-1zM8 67h1v1h-1zM11 68h1v1h-1zM8 76h2v1h-2zM9 82h1v1h-1z"/><path fill="#287d8e" d="M6 15h1v1h-1zM11 18h1v1h-1zM10 36h1v1h-1zM9 37h1v1h-1zM8 38h1v1h-1zM11 39h1v1h-1zM10 45h1v1h-1zM9 50h1v1h-1zM8 52h1v1h-1zM10 53h1v1h-1zM11 56h1v1h-1zM10 60h1v1h-1zM10 61h1v1h-1zM8 62h1v1h-1zM11 62h1v1h-1zM11 65h1v1h-1zM8 68h1v1h-1zM9 70h1v1h-1zM9 72h1v1h-1zM11 72h1v1h-1zM9 74h1v1h-1zM8 81h1v1h-1zM8 82h1v1h-1zM9 84h1v1h-1zM9 87h1v1h-1z"/><path fill="#25848e" d="M2 10h1v1h-1zM6 30h1v1h-1zM10 37h1v1h-1zM9 39h1v1h-1zM8 44h1v1h-1zM11 44h1v1h-1zM8 46h1v1h-1zM8 56h1v1h-1zM9 61h1v1h-1zM8 63h1v1h-1zM4 64h1v1h-1zM8 65h1v1h-1zM9 69h1v1h-1zM7 71h1v1h-1zM9 73h1v1h-1zM11 74h1v1h-1zM5 75h1v1h-1zM11 76h1v1h-1zM10 77h1v1h-1zM8 80h1v1h-1zM8 87h1v1h-1zM9 89h1v1h-1z"/><path fill="#228c8d" d="M1 0h1v1h-1zM3 4h1v1h-1zM7 6h1v1h-1zM2 8h1v1h-1zM0 9h1v1h-1zM10 9h1v1h-1zM6 10h1v1h-1zM3 11h1v1h-1zM5 11h1v1h-1zM4 12h1v1h-1zM5 13h1v1h-1zM0 14h1v1h-1zM10 15h2v1h-2zM11 16h1v1h-1zM2 17h1v1h-1zM10 18h1v1h-1zM2 21h1v1h-1zM5 24h1v1h-1zM8 24h1v1h-1zM4 25h1v1h-1zM0 26h1v1h-1zM5 26h1v1h-1zM0 28h1v1h-1zM11 28h1v1h-1zM3 29h1v1h-1zM3 31h1v1h-1zM6 31h1v1h-1zM10 31h1v1h-1zM10 32h1v1h-1zM11 42h1v1h-1zM8 47h1v1h-1zM10 48h1v1h-1zM5 50h1v1h-1zM5 56h1v1h-1zM11 58h1v1h-1zM7 59h1v1h-1zM11 69h1v1h-1zM11 75h1v1h-1zM8 77h2v1h-2zM8 78h2v1h-2z"/><path fill="#1f948c" d="M2 2h1v1h-1zM5 2h1v1h-1zM1 3h1v1h-1zM11 3h1v1h-1zM1 4h1v1h-1zM4 7h1v1h-1zM9 7h1v1h-1zM1 8h1v1h-1zM2 9h1v1h-1zM4 9h1v1h-1zM3 10h2v1h-2zM1 11h1v1h-1zM4 11h1v1h-1zM11 11h1v1h-1zM8 12h1v1h-1zM2 15h1v1h-1zM5 15h1v1h-1zM2 16h1v1h-1zM7 16h1v1h-1zM0 17h1v1h-1zM7 17h1v1h-1zM10 17h1v1h-1zM3 19h1v1h-1zM1 25h1v1h-1zM7 25h1v1h-1zM2 28h1v1h-1zM1 30h1v1h-1zM3 30h1v1h-1zM7 30h2v1h-2zM5 31h1v1h-1zM1 32h1v1h-1zM3 32h1v1h-1zM11 36h1v1h-1zM10 40h1v1h-1zM9 42h1v1h-1zM10 56h1v1h-1zM3 67h1v1h-1zM8 70h1v1h-1zM7 81h1v1h-1zM9 81h1v1h-1zM10 82h1v1h-1zM10 84h2v1h-2zM8 85h1v1h-1zM11 86h1v1h-1z"/><path fill="#1e9c89" d="M4 3h1v1h-1zM1 6h1v1h-1zM10 6h1v1h-1zM11 9h1v1h-1zM11 10h1v1h-1zM8 13h1v1h-1zM8 20h1v1h-1zM8 35h1v1h-1zM10 35h1v1h-1zM5 41h1v1h-1zM3 48h1v1h-1zM8 61h1v1h-1zM11 63h1v1h-1zM9 71h1v1h-1zM6 72h1v1h-1zM10 75h1v1h-1zM5 76h1v1h-1zM5 78h1v1h-1zM4 88h1v1h-1z"/><path fill="#20a386" d="M4 0h1v1h-1zM0 15h1v1h-1zM9 17h1v1h-1zM1 26h1v1h-1zM4 31h1v1h-1zM9 34h1v1h-1zM6 36h1v1h-1zM7 38h1v1h-1zM10 38h1v1h-1zM3 39h1v1h-1zM8 39h1v1h-1zM7 41h1v1h-1zM3 49h1v1h-1zM11 52h1v1h-1zM7 53h1v1h-1zM6 58h1v1h-1zM6 65h1v1h-1zM3 73h1v1h-1zM8 74h1v1h-1zM6 77h1v1h-1zM11 78h1v1h-1z"/><path fill="#25ab82" d="M10 0h1v1h-1zM11 1h1v1h-1zM4 2h1v1h-1zM4 5h2v1h-2zM8 5h1v1h-1zM11 5h1v1h-1zM2 6h1v1h-1zM5 6h1v1h-1zM8 11h1v1h-1zM6 12h1v1h-1zM2 13h1v1h-1zM8 15h1v1h-1zM5 18h2v1h-2zM7 21h1v1h-1zM4 24h1v1h-1zM7 24h1v1h-1zM6 26h1v1h-1zM9 26h1v1h-1zM9 28h1v1h-1zM10 29h1v1h-1zM10 41h1v1h-1zM3 42h1v1h-1zM8 43h1v1h-1zM4 47h1v1h-1zM10 49h1v1h-1zM4 50h1v1h-1zM4 57h1v1h-1zM6 57h1v1h-1zM5 58h1v1h-1zM10 58h1v1h-1zM6 59h1v1h-1zM5 62h1v1h-1zM4 66h1v1h-1zM3 72h1v1h-1zM5 72h1v1h-1zM6 78h1v1h-1zM4 80h2v1h-2zM6 82h2v1h-2zM5 87h1v1h-1zM4 89h1v1h-1z"/><path fill="#2eb37c" d="M2 0h1v1h-1zM7 2h1v1h-1zM10 2h1v1h-1zM0 3h1v1h-1zM5 3h1v1h-1zM9 3h1v1h-1zM1 5h1v1h-1zM3 7h1v1h-1zM8 8h1v1h-1zM5 10h1v1h-1zM7 11h1v1h-1zM9 11h1v1h-1zM6 13h1v1h-1zM9 14h1v1h-1zM3 15h2v1h-2zM0 16h1v1h-1zM10 16h1v1h-1zM1 28h1v1h-1zM4 28h1v1h-1zM7 28h1v1h-1zM2 29h1v1h-1zM6 29h1v1h-1zM0 30h1v1h-1zM8 32h1v1h-1zM7 37h1v1h-1zM5 38h1v1h-1zM5 42h1v1h-1zM4 46h1v1h-1zM6 46h2v1h-2zM6 47h1v1h-1zM6 48h1v1h-1zM6 50h1v1h-1zM6 51h1v1h-1zM7 52h1v1h-1zM5 53h1v1h-1zM7 54h1v1h-1zM7 60h1v1h-1zM6 61h1v1h-1zM3 62h1v1h-1zM5 64h3v1h-3zM3 65h1v1h-1zM7 69h1v1h-1zM4 70h1v1h-1zM6 75h1v1h-1zM4 76h1v1h-1zM6 79h1v1h-1zM5 81h1v1h-1zM6 85h1v1h-1zM5 86h2v1h-2z"/><path fill="#3aba76" d="M8 1h1v1h-1zM0 34h1v1h-1zM4 34h1v1h-1zM3 37h1v1h-1zM6 38h1v1h-1zM7 39h1v1h-1zM3 45h1v1h-1zM7 45h1v1h-1zM3 51h1v1h-1zM3 52h1v1h-1zM5 52h1v1h-1zM5 54h1v1h-1zM3 58h1v1h-1zM6 63h1v1h-1zM5 66h1v1h-1zM3 70h1v1h-1zM6 70h1v1h-1zM7 73h1v1h-1zM5 74h1v1h-1zM5 82h1v1h-1zM5 83h1v1h-1zM4 87h1v1h-1zM6 89h1v1h-1z"/><path fill="#48c16e" d="M3 1h1v1h-1zM8 2h1v1h-1zM7 18h1v1h-1zM9 20h1v1h-1zM7 32h1v1h-1zM7 36h1v1h-1zM5 37h1v1h-1zM4 38h1v1h-1zM4 40h1v1h-1zM7 42h1v1h-1zM7 43h1v1h-1zM3 44h1v1h-1zM7 44h1v1h-1zM5 46h1v1h-1zM7 50h1v1h-1zM0 53h1v1h-1zM3 53h1v1h-1zM6 60h1v1h-1zM4 61h1v1h-1zM6 62h1v1h-1zM5 63h1v1h-1zM7 65h1v1h-1zM6 66h1v1h-1zM5 68h1v1h-1zM7 72h1v1h-1zM4 74h1v1h-1zM6 74h1v1h-1zM7 75h1v1h-1zM7 77h1v1h-1zM3 78h1v1h-1zM7 78h1v1h-1zM2 80h2v1h-2zM5 85h1v1h-1zM7 85h1v1h-1zM4 86h1v1h-1z"/><path fill="#58c765" d="M5 0h1v1h-1zM5 1h1v1h-1zM7 1h1v1h-1zM10 1h1v1h-1zM3 3h1v1h-1zM6 4h1v1h-1zM10 4h1v1h-1zM9 5h1v1h-1zM3 6h1v1h-1zM1 7h1v1h-1zM8 7h1v1h-1zM11 7h1v1h-1zM4 8h1v1h-1zM3 9h1v1h-1zM5 9h2v1h-2zM0 10h1v1h-1zM3 16h1v1h-1zM4 18h1v1h-1zM8 18h1v1h-1zM1 20h1v1h-1zM6 24h1v1h-1zM3 25h1v1h-1zM2 26h1v1h-1zM7 26h1v1h-1zM10 26h2v1h-2zM0 29h1v1h-1zM7 31h1v1h-1zM3 34h1v1h-1zM5 34h2v1h-2zM4 35h1v1h-1zM3 38h1v1h-1zM4 39h1v1h-1zM6 41h1v1h-1zM5 44h1v1h-1zM7 49h1v1h-1zM3 50h1v1h-1zM7 51h1v1h-1zM8 53h1v1h-1zM3 54h1v1h-1zM2 55h1v1h-1zM5 55h1v1h-1zM4 56h1v1h-1zM7 56h1v1h-1zM5 61h1v1h-1zM4 63h1v1h-1zM3 64h1v1h-1zM4 65h1v1h-1zM4 67h1v1h-1zM7 67h1v1h-1zM4 68h1v1h-1zM6 68h1v1h-1zM5 70h1v1h-1zM4 72h1v1h-1zM6 73h1v1h-1zM7 74h1v1h-1zM2 76h2v1h-2zM3 81h2v1h-2zM4 82h1v1h-1zM4 83h1v1h-1zM5 84h2v1h-2zM7 86h1v1h-1zM3 89h1v1h-1z"/><path fill="#6ccd5a" d="M0 0h1v1h-1zM11 0h1v1h-1zM1 2h1v1h-1zM3 2h1v1h-1zM11 2h1v1h-1zM5 4h1v1h-1zM11 4h1v1h-1zM3 8h1v1h-1zM10 13h2v1h-2zM5 17h1v1h-1zM2 18h1v1h-1zM10 20h1v1h-1zM5 21h1v1h-1zM0 23h1v1h-1zM8 29h1v1h-1zM1 31h1v1h-1zM9 31h1v1h-1zM0 32h1v1h-1zM3 35h1v1h-1zM6 37h1v1h-1zM4 42h1v1h-1zM4 44h1v1h-1zM6 44h1v1h-1zM4 45h1v1h-1zM5 48h1v1h-1zM7 48h1v1h-1zM6 52h1v1h-1zM2 53h1v1h-1zM6 53h1v1h-1zM6 54h1v1h-1zM4 55h1v1h-1zM4 58h1v1h-1zM7 58h1v1h-1zM3 59h1v1h-1zM4 60h2v1h-2zM7 62h1v1h-1zM7 63h1v1h-1zM5 69h1v1h-1zM3 71h2v1h-2zM4 73h1v1h-1zM3 74h1v1h-1zM4 78h1v1h-1zM4 79h1v1h-1zM6 83h1v1h-1zM3 85h1v1h-1zM6 87h2v1h-2zM5 89h1v1h-1zM7 89h1v1h-1z"/><path fill="#7fd34e" d="M0 6h1v1h-1zM1 35h1v1h-1zM5 35h1v1h-1zM2 37h1v1h-1zM4 37h1v1h-1zM2 38h1v1h-1zM5 39h1v1h-1zM4 41h1v1h-1zM4 43h2v1h-2zM4 48h1v1h-1zM4 52h1v1h-1zM4 54h1v1h-1zM7 55h1v1h-1zM3 57h1v1h-1zM3 60h1v1h-1zM2 62h1v1h-1zM5 65h1v1h-1zM3 66h1v1h-1zM7 66h1v1h-1zM0 69h1v1h-1zM6 69h1v1h-1zM5 73h1v1h-1zM7 79h1v1h-1zM6 80h1v1h-1zM0 87h1v1h-1zM3 87h1v1h-1zM7 88h1v1h-1z"/><path fill="#93d741" d="M1 1h1v1h-1zM10 5h1v1h-1zM9 6h1v1h-1zM2 7h1v1h-1zM0 12h1v1h-1zM1 13h1v1h-1zM1 29h1v1h-1zM3 36h1v1h-1zM1 39h1v1h-1zM2 42h1v1h-1zM6 42h1v1h-1zM0 43h1v1h-1zM6 45h1v1h-1zM2 46h1v1h-1zM1 47h1v1h-1zM3 47h1v1h-1zM7 47h1v1h-1zM4 49h1v1h-1zM1 50h1v1h-1zM0 54h2v1h-2zM6 56h1v1h-1zM5 57h1v1h-1zM2 61h2v1h-2zM0 65h1v1h-1zM2 65h1v1h-1zM1 66h1v1h-1zM3 68h1v1h-1zM7 68h1v1h-1zM7 70h1v1h-1zM5 71h1v1h-1zM1 83h1v1h-1zM3 84h1v1h-1z"/><path fill="#a8db34" d="M9 0h1v1h-1zM4 1h1v1h-1zM2 3h1v1h-1zM0 5h1v1h-1zM7 5h1v1h-1zM8 6h1v1h-1zM5 7h1v1h-1zM7 8h1v1h-1zM9 8h1v1h-1zM10 11h1v1h-1zM0 13h1v1h-1zM1 15h1v1h-1zM1 16h1v1h-1zM0 20h1v1h-1zM2 20h1v1h-1zM4 21h1v1h-1zM6 22h1v1h-1zM6 23h1v1h-1zM10 23h1v1h-1zM2 31h1v1h-1zM2 34h1v1h-1zM6 35h2v1h-2zM0 36h1v1h-1zM5 36h1v1h-1zM0 39h1v1h-1zM0 40h1v1h-1zM5 45h1v1h-1zM3 46h1v1h-1zM0 49h1v1h-1zM5 49h1v1h-1zM4 51h2v1h-2zM5 59h1v1h-1zM2 69h1v1h-1zM2 73h1v1h-1zM3 77h1v1h-1zM0 78h1v1h-1zM3 79h1v1h-1zM5 79h1v1h-1zM7 80h1v1h-1zM3 82h1v1h-1zM4 84h1v1h-1zM3 86h1v1h-1zM0 88h1v1h-1zM6 88h1v1h-1z"/><path fill="#c0df25" d="M8 0h1v1h-1zM6 2h1v1h-1zM7 4h1v1h-1zM2 5h1v1h-1zM5 8h1v1h-1zM1 12h1v1h-1zM4 13h1v1h-1zM1 14h1v1h-1zM6 17h1v1h-1zM3 20h2v1h-2zM0 22h1v1h-1zM2 22h1v1h-1zM2 23h1v1h-1zM7 34h1v1h-1zM1 38h1v1h-1zM6 39h1v1h-1zM6 40h2v1h-2zM3 41h1v1h-1zM6 49h1v1h-1zM2 50h1v1h-1zM1 51h1v1h-1zM0 52h1v1h-1zM6 55h1v1h-1zM4 59h1v1h-1zM1 63h1v1h-1zM3 63h1v1h-1zM1 64h2v1h-2zM1 67h1v1h-1zM5 67h1v1h-1zM3 69h1v1h-1zM1 70h1v1h-1zM6 71h1v1h-1zM4 75h1v1h-1zM2 83h2v1h-2zM3 88h1v1h-1z"/><path fill="#d5e21a" d="M6 0h1v1h-1zM2 35h1v1h-1zM1 36h1v1h-1zM4 36h1v1h-1zM2 39h1v1h-1zM3 40h1v1h-1zM5 40h1v1h-1zM2 41h1v1h-1zM1 42h1v1h-1zM6 43h1v1h-1zM0 45h1v1h-1zM2 48h1v1h-1zM2 51h1v1h-1zM0 56h1v1h-1zM3 56h1v1h-1zM2 57h1v1h-1zM4 62h1v1h-1zM6 67h1v1h-1zM1 68h1v1h-1zM1 69h1v1h-1zM0 70h1v1h-1zM0 71h1v1h-1zM1 73h1v1h-1zM4 77h1v1h-1zM1 79h1v1h-1zM6 81h1v1h-1zM0 83h1v1h-1zM2 85h1v1h-1zM1 87h1v1h-1zM5 88h1v1h-1z"/><path fill="#eae51a" d="M7 0h1v1h-1zM0 8h1v1h-1zM9 15h1v1h-1zM1 22h1v1h-1zM0 25h1v1h-1zM0 27h1v1h-1zM1 34h1v1h-1zM2 36h1v1h-1zM0 41h1v1h-1zM2 43h1v1h-1zM0 44h1v1h-1zM2 45h1v1h-1zM0 47h1v1h-1zM2 47h1v1h-1zM5 47h1v1h-1zM1 52h1v1h-1zM1 53h1v1h-1zM4 53h1v1h-1zM0 57h2v1h-2zM1 59h1v1h-1zM0 66h1v1h-1zM4 69h1v1h-1zM3 75h1v1h-1zM1 76h1v1h-1zM7 76h1v1h-1zM0 79h1v1h-1zM2 81h1v1h-1zM0 82h3v1h-3zM7 84h1v1h-1zM4 85h1v1h-1zM2 87h1v1h-1zM1 88h1v1h-1z"/><path fill="#fde725" d="M3 0h1v1h-1zM0 1h1v1h-1zM2 1h1v1h-1zM6 1h1v1h-1zM9 1h1v1h-1zM0 2h1v1h-1zM9 2h1v1h-1zM6 3h2v1h-2zM10 3h1v1h-1zM8 4h2v1h-2zM3 5h1v1h-1zM6 5h1v1h-1zM6 6h1v1h-1zM0 7h1v1h-1zM6 7h2v1h-2zM6 8h1v1h-1zM7 9h1v1h-1zM7 10h1v1h-1zM9 12h1v1h-1zM9 13h1v1h-1zM9 16h1v1h-1zM1 19h2v1h-2zM5 19h1v1h-1zM5 20h2v1h-2zM6 21h1v1h-1zM10 21h1v1h-1zM10 22h1v1h-1zM1 23h1v1h-1zM2 24h2v1h-2zM1 27h1v1h-1zM6 27h1v1h-1zM9 29h1v1h-1zM9 30h1v1h-1zM9 33h2v1h-2zM0 35h1v1h-1zM0 37h2v1h-2zM0 38h1v1h-1zM1 40h2v1h-2zM1 41h1v1h-1zM0 42h1v1h-1zM1 43h1v1h-1zM3 43h1v1h-1zM1 44h2v1h-2zM1 45h1v1h-1zM0 46h2v1h-2zM0 48h2v1h-2zM1 49h2v1h-2zM0 50h1v1h-1zM0 51h1v1h-1zM2 52h1v1h-1zM2 54h1v1h-1zM0 55h2v1h-2zM3 55h1v1h-1zM1 56h2v1h-2zM7 57h1v1h-1zM0 58h3v1h-3zM0 59h1v1h-1zM2 59h1v1h-1zM0 60h3v1h-3zM0 61h2v1h-2zM0 62h2v1h-2zM0 63h1v1h-1zM2 63h1v1h-1zM0 64h1v1h-1zM1 65h1v1h-1zM2 66h1v1h-1zM0 67h1v1h-1zM2 67h1v1h-1zM0 68h1v1h-1zM2 68h1v1h-1zM2 70h1v1h-1zM1 71h2v1h-2zM0 72h3v1h-3zM0 73h1v1h-1zM0 74h3v1h-3zM0 75h3v1h-3zM0 76h1v1h-1zM6 76h1v1h-1zM0 77h3v1h-3zM5 77h1v1h-1zM1 78h2v1h-2zM2 79h1v1h-1zM0 80h2v1h-2zM0 81h2v1h-2zM7 83h1v1h-1zM0 84h3v1h-3zM0 85h2v1h-2zM0 86h3v1h-3zM2 88h1v1h-1zM0 89h3v1h-3z"/></g>
<g transform="translate(775.20 1555.00) scale(5.6250 7.9900)" shape-rendering="crispEdges"><path fill="#440154" d="M9 3h1v1h-1zM0 4h1v1h-1zM0 5h1v1h-1zM5 7h1v1h-1zM9 9h1v1h-1zM10 13h1v1h-1zM3 18h1v1h-1z"/><path fill="#470d60" d="M3 4h1v1h-1zM9 4h1v1h-1zM4 5h1v1h-1zM0 6h1v1h-1zM9 6h1v1h-1zM0 7h1v1h-1zM5 14h1v1h-1zM3 16h1v1h-1z"/><path fill="#48186a" d="M5 4h1v1h-1zM10 4h1v1h-1zM3 5h1v1h-1zM9 8h1v1h-1zM5 17h1v1h-1z"/><path fill="#482374" d="M9 7h1v1h-1zM8 8h1v1h-1zM10 8h1v1h-1zM5 16h1v1h-1z"/><path fill="#472e7c" d="M4 1h1v1h-1zM3 7h1v1h-1zM0 11h1v1h-1zM3 13h1v1h-1zM5 23h1v1h-1z"/><path fill="#453882" d="M9 0h1v1h-1zM9 2h1v1h-1zM4 4h1v1h-1zM10 5h1v1h-1zM3 6h1v1h-1zM11 6h1v1h-1zM5 9h1v1h-1zM1 11h1v1h-1zM8 13h2v1h-2z"/><path fill="#424186" d="M3 2h1v1h-1zM10 3h1v1h-1zM9 5h1v1h-1zM6 6h1v1h-1zM3 8h1v1h-1zM0 16h1v1h-1zM3 19h1v1h-1z"/><path fill="#3e4a89" d="M3 0h1v1h-1zM1 1h1v1h-1zM0 2h1v1h-1zM5 2h1v1h-1zM2 5h1v1h-1zM0 8h1v1h-1zM4 8h1v1h-1zM0 9h1v1h-1zM4 9h1v1h-1zM4 11h1v1h-1zM10 11h1v1h-1zM3 12h1v1h-1zM9 12h1v1h-1zM2 15h1v1h-1zM4 18h2v1h-2zM9 23h1v1h-1z"/><path fill="#3a548c" d="M5 0h1v1h-1zM1 4h1v1h-1zM1 6h1v1h-1zM11 7h1v1h-1zM3 9h1v1h-1zM8 9h1v1h-1zM5 10h1v1h-1zM10 10h1v1h-1zM4 12h1v1h-1zM4 13h1v1h-1zM6 17h1v1h-1zM5 21h1v1h-1zM9 22h1v1h-1zM3 23h1v1h-1z"/><path fill="#365d8d" d="M0 0h2v1h-2zM2 1h1v1h-1zM10 2h1v1h-1zM3 3h1v1h-1zM5 3h1v1h-1zM6 4h1v1h-1zM1 5h1v1h-1zM6 5h1v1h-1zM11 5h1v1h-1zM10 6h1v1h-1zM10 7h1v1h-1zM5 8h1v1h-1zM6 9h1v1h-1zM9 10h1v1h-1zM3 11h1v1h-1zM5 11h1v1h-1zM9 11h1v1h-1zM10 12h1v1h-1zM9 17h1v1h-1zM5 19h1v1h-1zM9 20h1v1h-1zM11 22h1v1h-1zM1 23h1v1h-1z"/><path fill="#32658e" d="M1 7h1v1h-1zM0 14h2v1h-2zM3 14h1v1h-1zM6 14h1v1h-1zM9 14h1v1h-1zM11 14h1v1h-1zM0 15h2v1h-2zM4 15h3v1h-3zM11 15h1v1h-1zM1 16h1v1h-1zM4 16h1v1h-1zM6 16h2v1h-2zM9 16h2v1h-2zM0 17h1v1h-1zM3 17h2v1h-2zM10 17h2v1h-2zM0 18h2v1h-2zM7 18h3v1h-3zM11 18h1v1h-1zM1 19h2v1h-2zM4 19h1v1h-1zM7 19h1v1h-1zM9 19h1v1h-1zM11 19h1v1h-1zM1 20h4v1h-4zM10 20h1v1h-1zM0 21h5v1h-5zM9 21h3v1h-3zM0 22h2v1h-2zM3 22h1v1h-1zM5 22h2v1h-2zM10 22h1v1h-1zM2 23h1v1h-1zM6 23h1v1h-1zM10 23h2v1h-2z"/><path fill="#2e6d8e" d="M3 1h1v1h-1zM10 1h1v1h-1zM0 3h2v1h-2zM5 5h1v1h-1zM2 7h1v1h-1zM7 7h1v1h-1zM6 8h1v1h-1zM10 9h1v1h-1zM3 10h1v1h-1zM7 10h1v1h-1zM5 12h1v1h-1zM10 15h1v1h-1zM10 19h1v1h-1zM5 20h1v1h-1zM0 23h1v1h-1z"/><path fill="#2b758e" d="M10 0h1v1h-1zM11 4h1v1h-1zM2 6h1v1h-1zM4 6h2v1h-2zM4 7h1v1h-1zM2 12h1v1h-1zM11 12h1v1h-1zM5 13h1v1h-1zM10 14h1v1h-1zM3 15h1v1h-1zM9 15h1v1h-1zM6 21h1v1h-1zM4 24h1v1h-1zM3 26h1v1h-1z"/><path fill="#287d8e" d="M7 0h1v1h-1zM0 1h1v1h-1zM2 3h1v1h-1zM4 3h1v1h-1zM11 3h1v1h-1zM7 6h1v1h-1zM1 10h1v1h-1zM0 20h1v1h-1zM0 24h4v1h-4zM5 24h7v1h-7zM0 25h12v1h-12zM0 26h3v1h-3zM4 26h8v1h-8z"/><path fill="#25848e" d="M4 2h1v1h-1zM6 3h1v1h-1zM8 4h1v1h-1zM7 8h1v1h-1zM11 8h1v1h-1zM1 9h1v1h-1zM2 11h1v1h-1zM6 11h1v1h-1zM11 11h1v1h-1zM0 12h2v1h-2zM2 14h1v1h-1zM4 14h1v1h-1zM2 17h1v1h-1zM2 18h1v1h-1zM6 19h1v1h-1zM8 19h1v1h-1zM7 20h1v1h-1zM11 20h1v1h-1zM4 22h1v1h-1zM4 23h1v1h-1z"/><path fill="#228c8d" d="M6 0h1v1h-1zM5 1h2v1h-2zM1 2h1v1h-1zM6 2h1v1h-1zM2 4h1v1h-1zM8 5h1v1h-1zM2 8h1v1h-1zM11 9h1v1h-1zM0 10h1v1h-1zM4 10h1v1h-1zM0 13h1v1h-1z"/><path fill="#1f948c" d="M9 1h1v1h-1zM8 3h1v1h-1zM7 5h1v1h-1zM11 10h1v1h-1zM6 12h1v1h-1zM8 12h1v1h-1zM6 13h1v1h-1zM2 16h1v1h-1zM11 16h1v1h-1zM0 19h1v1h-1zM6 20h1v1h-1zM7 22h1v1h-1z"/><path fill="#1e9c89" d="M11 1h1v1h-1zM7 2h1v1h-1zM7 3h1v1h-1zM6 7h1v1h-1zM2 9h1v1h-1zM8 10h1v1h-1zM7 14h1v1h-1zM7 15h1v1h-1z"/><path fill="#20a386" d="M11 0h1v1h-1zM7 1h1v1h-1zM8 6h1v1h-1zM7 9h1v1h-1zM1 13h1v1h-1zM8 15h1v1h-1zM1 17h1v1h-1zM7 17h1v1h-1zM10 18h1v1h-1z"/><path fill="#25ab82" d="M2 0h1v1h-1zM2 13h1v1h-1zM8 17h1v1h-1zM6 18h1v1h-1zM8 20h1v1h-1z"/><path fill="#2eb37c" d="M4 0h1v1h-1zM8 7h1v1h-1zM2 10h1v1h-1zM7 11h1v1h-1zM8 22h1v1h-1zM7 23h1v1h-1z"/><path fill="#3aba76" d="M8 0h1v1h-1zM1 8h1v1h-1zM2 22h1v1h-1z"/><path fill="#48c16e" d="M8 2h1v1h-1zM11 2h1v1h-1zM6 10h1v1h-1zM8 14h1v1h-1z"/><path fill="#58c765" d="M7 4h1v1h-1zM11 13h1v1h-1zM8 23h1v1h-1z"/><path fill="#6ccd5a" d="M8 1h1v1h-1zM2 2h1v1h-1zM8 11h1v1h-1z"/><path fill="#7fd34e" d="M7 12h1v1h-1zM8 21h1v1h-1z"/><path fill="#93d741" d="M7 13h1v1h-1zM8 16h1v1h-1z"/><path fill="#c0df25" d="M7 21h1v1h-1z"/></g>
<path fill="none" stroke="#000" stroke-width="1.5" d="M289.5 834.5H278.0V842.5H289.5M289.5 850.4H279.3V858.4H289.5M289.5 866.4H277.2V874.4H289.5M279.3 854.4H276.0V870.4H277.2M276.0 862.4H274.8V882.4H289.5M278.0 838.5H273.6V872.4H274.8M289.5 898.3H277.8V906.3H289.5M277.8 902.3H276.6V914.3H289.5M289.5 890.3H275.4V908.3H276.6M275.4 899.3H274.2V922.2H289.5M273.6 855.4H272.4V910.8H274.2M289.5 938.2H279.6V946.2H289.5M289.5 930.2H278.4V942.2H279.6M289.5 954.1H278.4V962.1H289.5M278.4 936.2H276.7V958.1H278.4M289.5 978.1H279.1V986.1H289.5M289.5 970.1H277.3V982.1H279.1M289.5 994.0H279.1V1002.0H289.5M277.3 976.1H276.1V998.0H279.1M276.7 947.2H274.9V987.0H276.1M272.4 883.1H271.2V967.1H274.9M289.5 1010.0H279.1V1018.0H289.5M289.5 1025.9H278.9V1033.9H289.5M278.9 1029.9H277.7V1041.9H289.5M279.1 1014.0H276.5V1035.9H277.7M289.5 1049.9H278.6V1057.8H289.5M278.6 1053.9H277.2V1065.8H289.5M289.5 1073.8H278.9V1081.8H289.5M277.2 1059.8H276.0V1077.8H278.9M289.5 1089.8H279.5V1097.7H289.5M276.0 1068.8H274.8V1093.7H279.5M276.5 1024.9H273.6V1081.3H274.8M271.2 925.1H270.0V1053.1H273.6M289.5 1113.7H279.5V1121.7H289.5M289.5 1105.7H278.3V1117.7H279.5M278.3 1111.7H277.1V1129.6H289.5M289.5 1137.6H277.9V1145.6H289.5M277.9 1141.6H276.7V1153.6H289.5M289.5 1161.5H279.1V1169.5H289.5M276.7 1147.6H275.5V1165.5H279.1M277.1 1120.7H274.3V1156.6H275.5M289.5 1177.5H278.9V1185.5H289.5M289.5 1193.5H279.1V1201.4H289.5M278.9 1181.5H277.7V1197.4H279.1M289.5 1217.4H277.7V1225.4H289.5M289.5 1209.4H276.5V1221.4H277.7M277.7 1189.5H275.3V1215.4H276.5M274.3 1138.6H273.1V1202.4H275.3M289.5 1233.3H277.8V1241.3H289.5M289.5 1249.3H277.5V1257.3H289.5M289.5 1265.2H278.0V1273.2H289.5M278.0 1269.2H276.8V1281.2H289.5M277.5 1253.3H275.6V1275.2H276.8M277.8 1237.3H274.4V1264.2H275.6M289.5 1289.2H278.8V1297.2H289.5M289.5 1305.1H277.4V1313.1H289.5M278.8 1293.2H276.2V1309.1H277.4M276.2 1301.1H275.0V1321.1H289.5M289.5 1329.1H278.9V1337.0H289.5M289.5 1345.0H277.7V1353.0H289.5M289.5 1361.0H279.3V1368.9H289.5M277.7 1349.0H276.5V1365.0H279.3M276.5 1357.0H275.3V1376.9H289.5M289.5 1384.9H279.4V1392.9H289.5M275.3 1367.0H274.1V1388.9H279.4M278.9 1333.1H272.9V1377.9H274.1M289.5 1400.9H277.8V1408.8H289.5M289.5 1424.8H278.1V1432.8H289.5M289.5 1416.8H276.9V1428.8H278.1M277.8 1404.8H275.7V1422.8H276.9M272.9 1355.5H271.7V1413.8H275.7M275.0 1311.1H270.5V1384.7H271.7M274.4 1250.8H269.3V1347.9H270.5M289.5 1440.7H277.2V1448.7H289.5M277.2 1444.7H276.0V1456.7H289.5M276.0 1450.7H274.8V1464.7H289.5M289.5 1480.6H277.7V1488.6H289.5M289.5 1472.6H276.5V1484.6H277.7M289.5 1496.6H278.2V1504.6H289.5M276.5 1478.6H275.3V1500.6H278.2M289.5 1512.5H277.2V1520.5H289.5M275.3 1489.6H274.1V1516.5H277.2M289.5 1528.5H277.3V1536.5H289.5M277.3 1532.5H276.1V1544.4H289.5M274.1 1503.1H272.9V1538.5H276.1M274.8 1457.7H271.7V1520.8H272.9M269.3 1299.3H268.1V1489.2H271.7M273.1 1170.5H266.9V1394.3H268.1M270.0 989.1H262.5V1282.4H266.9"/>
<path fill="none" stroke="#000" stroke-width="1.5" d="M289.5 1559.0H278.6V1567.0H289.5M289.5 1575.0H277.6V1583.0H289.5M289.5 1591.0H276.2V1598.9H289.5M277.6 1579.0H275.0V1594.9H276.2M278.6 1563.0H273.8V1587.0H275.0M289.5 1606.9H277.3V1614.9H289.5M289.5 1630.9H277.5V1638.9H289.5M289.5 1622.9H276.3V1634.9H277.5M289.5 1646.9H278.2V1654.9H289.5M276.3 1628.9H274.6V1650.9H278.2M277.3 1610.9H273.4V1639.9H274.6M273.8 1575.0H272.2V1625.4H273.4M289.5 1662.9H278.3V1670.9H289.5M289.5 1678.8H278.6V1686.8H289.5M278.3 1666.9H276.1V1682.8H278.6M289.5 1694.8H277.0V1702.8H289.5M276.1 1674.9H274.9V1698.8H277.0M289.5 1710.8H277.3V1718.8H289.5M277.3 1714.8H276.1V1726.8H289.5M289.5 1734.8H277.7V1742.8H289.5M276.1 1720.8H274.9V1738.8H277.7M289.5 1750.8H276.5V1758.7H289.5M276.5 1754.8H275.3V1766.7H289.5M274.9 1729.8H273.7V1760.7H275.3M274.9 1686.8H272.5V1745.3H273.7M272.2 1600.2H263.5V1716.0H272.5"/>
<path fill="none" stroke="#000" stroke-width="1.6" d="M262.5 1026H243.5V1658.1H263.5"/>
<line x1="260" y1="990" x2="260" y2="1690" stroke="#888" stroke-width="1.1" stroke-dasharray="1.2 3.2"/>
<g fill="#7F7F7F" stroke="#000" stroke-width="1.3"><rect x="876.1" y="831.9" width="8.5" height="5.2"/><rect x="882.3" y="839.9" width="2.3" height="5.2"/><rect x="882.3" y="847.8" width="2.3" height="5.2"/><rect x="880.6" y="855.8" width="4.0" height="5.2"/><rect x="881.0" y="863.8" width="3.6" height="5.2"/><rect x="881.0" y="871.8" width="3.6" height="5.2"/><rect x="880.6" y="879.8" width="4.0" height="5.2"/><rect x="880.6" y="887.7" width="4.0" height="5.2"/><rect x="881.9" y="895.7" width="2.7" height="5.2"/><rect x="876.1" y="903.7" width="8.5" height="5.2"/><rect x="872.4" y="911.7" width="12.2" height="5.2"/><rect x="876.1" y="919.6" width="8.5" height="5.2"/><rect x="878.4" y="927.6" width="6.2" height="5.2"/><rect x="880.1" y="935.6" width="4.5" height="5.2"/><rect x="876.4" y="943.6" width="8.2" height="5.2"/><rect x="875.3" y="951.5" width="9.3" height="5.2"/><rect x="871.5" y="959.5" width="13.1" height="5.2"/><rect x="875.7" y="967.5" width="8.9" height="5.2"/><rect x="882.3" y="975.5" width="2.3" height="5.2"/><rect x="866.0" y="983.5" width="18.6" height="5.2"/><rect x="876.6" y="991.4" width="8.0" height="5.2"/><rect x="881.4" y="999.4" width="3.2" height="5.2"/><rect x="860.5" y="1007.4" width="24.1" height="5.2"/><rect x="861.5" y="1015.4" width="23.1" height="5.2"/><rect x="868.2" y="1023.3" width="16.4" height="5.2"/><rect x="861.1" y="1031.3" width="23.5" height="5.2"/><rect x="881.9" y="1039.3" width="2.7" height="5.2"/><rect x="862.9" y="1047.3" width="21.7" height="5.2"/><rect x="877.9" y="1055.2" width="6.7" height="5.2"/><rect x="881.7" y="1063.2" width="2.9" height="5.2"/><rect x="880.7" y="1071.2" width="3.9" height="5.2"/><rect x="870.7" y="1079.2" width="13.9" height="5.2"/><rect x="873.8" y="1087.2" width="10.8" height="5.2"/><rect x="860.6" y="1095.1" width="24.0" height="5.2"/><rect x="865.6" y="1103.1" width="19.0" height="5.2"/><rect x="872.1" y="1111.1" width="12.5" height="5.2"/><rect x="872.4" y="1119.1" width="12.2" height="5.2"/><rect x="864.9" y="1127.0" width="19.7" height="5.2"/><rect x="862.8" y="1135.0" width="21.8" height="5.2"/><rect x="864.9" y="1143.0" width="19.7" height="5.2"/><rect x="863.8" y="1151.0" width="20.8" height="5.2"/><rect x="864.6" y="1158.9" width="20.0" height="5.2"/><rect x="870.2" y="1166.9" width="14.4" height="5.2"/><rect x="870.2" y="1174.9" width="14.4" height="5.2"/><rect x="868.1" y="1182.9" width="16.5" height="5.2"/><rect x="868.1" y="1190.9" width="16.5" height="5.2"/><rect x="865.6" y="1198.8" width="19.0" height="5.2"/><rect x="866.7" y="1206.8" width="17.9" height="5.2"/><rect x="865.9" y="1214.8" width="18.7" height="5.2"/><rect x="868.5" y="1222.8" width="16.1" height="5.2"/><rect x="868.1" y="1230.7" width="16.5" height="5.2"/><rect x="864.6" y="1238.7" width="20.0" height="5.2"/><rect x="866.2" y="1246.7" width="18.4" height="5.2"/><rect x="865.6" y="1254.7" width="19.0" height="5.2"/><rect x="853.0" y="1262.6" width="31.6" height="5.2"/><rect x="870.2" y="1270.6" width="14.4" height="5.2"/><rect x="869.5" y="1278.6" width="15.1" height="5.2"/><rect x="864.9" y="1286.6" width="19.7" height="5.2"/><rect x="864.9" y="1294.6" width="19.7" height="5.2"/><rect x="866.9" y="1302.5" width="17.7" height="5.2"/><rect x="864.9" y="1310.5" width="19.7" height="5.2"/><rect x="871.2" y="1318.5" width="13.4" height="5.2"/><rect x="860.2" y="1326.5" width="24.4" height="5.2"/><rect x="869.2" y="1334.4" width="15.4" height="5.2"/><rect x="868.5" y="1342.4" width="16.1" height="5.2"/><rect x="871.2" y="1350.4" width="13.4" height="5.2"/><rect x="871.0" y="1358.4" width="13.6" height="5.2"/><rect x="870.0" y="1366.3" width="14.6" height="5.2"/><rect x="866.7" y="1374.3" width="17.9" height="5.2"/><rect x="863.8" y="1382.3" width="20.8" height="5.2"/><rect x="863.8" y="1390.3" width="20.8" height="5.2"/><rect x="864.6" y="1398.3" width="20.0" height="5.2"/><rect x="865.5" y="1406.2" width="19.1" height="5.2"/><rect x="865.6" y="1414.2" width="19.0" height="5.2"/><rect x="865.5" y="1422.2" width="19.1" height="5.2"/><rect x="870.0" y="1430.2" width="14.6" height="5.2"/><rect x="870.0" y="1438.1" width="14.6" height="5.2"/><rect x="867.4" y="1446.1" width="17.2" height="5.2"/><rect x="870.0" y="1454.1" width="14.6" height="5.2"/><rect x="867.8" y="1462.1" width="16.8" height="5.2"/><rect x="858.5" y="1470.0" width="26.1" height="5.2"/><rect x="867.8" y="1478.0" width="16.8" height="5.2"/><rect x="864.1" y="1486.0" width="20.5" height="5.2"/><rect x="877.9" y="1494.0" width="6.7" height="5.2"/><rect x="859.8" y="1502.0" width="24.8" height="5.2"/><rect x="863.5" y="1509.9" width="21.1" height="5.2"/><rect x="863.5" y="1517.9" width="21.1" height="5.2"/><rect x="857.8" y="1525.9" width="26.8" height="5.2"/><rect x="864.6" y="1533.9" width="20.0" height="5.2"/><rect x="853.7" y="1541.8" width="30.9" height="5.2"/><rect x="884.6" y="1556.4" width="5.2" height="5.2"/><rect x="884.6" y="1564.4" width="3.7" height="5.2"/><rect x="884.6" y="1572.4" width="3.7" height="5.2"/><rect x="884.6" y="1580.4" width="3.7" height="5.2"/><rect x="884.6" y="1588.4" width="3.7" height="5.2"/><rect x="884.6" y="1596.3" width="3.7" height="5.2"/><rect x="884.6" y="1604.3" width="3.7" height="5.2"/><rect x="884.6" y="1612.3" width="8.2" height="5.2"/><rect x="884.6" y="1620.3" width="7.9" height="5.2"/><rect x="884.6" y="1628.3" width="3.7" height="5.2"/><rect x="884.6" y="1636.3" width="3.7" height="5.2"/><rect x="884.6" y="1644.3" width="3.7" height="5.2"/><rect x="884.6" y="1652.3" width="3.7" height="5.2"/><rect x="884.6" y="1660.3" width="4.2" height="5.2"/><rect x="884.6" y="1668.3" width="2.2" height="5.2"/><rect x="884.6" y="1676.2" width="7.9" height="5.2"/><rect x="884.6" y="1684.2" width="6.7" height="5.2"/><rect x="884.6" y="1692.2" width="21.0" height="5.2"/><rect x="884.6" y="1700.2" width="17.2" height="5.2"/><rect x="884.6" y="1708.2" width="8.2" height="5.2"/><rect x="884.6" y="1716.2" width="18.6" height="5.2"/><rect x="884.6" y="1724.2" width="10.4" height="5.2"/><rect x="884.6" y="1732.2" width="14.5" height="5.2"/><rect x="884.6" y="1740.2" width="18.9" height="5.2"/><rect x="884.6" y="1748.2" width="43.7" height="5.2"/><rect x="884.6" y="1756.1" width="48.8" height="5.2"/><rect x="884.6" y="1764.1" width="40.3" height="5.2"/></g>
<line x1="849.4" y1="1769.9" x2="937.1" y2="1769.9" stroke="#000" stroke-width="1.6" />
<line x1="856.5" y1="1769.9" x2="856.5" y2="1777.7" stroke="#000" stroke-width="1.6" />
<text x="856.5" y="1788.4" font-size="9.6" text-anchor="middle">−4</text>
<line x1="870.5" y1="1769.9" x2="870.5" y2="1777.7" stroke="#000" stroke-width="1.6" />
<text x="870.5" y="1788.4" font-size="9.6" text-anchor="middle">−2</text>
<line x1="884.4" y1="1769.9" x2="884.4" y2="1777.7" stroke="#000" stroke-width="1.6" />
<text x="884.4" y="1788.4" font-size="9.6" text-anchor="middle">0</text>
<line x1="898.3" y1="1769.9" x2="898.3" y2="1777.7" stroke="#000" stroke-width="1.6" />
<text x="898.3" y="1788.4" font-size="9.6" text-anchor="middle">2</text>
<line x1="912.3" y1="1769.9" x2="912.3" y2="1777.7" stroke="#000" stroke-width="1.6" />
<text x="912.3" y="1788.4" font-size="9.6" text-anchor="middle">4</text>
<line x1="926.2" y1="1769.9" x2="926.2" y2="1777.7" stroke="#000" stroke-width="1.6" />
<text x="926.2" y="1788.4" font-size="9.6" text-anchor="middle">6</text>
<text x="894.9" y="1810.5" font-size="16.8" text-anchor="middle">log2(FC)</text>
<g font-size="9.5"><text x="943.3" y="837.7" font-style="italic">C2CD4B</text><text x="943.3" y="845.7" font-style="italic">TNIP1</text><text x="943.3" y="853.6" font-style="italic">CTSB</text><text x="943.3" y="861.6" font-style="italic">NOD2</text><text x="943.3" y="869.6" font-style="italic">CEACAM1</text><text x="943.3" y="877.6" font-style="italic">PLEKHO2</text><text x="943.3" y="885.6" font-style="italic">IL4R</text><text x="943.3" y="893.5" font-style="italic">TRIM47</text><text x="943.3" y="901.5" font-style="italic">MVP</text><text x="943.3" y="909.5" font-style="italic">HSPA7</text><text x="943.3" y="917.5" font-style="italic">RN7SL3</text><text x="943.3" y="925.4" font-style="italic">SLC6A14</text><text x="943.3" y="933.4" font-style="italic">CHI3L1</text><text x="943.3" y="941.4" font-style="italic">SEL1L3</text><text x="943.3" y="949.4" font-style="italic">SLC5A1</text><text x="943.3" y="957.3" font-style="italic">CP</text><text x="943.3" y="965.3" font-style="italic">ATP10B</text><text x="943.3" y="973.3" font-style="italic">TUBB4BP8</text><text x="943.3" y="981.3" font-style="italic">MARS1</text><text x="943.3" y="989.3">ENSG00000262660</text><text x="943.3" y="997.2" font-style="italic">RPL10P9</text><text x="943.3" y="1005.2" font-style="italic">SDR39U1</text><text x="943.3" y="1013.2" font-style="italic">MTND1P23</text><text x="943.3" y="1021.2" font-style="italic">MTCO1P40</text><text x="943.3" y="1029.1" font-style="italic">IGHD</text><text x="943.3" y="1037.1" font-style="italic">IGHV4−61</text><text x="943.3" y="1045.1" font-style="italic">SLFN12</text><text x="943.3" y="1053.1" font-style="italic">IGKV1−39</text><text x="943.3" y="1061.0" font-style="italic">P2RY10</text><text x="943.3" y="1069.0" font-style="italic">NEK6</text><text x="943.3" y="1077.0" font-style="italic">FAM20A</text><text x="943.3" y="1085.0" font-style="italic">CXCL5</text><text x="943.3" y="1093.0" font-style="italic">GLDC</text><text x="943.3" y="1100.9" font-style="italic">TBC1D3F</text><text x="943.3" y="1108.9" font-style="italic">IGHG4</text><text x="943.3" y="1116.9" font-style="italic">CD79A</text><text x="943.3" y="1124.9" font-style="italic">IGLV1−51</text><text x="943.3" y="1132.8" font-style="italic">IGKV3−15</text><text x="943.3" y="1140.8" font-style="italic">IGHV5−51</text><text x="943.3" y="1148.8" font-style="italic">IGHV3−48</text><text x="943.3" y="1156.8" font-style="italic">IGHV1−24</text><text x="943.3" y="1164.7" font-style="italic">IGLV6−57</text><text x="943.3" y="1172.7" font-style="italic">IGHG2</text><text x="943.3" y="1180.7" font-style="italic">IGHM</text><text x="943.3" y="1188.7" font-style="italic">IGHG3</text><text x="943.3" y="1196.7" font-style="italic">IGLC2</text><text x="943.3" y="1204.6" font-style="italic">IGHG1</text><text x="943.3" y="1212.6" font-style="italic">IGKC</text><text x="943.3" y="1220.6" font-style="italic">JCHAIN</text><text x="943.3" y="1228.6" font-style="italic">IGHV3−23</text><text x="943.3" y="1236.5" font-style="italic">IGKV1D−39</text><text x="943.3" y="1244.5" font-style="italic">IGLV3−25</text><text x="943.3" y="1252.5" font-style="italic">IGHV4−59</text><text x="943.3" y="1260.5" font-style="italic">IGHV3−33</text><text x="943.3" y="1268.4" font-style="italic">IGKV2D−29</text><text x="943.3" y="1276.4" font-style="italic">IGLV3−21</text><text x="943.3" y="1284.4" font-style="italic">IGLC3</text><text x="943.3" y="1292.4" font-style="italic">IGLC1</text><text x="943.3" y="1300.4" font-style="italic">IGHA1</text><text x="943.3" y="1308.3" font-style="italic">IGKV3−20</text><text x="943.3" y="1316.3" font-style="italic">IGKV1−5</text><text x="943.3" y="1324.3" font-style="italic">IGKV4−1</text><text x="943.3" y="1332.3" font-style="italic">IGHA2</text><text x="943.3" y="1340.2" font-style="italic">IGLV2−11</text><text x="943.3" y="1348.2" font-style="italic">IGLV1−44</text><text x="943.3" y="1356.2" font-style="italic">IGKV2−30</text><text x="943.3" y="1364.2" font-style="italic">IGLV2−8</text><text x="943.3" y="1372.1" font-style="italic">IGKV2−24</text><text x="943.3" y="1380.1" font-style="italic">IGLV1−40</text><text x="943.3" y="1388.1" font-style="italic">IGKV1−33</text><text x="943.3" y="1396.1" font-style="italic">IGLL5</text><text x="943.3" y="1404.1" font-style="italic">IGHV3−7</text><text x="943.3" y="1412.0" font-style="italic">IGLV1−47</text><text x="943.3" y="1420.0" font-style="italic">IGHV1−18</text><text x="943.3" y="1428.0" font-style="italic">IGKV1−27</text><text x="943.3" y="1436.0" font-style="italic">IGLV3−19</text><text x="943.3" y="1443.9" font-style="italic">IGHV4−39</text><text x="943.3" y="1451.9" font-style="italic">IGKV1−12</text><text x="943.3" y="1459.9" font-style="italic">IGKV1−17</text><text x="943.3" y="1467.9" font-style="italic">IGKV1−6</text><text x="943.3" y="1475.8" font-style="italic">IGKV1−9</text><text x="943.3" y="1483.8" font-style="italic">IGHV1−69D</text><text x="943.3" y="1491.8" font-style="italic">IGHV3−21</text><text x="943.3" y="1499.8" font-style="italic">SLAMF7</text><text x="943.3" y="1507.8" font-style="italic">IGHV1−2</text><text x="943.3" y="1515.7" font-style="italic">IGHV3−11</text><text x="943.3" y="1523.7" font-style="italic">IGHV3−43</text><text x="943.3" y="1531.7" font-style="italic">IGLC7</text><text x="943.3" y="1539.7" font-style="italic">IGKV1D−13</text><text x="943.3" y="1547.6" font-style="italic">IGKV1−8</text><text x="943.3" y="1562.2" font-style="italic">MTND2P28</text><text x="943.3" y="1570.2" font-style="italic">MT−ATP6</text><text x="943.3" y="1578.2" font-style="italic">MT−ND4</text><text x="943.3" y="1586.2" font-style="italic">MT−ND3</text><text x="943.3" y="1594.2" font-style="italic">MT−ND1</text><text x="943.3" y="1602.1" font-style="italic">XIAPP2</text><text x="943.3" y="1610.1" font-style="italic">NPY6R</text><text x="943.3" y="1618.1">ENSG00000257429</text><text x="943.3" y="1626.1" font-style="italic">PTPRQ</text><text x="943.3" y="1634.1" font-style="italic">LRRC37A3</text><text x="943.3" y="1642.1">ENSG00000266918</text><text x="943.3" y="1650.1" font-style="italic">RNLS</text><text x="943.3" y="1658.1" font-style="italic">MTND1P36</text><text x="943.3" y="1666.1" font-style="italic">SUMO2P8</text><text x="943.3" y="1674.1" font-style="italic">PRPS1</text><text x="943.3" y="1682.0" font-style="italic">CA4</text><text x="943.3" y="1690.0" font-style="italic">MRO</text><text x="943.3" y="1698.0">ENSG00000265401</text><text x="943.3" y="1706.0" font-style="italic">CERS6−AS1</text><text x="943.3" y="1714.0" font-style="italic">LOXHD1</text><text x="943.3" y="1722.0">ENSG00000224407</text><text x="943.3" y="1730.0" font-style="italic">SYT4</text><text x="943.3" y="1738.0" font-style="italic">POTEF</text><text x="943.3" y="1746.0" font-style="italic">DUX4L26</text><text x="943.3" y="1754.0">ENSG00000274615</text><text x="943.3" y="1761.9" font-style="italic">CDH12P2</text><text x="943.3" y="1769.9" font-style="italic">SFT2D3</text></g>
<text x="23.4" y="594.6" font-size="19.1">Z-score log2(CPM)</text>
<defs><linearGradient id="gv" x1="0" y1="0" x2="0" y2="1"><stop offset="0.000" stop-color="#fde725"/><stop offset="0.050" stop-color="#dfe318"/><stop offset="0.100" stop-color="#bddf26"/><stop offset="0.150" stop-color="#9bd93c"/><stop offset="0.200" stop-color="#7ad151"/><stop offset="0.250" stop-color="#5ec962"/><stop offset="0.300" stop-color="#44bf70"/><stop offset="0.350" stop-color="#2fb47c"/><stop offset="0.400" stop-color="#22a884"/><stop offset="0.450" stop-color="#1e9c89"/><stop offset="0.500" stop-color="#21918c"/><stop offset="0.550" stop-color="#25848e"/><stop offset="0.600" stop-color="#2a788e"/><stop offset="0.650" stop-color="#2f6c8e"/><stop offset="0.700" stop-color="#355f8d"/><stop offset="0.750" stop-color="#3b528b"/><stop offset="0.800" stop-color="#414487"/><stop offset="0.850" stop-color="#463480"/><stop offset="0.900" stop-color="#482475"/><stop offset="0.950" stop-color="#471365"/><stop offset="1.000" stop-color="#440154"/></linearGradient></defs>
<rect x="22.9" y="604" width="20.3" height="99.5" fill="url(#gv)"/>
<line x1="37.8" y1="607.4" x2="43.2" y2="607.4" stroke="#fff" stroke-width="1.3" />
<text x="47.0" y="614.0" font-size="18.6">2</text>
<line x1="37.8" y1="630.8" x2="43.2" y2="630.8" stroke="#fff" stroke-width="1.3" />
<text x="47.0" y="637.4" font-size="18.6">1</text>
<line x1="37.8" y1="653.7" x2="43.2" y2="653.7" stroke="#fff" stroke-width="1.3" />
<text x="47.0" y="660.3" font-size="18.6">0</text>
<line x1="37.8" y1="676.6" x2="43.2" y2="676.6" stroke="#fff" stroke-width="1.3" />
<text x="47.0" y="683.2" font-size="18.6">−1</text>
<line x1="37.8" y1="699.7" x2="43.2" y2="699.7" stroke="#fff" stroke-width="1.3" />
<text x="47.0" y="706.3" font-size="18.6">−2</text>
<text x="22.4" y="747.3" font-size="19.1">Age at Salpingectomy</text>
<defs><linearGradient id="ga" x1="0" y1="0" x2="0" y2="1"><stop offset="0.000" stop-color="#000000"/><stop offset="0.045" stop-color="#000000"/><stop offset="0.955" stop-color="#c6c6c6"/><stop offset="1.000" stop-color="#c6c6c6"/></linearGradient></defs>
<rect x="20.9" y="755.4" width="20.3" height="100" fill="url(#ga)"/>
<line x1="35.8" y1="759.6" x2="41.2" y2="759.6" stroke="#fff" stroke-width="1.3" />
<text x="44.8" y="766.2" font-size="18.6">80</text>
<line x1="35.8" y1="789.9" x2="41.2" y2="789.9" stroke="#fff" stroke-width="1.3" />
<text x="44.8" y="796.5" font-size="18.6">60</text>
<line x1="35.8" y1="820.3" x2="41.2" y2="820.3" stroke="#fff" stroke-width="1.3" />
<text x="44.8" y="826.9" font-size="18.6">40</text>
<line x1="35.8" y1="850.6" x2="41.2" y2="850.6" stroke="#fff" stroke-width="1.3" />
<text x="44.8" y="857.2" font-size="18.6">20</text>
<text x="22.5" y="885.6" font-size="18.9">Stromal Fraction</text>
<defs><linearGradient id="gs" x1="0" y1="0" x2="0" y2="1"><stop offset="0.000" stop-color="#fee838"/><stop offset="0.050" stop-color="#f3db42"/><stop offset="0.100" stop-color="#e5cf52"/><stop offset="0.150" stop-color="#d6c35d"/><stop offset="0.200" stop-color="#c8b866"/><stop offset="0.250" stop-color="#bcae6c"/><stop offset="0.300" stop-color="#aea371"/><stop offset="0.350" stop-color="#a19975"/><stop offset="0.400" stop-color="#948e77"/><stop offset="0.450" stop-color="#888578"/><stop offset="0.500" stop-color="#7d7c78"/><stop offset="0.550" stop-color="#727274"/><stop offset="0.600" stop-color="#666970"/><stop offset="0.650" stop-color="#5b606e"/><stop offset="0.700" stop-color="#4f576c"/><stop offset="0.750" stop-color="#434e6c"/><stop offset="0.800" stop-color="#35456c"/><stop offset="0.850" stop-color="#243c6e"/><stop offset="0.900" stop-color="#083370"/><stop offset="0.950" stop-color="#002b62"/><stop offset="1.000" stop-color="#00224e"/></linearGradient></defs>
<rect x="20.9" y="894" width="20.3" height="100.2" fill="url(#gs)"/>
<line x1="35.8" y1="897.5" x2="41.2" y2="897.5" stroke="#fff" stroke-width="1.3" />
<text x="44.8" y="904.1" font-size="18.6">1</text>
<line x1="35.8" y1="943.7" x2="41.2" y2="943.7" stroke="#fff" stroke-width="1.3" />
<text x="44.8" y="950.3" font-size="18.6">0.5</text>
<line x1="35.8" y1="990.0" x2="41.2" y2="990.0" stroke="#fff" stroke-width="1.3" />
<text x="44.8" y="996.6" font-size="18.6">0</text>
<text x="22.5" y="1023.8" font-size="19.0">Reproductive Status</text>
<rect x="22.50" y="1034.30" width="16.90" height="16.20" fill="#29B6E9" />
<text x="45.6" y="1049.7" font-size="19.0" fill="#29B6E9" font-weight="bold">Premenopause</text>
<rect x="22.50" y="1052.90" width="16.90" height="16.20" fill="#F7801F" />
<text x="45.6" y="1068.3" font-size="19.0" fill="#F7801F" font-weight="bold">Postmenopause</text>
<rect x="22.50" y="1071.60" width="16.90" height="16.20" fill="#555555" />
<text x="45.6" y="1087.0" font-size="19.0" fill="#555555" font-weight="bold">Postpartum</text>
<text x="22.5" y="1119.2" font-size="19.0">BRCA Status</text>
<rect x="22.50" y="1130.20" width="16.90" height="16.20" fill="#7FF4F1" />
<text x="45.6" y="1145.6" font-size="19.0" fill="#7FF4F1" font-weight="bold">BRCA1m</text>
<rect x="22.50" y="1148.90" width="16.90" height="16.20" fill="#3AA7A8" />
<text x="45.6" y="1164.3" font-size="19.0" fill="#3AA7A8" font-weight="bold">BRCA2m</text>
<rect x="22.50" y="1167.40" width="16.90" height="16.20" fill="#000000" />
<text x="45.6" y="1182.8" font-size="19.0" fill="#000000" font-weight="bold">Non−BRCAm</text>
<text x="22.5" y="1219.7" font-size="19.0">Surgical Indication</text>
<rect x="22.50" y="1231.00" width="16.90" height="16.20" fill="#BC80BD" />
<text x="45.6" y="1246.4" font-size="19.0" fill="#BC80BD" font-weight="bold">Adnexal Mass</text>
<rect x="22.50" y="1249.70" width="16.90" height="16.20" fill="#8DD3C7" />
<text x="45.6" y="1265.1" font-size="19.0" fill="#8DD3C7" font-weight="bold">Benign Uterine</text>
<rect x="22.50" y="1268.40" width="16.90" height="16.20" fill="#BEBADA" />
<text x="45.6" y="1283.8" font-size="19.0" fill="#BEBADA" font-weight="bold">Cervical Dysplasia</text>
<rect x="22.50" y="1287.00" width="16.90" height="16.20" fill="#FCCDE5" />
<text x="45.6" y="1302.4" font-size="19.0" fill="#FCCDE5" font-weight="bold">Cesarean Section</text>
<rect x="22.50" y="1305.60" width="16.90" height="16.20" fill="#80B1D3" />
<text x="45.6" y="1321.0" font-size="19.0" fill="#80B1D3" font-weight="bold">Endometriosis</text>
<rect x="22.50" y="1324.30" width="16.90" height="16.20" fill="#FFED6F" />
<text x="45.6" y="1339.7" font-size="19.0" fill="#FFED6F" font-weight="bold">Gender Affirmation</text>
<rect x="22.50" y="1343.00" width="16.90" height="16.20" fill="#FB8072" />
<text x="45.6" y="1358.4" font-size="19.0" fill="#FB8072" font-weight="bold">Menorrhagia</text>
<rect x="22.50" y="1361.60" width="16.90" height="16.20" fill="#CA8B99" />
<text x="45.6" y="1377.0" font-size="19.0" fill="#CA8B99" font-weight="bold">Ovarian Cyst</text>
<rect x="22.50" y="1380.30" width="16.90" height="16.20" fill="#FDB462" />
<text x="45.6" y="1395.7" font-size="19.0" fill="#FDB462" font-weight="bold">Ovarian Serous</text>
<text x="45.6" y="1418.0" font-size="19.0" fill="#FDB462" font-weight="bold">Cystadenoma</text>
<rect x="22.50" y="1424.90" width="16.90" height="16.20" fill="#D9D9D9" />
<text x="45.6" y="1440.3" font-size="19.0" fill="#D9D9D9" font-weight="bold">Pelvic mass</text>
<rect x="22.50" y="1443.60" width="16.90" height="16.20" fill="#00FF00" />
<text x="45.6" y="1459.0" font-size="19.0" fill="#00FF00" font-weight="bold">Risk Reduction</text>
<rect x="22.50" y="1462.20" width="16.90" height="16.20" fill="#11D64F" />
<text x="45.6" y="1477.6" font-size="19.0" fill="#11D64F" font-weight="bold">Tubal Sterilization</text>
<text x="1152.5" y="674.0" font-size="64.5" font-weight="bold">f</text>
<text x="1385.4" y="712.9" font-size="22.9" fill="#8C8C8C" text-anchor="middle" font-weight="bold">Non−BRCAm</text>
<text x="1645.5" y="712.8" font-size="22.9" fill="#8C8C8C" text-anchor="middle" font-weight="bold">BRCAm</text>
<text x="1812.6" y="701.3" font-size="20.2" fill="#8C8C8C" text-anchor="middle" font-weight="bold">Post-</text>
<text x="1812.6" y="722.3" font-size="20.2" fill="#8C8C8C" text-anchor="middle" font-weight="bold">partum</text>
<line x1="1254.0" y1="732.2" x2="1511.5" y2="732.2" stroke="#9A9A9A" stroke-width="2.4" />
<line x1="1517.0" y1="732.2" x2="1773.3" y2="732.2" stroke="#9A9A9A" stroke-width="2.4" />
<line x1="1779.1" y1="732.2" x2="1847.8" y2="732.2" stroke="#9A9A9A" stroke-width="2.4" />
<path fill="none" stroke="#000" stroke-width="1.5" d="M1257.1 804.2V798.6H1263.4V804.2M1269.7 804.2V791.1H1276.0V804.2M1272.9 791.1V788.6H1282.3V804.2M1260.3 798.6V774.5H1277.6V788.6M1288.6 804.2V791.3H1294.9V804.2M1291.7 791.3V784.8H1301.2V804.2M1307.5 804.2V782.9H1313.8V804.2M1296.5 784.8V780.4H1310.6V782.9M1320.0 804.2V783.2H1326.3V804.2M1332.6 804.2V786.8H1338.9V804.2M1323.2 783.2V780.7H1335.8V786.8M1329.5 780.7V778.2H1345.2V804.2M1303.5 780.4V773.7H1337.3V778.2M1351.5 804.2V779.2H1357.8V804.2M1320.4 773.7V767.9H1354.6V779.2M1268.9 774.5V762.2H1337.5V767.9M1370.4 804.2V794.9H1376.7V804.2M1373.5 794.9V792.4H1383.0V804.2M1364.1 804.2V770.4H1378.2V792.4M1389.2 804.2V794.1H1395.5V804.2M1401.8 804.2V790.3H1408.1V804.2M1405.0 790.3V787.8H1414.4V804.2M1392.4 794.1V776.2H1409.7V787.8M1371.2 770.4V765.5H1401.0V776.2M1420.7 804.2V790.9H1427.0V804.2M1423.8 790.9V787.3H1433.3V804.2M1439.6 804.2V793.9H1445.9V804.2M1442.7 793.9V791.4H1452.1V804.2M1447.4 791.4V788.9H1458.4V804.2M1428.6 787.3V776.5H1452.9V788.9M1464.7 804.2V792.7H1471.0V804.2M1467.9 792.7V790.2H1477.3V804.2M1472.6 790.2V787.7H1483.6V804.2M1489.9 804.2V794.5H1496.2V804.2M1493.0 794.5V791.2H1502.5V804.2M1497.7 791.2V788.7H1508.8V804.2M1478.1 787.7V779.2H1503.3V788.7M1440.7 776.5V773.7H1490.7V779.2M1386.1 765.5V755.6H1465.7V773.7M1303.2 762.2V748.8H1425.9V755.6"/>
<path fill="none" stroke="#000" stroke-width="1.5" d="M1526.7 804.2V780.0H1533.0V804.2M1520.4 804.2V775.7H1529.8V780.0M1539.3 804.2V787.8H1545.6V804.2M1542.4 787.8V785.3H1551.9V804.2M1558.2 804.2V786.2H1564.5V804.2M1561.4 786.2V783.7H1570.8V804.2M1566.1 783.7V781.2H1577.1V804.2M1547.2 785.3V773.9H1571.6V781.2M1525.1 775.7V766.9H1559.4V773.9M1583.4 804.2V794.3H1589.8V804.2M1596.1 804.2V786.1H1602.4V804.2M1599.2 786.1V783.6H1608.7V804.2M1586.6 794.3V776.6H1604.0V783.6M1615.0 804.2V791.5H1621.3V804.2M1618.1 791.5V789.0H1627.6V804.2M1633.9 804.2V790.3H1640.2V804.2M1646.5 804.2V792.5H1652.8V804.2M1637.1 790.3V787.8H1649.7V792.5M1622.9 789.0V779.2H1643.4V787.8M1595.3 776.6V766.9H1633.1V779.2M1542.2 766.9V751.0H1614.2V766.9"/>
<path fill="none" stroke="#000" stroke-width="1.5" d="M1664.2 804.2V774.8H1670.5V804.2M1676.8 804.2V785.6H1683.0V804.2M1679.9 785.6V783.1H1689.3V804.2M1695.6 804.2V788.2H1701.8V804.2M1698.7 788.2V785.7H1708.1V804.2M1703.4 785.7V783.2H1714.4V804.2M1684.6 783.1V771.3H1708.9V783.2M1667.4 774.8V766.3H1696.7V771.3M1720.6 804.2V793.5H1726.9V804.2M1733.2 804.2V793.8H1739.4V804.2M1723.8 793.5V786.8H1736.3V793.8M1745.7 804.2V791.6H1752.0V804.2M1748.8 791.6V787.8H1758.2V804.2M1753.5 787.8V785.3H1764.5V804.2M1730.0 786.8V779.0H1759.0V785.3M1744.5 779.0V766.9H1770.8V804.2M1682.1 766.3V747.5H1757.6V766.9"/>
<path fill="none" stroke="#000" stroke-width="1.5" d="M1783.1 804.2V782.7H1789.4V804.2M1795.6 804.2V796.1H1801.9V804.2M1808.1 804.2V791.7H1814.3V804.2M1798.7 796.1V782.7H1811.2V791.7M1820.6 804.2V792.0H1826.8V804.2M1833.1 804.2V794.6H1839.3V804.2M1836.2 794.6V792.1H1845.6V804.2M1823.7 792.0V779.2H1840.9V792.1M1805.0 782.7V775.7H1832.3V779.2M1786.2 782.7V769.2H1818.6V775.7"/>
<g shape-rendering="crispEdges"><rect x="1254.00" y="805.30" width="6.31" height="27.10" fill="#888888"/><rect x="1260.29" y="805.30" width="6.31" height="27.10" fill="#6a6a6a"/><rect x="1266.58" y="805.30" width="6.31" height="27.10" fill="#b0b0b0"/><rect x="1272.87" y="805.30" width="6.31" height="27.10" fill="#3a3a3a"/><rect x="1279.16" y="805.30" width="6.31" height="27.10" fill="#8a8a8a"/><rect x="1285.45" y="805.30" width="6.31" height="27.10" fill="#444444"/><rect x="1291.74" y="805.30" width="12.60" height="27.10" fill="#5a5a5a"/><rect x="1304.32" y="805.30" width="6.31" height="27.10" fill="#666666"/><rect x="1310.61" y="805.30" width="6.31" height="27.10" fill="#111111"/><rect x="1316.90" y="805.30" width="6.31" height="27.10" fill="#5e5e5e"/><rect x="1323.19" y="805.30" width="6.31" height="27.10" fill="#5a5a5a"/><rect x="1329.48" y="805.30" width="6.31" height="27.10" fill="#222222"/><rect x="1335.77" y="805.30" width="6.31" height="27.10" fill="#5a5a5a"/><rect x="1342.06" y="805.30" width="6.31" height="27.10" fill="#222222"/><rect x="1348.35" y="805.30" width="6.31" height="27.10" fill="#2a2a2a"/><rect x="1354.64" y="805.30" width="6.31" height="27.10" fill="#4e4e4e"/><rect x="1360.93" y="805.30" width="6.31" height="27.10" fill="#666666"/><rect x="1367.22" y="805.30" width="6.31" height="27.10" fill="#888888"/><rect x="1373.51" y="805.30" width="6.31" height="27.10" fill="#777777"/><rect x="1379.80" y="805.30" width="6.31" height="27.10" fill="#bcbcbc"/><rect x="1386.10" y="805.30" width="6.31" height="27.10" fill="#333333"/><rect x="1392.39" y="805.30" width="6.31" height="27.10" fill="#000000"/><rect x="1398.68" y="805.30" width="6.31" height="27.10" fill="#b5b5b5"/><rect x="1404.97" y="805.30" width="6.31" height="27.10" fill="#7a7a7a"/><rect x="1411.26" y="805.30" width="6.31" height="27.10" fill="#6e6e6e"/><rect x="1417.55" y="805.30" width="6.31" height="27.10" fill="#2e2e2e"/><rect x="1423.84" y="805.30" width="12.60" height="27.10" fill="#555555"/><rect x="1436.42" y="805.30" width="6.31" height="27.10" fill="#6a6a6a"/><rect x="1442.71" y="805.30" width="6.31" height="27.10" fill="#555555"/><rect x="1449.00" y="805.30" width="6.31" height="27.10" fill="#000000"/><rect x="1455.29" y="805.30" width="6.31" height="27.10" fill="#2e2e2e"/><rect x="1461.58" y="805.30" width="6.31" height="27.10" fill="#555555"/><rect x="1467.87" y="805.30" width="6.31" height="27.10" fill="#111111"/><rect x="1474.16" y="805.30" width="6.31" height="27.10" fill="#555555"/><rect x="1480.45" y="805.30" width="6.31" height="27.10" fill="#777777"/><rect x="1486.74" y="805.30" width="6.31" height="27.10" fill="#111111"/><rect x="1493.03" y="805.30" width="6.31" height="27.10" fill="#222222"/><rect x="1499.32" y="805.30" width="6.31" height="27.10" fill="#1a1a1a"/><rect x="1505.61" y="805.30" width="6.31" height="27.10" fill="#999999"/></g>
<g shape-rendering="crispEdges"><rect x="1254.00" y="835.20" width="6.31" height="27.30" fill="#b0a46a"/><rect x="1260.29" y="835.20" width="6.31" height="27.30" fill="#b8aa6a"/><rect x="1266.58" y="835.20" width="12.60" height="27.30" fill="#a09670"/><rect x="1279.16" y="835.20" width="6.31" height="27.30" fill="#8a8474"/><rect x="1285.45" y="835.20" width="6.31" height="27.30" fill="#c4b06a"/><rect x="1291.74" y="835.20" width="12.60" height="27.30" fill="#9e9470"/><rect x="1304.32" y="835.20" width="6.31" height="27.30" fill="#6a6a72"/><rect x="1310.61" y="835.20" width="6.31" height="27.30" fill="#aa9e6e"/><rect x="1316.90" y="835.20" width="12.60" height="27.30" fill="#9e9470"/><rect x="1329.48" y="835.20" width="6.31" height="27.30" fill="#d0bc66"/><rect x="1335.77" y="835.20" width="6.31" height="27.30" fill="#4e5470"/><rect x="1342.06" y="835.20" width="6.31" height="27.30" fill="#a09670"/><rect x="1348.35" y="835.20" width="6.31" height="27.30" fill="#c4b06a"/><rect x="1354.64" y="835.20" width="6.31" height="27.30" fill="#8a8474"/><rect x="1360.93" y="835.20" width="12.60" height="27.30" fill="#969078"/><rect x="1373.51" y="835.20" width="6.31" height="27.30" fill="#808070"/><rect x="1379.80" y="835.20" width="6.31" height="27.30" fill="#3e4a6c"/><rect x="1386.10" y="835.20" width="6.31" height="27.30" fill="#b0a46c"/><rect x="1392.39" y="835.20" width="6.31" height="27.30" fill="#7a7874"/><rect x="1398.68" y="835.20" width="12.60" height="27.30" fill="#4c5270"/><rect x="1411.26" y="835.20" width="6.31" height="27.30" fill="#747474"/><rect x="1417.55" y="835.20" width="6.31" height="27.30" fill="#848074"/><rect x="1423.84" y="835.20" width="6.31" height="27.30" fill="#a09670"/><rect x="1430.13" y="835.20" width="6.31" height="27.30" fill="#9a9072"/><rect x="1436.42" y="835.20" width="12.60" height="27.30" fill="#565a70"/><rect x="1449.00" y="835.20" width="6.31" height="27.30" fill="#e0c858"/><rect x="1455.29" y="835.20" width="6.31" height="27.30" fill="#c4b06a"/><rect x="1461.58" y="835.20" width="6.31" height="27.30" fill="#bcaa6a"/><rect x="1467.87" y="835.20" width="6.31" height="27.30" fill="#7e7c76"/><rect x="1474.16" y="835.20" width="6.31" height="27.30" fill="#6c6c74"/><rect x="1480.45" y="835.20" width="6.31" height="27.30" fill="#62646e"/><rect x="1486.74" y="835.20" width="6.31" height="27.30" fill="#8a8474"/><rect x="1493.03" y="835.20" width="6.31" height="27.30" fill="#c4b06a"/><rect x="1499.32" y="835.20" width="6.31" height="27.30" fill="#6a6a74"/><rect x="1505.61" y="835.20" width="6.31" height="27.30" fill="#c4b06a"/></g>
<g shape-rendering="crispEdges"><rect x="1254.00" y="864.30" width="18.89" height="27.30" fill="#29B6E9"/><rect x="1272.87" y="864.30" width="6.31" height="27.30" fill="#F7801F"/><rect x="1279.16" y="864.30" width="31.47" height="27.30" fill="#29B6E9"/><rect x="1310.61" y="864.30" width="6.31" height="27.30" fill="#F7801F"/><rect x="1316.90" y="864.30" width="12.60" height="27.30" fill="#29B6E9"/><rect x="1329.48" y="864.30" width="25.18" height="27.30" fill="#F7801F"/><rect x="1354.64" y="864.30" width="31.47" height="27.30" fill="#29B6E9"/><rect x="1386.10" y="864.30" width="12.60" height="27.30" fill="#F7801F"/><rect x="1398.68" y="864.30" width="18.89" height="27.30" fill="#29B6E9"/><rect x="1417.55" y="864.30" width="6.31" height="27.30" fill="#F7801F"/><rect x="1423.84" y="864.30" width="25.18" height="27.30" fill="#29B6E9"/><rect x="1449.00" y="864.30" width="12.60" height="27.30" fill="#F7801F"/><rect x="1461.58" y="864.30" width="6.31" height="27.30" fill="#29B6E9"/><rect x="1467.87" y="864.30" width="6.31" height="27.30" fill="#F7801F"/><rect x="1474.16" y="864.30" width="12.60" height="27.30" fill="#29B6E9"/><rect x="1486.74" y="864.30" width="18.89" height="27.30" fill="#F7801F"/><rect x="1505.61" y="864.30" width="6.31" height="27.30" fill="#29B6E9"/></g>
<g shape-rendering="crispEdges"><rect x="1254.00" y="894.00" width="257.92" height="27.50" fill="#000000"/></g>
<g shape-rendering="crispEdges"><rect x="1254.00" y="922.20" width="12.60" height="27.50" fill="#8DD3C7"/><rect x="1266.58" y="922.20" width="6.31" height="27.50" fill="#D9D9D9"/><rect x="1272.87" y="922.20" width="6.31" height="27.50" fill="#FDB462"/><rect x="1279.16" y="922.20" width="6.31" height="27.50" fill="#8DD3C7"/><rect x="1285.45" y="922.20" width="6.31" height="27.50" fill="#BEBADA"/><rect x="1291.74" y="922.20" width="12.60" height="27.50" fill="#8DD3C7"/><rect x="1304.32" y="922.20" width="6.31" height="27.50" fill="#FB8072"/><rect x="1310.61" y="922.20" width="6.31" height="27.50" fill="#CA8B99"/><rect x="1316.90" y="922.20" width="6.31" height="27.50" fill="#80B1D3"/><rect x="1323.19" y="922.20" width="6.31" height="27.50" fill="#11D64F"/><rect x="1329.48" y="922.20" width="12.60" height="27.50" fill="#CA8B99"/><rect x="1342.06" y="922.20" width="6.31" height="27.50" fill="#8DD3C7"/><rect x="1348.35" y="922.20" width="6.31" height="27.50" fill="#BEBADA"/><rect x="1354.64" y="922.20" width="12.60" height="27.50" fill="#8DD3C7"/><rect x="1367.22" y="922.20" width="6.31" height="27.50" fill="#FDB462"/><rect x="1373.51" y="922.20" width="6.31" height="27.50" fill="#8DD3C7"/><rect x="1379.80" y="922.20" width="6.31" height="27.50" fill="#FFED6F"/><rect x="1386.10" y="922.20" width="6.31" height="27.50" fill="#8DD3C7"/><rect x="1392.39" y="922.20" width="6.31" height="27.50" fill="#CA8B99"/><rect x="1398.68" y="922.20" width="6.31" height="27.50" fill="#8DD3C7"/><rect x="1404.97" y="922.20" width="6.31" height="27.50" fill="#CA8B99"/><rect x="1411.26" y="922.20" width="6.31" height="27.50" fill="#FB8072"/><rect x="1417.55" y="922.20" width="12.60" height="27.50" fill="#8DD3C7"/><rect x="1430.13" y="922.20" width="6.31" height="27.50" fill="#FB8072"/><rect x="1436.42" y="922.20" width="6.31" height="27.50" fill="#11D64F"/><rect x="1442.71" y="922.20" width="25.18" height="27.50" fill="#8DD3C7"/><rect x="1467.87" y="922.20" width="6.31" height="27.50" fill="#BC80BD"/><rect x="1474.16" y="922.20" width="18.89" height="27.50" fill="#8DD3C7"/><rect x="1493.03" y="922.20" width="6.31" height="27.50" fill="#CA8B99"/><rect x="1499.32" y="922.20" width="6.31" height="27.50" fill="#8DD3C7"/><rect x="1505.61" y="922.20" width="6.31" height="27.50" fill="#FFED6F"/></g>
<g shape-rendering="crispEdges"><rect x="1517.20" y="805.30" width="6.33" height="27.10" fill="#444444"/><rect x="1523.51" y="805.30" width="6.33" height="27.10" fill="#6e6e6e"/><rect x="1529.82" y="805.30" width="6.33" height="27.10" fill="#707070"/><rect x="1536.13" y="805.30" width="6.33" height="27.10" fill="#6e6e6e"/><rect x="1542.44" y="805.30" width="6.33" height="27.10" fill="#4a4a4a"/><rect x="1548.75" y="805.30" width="6.33" height="27.10" fill="#1e1e1e"/><rect x="1555.05" y="805.30" width="6.33" height="27.10" fill="#6e6e6e"/><rect x="1561.36" y="805.30" width="6.33" height="27.10" fill="#777777"/><rect x="1567.67" y="805.30" width="6.33" height="27.10" fill="#7a7a7a"/><rect x="1573.98" y="805.30" width="6.33" height="27.10" fill="#777777"/><rect x="1580.29" y="805.30" width="6.33" height="27.10" fill="#6e6e6e"/><rect x="1586.60" y="805.30" width="6.33" height="27.10" fill="#222222"/><rect x="1592.91" y="805.30" width="6.33" height="27.10" fill="#727272"/><rect x="1599.22" y="805.30" width="6.33" height="27.10" fill="#7e7e7e"/><rect x="1605.53" y="805.30" width="6.33" height="27.10" fill="#777777"/><rect x="1611.84" y="805.30" width="6.33" height="27.10" fill="#888888"/><rect x="1618.15" y="805.30" width="6.33" height="27.10" fill="#7a7a7a"/><rect x="1624.45" y="805.30" width="6.33" height="27.10" fill="#777777"/><rect x="1630.76" y="805.30" width="6.33" height="27.10" fill="#666666"/><rect x="1637.07" y="805.30" width="6.33" height="27.10" fill="#8a8a8a"/><rect x="1643.38" y="805.30" width="6.33" height="27.10" fill="#727272"/><rect x="1649.69" y="805.30" width="6.33" height="27.10" fill="#777777"/></g>
<g shape-rendering="crispEdges"><rect x="1517.20" y="835.20" width="6.33" height="27.30" fill="#a0966e"/><rect x="1523.51" y="835.20" width="6.33" height="27.30" fill="#6a6a72"/><rect x="1529.82" y="835.20" width="6.33" height="27.30" fill="#85806e"/><rect x="1536.13" y="835.20" width="6.33" height="27.30" fill="#c4b06a"/><rect x="1542.44" y="835.20" width="6.33" height="27.30" fill="#a09670"/><rect x="1548.75" y="835.20" width="12.64" height="27.30" fill="#a89a6e"/><rect x="1561.36" y="835.20" width="6.33" height="27.30" fill="#777472"/><rect x="1567.67" y="835.20" width="6.33" height="27.30" fill="#525870"/><rect x="1573.98" y="835.20" width="12.64" height="27.30" fill="#7a7872"/><rect x="1586.60" y="835.20" width="6.33" height="27.30" fill="#a89a6e"/><rect x="1592.91" y="835.20" width="6.33" height="27.30" fill="#5a5c70"/><rect x="1599.22" y="835.20" width="6.33" height="27.30" fill="#8a8474"/><rect x="1605.53" y="835.20" width="6.33" height="27.30" fill="#747274"/><rect x="1611.84" y="835.20" width="6.33" height="27.30" fill="#7e7a74"/><rect x="1618.15" y="835.20" width="6.33" height="27.30" fill="#6e6e72"/><rect x="1624.45" y="835.20" width="12.64" height="27.30" fill="#6a6a72"/><rect x="1637.07" y="835.20" width="6.33" height="27.30" fill="#525870"/><rect x="1643.38" y="835.20" width="6.33" height="27.30" fill="#908a76"/><rect x="1649.69" y="835.20" width="6.33" height="27.30" fill="#747274"/></g>
<g shape-rendering="crispEdges"><rect x="1517.20" y="864.30" width="6.33" height="27.30" fill="#F7801F"/><rect x="1523.51" y="864.30" width="25.26" height="27.30" fill="#29B6E9"/><rect x="1548.75" y="864.30" width="6.33" height="27.30" fill="#F7801F"/><rect x="1555.05" y="864.30" width="31.57" height="27.30" fill="#29B6E9"/><rect x="1586.60" y="864.30" width="6.33" height="27.30" fill="#F7801F"/><rect x="1592.91" y="864.30" width="63.11" height="27.30" fill="#29B6E9"/></g>
<g shape-rendering="crispEdges"><rect x="1517.20" y="894.00" width="138.82" height="27.50" fill="#7FF4F1"/></g>
<g shape-rendering="crispEdges"><rect x="1517.20" y="922.20" width="138.82" height="27.50" fill="#00FF00"/></g>
<g shape-rendering="crispEdges"><rect x="1661.10" y="805.30" width="6.29" height="27.10" fill="#444444"/><rect x="1667.37" y="805.30" width="6.29" height="27.10" fill="#3e3e3e"/><rect x="1673.63" y="805.30" width="6.29" height="27.10" fill="#727272"/><rect x="1679.90" y="805.30" width="6.29" height="27.10" fill="#161616"/><rect x="1686.17" y="805.30" width="6.29" height="27.10" fill="#666666"/><rect x="1692.43" y="805.30" width="6.29" height="27.10" fill="#2e2e2e"/><rect x="1698.70" y="805.30" width="6.29" height="27.10" fill="#7a7a7a"/><rect x="1704.97" y="805.30" width="6.29" height="27.10" fill="#484848"/><rect x="1711.23" y="805.30" width="12.55" height="27.10" fill="#777777"/><rect x="1723.77" y="805.30" width="6.29" height="27.10" fill="#666666"/><rect x="1730.03" y="805.30" width="6.29" height="27.10" fill="#777777"/><rect x="1736.30" y="805.30" width="6.29" height="27.10" fill="#6e6e6e"/><rect x="1742.57" y="805.30" width="6.29" height="27.10" fill="#444444"/><rect x="1748.83" y="805.30" width="6.29" height="27.10" fill="#808080"/><rect x="1755.10" y="805.30" width="6.29" height="27.10" fill="#858585"/><rect x="1761.37" y="805.30" width="12.55" height="27.10" fill="#7a7a7a"/></g>
<g shape-rendering="crispEdges"><rect x="1661.10" y="835.20" width="6.29" height="27.30" fill="#9a9274"/><rect x="1667.37" y="835.20" width="6.29" height="27.30" fill="#a89a6e"/><rect x="1673.63" y="835.20" width="6.29" height="27.30" fill="#6a6a72"/><rect x="1679.90" y="835.20" width="6.29" height="27.30" fill="#ccb86a"/><rect x="1686.17" y="835.20" width="6.29" height="27.30" fill="#8a8474"/><rect x="1692.43" y="835.20" width="6.29" height="27.30" fill="#a89a70"/><rect x="1698.70" y="835.20" width="6.29" height="27.30" fill="#807c74"/><rect x="1704.97" y="835.20" width="6.29" height="27.30" fill="#a09670"/><rect x="1711.23" y="835.20" width="6.29" height="27.30" fill="#777472"/><rect x="1717.50" y="835.20" width="6.29" height="27.30" fill="#6a6a72"/><rect x="1723.77" y="835.20" width="6.29" height="27.30" fill="#525870"/><rect x="1730.03" y="835.20" width="6.29" height="27.30" fill="#747274"/><rect x="1736.30" y="835.20" width="6.29" height="27.30" fill="#5a5c70"/><rect x="1742.57" y="835.20" width="6.29" height="27.30" fill="#747274"/><rect x="1748.83" y="835.20" width="12.55" height="27.30" fill="#4a5270"/><rect x="1761.37" y="835.20" width="6.29" height="27.30" fill="#4e5470"/><rect x="1767.63" y="835.20" width="6.29" height="27.30" fill="#a09670"/></g>
<g shape-rendering="crispEdges"><rect x="1661.10" y="864.30" width="6.29" height="27.30" fill="#29B6E9"/><rect x="1667.37" y="864.30" width="6.29" height="27.30" fill="#F7801F"/><rect x="1673.63" y="864.30" width="6.29" height="27.30" fill="#29B6E9"/><rect x="1679.90" y="864.30" width="6.29" height="27.30" fill="#F7801F"/><rect x="1686.17" y="864.30" width="6.29" height="27.30" fill="#29B6E9"/><rect x="1692.43" y="864.30" width="6.29" height="27.30" fill="#F7801F"/><rect x="1698.70" y="864.30" width="6.29" height="27.30" fill="#29B6E9"/><rect x="1704.97" y="864.30" width="6.29" height="27.30" fill="#F7801F"/><rect x="1711.23" y="864.30" width="62.69" height="27.30" fill="#29B6E9"/></g>
<g shape-rendering="crispEdges"><rect x="1661.10" y="894.00" width="112.82" height="27.50" fill="#3AA7A8"/></g>
<g shape-rendering="crispEdges"><rect x="1661.10" y="922.20" width="112.82" height="27.50" fill="#00FF00"/></g>
<g shape-rendering="crispEdges"><rect x="1780.00" y="805.30" width="12.51" height="27.10" fill="#8a8a8a"/><rect x="1792.49" y="805.30" width="6.27" height="27.10" fill="#707070"/><rect x="1798.74" y="805.30" width="6.27" height="27.10" fill="#8a8a8a"/><rect x="1804.98" y="805.30" width="12.51" height="27.10" fill="#7e7e7e"/><rect x="1817.47" y="805.30" width="6.27" height="27.10" fill="#777777"/><rect x="1823.72" y="805.30" width="6.27" height="27.10" fill="#888888"/><rect x="1829.96" y="805.30" width="6.27" height="27.10" fill="#7e7e7e"/><rect x="1836.21" y="805.30" width="6.27" height="27.10" fill="#999999"/><rect x="1842.45" y="805.30" width="6.27" height="27.10" fill="#8a8a8a"/></g>
<g shape-rendering="crispEdges"><rect x="1780.00" y="835.20" width="6.27" height="27.30" fill="#8a8474"/><rect x="1786.25" y="835.20" width="6.27" height="27.30" fill="#a09670"/><rect x="1792.49" y="835.20" width="6.27" height="27.30" fill="#6a6a72"/><rect x="1798.74" y="835.20" width="12.51" height="27.30" fill="#a09670"/><rect x="1811.23" y="835.20" width="6.27" height="27.30" fill="#6e6e72"/><rect x="1817.47" y="835.20" width="6.27" height="27.30" fill="#8a8474"/><rect x="1823.72" y="835.20" width="12.51" height="27.30" fill="#747274"/><rect x="1836.21" y="835.20" width="6.27" height="27.30" fill="#6a6a72"/><rect x="1842.45" y="835.20" width="6.27" height="27.30" fill="#7a7872"/></g>
<g shape-rendering="crispEdges"><rect x="1780.00" y="864.30" width="68.72" height="27.30" fill="#555555"/></g>
<g shape-rendering="crispEdges"><rect x="1780.00" y="894.00" width="68.72" height="27.50" fill="#000000"/></g>
<g shape-rendering="crispEdges"><rect x="1780.00" y="922.20" width="68.72" height="27.50" fill="#FCCDE5"/></g>
<text x="1854.8" y="828.4" font-size="19.3">Age at time of Surgery</text>
<text x="1854.8" y="858.5" font-size="19.3">Stromal Fraction</text>
<text x="1854.8" y="887.6" font-size="19.3">Reproductive Status</text>
<text x="1854.8" y="917.4" font-size="19.3">BRCA Status</text>
<text x="1854.8" y="945.6" font-size="19.3">Surgical Indication</text>
<g transform="translate(1254.00 955.10) scale(6.2902 14.3160)" shape-rendering="crispEdges"><path fill="#02020d" d="M26 0h1v1h-1z"/><path fill="#07061c" d="M17 0h1v1h-1zM24 1h1v1h-1zM16 2h1v1h-1zM32 4h1v1h-1zM39 4h1v1h-1zM22 5h1v1h-1zM32 6h1v1h-1zM25 12h1v1h-1zM25 15h1v1h-1zM32 16h1v1h-1zM32 17h1v1h-1z"/><path fill="#0d0a29" d="M16 1h1v1h-1zM25 1h1v1h-1zM7 4h1v1h-1zM15 4h1v1h-1zM26 5h1v1h-1zM31 5h1v1h-1zM5 6h1v1h-1zM19 6h1v1h-1zM24 6h1v1h-1zM40 7h1v1h-1zM5 8h1v1h-1zM15 8h1v1h-1zM36 10h1v1h-1zM24 12h1v1h-1zM26 14h1v1h-1zM26 15h1v1h-1z"/><path fill="#150e38" d="M26 1h1v1h-1zM15 2h1v1h-1zM17 5h1v1h-1zM8 6h1v1h-1zM7 7h1v1h-1zM39 7h1v1h-1zM9 8h1v1h-1zM40 10h1v1h-1zM26 12h1v1h-1zM25 14h1v1h-1zM40 20h1v1h-1z"/><path fill="#1d1147" d="M31 7h1v1h-1z"/><path fill="#3d0f71" d="M34 17h1v1h-1z"/><path fill="#491078" d="M23 0h1v1h-1zM13 1h1v1h-1zM32 1h1v1h-1zM32 5h1v1h-1zM4 6h1v1h-1zM13 7h1v1h-1zM15 7h1v1h-1zM10 8h1v1h-1zM4 11h1v1h-1zM23 17h1v1h-1zM24 18h1v1h-1zM26 18h1v1h-1zM23 19h1v1h-1zM39 19h1v1h-1zM26 20h1v1h-1zM33 20h1v1h-1zM35 20h1v1h-1zM39 21h1v1h-1zM19 22h1v1h-1zM25 22h1v1h-1zM24 23h1v1h-1zM31 23h1v1h-1zM4 24h1v1h-1zM17 24h1v1h-1zM21 24h1v1h-1zM23 24h1v1h-1z"/><path fill="#52137c" d="M3 0h1v1h-1zM24 0h1v1h-1zM6 4h1v1h-1zM13 4h1v1h-1zM21 4h1v1h-1zM8 5h1v1h-1zM15 5h1v1h-1zM1 6h1v1h-1zM7 6h1v1h-1zM1 7h1v1h-1zM6 7h1v1h-1zM8 7h1v1h-1zM38 7h1v1h-1zM1 8h2v1h-2zM7 8h1v1h-1zM32 8h1v1h-1zM13 9h1v1h-1zM37 9h1v1h-1zM39 9h2v1h-2zM6 10h1v1h-1zM33 10h2v1h-2zM20 11h1v1h-1zM37 11h1v1h-1zM26 13h1v1h-1zM34 13h1v1h-1zM22 14h1v1h-1zM34 14h1v1h-1zM21 15h2v1h-2zM17 16h1v1h-1zM39 16h1v1h-1zM39 17h1v1h-1zM39 18h1v1h-1zM34 20h1v1h-1zM17 22h1v1h-1zM20 22h1v1h-1zM24 22h1v1h-1zM4 23h1v1h-1zM20 23h1v1h-1zM26 23h1v1h-1z"/><path fill="#5d177f" d="M2 0h1v1h-1zM22 0h1v1h-1zM7 1h1v1h-1zM23 1h1v1h-1zM30 2h1v1h-1zM14 4h1v1h-1zM12 5h1v1h-1zM14 5h1v1h-1zM21 5h1v1h-1zM20 6h2v1h-2zM36 7h1v1h-1zM8 8h1v1h-1zM16 8h1v1h-1zM27 8h1v1h-1zM6 9h1v1h-1zM13 10h1v1h-1zM15 10h1v1h-1zM32 11h3v1h-3zM38 11h1v1h-1zM40 11h1v1h-1zM19 12h2v1h-2zM23 12h1v1h-1zM23 13h1v1h-1zM25 13h1v1h-1zM19 14h1v1h-1zM24 14h1v1h-1zM19 15h1v1h-1zM24 15h1v1h-1zM24 17h1v1h-1zM35 17h2v1h-2zM22 18h2v1h-2zM32 18h1v1h-1zM40 18h1v1h-1zM22 19h1v1h-1zM24 19h1v1h-1zM32 19h1v1h-1zM40 19h1v1h-1zM36 20h1v1h-1zM17 21h1v1h-1zM4 22h1v1h-1zM23 22h1v1h-1zM31 22h1v1h-1zM23 23h1v1h-1zM24 24h1v1h-1z"/><path fill="#671b80" d="M34 2h1v1h-1zM31 4h1v1h-1zM7 5h1v1h-1zM22 6h1v1h-1zM12 7h1v1h-1zM14 7h1v1h-1zM37 7h1v1h-1zM22 8h1v1h-1zM15 9h2v1h-2zM35 9h1v1h-1zM9 10h1v1h-1zM39 11h1v1h-1zM21 12h1v1h-1zM24 13h1v1h-1zM21 14h1v1h-1zM23 15h1v1h-1zM34 15h1v1h-1zM24 16h1v1h-1zM34 16h1v1h-1zM25 17h1v1h-1zM26 19h1v1h-1zM17 23h1v1h-1zM19 23h1v1h-1zM25 23h1v1h-1zM40 23h1v1h-1zM40 24h1v1h-1z"/><path fill="#721f81" d="M15 0h1v1h-1zM35 2h1v1h-1zM2 3h1v1h-1zM13 3h1v1h-1zM8 4h1v1h-1zM10 7h1v1h-1zM32 9h1v1h-1zM29 10h1v1h-1zM7 11h1v1h-1zM22 11h2v1h-2zM17 12h1v1h-1zM28 12h1v1h-1zM18 14h1v1h-1zM23 14h1v1h-1zM38 14h1v1h-1zM17 15h1v1h-1zM23 16h1v1h-1zM40 16h1v1h-1zM33 17h1v1h-1zM40 17h1v1h-1zM29 20h1v1h-1zM23 21h1v1h-1zM25 21h1v1h-1zM21 22h1v1h-1zM26 22h1v1h-1zM29 22h1v1h-1z"/><path fill="#7b2382" d="M19 0h2v1h-2zM25 0h1v1h-1zM30 0h1v1h-1zM5 1h1v1h-1zM15 1h1v1h-1zM20 1h1v1h-1zM22 1h1v1h-1zM40 1h1v1h-1zM4 2h1v1h-1zM22 2h1v1h-1zM1 3h1v1h-1zM12 3h1v1h-1zM14 3h1v1h-1zM16 3h1v1h-1zM20 3h1v1h-1zM23 3h1v1h-1zM27 3h1v1h-1zM30 3h1v1h-1zM3 4h1v1h-1zM12 4h1v1h-1zM25 4h2v1h-2zM5 5h1v1h-1zM13 5h1v1h-1zM0 6h1v1h-1zM10 6h1v1h-1zM0 7h1v1h-1zM32 7h2v1h-2zM24 8h1v1h-1zM7 9h1v1h-1zM11 9h1v1h-1zM14 9h1v1h-1zM33 9h1v1h-1zM38 9h1v1h-1zM0 10h1v1h-1zM4 10h1v1h-1zM7 10h1v1h-1zM11 10h1v1h-1zM35 10h1v1h-1zM37 10h1v1h-1zM6 11h1v1h-1zM15 11h1v1h-1zM24 11h1v1h-1zM29 11h1v1h-1zM18 12h1v1h-1zM34 12h1v1h-1zM17 13h3v1h-3zM20 14h1v1h-1zM28 14h1v1h-1zM32 14h1v1h-1zM18 15h1v1h-1zM28 15h1v1h-1zM37 15h1v1h-1zM26 16h1v1h-1zM28 16h2v1h-2zM35 16h1v1h-1zM22 17h1v1h-1zM27 17h3v1h-3zM25 19h1v1h-1zM28 19h1v1h-1zM25 20h1v1h-1zM39 20h1v1h-1zM14 21h1v1h-1zM19 21h2v1h-2zM26 21h1v1h-1zM34 21h1v1h-1zM36 21h2v1h-2zM30 22h1v1h-1zM39 22h1v1h-1zM1 23h1v1h-1zM28 23h2v1h-2zM39 23h1v1h-1zM1 24h1v1h-1zM20 24h1v1h-1zM26 24h1v1h-1zM39 24h1v1h-1z"/><path fill="#862781" d="M21 0h1v1h-1zM12 1h1v1h-1zM30 1h1v1h-1zM35 1h1v1h-1zM37 1h1v1h-1zM39 1h1v1h-1zM3 2h1v1h-1zM14 2h1v1h-1zM18 2h3v1h-3zM27 2h1v1h-1zM33 2h1v1h-1zM36 2h1v1h-1zM10 3h2v1h-2zM15 3h1v1h-1zM17 3h1v1h-1zM19 3h1v1h-1zM21 3h1v1h-1zM29 3h1v1h-1zM32 3h3v1h-3zM36 3h1v1h-1zM38 3h1v1h-1zM37 4h1v1h-1zM40 4h1v1h-1zM2 5h1v1h-1zM9 5h1v1h-1zM24 5h1v1h-1zM28 5h1v1h-1zM33 5h1v1h-1zM2 6h1v1h-1zM11 6h1v1h-1zM25 6h1v1h-1zM35 6h1v1h-1zM40 6h1v1h-1zM3 7h1v1h-1zM9 7h1v1h-1zM22 7h1v1h-1zM28 7h1v1h-1zM34 7h1v1h-1zM13 8h2v1h-2zM29 8h1v1h-1zM39 8h2v1h-2zM1 9h1v1h-1zM25 9h2v1h-2zM36 9h1v1h-1zM3 10h1v1h-1zM10 10h1v1h-1zM14 10h1v1h-1zM18 10h1v1h-1zM32 10h1v1h-1zM9 11h1v1h-1zM12 11h2v1h-2zM18 11h1v1h-1zM29 12h2v1h-2zM20 13h1v1h-1zM3 14h1v1h-1zM17 14h1v1h-1zM3 15h1v1h-1zM20 15h1v1h-1zM32 15h1v1h-1zM16 16h1v1h-1zM21 16h1v1h-1zM25 16h1v1h-1zM31 16h1v1h-1zM33 16h1v1h-1zM38 16h1v1h-1zM18 17h1v1h-1zM26 17h1v1h-1zM15 18h1v1h-1zM28 18h1v1h-1zM16 19h1v1h-1zM21 19h1v1h-1zM18 20h3v1h-3zM24 20h1v1h-1zM31 20h1v1h-1zM37 20h1v1h-1zM12 21h2v1h-2zM18 21h1v1h-1zM21 21h1v1h-1zM31 21h1v1h-1zM35 21h1v1h-1zM38 21h1v1h-1zM40 21h1v1h-1zM2 22h1v1h-1zM18 22h1v1h-1zM22 22h1v1h-1zM28 22h1v1h-1zM34 22h1v1h-1zM40 22h1v1h-1zM0 23h1v1h-1zM21 23h1v1h-1zM34 23h1v1h-1zM2 24h1v1h-1zM16 24h1v1h-1zM22 24h1v1h-1zM30 24h2v1h-2zM33 24h1v1h-1zM35 24h1v1h-1zM37 24h2v1h-2z"/><path fill="#912b81" d="M4 0h1v1h-1zM8 0h1v1h-1zM36 1h1v1h-1zM24 2h1v1h-1zM26 2h1v1h-1zM3 3h1v1h-1zM18 3h1v1h-1zM28 3h1v1h-1zM39 3h2v1h-2zM4 4h1v1h-1zM9 4h1v1h-1zM16 4h1v1h-1zM1 5h1v1h-1zM4 5h1v1h-1zM6 5h1v1h-1zM11 5h1v1h-1zM23 5h1v1h-1zM37 5h2v1h-2zM6 6h1v1h-1zM18 6h1v1h-1zM28 6h1v1h-1zM6 8h1v1h-1zM12 8h1v1h-1zM26 8h1v1h-1zM38 8h1v1h-1zM5 9h1v1h-1zM16 10h1v1h-1zM31 10h1v1h-1zM38 10h2v1h-2zM1 11h1v1h-1zM14 11h1v1h-1zM16 11h1v1h-1zM30 11h2v1h-2zM35 12h1v1h-1zM28 13h1v1h-1zM32 13h2v1h-2zM40 13h1v1h-1zM33 14h1v1h-1zM33 15h1v1h-1zM38 15h1v1h-1zM20 16h1v1h-1zM37 16h1v1h-1zM16 17h1v1h-1zM31 17h1v1h-1zM37 17h2v1h-2zM25 18h1v1h-1zM15 19h1v1h-1zM15 20h3v1h-3zM23 20h1v1h-1zM24 21h1v1h-1zM32 21h2v1h-2zM2 23h1v1h-1zM18 23h1v1h-1zM22 23h1v1h-1zM30 23h1v1h-1zM19 24h1v1h-1zM25 24h1v1h-1zM29 24h1v1h-1zM32 24h1v1h-1zM36 24h1v1h-1z"/><path fill="#9b2e7f" d="M4 3h1v1h-1zM22 3h1v1h-1zM31 3h1v1h-1zM35 4h1v1h-1zM14 6h1v1h-1zM0 8h1v1h-1zM1 10h1v1h-1zM20 10h1v1h-1zM21 11h1v1h-1zM36 11h1v1h-1zM16 18h1v1h-1zM18 18h1v1h-1zM21 18h1v1h-1zM38 20h1v1h-1z"/><path fill="#a6317d" d="M5 4h1v1h-1zM11 4h1v1h-1zM29 5h1v1h-1zM23 8h1v1h-1zM28 8h1v1h-1zM27 9h1v1h-1zM2 12h1v1h-1zM30 13h1v1h-1zM35 13h1v1h-1zM38 13h1v1h-1zM4 15h1v1h-1zM30 15h1v1h-1zM30 17h1v1h-1zM27 18h1v1h-1zM18 19h1v1h-1zM33 19h1v1h-1zM3 20h1v1h-1zM3 21h1v1h-1zM29 21h1v1h-1zM38 23h1v1h-1zM8 24h1v1h-1zM11 24h1v1h-1z"/><path fill="#b0357b" d="M12 0h1v1h-1zM2 1h1v1h-1zM6 1h1v1h-1zM38 1h1v1h-1zM9 2h1v1h-1zM29 2h1v1h-1zM38 2h1v1h-1zM0 3h1v1h-1zM24 4h1v1h-1zM0 5h1v1h-1zM3 6h1v1h-1zM4 7h2v1h-2zM25 7h1v1h-1zM27 7h1v1h-1zM36 8h1v1h-1zM2 10h1v1h-1zM17 11h1v1h-1zM27 11h1v1h-1zM3 12h1v1h-1zM39 12h1v1h-1zM21 13h1v1h-1zM39 13h1v1h-1zM30 14h1v1h-1zM36 14h1v1h-1zM39 14h1v1h-1zM13 15h1v1h-1zM35 15h1v1h-1zM39 15h2v1h-2zM18 16h1v1h-1zM13 17h1v1h-1zM19 17h1v1h-1zM19 19h1v1h-1zM29 19h2v1h-2zM35 19h1v1h-1zM4 21h1v1h-1zM0 22h1v1h-1zM3 22h1v1h-1zM27 22h1v1h-1zM35 22h1v1h-1zM38 22h1v1h-1zM32 23h1v1h-1zM3 24h1v1h-1zM27 24h2v1h-2z"/><path fill="#bc3978" d="M0 0h2v1h-2zM7 0h1v1h-1zM18 0h1v1h-1zM35 0h1v1h-1zM19 1h1v1h-1zM21 1h1v1h-1zM27 1h1v1h-1zM1 2h2v1h-2zM6 2h1v1h-1zM11 2h1v1h-1zM39 2h1v1h-1zM7 3h1v1h-1zM35 3h1v1h-1zM37 3h1v1h-1zM30 4h1v1h-1zM36 4h1v1h-1zM38 4h1v1h-1zM10 5h1v1h-1zM16 5h1v1h-1zM27 5h1v1h-1zM36 5h1v1h-1zM39 5h1v1h-1zM12 6h1v1h-1zM29 6h1v1h-1zM34 6h1v1h-1zM18 7h1v1h-1zM21 7h1v1h-1zM30 7h1v1h-1zM3 8h2v1h-2zM37 8h1v1h-1zM8 10h1v1h-1zM30 10h1v1h-1zM3 11h1v1h-1zM11 11h1v1h-1zM11 12h1v1h-1zM32 12h1v1h-1zM29 13h1v1h-1zM9 14h1v1h-1zM13 14h1v1h-1zM37 14h1v1h-1zM40 14h1v1h-1zM14 15h1v1h-1zM19 16h1v1h-1zM30 16h1v1h-1zM17 17h1v1h-1zM4 18h1v1h-1zM13 18h1v1h-1zM20 18h1v1h-1zM33 18h1v1h-1zM36 18h1v1h-1zM38 18h1v1h-1zM4 19h1v1h-1zM27 19h1v1h-1zM31 19h1v1h-1zM34 19h1v1h-1zM10 20h1v1h-1zM13 20h1v1h-1zM27 20h1v1h-1zM30 20h1v1h-1zM32 20h1v1h-1zM22 21h1v1h-1zM32 22h2v1h-2zM3 23h1v1h-1zM27 23h1v1h-1zM33 23h1v1h-1zM9 24h1v1h-1z"/><path fill="#c53c74" d="M13 0h1v1h-1zM29 0h1v1h-1zM38 0h1v1h-1zM8 1h1v1h-1zM25 2h1v1h-1zM5 3h1v1h-1zM25 5h1v1h-1zM15 6h2v1h-2zM27 6h1v1h-1zM30 6h1v1h-1zM35 7h1v1h-1zM11 8h1v1h-1zM30 8h1v1h-1zM33 8h1v1h-1zM9 9h1v1h-1zM12 9h1v1h-1zM20 9h2v1h-2zM29 9h1v1h-1zM5 10h1v1h-1zM19 10h1v1h-1zM23 10h1v1h-1zM27 10h1v1h-1zM8 11h1v1h-1zM4 12h1v1h-1zM22 12h1v1h-1zM37 13h1v1h-1zM4 14h1v1h-1zM35 14h1v1h-1zM36 15h1v1h-1zM22 16h1v1h-1zM27 16h1v1h-1zM20 17h1v1h-1zM19 18h1v1h-1zM29 18h3v1h-3zM34 18h1v1h-1zM13 19h1v1h-1zM20 19h1v1h-1zM38 19h1v1h-1zM22 20h1v1h-1zM16 21h1v1h-1zM30 21h1v1h-1zM1 22h1v1h-1zM0 24h1v1h-1z"/><path fill="#d0416f" d="M24 3h1v1h-1zM35 11h1v1h-1zM31 12h1v1h-1zM36 19h1v1h-1zM15 21h1v1h-1zM35 23h1v1h-1z"/><path fill="#e34e65" d="M39 0h1v1h-1zM22 4h1v1h-1zM7 13h1v1h-1zM27 13h1v1h-1zM2 14h1v1h-1zM8 18h1v1h-1zM37 18h1v1h-1zM37 19h1v1h-1z"/><path fill="#eb5760" d="M31 0h1v1h-1zM4 1h1v1h-1zM9 1h1v1h-1zM11 1h1v1h-1zM18 1h1v1h-1zM31 1h1v1h-1zM7 2h2v1h-2zM23 2h1v1h-1zM10 4h1v1h-1zM19 4h1v1h-1zM28 4h1v1h-1zM34 4h1v1h-1zM20 8h1v1h-1zM10 9h1v1h-1zM34 9h1v1h-1zM25 11h1v1h-1zM6 12h1v1h-1zM10 12h1v1h-1zM37 12h1v1h-1zM2 13h2v1h-2zM13 13h1v1h-1zM36 13h1v1h-1zM11 14h2v1h-2zM8 15h1v1h-1zM4 17h2v1h-2zM12 17h1v1h-1zM3 18h1v1h-1zM3 19h1v1h-1zM5 20h1v1h-1zM12 20h1v1h-1zM16 22h1v1h-1zM36 22h1v1h-1zM9 23h1v1h-1zM34 24h1v1h-1z"/><path fill="#f1605d" d="M5 0h1v1h-1zM37 0h1v1h-1zM10 1h1v1h-1zM0 2h1v1h-1zM12 2h1v1h-1zM28 2h1v1h-1zM31 2h1v1h-1zM40 2h1v1h-1zM26 3h1v1h-1zM17 4h1v1h-1zM33 4h1v1h-1zM34 5h2v1h-2zM23 6h1v1h-1zM39 6h1v1h-1zM11 7h1v1h-1zM16 7h1v1h-1zM19 7h1v1h-1zM35 8h1v1h-1zM8 9h1v1h-1zM18 9h2v1h-2zM28 9h1v1h-1zM30 9h1v1h-1zM21 10h1v1h-1zM7 12h2v1h-2zM27 12h1v1h-1zM36 12h1v1h-1zM38 12h1v1h-1zM4 13h1v1h-1zM14 13h1v1h-1zM14 14h1v1h-1zM29 14h1v1h-1zM2 15h1v1h-1zM29 15h1v1h-1zM31 15h1v1h-1zM36 16h1v1h-1zM6 17h1v1h-1zM14 17h1v1h-1zM21 17h1v1h-1zM2 18h1v1h-1zM11 18h1v1h-1zM35 18h1v1h-1zM8 19h1v1h-1zM10 19h1v1h-1zM11 20h1v1h-1zM21 20h1v1h-1zM28 20h1v1h-1zM11 21h1v1h-1zM28 21h1v1h-1zM11 22h1v1h-1zM11 23h1v1h-1zM36 23h1v1h-1zM7 24h1v1h-1z"/><path fill="#f66c5c" d="M6 0h1v1h-1zM14 0h1v1h-1zM16 0h1v1h-1zM28 0h1v1h-1zM34 0h1v1h-1zM3 1h1v1h-1zM5 2h1v1h-1zM10 2h1v1h-1zM37 2h1v1h-1zM2 4h1v1h-1zM20 4h1v1h-1zM27 4h1v1h-1zM18 5h2v1h-2zM30 5h1v1h-1zM36 6h2v1h-2zM2 7h1v1h-1zM20 7h1v1h-1zM24 7h1v1h-1zM21 8h1v1h-1zM31 8h1v1h-1zM34 8h1v1h-1zM3 9h1v1h-1zM22 9h1v1h-1zM31 9h1v1h-1zM22 10h1v1h-1zM25 10h1v1h-1zM28 10h1v1h-1zM19 11h1v1h-1zM28 11h1v1h-1zM33 12h1v1h-1zM8 13h1v1h-1zM10 13h3v1h-3zM7 14h2v1h-2zM10 15h3v1h-3zM4 16h1v1h-1zM8 16h1v1h-1zM13 16h1v1h-1zM3 17h1v1h-1zM8 17h1v1h-1zM15 17h1v1h-1zM10 18h1v1h-1zM2 19h1v1h-1zM11 19h1v1h-1zM17 19h1v1h-1zM6 20h2v1h-2zM14 20h1v1h-1zM6 21h1v1h-1zM10 21h1v1h-1z"/><path fill="#f9785d" d="M10 0h1v1h-1zM28 1h2v1h-2zM34 1h1v1h-1zM25 3h1v1h-1zM1 4h1v1h-1zM38 6h1v1h-1zM29 7h1v1h-1zM0 12h1v1h-1zM9 12h1v1h-1zM12 12h1v1h-1zM22 13h1v1h-1zM9 15h1v1h-1zM4 20h1v1h-1zM7 21h1v1h-1zM16 23h1v1h-1z"/><path fill="#fb8560" d="M31 13h1v1h-1z"/><path fill="#fc9065" d="M12 10h1v1h-1zM12 18h1v1h-1z"/><path fill="#fe9d6c" d="M40 0h1v1h-1zM20 5h1v1h-1zM19 8h1v1h-1zM16 12h1v1h-1zM7 17h1v1h-1zM14 18h1v1h-1zM8 20h1v1h-1zM27 21h1v1h-1zM12 24h1v1h-1z"/><path fill="#feaa74" d="M9 0h1v1h-1zM27 0h1v1h-1zM6 3h1v1h-1zM29 4h1v1h-1zM26 6h1v1h-1zM23 7h1v1h-1zM10 14h1v1h-1zM7 15h1v1h-1zM14 16h1v1h-1zM9 17h1v1h-1zM0 19h1v1h-1zM14 19h1v1h-1zM9 21h1v1h-1zM9 22h2v1h-2zM14 22h1v1h-1zM10 23h1v1h-1zM14 23h1v1h-1zM5 24h2v1h-2zM13 24h2v1h-2z"/><path fill="#feb67c" d="M36 0h1v1h-1zM0 1h1v1h-1zM14 1h1v1h-1zM13 2h1v1h-1zM21 2h1v1h-1zM3 5h1v1h-1zM13 6h1v1h-1zM31 6h1v1h-1zM18 8h1v1h-1zM0 9h1v1h-1zM2 9h1v1h-1zM23 9h1v1h-1zM26 10h1v1h-1zM5 11h1v1h-1zM5 12h1v1h-1zM40 12h1v1h-1zM9 13h1v1h-1zM27 14h1v1h-1zM27 15h1v1h-1zM7 16h1v1h-1zM10 16h2v1h-2zM10 17h2v1h-2zM0 18h1v1h-1zM9 18h1v1h-1zM17 18h1v1h-1zM9 19h1v1h-1zM12 19h1v1h-1zM8 21h1v1h-1zM8 22h1v1h-1zM12 22h1v1h-1zM37 22h1v1h-1zM8 23h1v1h-1zM12 23h1v1h-1zM10 24h1v1h-1z"/><path fill="#fec287" d="M11 0h1v1h-1zM23 4h1v1h-1zM33 6h1v1h-1zM0 11h1v1h-1zM2 11h1v1h-1zM31 14h1v1h-1zM9 16h1v1h-1zM12 16h1v1h-1zM15 16h1v1h-1zM37 23h1v1h-1zM15 24h1v1h-1z"/><path fill="#fecd90" d="M1 12h1v1h-1zM18 24h1v1h-1z"/><path fill="#fdda9c" d="M7 19h1v1h-1z"/><path fill="#fde5a7" d="M17 2h1v1h-1zM17 7h1v1h-1zM10 11h1v1h-1zM0 15h1v1h-1zM15 15h1v1h-1zM0 16h1v1h-1zM6 18h2v1h-2zM6 19h1v1h-1zM2 20h1v1h-1zM13 22h1v1h-1zM15 22h1v1h-1zM7 23h1v1h-1zM13 23h1v1h-1z"/><path fill="#fcf2b4" d="M32 0h1v1h-1zM17 1h1v1h-1zM33 1h1v1h-1zM32 2h1v1h-1zM9 3h1v1h-1zM40 5h1v1h-1zM17 6h1v1h-1zM26 7h1v1h-1zM25 8h1v1h-1zM17 9h1v1h-1zM24 10h1v1h-1zM14 12h2v1h-2zM0 13h1v1h-1zM6 14h1v1h-1zM1 15h1v1h-1zM5 15h2v1h-2zM1 16h1v1h-1zM5 16h1v1h-1zM1 18h1v1h-1zM5 18h1v1h-1zM0 21h2v1h-2z"/><path fill="#fcfdbf" d="M33 0h1v1h-1zM1 1h1v1h-1zM8 3h1v1h-1zM0 4h1v1h-1zM18 4h1v1h-1zM9 6h1v1h-1zM17 8h1v1h-1zM4 9h1v1h-1zM24 9h1v1h-1zM17 10h1v1h-1zM26 11h1v1h-1zM13 12h1v1h-1zM1 13h1v1h-1zM5 13h2v1h-2zM15 13h2v1h-2zM0 14h2v1h-2zM5 14h1v1h-1zM15 14h2v1h-2zM16 15h1v1h-1zM2 16h2v1h-2zM6 16h1v1h-1zM0 17h3v1h-3zM1 19h1v1h-1zM5 19h1v1h-1zM0 20h2v1h-2zM9 20h1v1h-1zM2 21h1v1h-1zM5 21h1v1h-1zM5 22h3v1h-3zM5 23h2v1h-2zM15 23h1v1h-1z"/></g>
<g transform="translate(1517.20 955.10) scale(6.3091 14.3160)" shape-rendering="crispEdges"><path fill="#02020d" d="M15 0h1v1h-1zM15 1h1v1h-1zM20 2h1v1h-1zM4 5h1v1h-1zM5 8h1v1h-1zM19 18h1v1h-1z"/><path fill="#07061c" d="M20 1h1v1h-1zM2 2h1v1h-1zM5 4h1v1h-1zM20 6h1v1h-1zM0 7h1v1h-1zM3 9h1v1h-1zM5 10h1v1h-1zM21 13h1v1h-1zM19 20h1v1h-1z"/><path fill="#0d0a29" d="M14 1h1v1h-1zM11 7h1v1h-1zM13 12h1v1h-1zM19 17h2v1h-2zM19 19h1v1h-1zM18 20h1v1h-1z"/><path fill="#150e38" d="M11 0h2v1h-2zM12 1h1v1h-1zM13 2h1v1h-1zM5 5h1v1h-1zM12 12h1v1h-1zM14 12h1v1h-1zM18 16h1v1h-1z"/><path fill="#491078" d="M12 5h1v1h-1zM15 5h1v1h-1zM9 10h1v1h-1zM21 11h1v1h-1zM7 13h1v1h-1zM21 14h1v1h-1zM21 17h1v1h-1zM12 18h1v1h-1zM15 18h1v1h-1zM21 18h1v1h-1zM21 19h1v1h-1zM21 20h1v1h-1zM17 21h1v1h-1zM19 22h1v1h-1z"/><path fill="#52137c" d="M13 0h2v1h-2zM1 2h1v1h-1zM4 4h1v1h-1zM2 5h2v1h-2zM8 5h1v1h-1zM11 5h1v1h-1zM7 6h1v1h-1zM11 8h1v1h-1zM15 8h1v1h-1zM3 10h1v1h-1zM20 10h1v1h-1zM19 11h1v1h-1zM11 13h1v1h-1zM19 13h1v1h-1zM19 14h1v1h-1zM12 15h1v1h-1zM14 15h1v1h-1zM12 16h1v1h-1zM15 16h1v1h-1zM17 16h1v1h-1zM14 18h1v1h-1zM12 19h1v1h-1zM15 19h1v1h-1zM17 19h2v1h-2zM17 20h1v1h-1zM20 20h1v1h-1zM11 21h1v1h-1zM12 22h1v1h-1zM12 23h1v1h-1zM15 23h1v1h-1zM19 23h1v1h-1zM12 24h1v1h-1zM15 24h1v1h-1zM21 24h1v1h-1z"/><path fill="#5d177f" d="M7 0h1v1h-1zM4 1h1v1h-1zM21 1h1v1h-1zM0 2h1v1h-1zM14 2h1v1h-1zM0 4h1v1h-1zM0 5h1v1h-1zM14 5h1v1h-1zM3 7h1v1h-1zM10 7h1v1h-1zM3 8h1v1h-1zM19 9h1v1h-1zM18 10h2v1h-2zM3 11h2v1h-2zM1 12h1v1h-1zM15 12h1v1h-1zM21 12h1v1h-1zM17 13h2v1h-2zM11 14h1v1h-1zM19 15h1v1h-1zM21 15h1v1h-1zM19 16h2v1h-2zM18 17h1v1h-1zM18 18h1v1h-1zM14 19h1v1h-1zM5 21h1v1h-1zM19 21h3v1h-3zM15 22h1v1h-1z"/><path fill="#671b80" d="M0 8h1v1h-1zM2 8h1v1h-1zM13 13h3v1h-3zM2 14h1v1h-1zM7 14h1v1h-1zM12 14h2v1h-2zM15 14h1v1h-1zM11 15h1v1h-1zM13 15h1v1h-1zM15 15h1v1h-1zM21 16h1v1h-1zM17 17h1v1h-1zM20 18h1v1h-1zM20 19h1v1h-1zM9 23h1v1h-1zM4 24h1v1h-1z"/><path fill="#721f81" d="M19 1h1v1h-1zM8 2h1v1h-1zM5 3h1v1h-1zM12 3h1v1h-1zM15 11h1v1h-1zM18 11h1v1h-1zM17 12h2v1h-2zM10 15h1v1h-1zM2 18h1v1h-1zM17 18h1v1h-1zM11 20h1v1h-1zM15 21h1v1h-1zM20 23h1v1h-1zM2 24h1v1h-1z"/><path fill="#7b2382" d="M9 0h1v1h-1zM21 0h1v1h-1zM2 1h1v1h-1zM5 1h1v1h-1zM13 1h1v1h-1zM9 2h2v1h-2zM13 3h1v1h-1zM14 4h1v1h-1zM17 4h1v1h-1zM1 5h1v1h-1zM1 6h1v1h-1zM18 6h1v1h-1zM0 9h3v1h-3zM5 9h1v1h-1zM16 9h1v1h-1zM18 9h1v1h-1zM20 9h1v1h-1zM8 10h1v1h-1zM17 10h1v1h-1zM5 11h1v1h-1zM12 11h1v1h-1zM17 11h1v1h-1zM1 13h1v1h-1zM12 13h1v1h-1zM8 14h1v1h-1zM10 14h1v1h-1zM17 14h2v1h-2zM20 14h1v1h-1zM8 15h1v1h-1zM8 16h1v1h-1zM3 17h2v1h-2zM11 17h1v1h-1zM15 17h2v1h-2zM4 18h1v1h-1zM10 18h1v1h-1zM13 18h1v1h-1zM16 18h1v1h-1zM2 19h2v1h-2zM8 19h1v1h-1zM13 19h1v1h-1zM16 19h1v1h-1zM12 20h1v1h-1zM16 20h1v1h-1zM10 22h1v1h-1zM18 22h1v1h-1zM20 22h1v1h-1zM10 23h1v1h-1zM13 23h1v1h-1zM21 23h1v1h-1zM13 24h1v1h-1zM17 24h1v1h-1z"/><path fill="#862781" d="M1 0h2v1h-2zM8 0h1v1h-1zM8 1h3v1h-3zM18 1h1v1h-1zM15 2h2v1h-2zM1 3h1v1h-1zM3 3h2v1h-2zM9 3h1v1h-1zM11 3h1v1h-1zM16 3h1v1h-1zM18 3h1v1h-1zM3 4h1v1h-1zM11 4h1v1h-1zM20 4h1v1h-1zM13 6h1v1h-1zM17 6h1v1h-1zM2 7h1v1h-1zM9 7h1v1h-1zM19 7h1v1h-1zM14 8h1v1h-1zM18 8h1v1h-1zM17 9h1v1h-1zM6 10h1v1h-1zM11 11h1v1h-1zM14 11h1v1h-1zM20 11h1v1h-1zM2 12h1v1h-1zM8 12h1v1h-1zM16 12h1v1h-1zM19 12h1v1h-1zM20 13h1v1h-1zM9 14h1v1h-1zM14 14h1v1h-1zM2 15h1v1h-1zM17 15h2v1h-2zM13 16h2v1h-2zM16 16h1v1h-1zM12 17h1v1h-1zM4 19h1v1h-1zM9 19h1v1h-1zM3 20h1v1h-1zM5 20h1v1h-1zM9 20h1v1h-1zM4 21h1v1h-1zM13 21h1v1h-1zM18 21h1v1h-1zM7 22h1v1h-1zM14 22h1v1h-1zM17 22h1v1h-1zM21 22h1v1h-1zM8 23h1v1h-1zM14 23h1v1h-1zM18 23h1v1h-1zM3 24h1v1h-1zM9 24h1v1h-1zM11 24h1v1h-1z"/><path fill="#912b81" d="M10 0h1v1h-1zM7 2h1v1h-1zM21 2h1v1h-1zM2 3h1v1h-1zM7 3h1v1h-1zM10 3h1v1h-1zM14 3h2v1h-2zM17 3h1v1h-1zM20 3h1v1h-1zM2 4h1v1h-1zM13 5h1v1h-1zM5 6h1v1h-1zM4 7h1v1h-1zM18 7h1v1h-1zM16 8h2v1h-2zM20 8h1v1h-1zM14 9h1v1h-1zM0 10h1v1h-1zM4 10h1v1h-1zM7 11h1v1h-1zM10 11h1v1h-1zM16 11h1v1h-1zM7 12h1v1h-1zM8 13h1v1h-1zM6 14h1v1h-1zM6 15h2v1h-2zM9 15h1v1h-1zM20 15h1v1h-1zM3 18h1v1h-1zM5 18h1v1h-1zM8 18h2v1h-2zM5 19h1v1h-1zM10 19h1v1h-1zM10 20h1v1h-1zM9 21h1v1h-1zM12 21h1v1h-1zM14 21h1v1h-1zM3 22h1v1h-1zM8 22h2v1h-2zM3 23h1v1h-1zM7 23h1v1h-1zM17 23h1v1h-1zM7 24h1v1h-1zM10 24h1v1h-1zM16 24h1v1h-1zM20 24h1v1h-1z"/><path fill="#9b2e7f" d="M0 3h1v1h-1zM19 3h1v1h-1zM16 10h1v1h-1zM21 10h1v1h-1zM11 12h1v1h-1zM10 13h1v1h-1zM16 13h1v1h-1zM5 16h1v1h-1zM5 17h1v1h-1zM7 20h1v1h-1zM13 22h1v1h-1zM14 24h1v1h-1zM19 24h1v1h-1z"/><path fill="#a6317d" d="M12 4h1v1h-1zM6 6h1v1h-1zM1 7h1v1h-1zM7 9h1v1h-1zM9 11h1v1h-1zM6 19h1v1h-1zM13 20h1v1h-1zM16 21h1v1h-1zM6 22h1v1h-1z"/><path fill="#b0357b" d="M17 1h1v1h-1zM4 2h1v1h-1zM17 2h1v1h-1zM6 3h1v1h-1zM19 4h1v1h-1zM6 5h1v1h-1zM19 6h1v1h-1zM5 7h1v1h-1zM16 7h1v1h-1zM20 7h1v1h-1zM6 8h2v1h-2zM19 8h1v1h-1zM13 9h1v1h-1zM10 10h2v1h-2zM6 13h1v1h-1zM1 14h1v1h-1zM10 16h1v1h-1zM9 17h1v1h-1zM14 17h1v1h-1zM7 19h1v1h-1zM3 21h1v1h-1zM6 21h1v1h-1zM1 22h1v1h-1zM11 22h1v1h-1zM6 23h1v1h-1zM11 23h1v1h-1zM16 23h1v1h-1zM6 24h1v1h-1z"/><path fill="#bc3978" d="M3 1h1v1h-1zM16 1h1v1h-1zM8 3h1v1h-1zM6 4h1v1h-1zM10 4h1v1h-1zM16 4h1v1h-1zM18 4h1v1h-1zM9 5h1v1h-1zM20 5h1v1h-1zM21 6h1v1h-1zM4 8h1v1h-1zM13 8h1v1h-1zM6 9h1v1h-1zM9 9h3v1h-3zM7 10h1v1h-1zM6 12h1v1h-1zM10 12h1v1h-1zM4 13h1v1h-1zM9 13h1v1h-1zM4 14h1v1h-1zM4 15h1v1h-1zM16 15h1v1h-1zM3 16h2v1h-2zM11 16h1v1h-1zM10 17h1v1h-1zM7 18h1v1h-1zM8 21h1v1h-1zM16 22h1v1h-1zM2 23h1v1h-1zM8 24h1v1h-1z"/><path fill="#c53c74" d="M5 0h1v1h-1zM18 0h1v1h-1zM20 0h1v1h-1zM1 1h1v1h-1zM19 2h1v1h-1zM21 3h1v1h-1zM1 4h1v1h-1zM9 4h1v1h-1zM10 6h1v1h-1zM6 7h1v1h-1zM1 8h1v1h-1zM8 8h1v1h-1zM13 11h1v1h-1zM1 15h1v1h-1zM13 17h1v1h-1zM6 18h1v1h-1zM2 21h1v1h-1zM7 21h1v1h-1zM10 21h1v1h-1zM2 22h1v1h-1zM1 23h1v1h-1zM18 24h1v1h-1z"/><path fill="#d0416f" d="M6 2h1v1h-1zM9 8h1v1h-1zM4 9h1v1h-1z"/><path fill="#e34e65" d="M4 6h1v1h-1zM3 13h1v1h-1zM5 14h1v1h-1zM5 23h1v1h-1z"/><path fill="#eb5760" d="M17 0h1v1h-1zM19 0h1v1h-1zM16 5h1v1h-1zM11 6h1v1h-1zM8 9h1v1h-1zM5 12h1v1h-1zM0 13h1v1h-1zM5 15h1v1h-1zM7 16h1v1h-1zM6 17h1v1h-1zM1 18h1v1h-1zM11 18h1v1h-1zM1 19h1v1h-1zM11 19h1v1h-1z"/><path fill="#f1605d" d="M4 0h1v1h-1zM6 0h1v1h-1zM16 0h1v1h-1zM0 1h1v1h-1zM3 2h1v1h-1zM5 2h1v1h-1zM11 2h1v1h-1zM18 2h1v1h-1zM13 4h1v1h-1zM15 4h1v1h-1zM10 5h1v1h-1zM15 6h1v1h-1zM7 7h1v1h-1zM13 7h1v1h-1zM17 7h1v1h-1zM1 10h2v1h-2zM4 12h1v1h-1zM9 12h1v1h-1zM20 12h1v1h-1zM16 14h1v1h-1zM1 16h1v1h-1zM0 17h1v1h-1zM0 19h1v1h-1zM4 20h1v1h-1zM8 20h1v1h-1zM14 20h2v1h-2zM5 22h1v1h-1zM5 24h1v1h-1z"/><path fill="#f66c5c" d="M0 0h1v1h-1zM11 1h1v1h-1zM7 4h1v1h-1zM18 5h2v1h-2zM0 6h1v1h-1zM3 6h1v1h-1zM8 7h1v1h-1zM15 7h1v1h-1zM10 8h1v1h-1zM21 9h1v1h-1zM0 11h1v1h-1zM6 11h1v1h-1zM3 14h1v1h-1zM3 15h1v1h-1zM6 16h1v1h-1zM9 16h1v1h-1zM7 17h2v1h-2z"/><path fill="#f9785d" d="M6 1h1v1h-1zM12 2h1v1h-1zM21 7h1v1h-1zM0 12h1v1h-1zM5 13h1v1h-1zM0 18h1v1h-1z"/><path fill="#fc9065" d="M2 20h1v1h-1z"/><path fill="#fe9d6c" d="M7 1h1v1h-1zM14 7h1v1h-1zM0 15h1v1h-1zM0 16h1v1h-1zM6 20h1v1h-1zM4 22h1v1h-1z"/><path fill="#feaa74" d="M14 6h1v1h-1zM21 8h1v1h-1zM15 10h1v1h-1zM8 11h1v1h-1zM0 14h1v1h-1zM2 16h1v1h-1zM0 20h1v1h-1zM1 21h1v1h-1zM4 23h1v1h-1z"/><path fill="#feb67c" d="M3 0h1v1h-1zM8 4h1v1h-1zM16 6h1v1h-1zM12 9h1v1h-1zM15 9h1v1h-1zM13 10h2v1h-2zM2 11h1v1h-1zM2 13h1v1h-1zM1 17h1v1h-1zM0 21h1v1h-1zM1 24h1v1h-1z"/><path fill="#fec287" d="M7 5h1v1h-1zM21 5h1v1h-1zM8 6h2v1h-2z"/><path fill="#fde5a7" d="M2 6h1v1h-1zM0 22h1v1h-1z"/><path fill="#fcf2b4" d="M21 4h1v1h-1zM17 5h1v1h-1zM12 6h1v1h-1zM12 10h1v1h-1zM3 12h1v1h-1zM0 23h1v1h-1zM0 24h1v1h-1z"/><path fill="#fcfdbf" d="M12 7h1v1h-1zM12 8h1v1h-1zM1 11h1v1h-1zM2 17h1v1h-1zM1 20h1v1h-1z"/></g>
<g transform="translate(1661.10 955.10) scale(6.2667 14.3160)" shape-rendering="crispEdges"><path fill="#02020d" d="M14 13h1v1h-1z"/><path fill="#07061c" d="M1 4h1v1h-1zM17 6h1v1h-1zM16 14h1v1h-1zM13 16h1v1h-1zM15 16h1v1h-1zM15 18h1v1h-1zM15 20h1v1h-1z"/><path fill="#0d0a29" d="M17 4h1v1h-1zM0 7h2v1h-2zM1 8h1v1h-1zM6 9h1v1h-1zM15 9h1v1h-1zM16 12h1v1h-1zM16 15h1v1h-1zM15 17h1v1h-1zM12 18h1v1h-1zM12 19h1v1h-1zM15 19h1v1h-1zM16 20h1v1h-1z"/><path fill="#150e38" d="M2 4h1v1h-1zM5 7h1v1h-1zM14 12h2v1h-2zM16 13h1v1h-1zM16 16h1v1h-1zM16 17h1v1h-1z"/><path fill="#1d1147" d="M13 17h1v1h-1z"/><path fill="#3d0f71" d="M15 11h1v1h-1z"/><path fill="#491078" d="M5 9h1v1h-1zM17 10h1v1h-1zM15 13h1v1h-1zM12 15h1v1h-1zM14 16h1v1h-1zM14 17h1v1h-1zM17 18h1v1h-1zM16 21h1v1h-1zM14 23h1v1h-1zM17 24h1v1h-1z"/><path fill="#52137c" d="M2 1h1v1h-1zM15 1h1v1h-1zM4 2h1v1h-1zM8 4h1v1h-1zM0 5h1v1h-1zM7 5h1v1h-1zM7 6h1v1h-1zM17 8h1v1h-1zM1 9h1v1h-1zM4 9h1v1h-1zM7 9h1v1h-1zM11 11h1v1h-1zM13 11h1v1h-1zM4 12h1v1h-1zM12 12h1v1h-1zM3 14h1v1h-1zM3 15h1v1h-1zM14 15h1v1h-1zM17 17h1v1h-1zM14 18h1v1h-1zM16 18h1v1h-1zM8 19h1v1h-1zM14 19h1v1h-1zM16 19h2v1h-2zM6 20h1v1h-1zM2 21h1v1h-1zM8 22h1v1h-1zM14 22h1v1h-1zM15 23h1v1h-1zM14 24h1v1h-1z"/><path fill="#5d177f" d="M8 0h1v1h-1zM7 4h1v1h-1zM1 5h1v1h-1zM0 8h1v1h-1zM11 10h1v1h-1zM14 11h1v1h-1zM17 11h1v1h-1zM7 12h1v1h-1zM10 13h2v1h-2zM13 13h1v1h-1zM11 14h2v1h-2zM14 14h1v1h-1zM11 15h1v1h-1zM11 17h1v1h-1zM11 18h1v1h-1zM13 18h1v1h-1zM11 19h1v1h-1zM11 20h1v1h-1zM13 20h2v1h-2zM17 20h1v1h-1zM3 21h1v1h-1zM7 21h1v1h-1zM8 23h1v1h-1z"/><path fill="#671b80" d="M2 0h1v1h-1zM8 8h1v1h-1zM9 13h1v1h-1zM17 16h1v1h-1zM7 18h2v1h-2zM13 19h1v1h-1zM10 22h1v1h-1zM16 23h1v1h-1z"/><path fill="#721f81" d="M12 1h1v1h-1zM0 3h1v1h-1zM6 4h1v1h-1zM17 9h1v1h-1zM6 10h2v1h-2zM12 11h1v1h-1zM16 11h1v1h-1zM10 14h1v1h-1zM7 16h1v1h-1zM9 18h2v1h-2zM5 20h1v1h-1zM15 22h1v1h-1z"/><path fill="#7b2382" d="M17 0h1v1h-1zM3 1h1v1h-1zM6 2h1v1h-1zM11 2h2v1h-2zM9 3h2v1h-2zM12 3h1v1h-1zM16 3h1v1h-1zM2 5h1v1h-1zM6 5h1v1h-1zM7 7h1v1h-1zM7 8h1v1h-1zM13 8h1v1h-1zM15 8h1v1h-1zM3 9h1v1h-1zM5 10h1v1h-1zM3 13h1v1h-1zM6 13h1v1h-1zM9 14h1v1h-1zM13 14h1v1h-1zM2 15h1v1h-1zM13 15h1v1h-1zM15 15h1v1h-1zM10 16h1v1h-1zM9 19h2v1h-2zM7 20h1v1h-1zM9 20h2v1h-2zM12 20h1v1h-1zM14 21h1v1h-1zM17 21h1v1h-1zM9 22h1v1h-1zM11 22h3v1h-3zM13 23h1v1h-1zM13 24h1v1h-1z"/><path fill="#862781" d="M3 0h1v1h-1zM6 0h1v1h-1zM9 0h1v1h-1zM12 0h1v1h-1zM9 1h2v1h-2zM14 1h1v1h-1zM17 1h1v1h-1zM0 2h1v1h-1zM8 2h1v1h-1zM10 2h1v1h-1zM16 2h1v1h-1zM1 3h1v1h-1zM7 3h1v1h-1zM13 3h2v1h-2zM3 5h1v1h-1zM16 6h1v1h-1zM3 7h1v1h-1zM6 7h1v1h-1zM8 7h1v1h-1zM11 8h1v1h-1zM8 9h1v1h-1zM10 9h1v1h-1zM14 9h1v1h-1zM9 10h2v1h-2zM2 12h1v1h-1zM10 12h1v1h-1zM8 13h1v1h-1zM12 13h1v1h-1zM2 14h1v1h-1zM8 15h3v1h-3zM8 16h1v1h-1zM12 16h1v1h-1zM5 17h1v1h-1zM10 17h1v1h-1zM12 17h1v1h-1zM1 18h1v1h-1zM1 19h1v1h-1zM7 19h1v1h-1zM5 21h1v1h-1zM9 21h1v1h-1zM11 21h2v1h-2zM15 21h1v1h-1zM4 22h1v1h-1zM17 22h1v1h-1zM4 23h1v1h-1zM9 23h1v1h-1zM11 23h2v1h-2zM11 24h2v1h-2zM15 24h1v1h-1z"/><path fill="#912b81" d="M1 0h1v1h-1zM13 1h1v1h-1zM5 2h1v1h-1zM3 3h1v1h-1zM8 3h1v1h-1zM11 3h1v1h-1zM4 4h2v1h-2zM5 5h1v1h-1zM2 7h1v1h-1zM4 7h1v1h-1zM0 9h1v1h-1zM2 9h1v1h-1zM13 9h1v1h-1zM16 9h1v1h-1zM15 10h1v1h-1zM3 11h1v1h-1zM6 12h1v1h-1zM15 14h1v1h-1zM4 16h1v1h-1zM11 16h1v1h-1zM4 17h1v1h-1zM13 21h1v1h-1zM16 22h1v1h-1zM10 23h1v1h-1zM17 23h1v1h-1z"/><path fill="#9b2e7f" d="M13 10h1v1h-1zM8 14h1v1h-1z"/><path fill="#a6317d" d="M4 1h2v1h-2zM14 2h1v1h-1zM17 7h1v1h-1zM7 14h1v1h-1zM7 17h1v1h-1zM0 23h1v1h-1zM9 24h1v1h-1z"/><path fill="#b0357b" d="M16 0h1v1h-1zM7 1h1v1h-1zM9 2h1v1h-1zM17 2h1v1h-1zM17 5h1v1h-1zM4 6h1v1h-1zM6 6h1v1h-1zM13 6h1v1h-1zM15 6h1v1h-1zM10 7h2v1h-2zM4 8h1v1h-1zM6 8h1v1h-1zM12 8h1v1h-1zM2 10h1v1h-1zM2 11h1v1h-1zM11 12h1v1h-1zM2 13h1v1h-1zM7 13h1v1h-1zM17 13h1v1h-1zM7 15h1v1h-1zM1 17h1v1h-1zM3 17h1v1h-1zM9 17h1v1h-1zM4 20h1v1h-1zM6 21h1v1h-1zM1 24h1v1h-1zM5 24h1v1h-1zM10 24h1v1h-1z"/><path fill="#bc3978" d="M14 0h1v1h-1zM6 1h1v1h-1zM11 1h1v1h-1zM16 1h1v1h-1zM2 2h1v1h-1zM15 2h1v1h-1zM6 3h1v1h-1zM3 4h1v1h-1zM15 4h1v1h-1zM4 5h1v1h-1zM9 6h1v1h-1zM9 7h1v1h-1zM3 8h1v1h-1zM16 8h1v1h-1zM9 9h1v1h-1zM12 9h1v1h-1zM1 10h1v1h-1zM3 10h2v1h-2zM14 10h1v1h-1zM16 10h1v1h-1zM6 14h1v1h-1zM6 15h1v1h-1zM5 16h1v1h-1zM3 20h1v1h-1zM10 21h1v1h-1zM0 22h1v1h-1zM6 22h1v1h-1zM7 24h1v1h-1z"/><path fill="#c53c74" d="M5 0h1v1h-1zM11 0h1v1h-1zM3 2h1v1h-1zM1 6h1v1h-1zM12 7h2v1h-2zM11 9h1v1h-1zM5 11h1v1h-1zM9 11h2v1h-2zM8 12h2v1h-2zM6 23h1v1h-1zM16 24h1v1h-1z"/><path fill="#d0416f" d="M8 1h1v1h-1zM9 16h1v1h-1z"/><path fill="#e34e65" d="M3 19h2v1h-2z"/><path fill="#eb5760" d="M1 1h1v1h-1zM1 2h1v1h-1zM13 2h1v1h-1zM15 3h1v1h-1zM17 3h1v1h-1zM8 5h1v1h-1zM13 5h1v1h-1zM0 6h1v1h-1zM2 6h1v1h-1zM10 6h1v1h-1zM14 7h2v1h-2zM6 11h1v1h-1zM13 12h1v1h-1zM5 14h1v1h-1zM1 20h1v1h-1zM0 24h1v1h-1z"/><path fill="#f1605d" d="M0 0h1v1h-1zM4 0h1v1h-1zM15 0h1v1h-1zM2 3h1v1h-1zM0 4h1v1h-1zM13 4h2v1h-2zM11 5h1v1h-1zM3 6h1v1h-1zM5 6h1v1h-1zM14 6h1v1h-1zM0 10h1v1h-1zM1 11h1v1h-1zM7 11h1v1h-1zM0 12h1v1h-1zM5 15h1v1h-1zM17 15h1v1h-1zM1 16h1v1h-1zM6 16h1v1h-1zM4 18h1v1h-1zM5 19h2v1h-2zM0 21h1v1h-1zM4 21h1v1h-1zM8 21h1v1h-1zM5 23h1v1h-1zM4 24h1v1h-1zM6 24h1v1h-1z"/><path fill="#f66c5c" d="M10 0h1v1h-1zM0 1h1v1h-1zM7 2h1v1h-1zM10 4h2v1h-2zM9 5h2v1h-2zM5 8h1v1h-1zM14 8h1v1h-1zM8 10h1v1h-1zM3 12h1v1h-1zM5 12h1v1h-1zM5 13h1v1h-1zM17 14h1v1h-1zM2 16h2v1h-2zM2 17h1v1h-1zM6 17h1v1h-1zM3 18h1v1h-1zM5 18h1v1h-1zM8 20h1v1h-1z"/><path fill="#f9785d" d="M12 5h1v1h-1zM9 8h2v1h-2zM1 12h1v1h-1zM4 13h1v1h-1zM6 18h1v1h-1zM8 24h1v1h-1z"/><path fill="#fb8560" d="M8 17h1v1h-1zM5 22h1v1h-1z"/><path fill="#fc9065" d="M13 0h1v1h-1z"/><path fill="#fe9d6c" d="M8 6h1v1h-1zM0 14h1v1h-1z"/><path fill="#feaa74" d="M16 7h1v1h-1zM2 8h1v1h-1zM4 15h1v1h-1zM2 20h1v1h-1zM2 22h2v1h-2zM2 23h2v1h-2zM3 24h1v1h-1z"/><path fill="#feb67c" d="M7 0h1v1h-1zM15 5h1v1h-1zM11 6h1v1h-1zM12 10h1v1h-1zM0 11h1v1h-1zM2 18h1v1h-1zM2 19h1v1h-1zM0 20h1v1h-1zM7 22h1v1h-1zM7 23h1v1h-1z"/><path fill="#fec287" d="M12 4h1v1h-1zM14 5h1v1h-1zM1 13h1v1h-1zM4 14h1v1h-1zM0 15h1v1h-1zM1 21h1v1h-1z"/><path fill="#fde5a7" d="M5 3h1v1h-1zM12 6h1v1h-1zM8 11h1v1h-1zM0 13h1v1h-1z"/><path fill="#fcf2b4" d="M16 5h1v1h-1zM1 14h1v1h-1zM0 16h1v1h-1z"/><path fill="#fcfdbf" d="M4 3h1v1h-1zM9 4h1v1h-1zM16 4h1v1h-1zM4 11h1v1h-1zM17 12h1v1h-1zM1 15h1v1h-1zM0 17h1v1h-1zM0 18h1v1h-1zM0 19h1v1h-1zM1 22h1v1h-1zM1 23h1v1h-1zM2 24h1v1h-1z"/></g>
<g transform="translate(1780.00 955.10) scale(6.2455 14.3160)" shape-rendering="crispEdges"><path fill="#07061c" d="M0 6h1v1h-1zM4 6h1v1h-1zM10 13h1v1h-1zM10 16h1v1h-1zM10 17h1v1h-1z"/><path fill="#0d0a29" d="M1 6h1v1h-1zM10 20h1v1h-1z"/><path fill="#150e38" d="M8 4h1v1h-1z"/><path fill="#491078" d="M7 4h1v1h-1zM8 15h1v1h-1z"/><path fill="#52137c" d="M9 4h1v1h-1zM3 6h1v1h-1zM6 14h1v1h-1zM10 15h1v1h-1zM6 17h1v1h-1zM5 22h2v1h-2zM6 23h1v1h-1z"/><path fill="#5d177f" d="M2 6h1v1h-1zM8 6h1v1h-1zM4 8h1v1h-1zM1 12h1v1h-1zM6 13h1v1h-1zM8 14h1v1h-1zM10 14h1v1h-1zM6 15h1v1h-1zM6 16h1v1h-1zM10 19h1v1h-1zM10 21h1v1h-1zM5 23h1v1h-1z"/><path fill="#671b80" d="M10 18h1v1h-1zM7 23h1v1h-1z"/><path fill="#721f81" d="M4 2h1v1h-1zM6 3h1v1h-1zM10 3h1v1h-1zM4 4h1v1h-1zM3 8h1v1h-1zM8 10h1v1h-1zM5 12h1v1h-1zM10 12h1v1h-1zM3 15h1v1h-1zM3 16h1v1h-1zM9 20h1v1h-1zM4 22h1v1h-1zM7 22h1v1h-1zM9 22h1v1h-1zM5 24h1v1h-1zM8 24h1v1h-1z"/><path fill="#7b2382" d="M5 0h1v1h-1zM10 2h1v1h-1zM4 3h2v1h-2zM3 4h1v1h-1zM2 5h2v1h-2zM2 8h1v1h-1zM7 8h1v1h-1zM7 9h1v1h-1zM0 10h1v1h-1zM10 10h1v1h-1zM8 12h1v1h-1zM3 13h1v1h-1zM7 13h1v1h-1zM4 15h1v1h-1zM7 15h1v1h-1zM9 16h1v1h-1zM2 17h1v1h-1zM9 18h1v1h-1zM2 20h2v1h-2zM3 21h1v1h-1zM1 23h1v1h-1zM2 24h1v1h-1zM4 24h1v1h-1zM7 24h1v1h-1z"/><path fill="#862781" d="M4 0h1v1h-1zM6 0h1v1h-1zM8 0h2v1h-2zM0 2h1v1h-1zM5 2h1v1h-1zM7 3h1v1h-1zM10 4h1v1h-1zM9 5h1v1h-1zM5 6h1v1h-1zM7 6h1v1h-1zM0 9h1v1h-1zM2 9h1v1h-1zM5 10h1v1h-1zM2 13h1v1h-1zM8 13h1v1h-1zM1 14h3v1h-3zM5 14h1v1h-1zM7 14h1v1h-1zM2 15h1v1h-1zM9 17h1v1h-1zM3 19h2v1h-2zM9 19h1v1h-1zM5 20h3v1h-3zM5 21h3v1h-3zM9 21h1v1h-1zM1 22h1v1h-1zM8 23h3v1h-3zM3 24h1v1h-1zM9 24h2v1h-2z"/><path fill="#912b81" d="M9 1h1v1h-1zM8 3h2v1h-2zM6 4h1v1h-1zM9 6h1v1h-1zM1 9h1v1h-1zM6 9h1v1h-1zM1 10h1v1h-1zM6 12h1v1h-1zM1 13h1v1h-1zM9 13h1v1h-1zM4 14h1v1h-1zM9 14h1v1h-1zM1 15h1v1h-1zM5 15h1v1h-1zM2 16h1v1h-1zM3 17h1v1h-1zM8 17h1v1h-1zM3 18h1v1h-1zM8 20h1v1h-1zM4 21h1v1h-1zM8 21h1v1h-1zM2 22h1v1h-1zM8 22h1v1h-1zM2 23h1v1h-1zM4 23h1v1h-1zM1 24h1v1h-1zM6 24h1v1h-1z"/><path fill="#9b2e7f" d="M5 13h1v1h-1zM9 15h1v1h-1zM4 18h1v1h-1zM10 22h1v1h-1z"/><path fill="#a6317d" d="M6 6h1v1h-1zM6 18h1v1h-1zM8 18h1v1h-1zM6 19h1v1h-1zM2 21h1v1h-1z"/><path fill="#b0357b" d="M3 0h1v1h-1zM0 4h1v1h-1zM2 4h1v1h-1zM4 9h1v1h-1zM2 10h2v1h-2zM4 11h1v1h-1zM7 11h1v1h-1zM9 11h2v1h-2zM9 12h1v1h-1zM0 14h1v1h-1zM5 16h1v1h-1zM8 16h1v1h-1zM1 20h1v1h-1zM3 22h1v1h-1z"/><path fill="#bc3978" d="M10 1h1v1h-1zM2 3h2v1h-2zM4 5h1v1h-1zM2 7h1v1h-1zM7 7h1v1h-1zM6 10h2v1h-2zM3 11h1v1h-1zM8 11h1v1h-1zM0 12h1v1h-1zM2 12h3v1h-3zM7 12h1v1h-1zM0 13h1v1h-1zM1 16h1v1h-1zM5 17h1v1h-1zM7 17h1v1h-1zM2 18h1v1h-1zM8 19h1v1h-1zM3 23h1v1h-1z"/><path fill="#c53c74" d="M1 0h1v1h-1zM3 1h1v1h-1zM8 2h1v1h-1zM1 4h1v1h-1zM8 8h1v1h-1zM8 9h1v1h-1zM0 15h1v1h-1zM7 16h1v1h-1zM1 17h1v1h-1zM2 19h1v1h-1z"/><path fill="#d0416f" d="M8 5h1v1h-1zM10 8h1v1h-1z"/><path fill="#e34e65" d="M0 16h1v1h-1z"/><path fill="#eb5760" d="M0 3h1v1h-1zM10 5h1v1h-1zM0 7h1v1h-1zM4 7h3v1h-3zM5 9h1v1h-1zM4 10h1v1h-1zM4 17h1v1h-1zM1 21h1v1h-1zM0 23h1v1h-1z"/><path fill="#f1605d" d="M0 0h1v1h-1zM6 2h2v1h-2zM9 2h1v1h-1zM3 7h1v1h-1zM10 7h1v1h-1zM3 9h1v1h-1zM10 9h1v1h-1zM4 13h1v1h-1zM4 16h1v1h-1zM5 18h1v1h-1zM4 20h1v1h-1zM0 21h1v1h-1z"/><path fill="#f66c5c" d="M2 0h1v1h-1zM7 0h1v1h-1zM0 1h2v1h-2zM4 1h1v1h-1zM6 1h1v1h-1zM0 5h1v1h-1zM5 5h1v1h-1zM10 6h1v1h-1zM0 8h1v1h-1zM5 11h2v1h-2zM0 17h1v1h-1zM0 20h1v1h-1zM0 22h1v1h-1z"/><path fill="#f9785d" d="M1 2h1v1h-1zM5 4h1v1h-1zM7 5h1v1h-1zM1 11h2v1h-2zM5 19h1v1h-1z"/><path fill="#fe9d6c" d="M9 9h1v1h-1z"/><path fill="#feaa74" d="M3 2h1v1h-1zM1 5h1v1h-1zM1 7h1v1h-1zM9 8h1v1h-1zM9 10h1v1h-1zM7 18h1v1h-1zM0 19h2v1h-2zM7 19h1v1h-1z"/><path fill="#feb67c" d="M10 0h1v1h-1zM2 1h1v1h-1zM5 1h1v1h-1zM7 1h1v1h-1zM2 2h1v1h-1zM8 7h1v1h-1zM6 8h1v1h-1zM0 24h1v1h-1z"/><path fill="#fec287" d="M5 8h1v1h-1zM0 18h1v1h-1z"/><path fill="#fecd90" d="M1 18h1v1h-1z"/><path fill="#fde5a7" d="M8 1h1v1h-1z"/><path fill="#fcf2b4" d="M1 3h1v1h-1zM9 7h1v1h-1zM1 8h1v1h-1zM0 11h1v1h-1z"/><path fill="#fcfdbf" d="M6 5h1v1h-1z"/></g>
<path fill="none" stroke="#000" stroke-width="1.5" stroke-linecap="square" d="M1252.0 989.7H1218.7M1252.0 1004.0H1218.7M1218.7 989.7V1004.0M1252.0 975.4H1215.0M1218.7 996.8H1215.0M1215.0 975.4V996.8M1252.0 961.1H1212.6M1215.0 986.1H1212.6M1212.6 961.1V986.1M1252.0 1018.3H1216.7M1252.0 1032.6H1216.7M1216.7 1018.3V1032.6M1212.6 973.6H1206.0M1216.7 1025.5H1206.0M1206.0 973.6V1025.5M1252.0 1061.3H1220.0M1252.0 1075.6H1220.0M1220.0 1061.3V1075.6M1252.0 1089.9H1222.4M1252.0 1104.2H1222.4M1222.4 1089.9V1104.2M1220.0 1068.4H1216.7M1222.4 1097.1H1216.7M1216.7 1068.4V1097.1M1216.7 1082.7H1211.0M1252.0 1118.5H1211.0M1211.0 1082.7V1118.5M1252.0 1047.0H1203.8M1211.0 1100.6H1203.8M1203.8 1047.0V1100.6M1206.0 999.5H1201.0M1203.8 1073.8H1201.0M1201.0 999.5V1073.8M1252.0 1161.5H1246.3M1252.0 1175.8H1246.3M1246.3 1161.5V1175.8M1252.0 1147.2H1233.4M1246.3 1168.6H1233.4M1233.4 1147.2V1168.6M1252.0 1132.8H1224.9M1233.4 1157.9H1224.9M1224.9 1132.8V1157.9M1252.0 1190.1H1237.1M1252.0 1204.4H1237.1M1237.1 1190.1V1204.4M1252.0 1218.7H1251.0M1252.0 1233.1H1251.0M1251.0 1218.7V1233.1M1237.1 1197.3H1228.3M1251.0 1225.9H1228.3M1228.3 1197.3V1225.9M1252.0 1247.4H1231.6M1252.0 1261.7H1231.6M1231.6 1247.4V1261.7M1228.3 1211.6H1223.8M1231.6 1254.5H1223.8M1223.8 1211.6V1254.5M1252.0 1276.0H1248.8M1252.0 1290.3H1248.8M1248.8 1276.0V1290.3M1248.8 1283.2H1230.0M1252.0 1304.6H1230.0M1230.0 1283.2V1304.6M1223.8 1233.1H1218.7M1230.0 1293.9H1218.7M1218.7 1233.1V1293.9M1224.9 1145.4H1214.6M1218.7 1263.5H1214.6M1214.6 1145.4V1263.5M1201.0 1036.7H1195.6M1214.6 1204.4H1195.6M1195.6 1036.7V1204.4"/>
<g font-size="15"><text x="1853.3" y="967.6">TRIM47</text><text x="1853.3" y="981.9">CP</text><text x="1853.3" y="996.2">PLEKHO2</text><text x="1853.3" y="1010.5">IGHD</text><text x="1853.3" y="1024.8">MVP</text><text x="1853.3" y="1039.1">MRO</text><text x="1853.3" y="1053.5">SDR39U1</text><text x="1853.3" y="1067.8">MARS1</text><text x="1853.3" y="1082.1">CA4</text><text x="1853.3" y="1096.4">CTSB</text><text x="1853.3" y="1110.7">PRPS1</text><text x="1853.3" y="1125.0">IGHM</text><text x="1853.3" y="1139.3">POTEF</text><text x="1853.3" y="1153.7">IGHG1</text><text x="1853.3" y="1168.0">IGHG2</text><text x="1853.3" y="1182.3">IGHG3</text><text x="1853.3" y="1196.6">IGLC7</text><text x="1853.3" y="1210.9">IGLC3</text><text x="1853.3" y="1225.2">IGLL5</text><text x="1853.3" y="1239.6">IGLC1</text><text x="1853.3" y="1253.9">IGKC</text><text x="1853.3" y="1268.2">IGHG4</text><text x="1853.3" y="1282.5">IGHA1</text><text x="1853.3" y="1296.8">IGHA2</text><text x="1853.3" y="1311.1">JCHAIN</text></g>
<text x="1940.4" y="1037.9" font-size="16.2">Z-score</text>
<defs><linearGradient id="gm" x1="0" y1="0" x2="0" y2="1"><stop offset="0.000" stop-color="#fcfdbf"/><stop offset="0.050" stop-color="#fde7a9"/><stop offset="0.100" stop-color="#fecf92"/><stop offset="0.150" stop-color="#feb77e"/><stop offset="0.200" stop-color="#fe9f6d"/><stop offset="0.250" stop-color="#fc8961"/><stop offset="0.300" stop-color="#f7705c"/><stop offset="0.350" stop-color="#ed5a5f"/><stop offset="0.400" stop-color="#de4968"/><stop offset="0.450" stop-color="#ca3e72"/><stop offset="0.500" stop-color="#b73779"/><stop offset="0.550" stop-color="#a1307e"/><stop offset="0.600" stop-color="#8c2981"/><stop offset="0.650" stop-color="#782281"/><stop offset="0.700" stop-color="#641a80"/><stop offset="0.750" stop-color="#51127c"/><stop offset="0.800" stop-color="#3b0f70"/><stop offset="0.850" stop-color="#251255"/><stop offset="0.900" stop-color="#140e36"/><stop offset="0.950" stop-color="#06051a"/><stop offset="1.000" stop-color="#000004"/></linearGradient></defs>
<rect x="1939.8" y="1047.7" width="19.4" height="98.4" fill="url(#gm)"/>
<line x1="1954.6" y1="1051.9" x2="1959.2" y2="1051.9" stroke="#fff" stroke-width="1.2" />
<text x="1964.2" y="1057.1" font-size="14.4">2</text>
<line x1="1954.6" y1="1075.2" x2="1959.2" y2="1075.2" stroke="#fff" stroke-width="1.2" />
<text x="1964.2" y="1080.4" font-size="14.4">1</text>
<line x1="1954.6" y1="1097.5" x2="1959.2" y2="1097.5" stroke="#fff" stroke-width="1.2" />
<text x="1964.2" y="1102.7" font-size="14.4">0</text>
<line x1="1954.6" y1="1119.9" x2="1959.2" y2="1119.9" stroke="#fff" stroke-width="1.2" />
<text x="1964.2" y="1125.1" font-size="14.4">−1</text>
<line x1="1954.6" y1="1143.1" x2="1959.2" y2="1143.1" stroke="#fff" stroke-width="1.2" />
<text x="1964.2" y="1148.3" font-size="14.4">−2</text>
<text x="1154.0" y="1429.0" font-size="58.5" font-weight="bold">g</text>
<text x="1221.6" y="1466.3" font-size="26.5"><tspan font-style="italic">BRCA1</tspan> RNA Expression</text>
<rect x="1222.8" y="1480.6" width="310.4000000000001" height="285.60000000000014" fill="#fff"/>
<line x1="1222.8" y1="1730.7" x2="1533.2" y2="1730.7" stroke="#EBEBEB" stroke-width="1.1" />
<line x1="1222.8" y1="1680.6" x2="1533.2" y2="1680.6" stroke="#EBEBEB" stroke-width="1.1" />
<line x1="1222.8" y1="1630.5" x2="1533.2" y2="1630.5" stroke="#EBEBEB" stroke-width="1.1" />
<line x1="1222.8" y1="1580.4" x2="1533.2" y2="1580.4" stroke="#EBEBEB" stroke-width="1.1" />
<line x1="1222.8" y1="1530.2" x2="1533.2" y2="1530.2" stroke="#EBEBEB" stroke-width="1.1" />
<line x1="1222.8" y1="1755.7" x2="1533.2" y2="1755.7" stroke="#EBEBEB" stroke-width="2.0" />
<line x1="1222.8" y1="1705.6" x2="1533.2" y2="1705.6" stroke="#EBEBEB" stroke-width="2.0" />
<line x1="1222.8" y1="1655.5" x2="1533.2" y2="1655.5" stroke="#EBEBEB" stroke-width="2.0" />
<line x1="1222.8" y1="1605.4" x2="1533.2" y2="1605.4" stroke="#EBEBEB" stroke-width="2.0" />
<line x1="1222.8" y1="1555.3" x2="1533.2" y2="1555.3" stroke="#EBEBEB" stroke-width="2.0" />
<line x1="1222.8" y1="1505.2" x2="1533.2" y2="1505.2" stroke="#EBEBEB" stroke-width="2.0" />
<line x1="1280.6" y1="1480.6" x2="1280.6" y2="1766.2" stroke="#EBEBEB" stroke-width="2.0" />
<line x1="1377.6" y1="1480.6" x2="1377.6" y2="1766.2" stroke="#EBEBEB" stroke-width="2.0" />
<line x1="1474.7" y1="1480.6" x2="1474.7" y2="1766.2" stroke="#EBEBEB" stroke-width="2.0" />
<line x1="1280.6" y1="1541.3" x2="1280.6" y2="1584.3" stroke="#333333" stroke-width="1.9" />
<line x1="1280.6" y1="1620.2" x2="1280.6" y2="1662.5" stroke="#333333" stroke-width="1.9" />
<rect x="1244" y="1584.3" width="73.7" height="35.9" fill="#fff" stroke="#333333" stroke-width="1.9"/>
<line x1="1244.0" y1="1604.0" x2="1317.7" y2="1604.0" stroke="#333333" stroke-width="4.0" />
<line x1="1377.6" y1="1492.9" x2="1377.6" y2="1561.2" stroke="#333333" stroke-width="1.9" />
<line x1="1377.6" y1="1612.1" x2="1377.6" y2="1665.4" stroke="#333333" stroke-width="1.9" />
<rect x="1340.8" y="1561.2" width="74.0" height="50.9" fill="#fff" stroke="#333333" stroke-width="1.9"/>
<line x1="1340.8" y1="1595.6" x2="1414.8" y2="1595.6" stroke="#333333" stroke-width="4.0" />
<line x1="1474.7" y1="1546.5" x2="1474.7" y2="1578.4" stroke="#333333" stroke-width="1.9" />
<line x1="1474.7" y1="1610.4" x2="1474.7" y2="1636.6" stroke="#333333" stroke-width="1.9" />
<rect x="1437.9" y="1578.4" width="73.9" height="32.0" fill="#fff" stroke="#333333" stroke-width="1.9"/>
<line x1="1437.9" y1="1598.6" x2="1511.8" y2="1598.6" stroke="#333333" stroke-width="4.0" />
<path fill="#333" d="M1276.5 1499.5a4.1 4.1 0 1 0 8.2 0a4.1 4.1 0 1 0 -8.2 0M1276.5 1753.4a4.1 4.1 0 1 0 8.2 0a4.1 4.1 0 1 0 -8.2 0M1471.4 1497.1a4.1 4.1 0 1 0 8.2 0a4.1 4.1 0 1 0 -8.2 0M1471.4 1685.8a4.1 4.1 0 1 0 8.2 0a4.1 4.1 0 1 0 -8.2 0M1470.6 1529.7a4.1 4.1 0 1 0 8.2 0a4.1 4.1 0 1 0 -8.2 0"/>
<path fill="#000" d="M1265.2 1499.5a5.1 5.1 0 1 0 10.2 0a5.1 5.1 0 1 0 -10.2 0M1286.8 1541.3a5.1 5.1 0 1 0 10.2 0a5.1 5.1 0 1 0 -10.2 0M1284.3 1556.0a5.1 5.1 0 1 0 10.2 0a5.1 5.1 0 1 0 -10.2 0M1289.7 1558.0a5.1 5.1 0 1 0 10.2 0a5.1 5.1 0 1 0 -10.2 0M1287.8 1582.6a5.1 5.1 0 1 0 10.2 0a5.1 5.1 0 1 0 -10.2 0M1264.7 1583.8a5.1 5.1 0 1 0 10.2 0a5.1 5.1 0 1 0 -10.2 0M1276.2 1586.3a5.1 5.1 0 1 0 10.2 0a5.1 5.1 0 1 0 -10.2 0M1263.9 1594.9a5.1 5.1 0 1 0 10.2 0a5.1 5.1 0 1 0 -10.2 0M1267.6 1597.3a5.1 5.1 0 1 0 10.2 0a5.1 5.1 0 1 0 -10.2 0M1271.3 1599.8a5.1 5.1 0 1 0 10.2 0a5.1 5.1 0 1 0 -10.2 0M1261.5 1602.2a5.1 5.1 0 1 0 10.2 0a5.1 5.1 0 1 0 -10.2 0M1273.8 1603.5a5.1 5.1 0 1 0 10.2 0a5.1 5.1 0 1 0 -10.2 0M1268.8 1607.2a5.1 5.1 0 1 0 10.2 0a5.1 5.1 0 1 0 -10.2 0M1272.5 1613.3a5.1 5.1 0 1 0 10.2 0a5.1 5.1 0 1 0 -10.2 0M1279.9 1613.3a5.1 5.1 0 1 0 10.2 0a5.1 5.1 0 1 0 -10.2 0M1289.2 1615.8a5.1 5.1 0 1 0 10.2 0a5.1 5.1 0 1 0 -10.2 0M1262.7 1618.2a5.1 5.1 0 1 0 10.2 0a5.1 5.1 0 1 0 -10.2 0M1271.3 1619.4a5.1 5.1 0 1 0 10.2 0a5.1 5.1 0 1 0 -10.2 0M1282.4 1621.9a5.1 5.1 0 1 0 10.2 0a5.1 5.1 0 1 0 -10.2 0M1267.6 1623.1a5.1 5.1 0 1 0 10.2 0a5.1 5.1 0 1 0 -10.2 0M1262.7 1626.8a5.1 5.1 0 1 0 10.2 0a5.1 5.1 0 1 0 -10.2 0M1261.5 1662.5a5.1 5.1 0 1 0 10.2 0a5.1 5.1 0 1 0 -10.2 0M1266.4 1753.4a5.1 5.1 0 1 0 10.2 0a5.1 5.1 0 1 0 -10.2 0M1386.1 1492.9a5.1 5.1 0 1 0 10.2 0a5.1 5.1 0 1 0 -10.2 0M1385.6 1516.2a5.1 5.1 0 1 0 10.2 0a5.1 5.1 0 1 0 -10.2 0M1359.8 1556.0a5.1 5.1 0 1 0 10.2 0a5.1 5.1 0 1 0 -10.2 0M1379.4 1549.4a5.1 5.1 0 1 0 10.2 0a5.1 5.1 0 1 0 -10.2 0M1385.6 1558.0a5.1 5.1 0 1 0 10.2 0a5.1 5.1 0 1 0 -10.2 0M1362.2 1570.8a5.1 5.1 0 1 0 10.2 0a5.1 5.1 0 1 0 -10.2 0M1375.3 1565.9a5.1 5.1 0 1 0 10.2 0a5.1 5.1 0 1 0 -10.2 0M1359.0 1577.7a5.1 5.1 0 1 0 10.2 0a5.1 5.1 0 1 0 -10.2 0M1378.2 1586.3a5.1 5.1 0 1 0 10.2 0a5.1 5.1 0 1 0 -10.2 0M1382.6 1594.9a5.1 5.1 0 1 0 10.2 0a5.1 5.1 0 1 0 -10.2 0M1381.9 1599.8a5.1 5.1 0 1 0 10.2 0a5.1 5.1 0 1 0 -10.2 0M1360.5 1602.2a5.1 5.1 0 1 0 10.2 0a5.1 5.1 0 1 0 -10.2 0M1388.0 1612.1a5.1 5.1 0 1 0 10.2 0a5.1 5.1 0 1 0 -10.2 0M1359.0 1613.3a5.1 5.1 0 1 0 10.2 0a5.1 5.1 0 1 0 -10.2 0M1382.6 1609.1a5.1 5.1 0 1 0 10.2 0a5.1 5.1 0 1 0 -10.2 0M1378.2 1620.2a5.1 5.1 0 1 0 10.2 0a5.1 5.1 0 1 0 -10.2 0M1363.9 1666.1a5.1 5.1 0 1 0 10.2 0a5.1 5.1 0 1 0 -10.2 0M1463.0 1497.1a5.1 5.1 0 1 0 10.2 0a5.1 5.1 0 1 0 -10.2 0M1469.1 1524.8a5.1 5.1 0 1 0 10.2 0a5.1 5.1 0 1 0 -10.2 0M1474.0 1527.3a5.1 5.1 0 1 0 10.2 0a5.1 5.1 0 1 0 -10.2 0M1480.2 1531.5a5.1 5.1 0 1 0 10.2 0a5.1 5.1 0 1 0 -10.2 0M1483.9 1524.3a5.1 5.1 0 1 0 10.2 0a5.1 5.1 0 1 0 -10.2 0M1459.3 1546.2a5.1 5.1 0 1 0 10.2 0a5.1 5.1 0 1 0 -10.2 0M1456.4 1556.8a5.1 5.1 0 1 0 10.2 0a5.1 5.1 0 1 0 -10.2 0M1474.0 1554.3a5.1 5.1 0 1 0 10.2 0a5.1 5.1 0 1 0 -10.2 0M1469.1 1560.5a5.1 5.1 0 1 0 10.2 0a5.1 5.1 0 1 0 -10.2 0M1482.7 1561.7a5.1 5.1 0 1 0 10.2 0a5.1 5.1 0 1 0 -10.2 0M1461.8 1572.8a5.1 5.1 0 1 0 10.2 0a5.1 5.1 0 1 0 -10.2 0M1467.9 1571.5a5.1 5.1 0 1 0 10.2 0a5.1 5.1 0 1 0 -10.2 0M1455.6 1583.8a5.1 5.1 0 1 0 10.2 0a5.1 5.1 0 1 0 -10.2 0M1464.2 1582.6a5.1 5.1 0 1 0 10.2 0a5.1 5.1 0 1 0 -10.2 0M1471.6 1587.5a5.1 5.1 0 1 0 10.2 0a5.1 5.1 0 1 0 -10.2 0M1477.7 1581.4a5.1 5.1 0 1 0 10.2 0a5.1 5.1 0 1 0 -10.2 0M1483.9 1581.4a5.1 5.1 0 1 0 10.2 0a5.1 5.1 0 1 0 -10.2 0M1456.8 1592.4a5.1 5.1 0 1 0 10.2 0a5.1 5.1 0 1 0 -10.2 0M1465.4 1593.6a5.1 5.1 0 1 0 10.2 0a5.1 5.1 0 1 0 -10.2 0M1476.5 1592.4a5.1 5.1 0 1 0 10.2 0a5.1 5.1 0 1 0 -10.2 0M1483.9 1590.0a5.1 5.1 0 1 0 10.2 0a5.1 5.1 0 1 0 -10.2 0M1454.4 1601.0a5.1 5.1 0 1 0 10.2 0a5.1 5.1 0 1 0 -10.2 0M1461.8 1602.2a5.1 5.1 0 1 0 10.2 0a5.1 5.1 0 1 0 -10.2 0M1469.1 1604.7a5.1 5.1 0 1 0 10.2 0a5.1 5.1 0 1 0 -10.2 0M1477.7 1601.0a5.1 5.1 0 1 0 10.2 0a5.1 5.1 0 1 0 -10.2 0M1485.1 1602.2a5.1 5.1 0 1 0 10.2 0a5.1 5.1 0 1 0 -10.2 0M1456.8 1607.2a5.1 5.1 0 1 0 10.2 0a5.1 5.1 0 1 0 -10.2 0M1465.4 1609.6a5.1 5.1 0 1 0 10.2 0a5.1 5.1 0 1 0 -10.2 0M1472.8 1608.4a5.1 5.1 0 1 0 10.2 0a5.1 5.1 0 1 0 -10.2 0M1481.4 1605.9a5.1 5.1 0 1 0 10.2 0a5.1 5.1 0 1 0 -10.2 0M1460.5 1613.3a5.1 5.1 0 1 0 10.2 0a5.1 5.1 0 1 0 -10.2 0M1466.7 1615.8a5.1 5.1 0 1 0 10.2 0a5.1 5.1 0 1 0 -10.2 0M1474.0 1614.5a5.1 5.1 0 1 0 10.2 0a5.1 5.1 0 1 0 -10.2 0M1482.7 1617.0a5.1 5.1 0 1 0 10.2 0a5.1 5.1 0 1 0 -10.2 0M1456.8 1620.7a5.1 5.1 0 1 0 10.2 0a5.1 5.1 0 1 0 -10.2 0M1464.2 1620.7a5.1 5.1 0 1 0 10.2 0a5.1 5.1 0 1 0 -10.2 0M1461.8 1630.0a5.1 5.1 0 1 0 10.2 0a5.1 5.1 0 1 0 -10.2 0M1473.6 1631.2a5.1 5.1 0 1 0 10.2 0a5.1 5.1 0 1 0 -10.2 0M1483.9 1627.6a5.1 5.1 0 1 0 10.2 0a5.1 5.1 0 1 0 -10.2 0M1469.6 1645.3a5.1 5.1 0 1 0 10.2 0a5.1 5.1 0 1 0 -10.2 0M1483.9 1642.3a5.1 5.1 0 1 0 10.2 0a5.1 5.1 0 1 0 -10.2 0M1483.9 1685.8a5.1 5.1 0 1 0 10.2 0a5.1 5.1 0 1 0 -10.2 0"/>
<rect x="1222.8" y="1480.6" width="310.4000000000001" height="285.60000000000014" fill="none" stroke="#333333" stroke-width="1.5"/>
<line x1="1217.3" y1="1755.7" x2="1222.8" y2="1755.7" stroke="#333333" stroke-width="1.6" />
<text x="1209.3" y="1763.3" font-size="21.5" fill="#4d4d4d" text-anchor="end">2.5</text>
<line x1="1217.3" y1="1705.6" x2="1222.8" y2="1705.6" stroke="#333333" stroke-width="1.6" />
<text x="1209.3" y="1713.2" font-size="21.5" fill="#4d4d4d" text-anchor="end">3.0</text>
<line x1="1217.3" y1="1655.5" x2="1222.8" y2="1655.5" stroke="#333333" stroke-width="1.6" />
<text x="1209.3" y="1663.1" font-size="21.5" fill="#4d4d4d" text-anchor="end">3.5</text>
<line x1="1217.3" y1="1605.4" x2="1222.8" y2="1605.4" stroke="#333333" stroke-width="1.6" />
<text x="1209.3" y="1613.0" font-size="21.5" fill="#4d4d4d" text-anchor="end">4.0</text>
<line x1="1217.3" y1="1555.3" x2="1222.8" y2="1555.3" stroke="#333333" stroke-width="1.6" />
<text x="1209.3" y="1562.9" font-size="21.5" fill="#4d4d4d" text-anchor="end">4.5</text>
<line x1="1217.3" y1="1505.2" x2="1222.8" y2="1505.2" stroke="#333333" stroke-width="1.6" />
<text x="1209.3" y="1512.8" font-size="21.5" fill="#4d4d4d" text-anchor="end">5.0</text>
<line x1="1280.6" y1="1766.2" x2="1280.6" y2="1771.7" stroke="#333333" stroke-width="1.6" />
<line x1="1377.6" y1="1766.2" x2="1377.6" y2="1771.7" stroke="#333333" stroke-width="1.6" />
<line x1="1474.7" y1="1766.2" x2="1474.7" y2="1771.7" stroke="#333333" stroke-width="1.6" />
<text x="1278.2" y="1795.0" font-size="19.6" fill="#7FF5F2" text-anchor="middle" font-weight="bold">BRCA1m</text>
<text x="1375.9" y="1795.0" font-size="19.6" fill="#3AA8A8" text-anchor="middle" font-weight="bold">BRCA2m</text>
<text x="1489.8" y="1795.0" font-size="19.6" fill="#4d4d4d" text-anchor="middle" font-weight="bold">Non−BRCAm</text>
<text x="1171.5" y="1620.5" font-size="22.3" text-anchor="middle" transform="rotate(-90 1171.5 1620.5)">log2(CPM <tspan font-style="italic">BRCA1</tspan>)</text>
<rect x="1382" y="1735.7" width="137.2" height="21.3" fill="#fff" stroke="#000" stroke-width="1.1"/>
<text x="1450.6" y="1752.5" font-size="17.5" text-anchor="middle">F-test Pval=0.28</text>
<text x="1570.0" y="1429.0" font-size="58.5" font-weight="bold">h</text>
<text x="1674.3" y="1466.3" font-size="26.5"><tspan font-style="italic">BRCA2</tspan> RNA Expression</text>
<rect x="1676" y="1480.6" width="309.79999999999995" height="285.4000000000001" fill="#fff"/>
<line x1="1676.0" y1="1720.5" x2="1985.8" y2="1720.5" stroke="#EBEBEB" stroke-width="1.1" />
<line x1="1676.0" y1="1666.0" x2="1985.8" y2="1666.0" stroke="#EBEBEB" stroke-width="1.1" />
<line x1="1676.0" y1="1611.5" x2="1985.8" y2="1611.5" stroke="#EBEBEB" stroke-width="1.1" />
<line x1="1676.0" y1="1557.0" x2="1985.8" y2="1557.0" stroke="#EBEBEB" stroke-width="1.1" />
<line x1="1676.0" y1="1502.5" x2="1985.8" y2="1502.5" stroke="#EBEBEB" stroke-width="1.1" />
<line x1="1676.0" y1="1747.8" x2="1985.8" y2="1747.8" stroke="#EBEBEB" stroke-width="2.0" />
<line x1="1676.0" y1="1693.3" x2="1985.8" y2="1693.3" stroke="#EBEBEB" stroke-width="2.0" />
<line x1="1676.0" y1="1638.8" x2="1985.8" y2="1638.8" stroke="#EBEBEB" stroke-width="2.0" />
<line x1="1676.0" y1="1584.3" x2="1985.8" y2="1584.3" stroke="#EBEBEB" stroke-width="2.0" />
<line x1="1676.0" y1="1529.8" x2="1985.8" y2="1529.8" stroke="#EBEBEB" stroke-width="2.0" />
<line x1="1734.0" y1="1480.6" x2="1734.0" y2="1766.0" stroke="#EBEBEB" stroke-width="2.0" />
<line x1="1831.0" y1="1480.6" x2="1831.0" y2="1766.0" stroke="#EBEBEB" stroke-width="2.0" />
<line x1="1928.0" y1="1480.6" x2="1928.0" y2="1766.0" stroke="#EBEBEB" stroke-width="2.0" />
<line x1="1734.0" y1="1492.9" x2="1734.0" y2="1579.6" stroke="#333333" stroke-width="1.9" />
<line x1="1734.0" y1="1641.5" x2="1734.0" y2="1729.2" stroke="#333333" stroke-width="1.9" />
<rect x="1697.1" y="1579.6" width="73.7" height="61.9" fill="#fff" stroke="#333333" stroke-width="1.9"/>
<line x1="1697.1" y1="1603.7" x2="1770.8" y2="1603.7" stroke="#333333" stroke-width="4.0" />
<line x1="1831.0" y1="1569.0" x2="1831.0" y2="1594.8" stroke="#333333" stroke-width="1.9" />
<line x1="1831.0" y1="1664.1" x2="1831.0" y2="1716.4" stroke="#333333" stroke-width="1.9" />
<rect x="1794.2" y="1594.8" width="73.7" height="69.3" fill="#fff" stroke="#333333" stroke-width="1.9"/>
<line x1="1794.2" y1="1638.5" x2="1867.9" y2="1638.5" stroke="#333333" stroke-width="4.0" />
<line x1="1928.0" y1="1535.1" x2="1928.0" y2="1594.1" stroke="#333333" stroke-width="1.9" />
<line x1="1928.0" y1="1658.0" x2="1928.0" y2="1752.6" stroke="#333333" stroke-width="1.9" />
<rect x="1891.2" y="1594.1" width="73.7" height="63.9" fill="#fff" stroke="#333333" stroke-width="1.9"/>
<line x1="1891.2" y1="1623.8" x2="1964.9" y2="1623.8" stroke="#333333" stroke-width="4.0" />
<path fill="#333" d=""/>
<path fill="#000" d="M1729.8 1492.9a5.1 5.1 0 1 0 10.2 0a5.1 5.1 0 1 0 -10.2 0M1728.9 1542.0a5.1 5.1 0 1 0 10.2 0a5.1 5.1 0 1 0 -10.2 0M1726.9 1559.2a5.1 5.1 0 1 0 10.2 0a5.1 5.1 0 1 0 -10.2 0M1717.1 1569.5a5.1 5.1 0 1 0 10.2 0a5.1 5.1 0 1 0 -10.2 0M1736.7 1578.8a5.1 5.1 0 1 0 10.2 0a5.1 5.1 0 1 0 -10.2 0M1741.6 1582.5a5.1 5.1 0 1 0 10.2 0a5.1 5.1 0 1 0 -10.2 0M1723.2 1594.8a5.1 5.1 0 1 0 10.2 0a5.1 5.1 0 1 0 -10.2 0M1734.3 1599.7a5.1 5.1 0 1 0 10.2 0a5.1 5.1 0 1 0 -10.2 0M1726.9 1602.2a5.1 5.1 0 1 0 10.2 0a5.1 5.1 0 1 0 -10.2 0M1735.5 1604.6a5.1 5.1 0 1 0 10.2 0a5.1 5.1 0 1 0 -10.2 0M1724.9 1610.8a5.1 5.1 0 1 0 10.2 0a5.1 5.1 0 1 0 -10.2 0M1728.1 1624.3a5.1 5.1 0 1 0 10.2 0a5.1 5.1 0 1 0 -10.2 0M1737.9 1629.2a5.1 5.1 0 1 0 10.2 0a5.1 5.1 0 1 0 -10.2 0M1731.3 1632.9a5.1 5.1 0 1 0 10.2 0a5.1 5.1 0 1 0 -10.2 0M1723.9 1642.7a5.1 5.1 0 1 0 10.2 0a5.1 5.1 0 1 0 -10.2 0M1720.7 1646.4a5.1 5.1 0 1 0 10.2 0a5.1 5.1 0 1 0 -10.2 0M1714.6 1655.0a5.1 5.1 0 1 0 10.2 0a5.1 5.1 0 1 0 -10.2 0M1719.5 1655.0a5.1 5.1 0 1 0 10.2 0a5.1 5.1 0 1 0 -10.2 0M1737.9 1673.4a5.1 5.1 0 1 0 10.2 0a5.1 5.1 0 1 0 -10.2 0M1726.4 1729.2a5.1 5.1 0 1 0 10.2 0a5.1 5.1 0 1 0 -10.2 0M1829.3 1562.9a5.1 5.1 0 1 0 10.2 0a5.1 5.1 0 1 0 -10.2 0M1831.3 1572.0a5.1 5.1 0 1 0 10.2 0a5.1 5.1 0 1 0 -10.2 0M1821.5 1587.4a5.1 5.1 0 1 0 10.2 0a5.1 5.1 0 1 0 -10.2 0M1825.2 1586.2a5.1 5.1 0 1 0 10.2 0a5.1 5.1 0 1 0 -10.2 0M1839.2 1587.4a5.1 5.1 0 1 0 10.2 0a5.1 5.1 0 1 0 -10.2 0M1813.4 1604.2a5.1 5.1 0 1 0 10.2 0a5.1 5.1 0 1 0 -10.2 0M1827.6 1602.2a5.1 5.1 0 1 0 10.2 0a5.1 5.1 0 1 0 -10.2 0M1828.1 1618.6a5.1 5.1 0 1 0 10.2 0a5.1 5.1 0 1 0 -10.2 0M1826.4 1632.4a5.1 5.1 0 1 0 10.2 0a5.1 5.1 0 1 0 -10.2 0M1832.0 1638.3a5.1 5.1 0 1 0 10.2 0a5.1 5.1 0 1 0 -10.2 0M1838.7 1641.5a5.1 5.1 0 1 0 10.2 0a5.1 5.1 0 1 0 -10.2 0M1830.1 1647.1a5.1 5.1 0 1 0 10.2 0a5.1 5.1 0 1 0 -10.2 0M1821.5 1656.7a5.1 5.1 0 1 0 10.2 0a5.1 5.1 0 1 0 -10.2 0M1837.0 1657.5a5.1 5.1 0 1 0 10.2 0a5.1 5.1 0 1 0 -10.2 0M1814.9 1671.0a5.1 5.1 0 1 0 10.2 0a5.1 5.1 0 1 0 -10.2 0M1810.9 1675.9a5.1 5.1 0 1 0 10.2 0a5.1 5.1 0 1 0 -10.2 0M1819.8 1680.8a5.1 5.1 0 1 0 10.2 0a5.1 5.1 0 1 0 -10.2 0M1835.0 1680.8a5.1 5.1 0 1 0 10.2 0a5.1 5.1 0 1 0 -10.2 0M1827.1 1716.4a5.1 5.1 0 1 0 10.2 0a5.1 5.1 0 1 0 -10.2 0M1923.0 1535.1a5.1 5.1 0 1 0 10.2 0a5.1 5.1 0 1 0 -10.2 0M1912.4 1554.8a5.1 5.1 0 1 0 10.2 0a5.1 5.1 0 1 0 -10.2 0M1933.3 1554.8a5.1 5.1 0 1 0 10.2 0a5.1 5.1 0 1 0 -10.2 0M1913.6 1561.6a5.1 5.1 0 1 0 10.2 0a5.1 5.1 0 1 0 -10.2 0M1929.6 1560.4a5.1 5.1 0 1 0 10.2 0a5.1 5.1 0 1 0 -10.2 0M1912.4 1567.8a5.1 5.1 0 1 0 10.2 0a5.1 5.1 0 1 0 -10.2 0M1930.8 1567.8a5.1 5.1 0 1 0 10.2 0a5.1 5.1 0 1 0 -10.2 0M1934.5 1573.9a5.1 5.1 0 1 0 10.2 0a5.1 5.1 0 1 0 -10.2 0M1933.3 1577.6a5.1 5.1 0 1 0 10.2 0a5.1 5.1 0 1 0 -10.2 0M1924.7 1586.2a5.1 5.1 0 1 0 10.2 0a5.1 5.1 0 1 0 -10.2 0M1935.7 1588.7a5.1 5.1 0 1 0 10.2 0a5.1 5.1 0 1 0 -10.2 0M1932.0 1594.1a5.1 5.1 0 1 0 10.2 0a5.1 5.1 0 1 0 -10.2 0M1917.3 1602.2a5.1 5.1 0 1 0 10.2 0a5.1 5.1 0 1 0 -10.2 0M1908.7 1607.1a5.1 5.1 0 1 0 10.2 0a5.1 5.1 0 1 0 -10.2 0M1923.5 1609.6a5.1 5.1 0 1 0 10.2 0a5.1 5.1 0 1 0 -10.2 0M1935.7 1607.1a5.1 5.1 0 1 0 10.2 0a5.1 5.1 0 1 0 -10.2 0M1930.8 1612.0a5.1 5.1 0 1 0 10.2 0a5.1 5.1 0 1 0 -10.2 0M1916.1 1619.4a5.1 5.1 0 1 0 10.2 0a5.1 5.1 0 1 0 -10.2 0M1924.7 1615.7a5.1 5.1 0 1 0 10.2 0a5.1 5.1 0 1 0 -10.2 0M1928.4 1623.1a5.1 5.1 0 1 0 10.2 0a5.1 5.1 0 1 0 -10.2 0M1909.9 1626.8a5.1 5.1 0 1 0 10.2 0a5.1 5.1 0 1 0 -10.2 0M1908.7 1631.7a5.1 5.1 0 1 0 10.2 0a5.1 5.1 0 1 0 -10.2 0M1918.5 1635.4a5.1 5.1 0 1 0 10.2 0a5.1 5.1 0 1 0 -10.2 0M1930.8 1635.4a5.1 5.1 0 1 0 10.2 0a5.1 5.1 0 1 0 -10.2 0M1934.5 1640.3a5.1 5.1 0 1 0 10.2 0a5.1 5.1 0 1 0 -10.2 0M1916.1 1652.6a5.1 5.1 0 1 0 10.2 0a5.1 5.1 0 1 0 -10.2 0M1929.6 1650.1a5.1 5.1 0 1 0 10.2 0a5.1 5.1 0 1 0 -10.2 0M1912.4 1658.7a5.1 5.1 0 1 0 10.2 0a5.1 5.1 0 1 0 -10.2 0M1923.5 1656.2a5.1 5.1 0 1 0 10.2 0a5.1 5.1 0 1 0 -10.2 0M1927.1 1659.9a5.1 5.1 0 1 0 10.2 0a5.1 5.1 0 1 0 -10.2 0M1908.7 1669.3a5.1 5.1 0 1 0 10.2 0a5.1 5.1 0 1 0 -10.2 0M1923.5 1669.3a5.1 5.1 0 1 0 10.2 0a5.1 5.1 0 1 0 -10.2 0M1923.5 1682.0a5.1 5.1 0 1 0 10.2 0a5.1 5.1 0 1 0 -10.2 0M1937.0 1680.8a5.1 5.1 0 1 0 10.2 0a5.1 5.1 0 1 0 -10.2 0M1909.9 1689.4a5.1 5.1 0 1 0 10.2 0a5.1 5.1 0 1 0 -10.2 0M1923.5 1699.2a5.1 5.1 0 1 0 10.2 0a5.1 5.1 0 1 0 -10.2 0M1918.5 1702.9a5.1 5.1 0 1 0 10.2 0a5.1 5.1 0 1 0 -10.2 0M1914.9 1709.1a5.1 5.1 0 1 0 10.2 0a5.1 5.1 0 1 0 -10.2 0M1935.7 1706.6a5.1 5.1 0 1 0 10.2 0a5.1 5.1 0 1 0 -10.2 0M1923.0 1725.0a5.1 5.1 0 1 0 10.2 0a5.1 5.1 0 1 0 -10.2 0M1934.5 1753.3a5.1 5.1 0 1 0 10.2 0a5.1 5.1 0 1 0 -10.2 0"/>
<rect x="1676" y="1480.6" width="309.79999999999995" height="285.4000000000001" fill="none" stroke="#333333" stroke-width="1.5"/>
<line x1="1670.5" y1="1747.8" x2="1676.0" y2="1747.8" stroke="#333333" stroke-width="1.6" />
<text x="1662.0" y="1755.4" font-size="21.5" fill="#4d4d4d" text-anchor="end">2.5</text>
<line x1="1670.5" y1="1693.3" x2="1676.0" y2="1693.3" stroke="#333333" stroke-width="1.6" />
<text x="1662.0" y="1700.9" font-size="21.5" fill="#4d4d4d" text-anchor="end">3.0</text>
<line x1="1670.5" y1="1638.8" x2="1676.0" y2="1638.8" stroke="#333333" stroke-width="1.6" />
<text x="1662.0" y="1646.4" font-size="21.5" fill="#4d4d4d" text-anchor="end">3.5</text>
<line x1="1670.5" y1="1584.3" x2="1676.0" y2="1584.3" stroke="#333333" stroke-width="1.6" />
<text x="1662.0" y="1591.9" font-size="21.5" fill="#4d4d4d" text-anchor="end">4.0</text>
<line x1="1670.5" y1="1529.8" x2="1676.0" y2="1529.8" stroke="#333333" stroke-width="1.6" />
<text x="1662.0" y="1537.4" font-size="21.5" fill="#4d4d4d" text-anchor="end">4.5</text>
<line x1="1734.0" y1="1766.0" x2="1734.0" y2="1771.5" stroke="#333333" stroke-width="1.6" />
<line x1="1831.0" y1="1766.0" x2="1831.0" y2="1771.5" stroke="#333333" stroke-width="1.6" />
<line x1="1928.0" y1="1766.0" x2="1928.0" y2="1771.5" stroke="#333333" stroke-width="1.6" />
<text x="1729.8" y="1795.0" font-size="19.6" fill="#7FF5F2" text-anchor="middle" font-weight="bold">BRCA1m</text>
<text x="1827.4" y="1795.0" font-size="19.6" fill="#3AA8A8" text-anchor="middle" font-weight="bold">BRCA2m</text>
<text x="1941.0" y="1795.0" font-size="19.6" fill="#4d4d4d" text-anchor="middle" font-weight="bold">Non−BRCAm</text>
<text x="1621" y="1620.5" font-size="22.3" text-anchor="middle" transform="rotate(-90 1621 1620.5)">log2(CPM <tspan font-style="italic">BRCA2</tspan>)</text>
<rect x="1837.6" y="1487.4" width="137.6" height="20.7" fill="#fff" stroke="#000" stroke-width="1.1"/>
<text x="1906.4" y="1503.6" font-size="17.5" text-anchor="middle">F-test Pval=0.20</text>
<line x1="1928.0" y1="1797.0" x2="1928.0" y2="1803.0" stroke="#333" stroke-width="1.2" />
</svg></body></html>
